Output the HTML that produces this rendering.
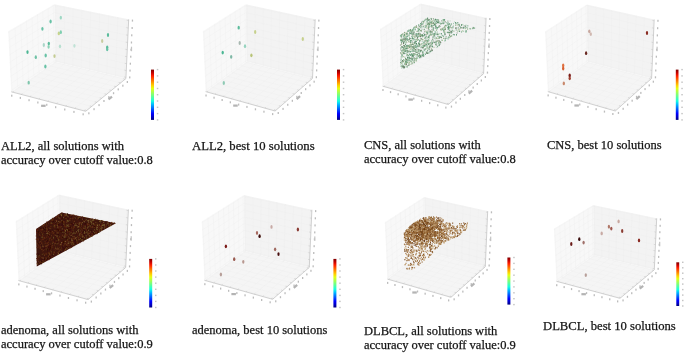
<!DOCTYPE html><html><head><meta charset="utf-8"><style>
html,body{margin:0;padding:0;background:#fff;width:685px;height:353px;overflow:hidden}
svg{position:absolute;left:0;top:0}
.c{position:absolute;will-change:transform;font-family:"Liberation Serif",serif;font-size:12.5px;line-height:14.4px;color:#151515;white-space:pre;-webkit-text-stroke:0.25px #151515}
</style></head><body>
<svg width="685" height="353" viewBox="0 0 685 353">
<defs><linearGradient id="jet" x1="0" y1="1" x2="0" y2="0"><stop offset="0.0000" stop-color="#00007f"/><stop offset="0.0625" stop-color="#0000c8"/><stop offset="0.1250" stop-color="#0000ff"/><stop offset="0.1875" stop-color="#0040ff"/><stop offset="0.2500" stop-color="#0080ff"/><stop offset="0.3125" stop-color="#00c0ff"/><stop offset="0.3750" stop-color="#15ffe1"/><stop offset="0.4375" stop-color="#49ffad"/><stop offset="0.5000" stop-color="#7cff79"/><stop offset="0.5625" stop-color="#b0ff46"/><stop offset="0.6250" stop-color="#e4ff12"/><stop offset="0.6875" stop-color="#ffcf00"/><stop offset="0.7500" stop-color="#ff9400"/><stop offset="0.8125" stop-color="#ff5900"/><stop offset="0.8750" stop-color="#ff1d00"/><stop offset="0.9375" stop-color="#c30000"/><stop offset="1.0000" stop-color="#7f0000"/></linearGradient><filter id="bl" x="-5%" y="-5%" width="110%" height="110%"><feGaussianBlur stdDeviation="0.35"/></filter></defs>
<polygon points="11.2,91.8 54.9,61.7 54.2,4.2 8.1,31.3" fill="#f8f8f8"/>
<polygon points="54.9,61.7 125.9,78.6 128.7,19.3 54.2,4.2" fill="#f3f3f3"/>
<polygon points="11.2,91.8 85.7,111.3 125.9,78.6 54.9,61.7" fill="#f5f5f5"/>
<g stroke="#ececec" stroke-width="0.25"><line x1="12.1" y1="91.1" x2="9.1" y2="30.7" /><line x1="11.1" y1="90.6" x2="54.9" y2="60.6" /><line x1="56.3" y1="62.1" x2="55.7" y2="4.5" /><line x1="54.9" y1="60.6" x2="125.9" y2="77.4" /><line x1="12.6" y1="92.2" x2="56.3" y2="62.1" /><line x1="12.1" y1="91.1" x2="86.6" y2="110.5" /><line x1="17.7" y1="87.3" x2="15" y2="27.2" /><line x1="10.7" y1="83.7" x2="54.8" y2="54" /><line x1="64.5" y1="64" x2="64.3" y2="6.2" /><line x1="54.8" y1="54" x2="126.3" y2="70.6" /><line x1="21.2" y1="94.4" x2="64.5" y2="64" /><line x1="17.7" y1="87.3" x2="91.7" y2="106.4" /><line x1="23.2" y1="83.5" x2="20.8" y2="23.8" /><line x1="10.4" y1="76.6" x2="54.7" y2="47.3" /><line x1="72.8" y1="66" x2="73" y2="8" /><line x1="54.7" y1="47.3" x2="126.6" y2="63.7" /><line x1="29.9" y1="96.7" x2="72.8" y2="66" /><line x1="23.2" y1="83.5" x2="96.8" y2="102.3" /><line x1="28.5" y1="79.9" x2="26.5" y2="20.5" /><line x1="10" y1="69.5" x2="54.6" y2="40.5" /><line x1="81.2" y1="68" x2="81.8" y2="9.8" /><line x1="54.6" y1="40.5" x2="126.9" y2="56.7" /><line x1="38.7" y1="99" x2="81.2" y2="68" /><line x1="28.5" y1="79.9" x2="101.7" y2="98.3" /><line x1="33.8" y1="76.2" x2="32" y2="17.2" /><line x1="9.7" y1="62.3" x2="54.5" y2="33.6" /><line x1="89.6" y1="70" x2="90.6" y2="11.6" /><line x1="54.5" y1="33.6" x2="127.3" y2="49.7" /><line x1="47.6" y1="101.3" x2="89.6" y2="70" /><line x1="33.8" y1="76.2" x2="106.5" y2="94.3" /><line x1="39" y1="72.7" x2="37.5" y2="14" /><line x1="9.3" y1="55" x2="54.4" y2="26.7" /><line x1="98.2" y1="72" x2="99.6" y2="13.4" /><line x1="54.4" y1="26.7" x2="127.6" y2="42.5" /><line x1="56.6" y1="103.7" x2="98.2" y2="72" /><line x1="39" y1="72.7" x2="111.3" y2="90.4" /><line x1="44.1" y1="69.2" x2="42.8" y2="10.9" /><line x1="8.9" y1="47.7" x2="54.4" y2="19.7" /><line x1="106.8" y1="74" x2="108.7" y2="15.3" /><line x1="54.4" y1="19.7" x2="128" y2="35.3" /><line x1="65.7" y1="106" x2="106.8" y2="74" /><line x1="44.1" y1="69.2" x2="116" y2="86.6" /><line x1="49.1" y1="65.7" x2="48.1" y2="7.8" /><line x1="8.6" y1="40.2" x2="54.3" y2="12.6" /><line x1="115.5" y1="76.1" x2="117.8" y2="17.1" /><line x1="54.3" y1="12.6" x2="128.3" y2="28" /><line x1="74.8" y1="108.4" x2="115.5" y2="76.1" /><line x1="49.1" y1="65.7" x2="120.6" y2="82.9" /><line x1="54" y1="62.3" x2="53.3" y2="4.7" /><line x1="8.2" y1="32.6" x2="54.2" y2="5.4" /><line x1="124.3" y1="78.2" x2="127.1" y2="19" /><line x1="54.2" y1="5.4" x2="128.7" y2="20.6" /><line x1="84.1" y1="110.9" x2="124.3" y2="78.2" /><line x1="54" y1="62.3" x2="125.1" y2="79.2" /></g>
<g stroke="#b4b4b4" stroke-width="0.6"><line x1="11.2" y1="91.8" x2="85.7" y2="111.3" /><line x1="85.7" y1="111.3" x2="125.9" y2="78.6" /><line x1="125.9" y1="78.6" x2="128.7" y2="19.3" /></g>
<g stroke="#c4c4c4" stroke-width="0.5"><line x1="12.6" y1="92.2" x2="13.8" y2="91.4" /><line x1="86.6" y1="110.5" x2="84.7" y2="110" /><line x1="125.9" y1="77.4" x2="124.1" y2="76.9" /><line x1="21.2" y1="94.4" x2="22.4" y2="93.6" /><line x1="91.7" y1="106.4" x2="89.8" y2="105.9" /><line x1="126.3" y1="70.6" x2="124.4" y2="70.1" /><line x1="29.9" y1="96.7" x2="31.1" y2="95.9" /><line x1="96.8" y1="102.3" x2="94.8" y2="101.8" /><line x1="126.6" y1="63.7" x2="124.7" y2="63.3" /><line x1="38.7" y1="99" x2="39.9" y2="98.2" /><line x1="101.7" y1="98.3" x2="99.8" y2="97.8" /><line x1="126.9" y1="56.7" x2="125" y2="56.3" /><line x1="47.6" y1="101.3" x2="48.7" y2="100.5" /><line x1="106.5" y1="94.3" x2="104.6" y2="93.8" /><line x1="127.3" y1="49.7" x2="125.4" y2="49.3" /><line x1="56.6" y1="103.7" x2="57.7" y2="102.8" /><line x1="111.3" y1="90.4" x2="109.4" y2="90" /><line x1="127.6" y1="42.5" x2="125.7" y2="42.1" /><line x1="65.7" y1="106" x2="66.8" y2="105.2" /><line x1="116" y1="86.6" x2="114.1" y2="86.2" /><line x1="128" y1="35.3" x2="126" y2="34.9" /><line x1="74.8" y1="108.4" x2="75.9" y2="107.6" /><line x1="120.6" y1="82.9" x2="118.7" y2="82.4" /><line x1="128.3" y1="28" x2="126.4" y2="27.6" /><line x1="84.1" y1="110.9" x2="85.2" y2="110" /><line x1="125.1" y1="79.2" x2="123.2" y2="78.8" /><line x1="128.7" y1="20.6" x2="126.7" y2="20.2" /></g>
<g fill="#bcbcbc"><rect x="11.1" y="94.7" width="1.3" height="2"/><rect x="88.2" y="112.3" width="1.3" height="2"/><rect x="129.1" y="76.4" width="1.3" height="2"/><rect x="19.7" y="96.9" width="1.3" height="2"/><rect x="93.4" y="108.2" width="1.3" height="2"/><rect x="129.4" y="69.6" width="1.3" height="2"/><rect x="28.4" y="99.2" width="1.3" height="2"/><rect x="98.4" y="104.1" width="1.3" height="2"/><rect x="129.7" y="62.7" width="1.3" height="2"/><rect x="37.2" y="101.5" width="1.3" height="2"/><rect x="103.3" y="100" width="1.3" height="2"/><rect x="130.1" y="55.7" width="1.3" height="2"/><rect x="46.1" y="103.8" width="1.3" height="2"/><rect x="108.2" y="96.1" width="1.3" height="2"/><rect x="130.4" y="48.7" width="1.3" height="2"/><rect x="55" y="106.2" width="1.3" height="2"/><rect x="112.9" y="92.2" width="1.3" height="2"/><rect x="130.8" y="41.5" width="1.3" height="2"/><rect x="64.1" y="108.5" width="1.3" height="2"/><rect x="117.6" y="88.4" width="1.3" height="2"/><rect x="131.1" y="34.3" width="1.3" height="2"/><rect x="73.3" y="110.9" width="1.3" height="2"/><rect x="122.2" y="84.7" width="1.3" height="2"/><rect x="131.5" y="27" width="1.3" height="2"/><rect x="82.5" y="113.3" width="1.3" height="2"/><rect x="126.7" y="81" width="1.3" height="2"/><rect x="131.8" y="19.6" width="1.3" height="2"/></g>
<rect x="41.1" y="104.7" width="4.5" height="2.2" fill="#b4b4b4"/>
<rect x="108" y="96.9" width="4.5" height="2.2" fill="#b4b4b4" transform="rotate(-39.2 110.3 98)"/>
<rect x="130.9" y="46.7" width="1.2" height="4.5" fill="#c4c4c4"/>
<polygon points="205.6,91.6 246.4,61.6 245.7,4.2 202.8,31.3" fill="#f8f8f8"/>
<polygon points="246.4,61.6 312.5,78.4 315.2,19.3 245.7,4.2" fill="#f3f3f3"/>
<polygon points="205.6,91.6 275.1,111 312.5,78.4 246.4,61.6" fill="#f5f5f5"/>
<g stroke="#ececec" stroke-width="0.25"><line x1="206.6" y1="90.9" x2="203.8" y2="30.7" /><line x1="205.6" y1="90.4" x2="246.4" y2="60.5" /><line x1="247.7" y1="62" x2="247.1" y2="4.5" /><line x1="246.4" y1="60.5" x2="312.6" y2="77.2" /><line x1="207" y1="92" x2="247.7" y2="62" /><line x1="206.6" y1="90.9" x2="275.9" y2="110.3" /><line x1="211.7" y1="87.1" x2="209.3" y2="27.2" /><line x1="205.3" y1="83.5" x2="246.3" y2="53.9" /><line x1="255.3" y1="63.9" x2="255.1" y2="6.3" /><line x1="246.3" y1="53.9" x2="312.9" y2="70.4" /><line x1="215" y1="94.2" x2="255.3" y2="63.9" /><line x1="211.7" y1="87.1" x2="280.7" y2="106.2" /><line x1="216.8" y1="83.4" x2="214.6" y2="23.8" /><line x1="204.9" y1="76.5" x2="246.2" y2="47.2" /><line x1="263.1" y1="65.9" x2="263.2" y2="8" /><line x1="246.2" y1="47.2" x2="313.2" y2="63.6" /><line x1="223.1" y1="96.5" x2="263.1" y2="65.9" /><line x1="216.8" y1="83.4" x2="285.4" y2="102.1" /><line x1="221.8" y1="79.7" x2="219.9" y2="20.5" /><line x1="204.6" y1="69.4" x2="246.1" y2="40.4" /><line x1="270.9" y1="67.8" x2="271.4" y2="9.8" /><line x1="246.1" y1="40.4" x2="313.5" y2="56.6" /><line x1="231.3" y1="98.8" x2="270.9" y2="67.8" /><line x1="221.8" y1="79.7" x2="290" y2="98.1" /><line x1="226.7" y1="76.1" x2="225.1" y2="17.2" /><line x1="204.3" y1="62.2" x2="246" y2="33.6" /><line x1="278.8" y1="69.8" x2="279.7" y2="11.6" /><line x1="246" y1="33.6" x2="313.8" y2="49.6" /><line x1="239.6" y1="101.1" x2="278.8" y2="69.8" /><line x1="226.7" y1="76.1" x2="294.5" y2="94.1" /><line x1="231.6" y1="72.5" x2="230.2" y2="14" /><line x1="203.9" y1="54.9" x2="246" y2="26.7" /><line x1="286.7" y1="71.9" x2="288.1" y2="13.4" /><line x1="246" y1="26.7" x2="314.1" y2="42.5" /><line x1="248" y1="103.5" x2="286.7" y2="71.9" /><line x1="231.6" y1="72.5" x2="298.9" y2="90.2" /><line x1="236.3" y1="69" x2="235.2" y2="10.9" /><line x1="203.6" y1="47.6" x2="245.9" y2="19.7" /><line x1="294.8" y1="73.9" x2="296.5" y2="15.3" /><line x1="245.9" y1="19.7" x2="314.4" y2="35.3" /><line x1="256.4" y1="105.8" x2="294.8" y2="73.9" /><line x1="236.3" y1="69" x2="303.3" y2="86.4" /><line x1="241" y1="65.6" x2="240.1" y2="7.8" /><line x1="203.2" y1="40.1" x2="245.8" y2="12.6" /><line x1="302.9" y1="76" x2="305" y2="17.1" /><line x1="245.8" y1="12.6" x2="314.8" y2="28" /><line x1="264.9" y1="108.2" x2="302.9" y2="76" /><line x1="241" y1="65.6" x2="307.6" y2="82.7" /><line x1="245.6" y1="62.2" x2="244.9" y2="4.7" /><line x1="202.9" y1="32.6" x2="245.7" y2="5.5" /><line x1="311.1" y1="78" x2="313.6" y2="19" /><line x1="245.7" y1="5.5" x2="315.1" y2="20.6" /><line x1="273.6" y1="110.6" x2="311.1" y2="78" /><line x1="245.6" y1="62.2" x2="311.8" y2="79" /></g>
<g stroke="#b4b4b4" stroke-width="0.6"><line x1="205.6" y1="91.6" x2="275.1" y2="111" /><line x1="275.1" y1="111" x2="312.5" y2="78.4" /><line x1="312.5" y1="78.4" x2="315.2" y2="19.3" /></g>
<g stroke="#c4c4c4" stroke-width="0.5"><line x1="207" y1="92" x2="208.1" y2="91.2" /><line x1="275.9" y1="110.3" x2="274.1" y2="109.8" /><line x1="312.6" y1="77.2" x2="310.8" y2="76.8" /><line x1="215" y1="94.2" x2="216.1" y2="93.4" /><line x1="280.7" y1="106.2" x2="278.9" y2="105.7" /><line x1="312.9" y1="70.4" x2="311.1" y2="70" /><line x1="223.1" y1="96.5" x2="224.2" y2="95.7" /><line x1="285.4" y1="102.1" x2="283.6" y2="101.6" /><line x1="313.2" y1="63.6" x2="311.4" y2="63.1" /><line x1="231.3" y1="98.8" x2="232.4" y2="98" /><line x1="290" y1="98.1" x2="288.2" y2="97.6" /><line x1="313.5" y1="56.6" x2="311.7" y2="56.2" /><line x1="239.6" y1="101.1" x2="240.7" y2="100.3" /><line x1="294.5" y1="94.1" x2="292.7" y2="93.6" /><line x1="313.8" y1="49.6" x2="312" y2="49.2" /><line x1="248" y1="103.5" x2="249" y2="102.6" /><line x1="298.9" y1="90.2" x2="297.2" y2="89.8" /><line x1="314.1" y1="42.5" x2="312.3" y2="42.1" /><line x1="256.4" y1="105.8" x2="257.4" y2="105" /><line x1="303.3" y1="86.4" x2="301.5" y2="86" /><line x1="314.4" y1="35.3" x2="312.7" y2="34.9" /><line x1="264.9" y1="108.2" x2="266" y2="107.3" /><line x1="307.6" y1="82.7" x2="305.8" y2="82.3" /><line x1="314.8" y1="28" x2="313" y2="27.6" /><line x1="273.6" y1="110.6" x2="274.6" y2="109.7" /><line x1="311.8" y1="79" x2="310.1" y2="78.6" /><line x1="315.1" y1="20.6" x2="313.3" y2="20.2" /></g>
<g fill="#bcbcbc"><rect x="205.4" y="94.5" width="1.3" height="2"/><rect x="277.6" y="112" width="1.3" height="2"/><rect x="315.7" y="76.2" width="1.3" height="2"/><rect x="213.4" y="96.7" width="1.3" height="2"/><rect x="282.4" y="107.9" width="1.3" height="2"/><rect x="316" y="69.4" width="1.3" height="2"/><rect x="221.5" y="99" width="1.3" height="2"/><rect x="287.1" y="103.8" width="1.3" height="2"/><rect x="316.3" y="62.6" width="1.3" height="2"/><rect x="229.7" y="101.3" width="1.3" height="2"/><rect x="291.7" y="99.8" width="1.3" height="2"/><rect x="316.6" y="55.6" width="1.3" height="2"/><rect x="238" y="103.6" width="1.3" height="2"/><rect x="296.2" y="95.8" width="1.3" height="2"/><rect x="316.9" y="48.6" width="1.3" height="2"/><rect x="246.3" y="105.9" width="1.3" height="2"/><rect x="300.6" y="92" width="1.3" height="2"/><rect x="317.3" y="41.5" width="1.3" height="2"/><rect x="254.8" y="108.3" width="1.3" height="2"/><rect x="305" y="88.2" width="1.3" height="2"/><rect x="317.6" y="34.3" width="1.3" height="2"/><rect x="263.3" y="110.7" width="1.3" height="2"/><rect x="309.3" y="84.4" width="1.3" height="2"/><rect x="317.9" y="27" width="1.3" height="2"/><rect x="272" y="113.1" width="1.3" height="2"/><rect x="313.5" y="80.7" width="1.3" height="2"/><rect x="318.2" y="19.6" width="1.3" height="2"/></g>
<rect x="233.2" y="104.5" width="4.5" height="2.2" fill="#b4b4b4"/>
<rect x="296.1" y="96.6" width="4.5" height="2.2" fill="#b4b4b4" transform="rotate(-41.1 298.3 97.7)"/>
<rect x="317.4" y="46.6" width="1.2" height="4.5" fill="#c4c4c4"/>
<polygon points="382.6,86.2 421.1,57.8 420.5,3.5 379.9,29.1" fill="#f8f8f8"/>
<polygon points="421.1,57.8 483.6,73.7 486.1,17.8 420.5,3.5" fill="#f3f3f3"/>
<polygon points="382.6,86.2 448.3,104.5 483.6,73.7 421.1,57.8" fill="#f5f5f5"/>
<g stroke="#ececec" stroke-width="0.25"><line x1="383.5" y1="85.5" x2="380.8" y2="28.5" /><line x1="382.6" y1="85" x2="421.1" y2="56.7" /><line x1="422.4" y1="58.1" x2="421.8" y2="3.8" /><line x1="421.1" y1="56.7" x2="483.7" y2="72.6" /><line x1="383.9" y1="86.5" x2="422.4" y2="58.1" /><line x1="383.5" y1="85.5" x2="449.1" y2="103.8" /><line x1="388.4" y1="81.9" x2="386" y2="25.3" /><line x1="382.3" y1="78.5" x2="421" y2="50.5" /><line x1="429.6" y1="60" x2="429.4" y2="5.5" /><line x1="421" y1="50.5" x2="484" y2="66.1" /><line x1="391.5" y1="88.6" x2="429.6" y2="60" /><line x1="388.4" y1="81.9" x2="453.6" y2="99.9" /><line x1="393.2" y1="78.4" x2="391.1" y2="22.1" /><line x1="381.9" y1="71.9" x2="421" y2="44.1" /><line x1="436.9" y1="61.8" x2="437" y2="7.1" /><line x1="421" y1="44.1" x2="484.3" y2="59.7" /><line x1="399.2" y1="90.8" x2="436.9" y2="61.8" /><line x1="393.2" y1="78.4" x2="458" y2="96" /><line x1="397.9" y1="74.9" x2="396.1" y2="18.9" /><line x1="381.6" y1="65.1" x2="420.9" y2="37.8" /><line x1="444.3" y1="63.7" x2="444.8" y2="8.8" /><line x1="420.9" y1="37.8" x2="484.6" y2="53.1" /><line x1="406.9" y1="93" x2="444.3" y2="63.7" /><line x1="397.9" y1="74.9" x2="462.3" y2="92.3" /><line x1="402.5" y1="71.5" x2="401" y2="15.8" /><line x1="381.3" y1="58.4" x2="420.8" y2="31.3" /><line x1="451.7" y1="65.6" x2="452.6" y2="10.5" /><line x1="420.8" y1="31.3" x2="484.9" y2="46.4" /><line x1="414.7" y1="95.1" x2="451.7" y2="65.6" /><line x1="402.5" y1="71.5" x2="466.6" y2="88.5" /><line x1="407.1" y1="68.1" x2="405.8" y2="12.8" /><line x1="381" y1="51.5" x2="420.7" y2="24.8" /><line x1="459.3" y1="67.5" x2="460.5" y2="12.2" /><line x1="420.7" y1="24.8" x2="485.2" y2="39.7" /><line x1="422.6" y1="97.4" x2="459.3" y2="67.5" /><line x1="407.1" y1="68.1" x2="470.8" y2="84.9" /><line x1="411.6" y1="64.8" x2="410.5" y2="9.8" /><line x1="380.7" y1="44.5" x2="420.7" y2="18.1" /><line x1="466.9" y1="69.4" x2="468.5" y2="14" /><line x1="420.7" y1="18.1" x2="485.5" y2="32.9" /><line x1="430.6" y1="99.6" x2="466.9" y2="69.4" /><line x1="411.6" y1="64.8" x2="474.9" y2="81.3" /><line x1="416" y1="61.5" x2="415.1" y2="6.9" /><line x1="380.3" y1="37.5" x2="420.6" y2="11.5" /><line x1="474.5" y1="71.4" x2="476.6" y2="15.7" /><line x1="420.6" y1="11.5" x2="485.8" y2="26" /><line x1="438.7" y1="101.9" x2="474.5" y2="71.4" /><line x1="416" y1="61.5" x2="479" y2="77.7" /><line x1="420.4" y1="58.3" x2="419.7" y2="4" /><line x1="380" y1="30.4" x2="420.5" y2="4.7" /><line x1="482.3" y1="73.3" x2="484.7" y2="17.5" /><line x1="420.5" y1="4.7" x2="486.1" y2="19" /><line x1="446.8" y1="104.1" x2="482.3" y2="73.3" /><line x1="420.4" y1="58.3" x2="482.9" y2="74.3" /></g>
<g stroke="#b4b4b4" stroke-width="0.6"><line x1="382.6" y1="86.2" x2="448.3" y2="104.5" /><line x1="448.3" y1="104.5" x2="483.6" y2="73.7" /><line x1="483.6" y1="73.7" x2="486.1" y2="17.8" /></g>
<g stroke="#c4c4c4" stroke-width="0.5"><line x1="383.9" y1="86.5" x2="385" y2="85.8" /><line x1="449.1" y1="103.8" x2="447.3" y2="103.4" /><line x1="483.7" y1="72.6" x2="482" y2="72.2" /><line x1="391.5" y1="88.6" x2="392.5" y2="87.9" /><line x1="453.6" y1="99.9" x2="451.9" y2="99.4" /><line x1="484" y1="66.1" x2="482.3" y2="65.7" /><line x1="399.2" y1="90.8" x2="400.2" y2="90" /><line x1="458" y1="96" x2="456.3" y2="95.6" /><line x1="484.3" y1="59.7" x2="482.6" y2="59.2" /><line x1="406.9" y1="93" x2="407.9" y2="92.2" /><line x1="462.3" y1="92.3" x2="460.7" y2="91.8" /><line x1="484.6" y1="53.1" x2="482.9" y2="52.7" /><line x1="414.7" y1="95.1" x2="415.7" y2="94.4" /><line x1="466.6" y1="88.5" x2="464.9" y2="88.1" /><line x1="484.9" y1="46.4" x2="483.2" y2="46" /><line x1="422.6" y1="97.4" x2="423.6" y2="96.6" /><line x1="470.8" y1="84.9" x2="469.1" y2="84.4" /><line x1="485.2" y1="39.7" x2="483.5" y2="39.3" /><line x1="430.6" y1="99.6" x2="431.6" y2="98.8" /><line x1="474.9" y1="81.3" x2="473.3" y2="80.8" /><line x1="485.5" y1="32.9" x2="483.8" y2="32.5" /><line x1="438.7" y1="101.9" x2="439.6" y2="101" /><line x1="479" y1="77.7" x2="477.3" y2="77.3" /><line x1="485.8" y1="26" x2="484.1" y2="25.6" /><line x1="446.8" y1="104.1" x2="447.8" y2="103.3" /><line x1="482.9" y1="74.3" x2="481.3" y2="73.9" /><line x1="486.1" y1="19" x2="484.4" y2="18.7" /></g>
<g fill="#bcbcbc"><rect x="382.3" y="89" width="1.3" height="2"/><rect x="450.8" y="105.6" width="1.3" height="2"/><rect x="486.8" y="71.6" width="1.3" height="2"/><rect x="389.9" y="91.1" width="1.3" height="2"/><rect x="455.3" y="101.6" width="1.3" height="2"/><rect x="487.1" y="65.1" width="1.3" height="2"/><rect x="397.5" y="93.3" width="1.3" height="2"/><rect x="459.7" y="97.8" width="1.3" height="2"/><rect x="487.4" y="58.7" width="1.3" height="2"/><rect x="405.3" y="95.4" width="1.3" height="2"/><rect x="464.1" y="94" width="1.3" height="2"/><rect x="487.7" y="52.1" width="1.3" height="2"/><rect x="413.1" y="97.6" width="1.3" height="2"/><rect x="468.3" y="90.2" width="1.3" height="2"/><rect x="488" y="45.4" width="1.3" height="2"/><rect x="421" y="99.8" width="1.3" height="2"/><rect x="472.5" y="86.6" width="1.3" height="2"/><rect x="488.3" y="38.7" width="1.3" height="2"/><rect x="429" y="102.1" width="1.3" height="2"/><rect x="476.6" y="83" width="1.3" height="2"/><rect x="488.6" y="31.9" width="1.3" height="2"/><rect x="437.1" y="104.3" width="1.3" height="2"/><rect x="480.7" y="79.5" width="1.3" height="2"/><rect x="488.9" y="25" width="1.3" height="2"/><rect x="445.2" y="106.6" width="1.3" height="2"/><rect x="484.7" y="76" width="1.3" height="2"/><rect x="489.2" y="18" width="1.3" height="2"/></g>
<rect x="408.4" y="98.5" width="4.5" height="2.2" fill="#b4b4b4"/>
<rect x="468.2" y="91" width="4.5" height="2.2" fill="#b4b4b4" transform="rotate(-41.1 470.4 92.1)"/>
<rect x="488.5" y="43.5" width="1.2" height="4.5" fill="#c4c4c4"/>
<polygon points="547.8,91.6 587.3,61.7 586.7,4.5 545,31.4" fill="#f8f8f8"/>
<polygon points="587.3,61.7 651.6,78.4 654.2,19.5 586.7,4.5" fill="#f3f3f3"/>
<polygon points="547.8,91.6 615.3,111 651.6,78.4 587.3,61.7" fill="#f5f5f5"/>
<g stroke="#ececec" stroke-width="0.25"><line x1="548.7" y1="90.9" x2="546" y2="30.8" /><line x1="547.7" y1="90.4" x2="587.3" y2="60.6" /><line x1="588.6" y1="62" x2="588.1" y2="4.8" /><line x1="587.3" y1="60.6" x2="651.7" y2="77.3" /><line x1="549.1" y1="92" x2="588.6" y2="62" /><line x1="548.7" y1="90.9" x2="616.1" y2="110.2" /><line x1="553.7" y1="87.1" x2="551.3" y2="27.4" /><line x1="547.4" y1="83.5" x2="587.3" y2="54" /><line x1="596.1" y1="64" x2="595.9" y2="6.5" /><line x1="587.3" y1="54" x2="652" y2="70.5" /><line x1="556.9" y1="94.2" x2="596.1" y2="64" /><line x1="553.7" y1="87.1" x2="620.7" y2="106.1" /><line x1="558.6" y1="83.4" x2="556.5" y2="24" /><line x1="547.1" y1="76.5" x2="587.2" y2="47.3" /><line x1="603.6" y1="65.9" x2="603.7" y2="8.3" /><line x1="587.2" y1="47.3" x2="652.3" y2="63.6" /><line x1="564.8" y1="96.5" x2="603.6" y2="65.9" /><line x1="558.6" y1="83.4" x2="625.3" y2="102" /><line x1="563.5" y1="79.7" x2="561.6" y2="20.7" /><line x1="546.8" y1="69.4" x2="587.1" y2="40.6" /><line x1="611.2" y1="67.9" x2="611.7" y2="10.1" /><line x1="587.1" y1="40.6" x2="652.6" y2="56.7" /><line x1="572.7" y1="98.8" x2="611.2" y2="67.9" /><line x1="563.5" y1="79.7" x2="629.7" y2="98" /><line x1="568.3" y1="76.1" x2="566.7" y2="17.5" /><line x1="546.4" y1="62.3" x2="587" y2="33.8" /><line x1="618.8" y1="69.9" x2="619.7" y2="11.8" /><line x1="587" y1="33.8" x2="652.9" y2="49.7" /><line x1="580.8" y1="101.1" x2="618.8" y2="69.9" /><line x1="568.3" y1="76.1" x2="634.1" y2="94.1" /><line x1="573" y1="72.6" x2="571.6" y2="14.3" /><line x1="546.1" y1="55" x2="587" y2="26.9" /><line x1="626.6" y1="71.9" x2="627.9" y2="13.7" /><line x1="587" y1="26.9" x2="653.2" y2="42.6" /><line x1="588.9" y1="103.4" x2="626.6" y2="71.9" /><line x1="573" y1="72.6" x2="638.4" y2="90.2" /><line x1="577.6" y1="69.1" x2="576.4" y2="11.1" /><line x1="545.8" y1="47.7" x2="586.9" y2="19.9" /><line x1="634.4" y1="73.9" x2="636.1" y2="15.5" /><line x1="586.9" y1="19.9" x2="653.5" y2="35.4" /><line x1="597.1" y1="105.8" x2="634.4" y2="73.9" /><line x1="577.6" y1="69.1" x2="642.7" y2="86.4" /><line x1="582.1" y1="65.6" x2="581.2" y2="8" /><line x1="545.4" y1="40.3" x2="586.8" y2="12.8" /><line x1="642.3" y1="76" x2="644.4" y2="17.3" /><line x1="586.8" y1="12.8" x2="653.8" y2="28.2" /><line x1="605.4" y1="108.1" x2="642.3" y2="76" /><line x1="582.1" y1="65.6" x2="646.8" y2="82.7" /><line x1="586.6" y1="62.3" x2="585.9" y2="5" /><line x1="545.1" y1="32.8" x2="586.7" y2="5.7" /><line x1="650.2" y1="78.1" x2="652.7" y2="19.2" /><line x1="586.7" y1="5.7" x2="654.1" y2="20.8" /><line x1="613.8" y1="110.5" x2="650.2" y2="78.1" /><line x1="586.6" y1="62.3" x2="650.9" y2="79.1" /></g>
<g stroke="#b4b4b4" stroke-width="0.6"><line x1="547.8" y1="91.6" x2="615.3" y2="111" /><line x1="615.3" y1="111" x2="651.6" y2="78.4" /><line x1="651.6" y1="78.4" x2="654.2" y2="19.5" /></g>
<g stroke="#c4c4c4" stroke-width="0.5"><line x1="549.1" y1="92" x2="550.2" y2="91.2" /><line x1="616.1" y1="110.2" x2="614.3" y2="109.7" /><line x1="651.7" y1="77.3" x2="650" y2="76.8" /><line x1="556.9" y1="94.2" x2="558" y2="93.4" /><line x1="620.7" y1="106.1" x2="619" y2="105.6" /><line x1="652" y1="70.5" x2="650.3" y2="70.1" /><line x1="564.8" y1="96.5" x2="565.8" y2="95.7" /><line x1="625.3" y1="102" x2="623.5" y2="101.5" /><line x1="652.3" y1="63.6" x2="650.6" y2="63.2" /><line x1="572.7" y1="98.8" x2="573.8" y2="97.9" /><line x1="629.7" y1="98" x2="628" y2="97.5" /><line x1="652.6" y1="56.7" x2="650.9" y2="56.3" /><line x1="580.8" y1="101.1" x2="581.8" y2="100.2" /><line x1="634.1" y1="94.1" x2="632.4" y2="93.6" /><line x1="652.9" y1="49.7" x2="651.2" y2="49.3" /><line x1="588.9" y1="103.4" x2="589.9" y2="102.6" /><line x1="638.4" y1="90.2" x2="636.7" y2="89.8" /><line x1="653.2" y1="42.6" x2="651.5" y2="42.2" /><line x1="597.1" y1="105.8" x2="598.1" y2="104.9" /><line x1="642.7" y1="86.4" x2="641" y2="86" /><line x1="653.5" y1="35.4" x2="651.8" y2="35" /><line x1="605.4" y1="108.1" x2="606.4" y2="107.3" /><line x1="646.8" y1="82.7" x2="645.1" y2="82.3" /><line x1="653.8" y1="28.2" x2="652.1" y2="27.8" /><line x1="613.8" y1="110.5" x2="614.8" y2="109.7" /><line x1="650.9" y1="79.1" x2="649.2" y2="78.6" /><line x1="654.1" y1="20.8" x2="652.4" y2="20.4" /></g>
<g fill="#bcbcbc"><rect x="547.5" y="94.4" width="1.3" height="2"/><rect x="617.8" y="111.9" width="1.3" height="2"/><rect x="654.8" y="76.3" width="1.3" height="2"/><rect x="555.3" y="96.7" width="1.3" height="2"/><rect x="622.5" y="107.8" width="1.3" height="2"/><rect x="655.1" y="69.5" width="1.3" height="2"/><rect x="563.1" y="98.9" width="1.3" height="2"/><rect x="627" y="103.7" width="1.3" height="2"/><rect x="655.4" y="62.6" width="1.3" height="2"/><rect x="571.1" y="101.2" width="1.3" height="2"/><rect x="631.5" y="99.7" width="1.3" height="2"/><rect x="655.7" y="55.7" width="1.3" height="2"/><rect x="579.1" y="103.5" width="1.3" height="2"/><rect x="635.9" y="95.8" width="1.3" height="2"/><rect x="656" y="48.7" width="1.3" height="2"/><rect x="587.3" y="105.9" width="1.3" height="2"/><rect x="640.2" y="91.9" width="1.3" height="2"/><rect x="656.3" y="41.6" width="1.3" height="2"/><rect x="595.5" y="108.2" width="1.3" height="2"/><rect x="644.4" y="88.1" width="1.3" height="2"/><rect x="656.7" y="34.4" width="1.3" height="2"/><rect x="603.8" y="110.6" width="1.3" height="2"/><rect x="648.6" y="84.4" width="1.3" height="2"/><rect x="657" y="27.2" width="1.3" height="2"/><rect x="612.2" y="113" width="1.3" height="2"/><rect x="652.7" y="80.7" width="1.3" height="2"/><rect x="657.3" y="19.8" width="1.3" height="2"/></g>
<rect x="574.4" y="104.4" width="4.5" height="2.2" fill="#b4b4b4"/>
<rect x="635.8" y="96.5" width="4.5" height="2.2" fill="#b4b4b4" transform="rotate(-41.8 638 97.6)"/>
<rect x="656.5" y="46.7" width="1.2" height="4.5" fill="#c4c4c4"/>
<polygon points="18.4,280.5 59.3,251 58.7,194.6 15.6,221.2" fill="#f8f8f8"/>
<polygon points="59.3,251 125.7,267.5 128.4,209.4 58.7,194.6" fill="#f3f3f3"/>
<polygon points="18.4,280.5 88.1,299.6 125.7,267.5 59.3,251" fill="#f5f5f5"/>
<g stroke="#ececec" stroke-width="0.25"><line x1="19.4" y1="279.8" x2="16.6" y2="220.6" /><line x1="18.4" y1="279.3" x2="59.3" y2="249.9" /><line x1="60.6" y1="251.3" x2="60.1" y2="194.9" /><line x1="59.3" y1="249.9" x2="125.8" y2="266.4" /><line x1="19.8" y1="280.9" x2="60.6" y2="251.3" /><line x1="19.4" y1="279.8" x2="89" y2="298.9" /><line x1="24.6" y1="276.1" x2="22.1" y2="217.2" /><line x1="18.1" y1="272.5" x2="59.2" y2="243.4" /><line x1="68.3" y1="253.3" x2="68.1" y2="196.6" /><line x1="59.2" y1="243.4" x2="126.1" y2="259.7" /><line x1="27.9" y1="283.1" x2="68.3" y2="253.3" /><line x1="24.6" y1="276.1" x2="93.8" y2="294.8" /><line x1="29.7" y1="272.4" x2="27.5" y2="213.9" /><line x1="17.7" y1="265.6" x2="59.2" y2="236.8" /><line x1="76.1" y1="255.2" x2="76.2" y2="198.3" /><line x1="59.2" y1="236.8" x2="126.4" y2="252.9" /><line x1="36" y1="285.3" x2="76.1" y2="255.2" /><line x1="29.7" y1="272.4" x2="98.5" y2="290.8" /><line x1="34.7" y1="268.8" x2="32.7" y2="210.6" /><line x1="17.4" y1="258.7" x2="59.1" y2="230.2" /><line x1="83.9" y1="257.1" x2="84.5" y2="200.1" /><line x1="59.1" y1="230.2" x2="126.7" y2="246.1" /><line x1="44.2" y1="287.6" x2="83.9" y2="257.1" /><line x1="34.7" y1="268.8" x2="103.1" y2="286.8" /><line x1="39.6" y1="265.2" x2="37.9" y2="207.4" /><line x1="17.1" y1="251.6" x2="59" y2="223.5" /><line x1="91.8" y1="259.1" x2="92.8" y2="201.8" /><line x1="59" y1="223.5" x2="127" y2="239.2" /><line x1="52.5" y1="289.9" x2="91.8" y2="259.1" /><line x1="39.6" y1="265.2" x2="107.6" y2="283" /><line x1="44.5" y1="261.7" x2="43" y2="204.2" /><line x1="16.7" y1="244.5" x2="58.9" y2="216.7" /><line x1="99.8" y1="261.1" x2="101.2" y2="203.6" /><line x1="58.9" y1="216.7" x2="127.3" y2="232.2" /><line x1="60.9" y1="292.2" x2="99.8" y2="261.1" /><line x1="44.5" y1="261.7" x2="112.1" y2="279.2" /><line x1="49.2" y1="258.3" x2="48.1" y2="201.1" /><line x1="16.4" y1="237.2" x2="58.8" y2="209.8" /><line x1="107.9" y1="263.1" x2="109.6" y2="205.4" /><line x1="58.8" y1="209.8" x2="127.6" y2="225.1" /><line x1="69.4" y1="294.5" x2="107.9" y2="263.1" /><line x1="49.2" y1="258.3" x2="116.5" y2="275.4" /><line x1="53.9" y1="254.9" x2="53" y2="198.1" /><line x1="16" y1="229.9" x2="58.8" y2="202.8" /><line x1="116" y1="265.1" x2="118.2" y2="207.3" /><line x1="58.8" y1="202.8" x2="128" y2="218" /><line x1="78" y1="296.8" x2="116" y2="265.1" /><line x1="53.9" y1="254.9" x2="120.7" y2="271.8" /><line x1="58.5" y1="251.6" x2="57.8" y2="195.1" /><line x1="15.7" y1="222.5" x2="58.7" y2="195.8" /><line x1="124.3" y1="267.2" x2="126.8" y2="209.1" /><line x1="58.7" y1="195.8" x2="128.3" y2="210.7" /><line x1="86.6" y1="299.2" x2="124.3" y2="267.2" /><line x1="58.5" y1="251.6" x2="125" y2="268.1" /></g>
<g stroke="#b4b4b4" stroke-width="0.6"><line x1="18.4" y1="280.5" x2="88.1" y2="299.6" /><line x1="88.1" y1="299.6" x2="125.7" y2="267.5" /><line x1="125.7" y1="267.5" x2="128.4" y2="209.4" /></g>
<g stroke="#c4c4c4" stroke-width="0.5"><line x1="19.8" y1="280.9" x2="20.9" y2="280.1" /><line x1="89" y1="298.9" x2="87.2" y2="298.4" /><line x1="125.8" y1="266.4" x2="124" y2="265.9" /><line x1="27.9" y1="283.1" x2="29" y2="282.3" /><line x1="93.8" y1="294.8" x2="92" y2="294.3" /><line x1="126.1" y1="259.7" x2="124.3" y2="259.3" /><line x1="36" y1="285.3" x2="37.1" y2="284.5" /><line x1="98.5" y1="290.8" x2="96.7" y2="290.3" /><line x1="126.4" y1="252.9" x2="124.6" y2="252.5" /><line x1="44.2" y1="287.6" x2="45.3" y2="286.8" /><line x1="103.1" y1="286.8" x2="101.3" y2="286.4" /><line x1="126.7" y1="246.1" x2="124.9" y2="245.7" /><line x1="52.5" y1="289.9" x2="53.6" y2="289" /><line x1="107.6" y1="283" x2="105.9" y2="282.5" /><line x1="127" y1="239.2" x2="125.2" y2="238.8" /><line x1="60.9" y1="292.2" x2="62" y2="291.3" /><line x1="112.1" y1="279.2" x2="110.3" y2="278.7" /><line x1="127.3" y1="232.2" x2="125.5" y2="231.8" /><line x1="69.4" y1="294.5" x2="70.4" y2="293.6" /><line x1="116.5" y1="275.4" x2="114.7" y2="275" /><line x1="127.6" y1="225.1" x2="125.9" y2="224.7" /><line x1="78" y1="296.8" x2="79" y2="296" /><line x1="120.7" y1="271.8" x2="119" y2="271.3" /><line x1="128" y1="218" x2="126.2" y2="217.6" /><line x1="86.6" y1="299.2" x2="87.6" y2="298.3" /><line x1="125" y1="268.1" x2="123.2" y2="267.7" /><line x1="128.3" y1="210.7" x2="126.5" y2="210.3" /></g>
<g fill="#bcbcbc"><rect x="18.2" y="283.4" width="1.3" height="2"/><rect x="90.7" y="300.6" width="1.3" height="2"/><rect x="128.9" y="265.4" width="1.3" height="2"/><rect x="26.3" y="285.6" width="1.3" height="2"/><rect x="95.5" y="296.5" width="1.3" height="2"/><rect x="129.2" y="258.7" width="1.3" height="2"/><rect x="34.4" y="287.8" width="1.3" height="2"/><rect x="100.2" y="292.5" width="1.3" height="2"/><rect x="129.5" y="251.9" width="1.3" height="2"/><rect x="42.6" y="290.1" width="1.3" height="2"/><rect x="104.8" y="288.6" width="1.3" height="2"/><rect x="129.8" y="245.1" width="1.3" height="2"/><rect x="50.9" y="292.3" width="1.3" height="2"/><rect x="109.3" y="284.7" width="1.3" height="2"/><rect x="130.1" y="238.2" width="1.3" height="2"/><rect x="59.3" y="294.6" width="1.3" height="2"/><rect x="113.8" y="280.9" width="1.3" height="2"/><rect x="130.5" y="231.2" width="1.3" height="2"/><rect x="67.8" y="297" width="1.3" height="2"/><rect x="118.1" y="277.2" width="1.3" height="2"/><rect x="130.8" y="224.1" width="1.3" height="2"/><rect x="76.4" y="299.3" width="1.3" height="2"/><rect x="122.4" y="273.5" width="1.3" height="2"/><rect x="131.1" y="217" width="1.3" height="2"/><rect x="85" y="301.7" width="1.3" height="2"/><rect x="126.7" y="269.9" width="1.3" height="2"/><rect x="131.5" y="209.7" width="1.3" height="2"/></g>
<rect x="46.1" y="293.2" width="4.5" height="2.2" fill="#b4b4b4"/>
<rect x="109.2" y="285.5" width="4.5" height="2.2" fill="#b4b4b4" transform="rotate(-40.5 111.4 286.6)"/>
<rect x="130.6" y="236.2" width="1.2" height="4.5" fill="#c4c4c4"/>
<polygon points="204.4,280.3 244.4,251.1 243.8,195.1 201.7,221.5" fill="#f8f8f8"/>
<polygon points="244.4,251.1 309.3,267.4 311.9,209.8 243.8,195.1" fill="#f3f3f3"/>
<polygon points="204.4,280.3 272.6,299.3 309.3,267.4 244.4,251.1" fill="#f5f5f5"/>
<g stroke="#ececec" stroke-width="0.25"><line x1="205.3" y1="279.7" x2="202.6" y2="220.9" /><line x1="204.4" y1="279.2" x2="244.4" y2="250" /><line x1="245.7" y1="251.4" x2="245.1" y2="195.4" /><line x1="244.4" y1="250" x2="309.4" y2="266.3" /><line x1="205.8" y1="280.7" x2="245.7" y2="251.4" /><line x1="205.3" y1="279.7" x2="273.4" y2="298.6" /><line x1="210.4" y1="275.9" x2="208" y2="217.5" /><line x1="204.1" y1="272.4" x2="244.3" y2="243.5" /><line x1="253.2" y1="253.3" x2="253" y2="197.1" /><line x1="244.3" y1="243.5" x2="309.7" y2="259.7" /><line x1="213.7" y1="282.9" x2="253.2" y2="253.3" /><line x1="210.4" y1="275.9" x2="278.1" y2="294.5" /><line x1="215.4" y1="272.3" x2="213.2" y2="214.2" /><line x1="203.7" y1="265.6" x2="244.3" y2="237" /><line x1="260.8" y1="255.2" x2="261" y2="198.8" /><line x1="244.3" y1="237" x2="310" y2="253" /><line x1="221.6" y1="285.1" x2="260.8" y2="255.2" /><line x1="215.4" y1="272.3" x2="282.7" y2="290.5" /><line x1="220.3" y1="268.7" x2="218.4" y2="211" /><line x1="203.4" y1="258.6" x2="244.2" y2="230.4" /><line x1="268.5" y1="257.1" x2="269" y2="200.5" /><line x1="244.2" y1="230.4" x2="310.3" y2="246.2" /><line x1="229.7" y1="287.3" x2="268.5" y2="257.1" /><line x1="220.3" y1="268.7" x2="287.2" y2="286.6" /><line x1="225.1" y1="265.2" x2="223.5" y2="207.8" /><line x1="203.1" y1="251.6" x2="244.1" y2="223.7" /><line x1="276.2" y1="259.1" x2="277.1" y2="202.3" /><line x1="244.1" y1="223.7" x2="310.6" y2="239.3" /><line x1="237.8" y1="289.6" x2="276.2" y2="259.1" /><line x1="225.1" y1="265.2" x2="291.7" y2="282.8" /><line x1="229.9" y1="261.7" x2="228.5" y2="204.7" /><line x1="202.7" y1="244.6" x2="244" y2="217" /><line x1="284" y1="261.1" x2="285.3" y2="204.1" /><line x1="244" y1="217" x2="310.9" y2="232.4" /><line x1="246" y1="291.9" x2="284" y2="261.1" /><line x1="229.9" y1="261.7" x2="296" y2="279" /><line x1="234.5" y1="258.3" x2="233.4" y2="201.6" /><line x1="202.4" y1="237.4" x2="243.9" y2="210.2" /><line x1="291.9" y1="263.1" x2="293.6" y2="205.9" /><line x1="243.9" y1="210.2" x2="311.2" y2="225.4" /><line x1="254.3" y1="294.2" x2="291.9" y2="263.1" /><line x1="234.5" y1="258.3" x2="300.3" y2="275.3" /><line x1="239.1" y1="254.9" x2="238.2" y2="198.6" /><line x1="202.1" y1="230.1" x2="243.9" y2="203.3" /><line x1="299.9" y1="265.1" x2="302" y2="207.7" /><line x1="243.9" y1="203.3" x2="311.6" y2="218.3" /><line x1="262.7" y1="296.5" x2="299.9" y2="265.1" /><line x1="239.1" y1="254.9" x2="304.5" y2="271.6" /><line x1="243.6" y1="251.6" x2="243" y2="195.6" /><line x1="201.7" y1="222.8" x2="243.8" y2="196.3" /><line x1="307.9" y1="267.1" x2="310.5" y2="209.5" /><line x1="243.8" y1="196.3" x2="311.9" y2="211.1" /><line x1="271.1" y1="298.9" x2="307.9" y2="267.1" /><line x1="243.6" y1="251.6" x2="308.6" y2="268.1" /></g>
<g stroke="#b4b4b4" stroke-width="0.6"><line x1="204.4" y1="280.3" x2="272.6" y2="299.3" /><line x1="272.6" y1="299.3" x2="309.3" y2="267.4" /><line x1="309.3" y1="267.4" x2="311.9" y2="209.8" /></g>
<g stroke="#c4c4c4" stroke-width="0.5"><line x1="205.8" y1="280.7" x2="206.9" y2="279.9" /><line x1="273.4" y1="298.6" x2="271.7" y2="298.1" /><line x1="309.4" y1="266.3" x2="307.7" y2="265.9" /><line x1="213.7" y1="282.9" x2="214.7" y2="282.1" /><line x1="278.1" y1="294.5" x2="276.4" y2="294" /><line x1="309.7" y1="259.7" x2="308" y2="259.3" /><line x1="221.6" y1="285.1" x2="222.7" y2="284.3" /><line x1="282.7" y1="290.5" x2="281" y2="290" /><line x1="310" y1="253" x2="308.3" y2="252.6" /><line x1="229.7" y1="287.3" x2="230.7" y2="286.5" /><line x1="287.2" y1="286.6" x2="285.5" y2="286.1" /><line x1="310.3" y1="246.2" x2="308.6" y2="245.8" /><line x1="237.8" y1="289.6" x2="238.8" y2="288.8" /><line x1="291.7" y1="282.8" x2="289.9" y2="282.3" /><line x1="310.6" y1="239.3" x2="308.9" y2="238.9" /><line x1="246" y1="291.9" x2="247" y2="291" /><line x1="296" y1="279" x2="294.3" y2="278.5" /><line x1="310.9" y1="232.4" x2="309.2" y2="232" /><line x1="254.3" y1="294.2" x2="255.3" y2="293.3" /><line x1="300.3" y1="275.3" x2="298.6" y2="274.8" /><line x1="311.2" y1="225.4" x2="309.5" y2="225" /><line x1="262.7" y1="296.5" x2="263.7" y2="295.7" /><line x1="304.5" y1="271.6" x2="302.8" y2="271.2" /><line x1="311.6" y1="218.3" x2="309.8" y2="217.9" /><line x1="271.1" y1="298.9" x2="272.1" y2="298" /><line x1="308.6" y1="268.1" x2="306.9" y2="267.6" /><line x1="311.9" y1="211.1" x2="310.1" y2="210.7" /></g>
<g fill="#bcbcbc"><rect x="204.2" y="283.2" width="1.3" height="2"/><rect x="275.1" y="300.3" width="1.3" height="2"/><rect x="312.5" y="265.3" width="1.3" height="2"/><rect x="212.1" y="285.4" width="1.3" height="2"/><rect x="279.8" y="296.2" width="1.3" height="2"/><rect x="312.8" y="258.7" width="1.3" height="2"/><rect x="220" y="287.6" width="1.3" height="2"/><rect x="284.4" y="292.2" width="1.3" height="2"/><rect x="313.1" y="252" width="1.3" height="2"/><rect x="228" y="289.8" width="1.3" height="2"/><rect x="288.9" y="288.3" width="1.3" height="2"/><rect x="313.5" y="245.2" width="1.3" height="2"/><rect x="236.2" y="292.1" width="1.3" height="2"/><rect x="293.4" y="284.5" width="1.3" height="2"/><rect x="313.8" y="238.3" width="1.3" height="2"/><rect x="244.4" y="294.3" width="1.3" height="2"/><rect x="297.7" y="280.7" width="1.3" height="2"/><rect x="314.1" y="231.4" width="1.3" height="2"/><rect x="252.7" y="296.6" width="1.3" height="2"/><rect x="302" y="277" width="1.3" height="2"/><rect x="314.4" y="224.4" width="1.3" height="2"/><rect x="261" y="299" width="1.3" height="2"/><rect x="306.2" y="273.4" width="1.3" height="2"/><rect x="314.7" y="217.3" width="1.3" height="2"/><rect x="269.5" y="301.3" width="1.3" height="2"/><rect x="310.3" y="269.8" width="1.3" height="2"/><rect x="315" y="210.1" width="1.3" height="2"/></g>
<rect x="231.4" y="293" width="4.5" height="2.2" fill="#b4b4b4"/>
<rect x="293.2" y="285.2" width="4.5" height="2.2" fill="#b4b4b4" transform="rotate(-40.9 295.5 286.3)"/>
<rect x="314.2" y="236.4" width="1.2" height="4.5" fill="#c4c4c4"/>
<polygon points="387.4,279.1 424.7,250.9 424.1,196.9 384.8,222.3" fill="#f8f8f8"/>
<polygon points="424.7,250.9 485.3,266.7 487.7,211.1 424.1,196.9" fill="#f3f3f3"/>
<polygon points="387.4,279.1 451,297.3 485.3,266.7 424.7,250.9" fill="#f5f5f5"/>
<g stroke="#ececec" stroke-width="0.25"><line x1="388.2" y1="278.4" x2="385.7" y2="221.8" /><line x1="387.3" y1="277.9" x2="424.7" y2="249.8" /><line x1="425.9" y1="251.2" x2="425.4" y2="197.2" /><line x1="424.7" y1="249.8" x2="485.4" y2="265.5" /><line x1="388.6" y1="279.4" x2="425.9" y2="251.2" /><line x1="388.2" y1="278.4" x2="451.8" y2="296.7" /><line x1="393" y1="274.8" x2="390.7" y2="218.5" /><line x1="387" y1="271.4" x2="424.6" y2="243.6" /><line x1="432.9" y1="253" x2="432.7" y2="198.8" /><line x1="424.6" y1="243.6" x2="485.6" y2="259.2" /><line x1="396" y1="281.5" x2="432.9" y2="253" /><line x1="393" y1="274.8" x2="456.2" y2="292.7" /><line x1="397.6" y1="271.3" x2="395.6" y2="215.3" /><line x1="386.7" y1="264.8" x2="424.5" y2="237.3" /><line x1="440" y1="254.9" x2="440.2" y2="200.5" /><line x1="424.5" y1="237.3" x2="485.9" y2="252.7" /><line x1="403.4" y1="283.7" x2="440" y2="254.9" /><line x1="397.6" y1="271.3" x2="460.5" y2="288.9" /><line x1="402.2" y1="267.9" x2="400.4" y2="212.2" /><line x1="386.4" y1="258.2" x2="424.5" y2="230.9" /><line x1="447.2" y1="256.7" x2="447.7" y2="202.2" /><line x1="424.5" y1="230.9" x2="486.2" y2="246.2" /><line x1="410.9" y1="285.8" x2="447.2" y2="256.7" /><line x1="402.2" y1="267.9" x2="464.7" y2="285.1" /><line x1="406.7" y1="264.5" x2="405.2" y2="209.1" /><line x1="386.1" y1="251.4" x2="424.4" y2="224.5" /><line x1="454.4" y1="258.6" x2="455.2" y2="203.9" /><line x1="424.4" y1="224.5" x2="486.5" y2="239.6" /><line x1="418.5" y1="288" x2="454.4" y2="258.6" /><line x1="406.7" y1="264.5" x2="468.8" y2="281.4" /><line x1="411.1" y1="261.1" x2="409.8" y2="206.1" /><line x1="385.8" y1="244.6" x2="424.3" y2="218" /><line x1="461.7" y1="260.5" x2="462.9" y2="205.6" /><line x1="424.3" y1="218" x2="486.8" y2="232.9" /><line x1="426.2" y1="290.2" x2="461.7" y2="260.5" /><line x1="411.1" y1="261.1" x2="472.9" y2="277.8" /><line x1="415.5" y1="257.8" x2="414.4" y2="203.2" /><line x1="385.5" y1="237.7" x2="424.3" y2="211.4" /><line x1="469" y1="262.4" x2="470.6" y2="207.3" /><line x1="424.3" y1="211.4" x2="487.1" y2="226.1" /><line x1="433.9" y1="292.4" x2="469" y2="262.4" /><line x1="415.5" y1="257.8" x2="476.9" y2="274.2" /><line x1="419.8" y1="254.6" x2="418.9" y2="200.2" /><line x1="385.2" y1="230.7" x2="424.2" y2="204.8" /><line x1="476.5" y1="264.4" x2="478.5" y2="209" /><line x1="424.2" y1="204.8" x2="487.4" y2="219.3" /><line x1="441.7" y1="294.7" x2="476.5" y2="264.4" /><line x1="419.8" y1="254.6" x2="480.8" y2="270.7" /><line x1="424" y1="251.4" x2="423.3" y2="197.4" /><line x1="384.8" y1="223.6" x2="424.1" y2="198.1" /><line x1="484" y1="266.3" x2="486.4" y2="210.8" /><line x1="424.1" y1="198.1" x2="487.7" y2="212.3" /><line x1="449.6" y1="296.9" x2="484" y2="266.3" /><line x1="424" y1="251.4" x2="484.6" y2="267.2" /></g>
<g stroke="#b4b4b4" stroke-width="0.6"><line x1="387.4" y1="279.1" x2="451" y2="297.3" /><line x1="451" y1="297.3" x2="485.3" y2="266.7" /><line x1="485.3" y1="266.7" x2="487.7" y2="211.1" /></g>
<g stroke="#c4c4c4" stroke-width="0.5"><line x1="388.6" y1="279.4" x2="389.6" y2="278.7" /><line x1="451.8" y1="296.7" x2="450.1" y2="296.2" /><line x1="485.4" y1="265.5" x2="483.8" y2="265.1" /><line x1="396" y1="281.5" x2="397" y2="280.8" /><line x1="456.2" y1="292.7" x2="454.5" y2="292.3" /><line x1="485.6" y1="259.2" x2="484.1" y2="258.8" /><line x1="403.4" y1="283.7" x2="404.4" y2="282.9" /><line x1="460.5" y1="288.9" x2="458.8" y2="288.4" /><line x1="485.9" y1="252.7" x2="484.3" y2="252.3" /><line x1="410.9" y1="285.8" x2="411.9" y2="285" /><line x1="464.7" y1="285.1" x2="463" y2="284.7" /><line x1="486.2" y1="246.2" x2="484.6" y2="245.8" /><line x1="418.5" y1="288" x2="419.5" y2="287.2" /><line x1="468.8" y1="281.4" x2="467.2" y2="281" /><line x1="486.5" y1="239.6" x2="484.9" y2="239.2" /><line x1="426.2" y1="290.2" x2="427.1" y2="289.4" /><line x1="472.9" y1="277.8" x2="471.3" y2="277.3" /><line x1="486.8" y1="232.9" x2="485.2" y2="232.5" /><line x1="433.9" y1="292.4" x2="434.8" y2="291.6" /><line x1="476.9" y1="274.2" x2="475.3" y2="273.8" /><line x1="487.1" y1="226.1" x2="485.5" y2="225.7" /><line x1="441.7" y1="294.7" x2="442.7" y2="293.9" /><line x1="480.8" y1="270.7" x2="479.2" y2="270.3" /><line x1="487.4" y1="219.3" x2="485.7" y2="218.9" /><line x1="449.6" y1="296.9" x2="450.6" y2="296.1" /><line x1="484.6" y1="267.2" x2="483.1" y2="266.8" /><line x1="487.7" y1="212.3" x2="486" y2="212" /></g>
<g fill="#bcbcbc"><rect x="387" y="281.9" width="1.3" height="2"/><rect x="453.5" y="298.3" width="1.3" height="2"/><rect x="488.5" y="264.5" width="1.3" height="2"/><rect x="394.3" y="284" width="1.3" height="2"/><rect x="457.9" y="294.4" width="1.3" height="2"/><rect x="488.8" y="258.2" width="1.3" height="2"/><rect x="401.8" y="286.1" width="1.3" height="2"/><rect x="462.2" y="290.6" width="1.3" height="2"/><rect x="489.1" y="251.7" width="1.3" height="2"/><rect x="409.3" y="288.3" width="1.3" height="2"/><rect x="466.4" y="286.8" width="1.3" height="2"/><rect x="489.4" y="245.2" width="1.3" height="2"/><rect x="416.9" y="290.5" width="1.3" height="2"/><rect x="470.6" y="283.1" width="1.3" height="2"/><rect x="489.6" y="238.6" width="1.3" height="2"/><rect x="424.5" y="292.7" width="1.3" height="2"/><rect x="474.6" y="279.5" width="1.3" height="2"/><rect x="489.9" y="231.9" width="1.3" height="2"/><rect x="432.3" y="294.9" width="1.3" height="2"/><rect x="478.6" y="275.9" width="1.3" height="2"/><rect x="490.2" y="225.1" width="1.3" height="2"/><rect x="440.1" y="297.1" width="1.3" height="2"/><rect x="482.5" y="272.4" width="1.3" height="2"/><rect x="490.5" y="218.3" width="1.3" height="2"/><rect x="448" y="299.4" width="1.3" height="2"/><rect x="486.4" y="268.9" width="1.3" height="2"/><rect x="490.8" y="211.3" width="1.3" height="2"/></g>
<rect x="412.3" y="291.4" width="4.5" height="2.2" fill="#b4b4b4"/>
<rect x="470.4" y="283.8" width="4.5" height="2.2" fill="#b4b4b4" transform="rotate(-41.8 472.7 284.9)"/>
<rect x="490.1" y="236.6" width="1.2" height="4.5" fill="#c4c4c4"/>
<polygon points="556.4,281.3 593.7,255.2 593.1,205.1 553.8,228.7" fill="#f8f8f8"/>
<polygon points="593.7,255.2 654.3,269.8 656.7,218.3 593.1,205.1" fill="#f3f3f3"/>
<polygon points="556.4,281.3 620,298.3 654.3,269.8 593.7,255.2" fill="#f5f5f5"/>
<g stroke="#ececec" stroke-width="0.25"><line x1="557.3" y1="280.8" x2="554.7" y2="228.2" /><line x1="556.4" y1="280.3" x2="593.7" y2="254.2" /><line x1="594.9" y1="255.5" x2="594.4" y2="205.3" /><line x1="593.7" y1="254.2" x2="654.3" y2="268.8" /><line x1="557.7" y1="281.7" x2="594.9" y2="255.5" /><line x1="557.3" y1="280.8" x2="620.8" y2="297.7" /><line x1="562" y1="277.4" x2="559.7" y2="225.2" /><line x1="556.1" y1="274.3" x2="593.6" y2="248.4" /><line x1="601.9" y1="257.2" x2="601.7" y2="206.9" /><line x1="593.6" y1="248.4" x2="654.6" y2="262.9" /><line x1="565" y1="283.6" x2="601.9" y2="257.2" /><line x1="562" y1="277.4" x2="625.1" y2="294" /><line x1="566.7" y1="274.2" x2="564.6" y2="222.2" /><line x1="555.8" y1="268.1" x2="593.6" y2="242.6" /><line x1="609" y1="258.9" x2="609.2" y2="208.4" /><line x1="593.6" y1="242.6" x2="654.9" y2="256.9" /><line x1="572.5" y1="285.6" x2="609" y2="258.9" /><line x1="566.7" y1="274.2" x2="629.4" y2="290.5" /><line x1="571.2" y1="271" x2="569.5" y2="219.3" /><line x1="555.5" y1="262" x2="593.5" y2="236.7" /><line x1="616.2" y1="260.6" x2="616.6" y2="210" /><line x1="593.5" y1="236.7" x2="655.2" y2="250.8" /><line x1="579.9" y1="287.6" x2="616.2" y2="260.6" /><line x1="571.2" y1="271" x2="633.6" y2="287" /><line x1="575.7" y1="267.8" x2="574.2" y2="216.4" /><line x1="555.2" y1="255.7" x2="593.4" y2="230.7" /><line x1="623.4" y1="262.4" x2="624.2" y2="211.5" /><line x1="593.4" y1="230.7" x2="655.4" y2="244.7" /><line x1="587.5" y1="289.6" x2="623.4" y2="262.4" /><line x1="575.7" y1="267.8" x2="637.8" y2="283.5" /><line x1="580.2" y1="264.7" x2="578.9" y2="213.6" /><line x1="554.9" y1="249.3" x2="593.3" y2="224.7" /><line x1="630.7" y1="264.1" x2="631.9" y2="213.1" /><line x1="593.3" y1="224.7" x2="655.7" y2="238.5" /><line x1="595.2" y1="291.7" x2="630.7" y2="264.1" /><line x1="580.2" y1="264.7" x2="641.8" y2="280.2" /><line x1="584.5" y1="261.6" x2="583.4" y2="210.9" /><line x1="554.5" y1="242.9" x2="593.3" y2="218.6" /><line x1="638" y1="265.9" x2="639.6" y2="214.7" /><line x1="593.3" y1="218.6" x2="656" y2="232.2" /><line x1="602.9" y1="293.7" x2="638" y2="265.9" /><line x1="584.5" y1="261.6" x2="645.8" y2="276.8" /><line x1="588.8" y1="258.6" x2="587.9" y2="208.2" /><line x1="554.2" y1="236.4" x2="593.2" y2="212.4" /><line x1="645.4" y1="267.7" x2="647.4" y2="216.3" /><line x1="593.2" y1="212.4" x2="656.3" y2="225.8" /><line x1="610.7" y1="295.8" x2="645.4" y2="267.7" /><line x1="588.8" y1="258.6" x2="649.7" y2="273.6" /><line x1="593" y1="255.7" x2="592.4" y2="205.5" /><line x1="553.9" y1="229.8" x2="593.1" y2="206.2" /><line x1="652.9" y1="269.5" x2="655.3" y2="218" /><line x1="593.1" y1="206.2" x2="656.6" y2="219.4" /><line x1="618.6" y1="297.9" x2="652.9" y2="269.5" /><line x1="593" y1="255.7" x2="653.6" y2="270.4" /></g>
<g stroke="#b4b4b4" stroke-width="0.6"><line x1="556.4" y1="281.3" x2="620" y2="298.3" /><line x1="620" y1="298.3" x2="654.3" y2="269.8" /><line x1="654.3" y1="269.8" x2="656.7" y2="218.3" /></g>
<g stroke="#c4c4c4" stroke-width="0.5"><line x1="557.7" y1="281.7" x2="558.7" y2="281" /><line x1="620.8" y1="297.7" x2="619.1" y2="297.2" /><line x1="654.3" y1="268.8" x2="652.7" y2="268.4" /><line x1="565" y1="283.6" x2="566" y2="282.9" /><line x1="625.1" y1="294" x2="623.5" y2="293.6" /><line x1="654.6" y1="262.9" x2="653" y2="262.5" /><line x1="572.5" y1="285.6" x2="573.4" y2="284.9" /><line x1="629.4" y1="290.5" x2="627.8" y2="290" /><line x1="654.9" y1="256.9" x2="653.3" y2="256.5" /><line x1="579.9" y1="287.6" x2="580.9" y2="286.9" /><line x1="633.6" y1="287" x2="632" y2="286.6" /><line x1="655.2" y1="250.8" x2="653.5" y2="250.5" /><line x1="587.5" y1="289.6" x2="588.5" y2="288.9" /><line x1="637.8" y1="283.5" x2="636.2" y2="283.1" /><line x1="655.4" y1="244.7" x2="653.8" y2="244.3" /><line x1="595.2" y1="291.7" x2="596.1" y2="290.9" /><line x1="641.8" y1="280.2" x2="640.2" y2="279.8" /><line x1="655.7" y1="238.5" x2="654.1" y2="238.1" /><line x1="602.9" y1="293.7" x2="603.8" y2="293" /><line x1="645.8" y1="276.8" x2="644.2" y2="276.4" /><line x1="656" y1="232.2" x2="654.4" y2="231.8" /><line x1="610.7" y1="295.8" x2="611.7" y2="295.1" /><line x1="649.7" y1="273.6" x2="648.2" y2="273.2" /><line x1="656.3" y1="225.8" x2="654.7" y2="225.5" /><line x1="618.6" y1="297.9" x2="619.5" y2="297.2" /><line x1="653.6" y1="270.4" x2="652" y2="270" /><line x1="656.6" y1="219.4" x2="655" y2="219.1" /></g>
<g fill="#bcbcbc"><rect x="556.1" y="284.2" width="1.3" height="2"/><rect x="622.4" y="299.4" width="1.3" height="2"/><rect x="657.5" y="267.8" width="1.3" height="2"/><rect x="563.5" y="286.1" width="1.3" height="2"/><rect x="626.8" y="295.8" width="1.3" height="2"/><rect x="657.7" y="261.9" width="1.3" height="2"/><rect x="570.9" y="288.1" width="1.3" height="2"/><rect x="631.1" y="292.2" width="1.3" height="2"/><rect x="658" y="255.9" width="1.3" height="2"/><rect x="578.4" y="290.1" width="1.3" height="2"/><rect x="635.3" y="288.7" width="1.3" height="2"/><rect x="658.3" y="249.8" width="1.3" height="2"/><rect x="585.9" y="292.1" width="1.3" height="2"/><rect x="639.4" y="285.3" width="1.3" height="2"/><rect x="658.6" y="243.7" width="1.3" height="2"/><rect x="593.6" y="294.2" width="1.3" height="2"/><rect x="643.5" y="281.9" width="1.3" height="2"/><rect x="658.9" y="237.5" width="1.3" height="2"/><rect x="601.3" y="296.2" width="1.3" height="2"/><rect x="647.5" y="278.6" width="1.3" height="2"/><rect x="659.2" y="231.2" width="1.3" height="2"/><rect x="609.1" y="298.3" width="1.3" height="2"/><rect x="651.4" y="275.3" width="1.3" height="2"/><rect x="659.5" y="224.8" width="1.3" height="2"/><rect x="617" y="300.4" width="1.3" height="2"/><rect x="655.2" y="272.1" width="1.3" height="2"/><rect x="659.8" y="218.4" width="1.3" height="2"/></g>
<rect x="581.4" y="293.1" width="4.5" height="2.2" fill="#b4b4b4"/>
<rect x="639.2" y="286.1" width="4.5" height="2.2" fill="#b4b4b4" transform="rotate(-39.7 641.5 287.2)"/>
<rect x="659.1" y="241.8" width="1.2" height="4.5" fill="#c4c4c4"/>
<rect x="151" y="69.6" width="3" height="50.3" fill="url(#jet)"/>
<g fill="#c4c4c4"><rect x="156.8" y="68.9" width="1.5" height="1.4"/><rect x="156.8" y="75.2" width="1.5" height="1.4"/><rect x="156.8" y="81.5" width="1.5" height="1.4"/><rect x="156.8" y="87.8" width="1.5" height="1.4"/><rect x="156.8" y="94" width="1.5" height="1.4"/><rect x="156.8" y="100.3" width="1.5" height="1.4"/><rect x="156.8" y="106.6" width="1.5" height="1.4"/><rect x="156.8" y="112.9" width="1.5" height="1.4"/><rect x="156.8" y="119.2" width="1.5" height="1.4"/></g>
<rect x="337" y="69.6" width="3" height="50.3" fill="url(#jet)"/>
<g fill="#c4c4c4"><rect x="342.8" y="68.9" width="1.5" height="1.4"/><rect x="342.8" y="75.2" width="1.5" height="1.4"/><rect x="342.8" y="81.5" width="1.5" height="1.4"/><rect x="342.8" y="87.8" width="1.5" height="1.4"/><rect x="342.8" y="94" width="1.5" height="1.4"/><rect x="342.8" y="100.3" width="1.5" height="1.4"/><rect x="342.8" y="106.6" width="1.5" height="1.4"/><rect x="342.8" y="112.9" width="1.5" height="1.4"/><rect x="342.8" y="119.2" width="1.5" height="1.4"/></g>
<rect x="675.8" y="69.6" width="2.7" height="50.3" fill="url(#jet)"/>
<g fill="#c4c4c4"><rect x="681.3" y="68.9" width="1.5" height="1.4"/><rect x="681.3" y="75.2" width="1.5" height="1.4"/><rect x="681.3" y="81.5" width="1.5" height="1.4"/><rect x="681.3" y="87.8" width="1.5" height="1.4"/><rect x="681.3" y="94" width="1.5" height="1.4"/><rect x="681.3" y="100.3" width="1.5" height="1.4"/><rect x="681.3" y="106.6" width="1.5" height="1.4"/><rect x="681.3" y="112.9" width="1.5" height="1.4"/><rect x="681.3" y="119.2" width="1.5" height="1.4"/></g>
<rect x="149.2" y="258.9" width="3" height="48.6" fill="url(#jet)"/>
<g fill="#c4c4c4"><rect x="155" y="258.2" width="1.5" height="1.4"/><rect x="155" y="264.3" width="1.5" height="1.4"/><rect x="155" y="270.3" width="1.5" height="1.4"/><rect x="155" y="276.4" width="1.5" height="1.4"/><rect x="155" y="282.5" width="1.5" height="1.4"/><rect x="155" y="288.6" width="1.5" height="1.4"/><rect x="155" y="294.7" width="1.5" height="1.4"/><rect x="155" y="300.7" width="1.5" height="1.4"/><rect x="155" y="306.8" width="1.5" height="1.4"/></g>
<rect x="333.4" y="258.9" width="3" height="48.6" fill="url(#jet)"/>
<g fill="#c4c4c4"><rect x="339.2" y="258.2" width="1.5" height="1.4"/><rect x="339.2" y="264.3" width="1.5" height="1.4"/><rect x="339.2" y="270.3" width="1.5" height="1.4"/><rect x="339.2" y="276.4" width="1.5" height="1.4"/><rect x="339.2" y="282.5" width="1.5" height="1.4"/><rect x="339.2" y="288.6" width="1.5" height="1.4"/><rect x="339.2" y="294.7" width="1.5" height="1.4"/><rect x="339.2" y="300.7" width="1.5" height="1.4"/><rect x="339.2" y="306.8" width="1.5" height="1.4"/></g>
<rect x="507.4" y="257.5" width="3" height="47.1" fill="url(#jet)"/>
<g fill="#c4c4c4"><rect x="513.2" y="256.8" width="1.5" height="1.4"/><rect x="513.2" y="262.7" width="1.5" height="1.4"/><rect x="513.2" y="268.6" width="1.5" height="1.4"/><rect x="513.2" y="274.5" width="1.5" height="1.4"/><rect x="513.2" y="280.4" width="1.5" height="1.4"/><rect x="513.2" y="286.2" width="1.5" height="1.4"/><rect x="513.2" y="292.1" width="1.5" height="1.4"/><rect x="513.2" y="298" width="1.5" height="1.4"/><rect x="513.2" y="303.9" width="1.5" height="1.4"/></g>
<rect x="676.3" y="262.3" width="2.9" height="43.7" fill="url(#jet)"/>
<g fill="#c4c4c4"><rect x="682" y="261.6" width="1.5" height="1.4"/><rect x="682" y="267.1" width="1.5" height="1.4"/><rect x="682" y="272.5" width="1.5" height="1.4"/><rect x="682" y="278" width="1.5" height="1.4"/><rect x="682" y="283.4" width="1.5" height="1.4"/><rect x="682" y="288.9" width="1.5" height="1.4"/><rect x="682" y="294.4" width="1.5" height="1.4"/><rect x="682" y="299.8" width="1.5" height="1.4"/><rect x="682" y="305.3" width="1.5" height="1.4"/></g>
<g filter="url(#bl)"><ellipse cx="60.8" cy="17.7" rx="1.15" ry="1.9" fill="#9fd8c4"/><ellipse cx="50.6" cy="21.5" rx="1.15" ry="1.9" fill="#68c2a6"/><ellipse cx="42.4" cy="28.8" rx="1.15" ry="1.9" fill="#68c2a6"/><ellipse cx="58.8" cy="33.4" rx="1.15" ry="1.9" fill="#c6d48c"/><ellipse cx="60.8" cy="32.2" rx="1.15" ry="1.9" fill="#7fcfb0"/><ellipse cx="43.8" cy="45" rx="1.15" ry="1.9" fill="#a9d6c8"/><ellipse cx="48.8" cy="43.6" rx="1.15" ry="1.9" fill="#5cbc9c"/><ellipse cx="48.6" cy="46.8" rx="1.15" ry="1.9" fill="#8fd2b8"/><ellipse cx="60" cy="46.3" rx="1.15" ry="1.9" fill="#b8e0d0"/><ellipse cx="74.4" cy="45.8" rx="1.15" ry="1.9" fill="#c0e2d6"/><ellipse cx="27.5" cy="52.1" rx="1.15" ry="1.9" fill="#4cb694"/><ellipse cx="35.8" cy="57.2" rx="1.15" ry="1.9" fill="#6fc2a6"/><ellipse cx="45.7" cy="55.5" rx="1.15" ry="1.9" fill="#68c2a6"/><ellipse cx="54.5" cy="56.1" rx="1.15" ry="1.9" fill="#c4cc94"/><ellipse cx="45.4" cy="66.5" rx="1.15" ry="1.9" fill="#68c2a6"/><ellipse cx="28.7" cy="82.7" rx="1.15" ry="1.9" fill="#7fc6ac"/><ellipse cx="108" cy="35" rx="1.15" ry="1.9" fill="#5cbc9c"/><ellipse cx="102.2" cy="41" rx="1.15" ry="1.9" fill="#c8cca0"/><ellipse cx="107.2" cy="47.3" rx="1.15" ry="1.9" fill="#5cbc9c"/><ellipse cx="107.2" cy="49.3" rx="1.15" ry="1.9" fill="#68c2a6"/></g>
<g filter="url(#bl)"><ellipse cx="238.7" cy="27.7" rx="1.15" ry="1.9" fill="#5cbc9c"/><ellipse cx="255.2" cy="32" rx="1.15" ry="1.9" fill="#c6d08c"/><ellipse cx="302.8" cy="39" rx="1.15" ry="1.9" fill="#c6d08c"/><ellipse cx="239.7" cy="43" rx="1.15" ry="1.9" fill="#a8b8b0"/><ellipse cx="245" cy="46.2" rx="1.15" ry="1.9" fill="#98d4c0"/><ellipse cx="222.7" cy="52.6" rx="1.15" ry="1.9" fill="#4cb694"/><ellipse cx="231.2" cy="56.8" rx="1.15" ry="1.9" fill="#7fb8a6"/><ellipse cx="251.4" cy="55.3" rx="1.15" ry="1.9" fill="#b8c478"/><ellipse cx="223.8" cy="83" rx="1.15" ry="1.9" fill="#8fcab4"/></g>
<g filter="url(#bl)"><ellipse cx="589.3" cy="31.3" rx="1.15" ry="1.9" fill="#c8a8a0"/><ellipse cx="590.8" cy="34.1" rx="1.15" ry="1.9" fill="#d0b8b0"/><ellipse cx="647" cy="33" rx="1.15" ry="1.9" fill="#8a2a20"/><ellipse cx="586.1" cy="53.2" rx="1.15" ry="1.9" fill="#6a2a24"/><ellipse cx="563.2" cy="65.5" rx="1.15" ry="1.9" fill="#e07040"/><ellipse cx="563.2" cy="68.5" rx="1.15" ry="1.9" fill="#d86030"/><ellipse cx="569.7" cy="75.5" rx="1.15" ry="1.9" fill="#7a1a18"/><ellipse cx="569.7" cy="78.3" rx="1.15" ry="1.9" fill="#a04030"/><ellipse cx="563.8" cy="83.4" rx="1.15" ry="1.9" fill="#c8886c"/></g>
<g filter="url(#bl)"><ellipse cx="271.5" cy="226.9" rx="1.15" ry="1.9" fill="#c8aaa6"/><ellipse cx="297.9" cy="229.5" rx="1.15" ry="1.9" fill="#8a3a34"/><ellipse cx="257" cy="232.9" rx="1.15" ry="1.9" fill="#a86a60"/><ellipse cx="259.6" cy="236.2" rx="1.15" ry="1.9" fill="#3a0a08"/><ellipse cx="225.9" cy="246.3" rx="1.15" ry="1.9" fill="#7a1a18"/><ellipse cx="275.1" cy="249.3" rx="1.15" ry="1.9" fill="#a06a60"/><ellipse cx="278.5" cy="254.1" rx="1.15" ry="1.9" fill="#4a1010"/><ellipse cx="234.2" cy="259.2" rx="1.15" ry="1.9" fill="#9a5a50"/><ellipse cx="243.3" cy="261.8" rx="1.15" ry="1.9" fill="#b89890"/><ellipse cx="220.9" cy="274.5" rx="1.15" ry="1.9" fill="#b8a09a"/></g>
<g filter="url(#bl)"><ellipse cx="618.6" cy="221.4" rx="1.15" ry="1.9" fill="#c8a8a0"/><ellipse cx="608.9" cy="226.7" rx="1.15" ry="1.9" fill="#b07868"/><ellipse cx="611.3" cy="228.6" rx="1.15" ry="1.9" fill="#a05a50"/><ellipse cx="622.2" cy="231" rx="1.15" ry="1.9" fill="#8a3a30"/><ellipse cx="601.7" cy="233.4" rx="1.15" ry="1.9" fill="#c8aaa4"/><ellipse cx="639" cy="240.4" rx="1.15" ry="1.9" fill="#8a2a24"/><ellipse cx="579.3" cy="239.2" rx="1.15" ry="1.9" fill="#3a1010"/><ellipse cx="571.3" cy="244" rx="1.15" ry="1.9" fill="#6a1a18"/><ellipse cx="583.6" cy="242.6" rx="1.15" ry="1.9" fill="#a0706a"/><ellipse cx="585.8" cy="275.1" rx="1.15" ry="1.9" fill="#b8a09a"/></g>
<g filter="url(#bl)">
<polygon points="36,229 61.4,212.6 116,223.2 36.8,266.6" fill="#3e1209"/>
<rect x="79.5" y="235.5" width="0.9" height="1.2" fill="#5e2c14"/><rect x="61.2" y="220.3" width="0.9" height="1.2" fill="#5a3016"/><rect x="85.1" y="228.2" width="0.9" height="1.2" fill="#663418"/><rect x="56.2" y="241.5" width="0.9" height="1.2" fill="#2e0a06"/><rect x="76" y="215.5" width="0.9" height="1.2" fill="#5a3016"/><rect x="75.1" y="242.6" width="0.9" height="1.2" fill="#2e0a06"/><rect x="44.1" y="223.9" width="0.9" height="1.2" fill="#5e2c14"/><rect x="51.7" y="246.6" width="0.9" height="1.2" fill="#52240f"/><rect x="60.8" y="226" width="0.9" height="1.2" fill="#663418"/><rect x="79.1" y="216.4" width="0.9" height="1.2" fill="#52240f"/><rect x="53.2" y="252.3" width="0.9" height="1.2" fill="#52240f"/><rect x="49.1" y="227.8" width="0.9" height="1.2" fill="#5a3016"/><rect x="64.1" y="214.5" width="0.9" height="1.2" fill="#5e2c14"/><rect x="81.4" y="233.3" width="0.9" height="1.2" fill="#2e0a06"/><rect x="64" y="223.5" width="0.9" height="1.2" fill="#5e2c14"/><rect x="88.5" y="232.9" width="0.9" height="1.2" fill="#663418"/><rect x="68.7" y="230.9" width="0.9" height="1.2" fill="#663418"/><rect x="86" y="230.5" width="0.9" height="1.2" fill="#5e2c14"/><rect x="60.6" y="214.3" width="0.9" height="1.2" fill="#5a3016"/><rect x="88.2" y="223.6" width="0.9" height="1.2" fill="#5e2c14"/><rect x="81.5" y="237.7" width="0.9" height="1.2" fill="#2e0a06"/><rect x="79" y="223.9" width="0.9" height="1.2" fill="#52240f"/><rect x="61.3" y="233.5" width="0.9" height="1.2" fill="#2e0a06"/><rect x="55.2" y="222.1" width="0.9" height="1.2" fill="#5a3016"/><rect x="103.7" y="223.5" width="0.9" height="1.2" fill="#5a3016"/><rect x="105.1" y="226.9" width="0.9" height="1.2" fill="#52240f"/><rect x="76" y="230.1" width="0.9" height="1.2" fill="#2e0a06"/><rect x="48.5" y="259" width="0.9" height="1.2" fill="#52240f"/><rect x="39.7" y="245.7" width="0.9" height="1.2" fill="#663418"/><rect x="38" y="231.3" width="0.9" height="1.2" fill="#2e0a06"/><rect x="67.2" y="248.1" width="0.9" height="1.2" fill="#5a3016"/><rect x="35.8" y="235.4" width="0.9" height="1.2" fill="#5e2c14"/><rect x="71.4" y="223.2" width="0.9" height="1.2" fill="#2e0a06"/><rect x="76.2" y="240.4" width="0.9" height="1.2" fill="#5a3016"/><rect x="94.4" y="222" width="0.9" height="1.2" fill="#52240f"/><rect x="36.3" y="232.1" width="0.9" height="1.2" fill="#663418"/><rect x="62.1" y="238" width="0.9" height="1.2" fill="#52240f"/><rect x="48.7" y="256.7" width="0.9" height="1.2" fill="#663418"/><rect x="43.7" y="247.7" width="0.9" height="1.2" fill="#2e0a06"/><rect x="51.6" y="233" width="0.9" height="1.2" fill="#52240f"/><rect x="76" y="223.8" width="0.9" height="1.2" fill="#5a3016"/><rect x="69" y="242.4" width="0.9" height="1.2" fill="#52240f"/><rect x="46.1" y="230.7" width="0.9" height="1.2" fill="#5a3016"/><rect x="43.4" y="224.2" width="0.9" height="1.2" fill="#5a3016"/><rect x="63.5" y="242.7" width="0.9" height="1.2" fill="#663418"/><rect x="41.5" y="229.6" width="0.9" height="1.2" fill="#663418"/><rect x="70.4" y="223.9" width="0.9" height="1.2" fill="#663418"/><rect x="111.3" y="221.9" width="0.9" height="1.2" fill="#663418"/><rect x="97.1" y="229.9" width="0.9" height="1.2" fill="#52240f"/><rect x="47.6" y="221.4" width="0.9" height="1.2" fill="#5a3016"/><rect x="66" y="221.6" width="0.9" height="1.2" fill="#5a3016"/><rect x="73.3" y="226" width="0.9" height="1.2" fill="#5e2c14"/><rect x="53.4" y="252.5" width="0.9" height="1.2" fill="#663418"/><rect x="45.2" y="257.3" width="0.9" height="1.2" fill="#5e2c14"/><rect x="93.6" y="233.1" width="0.9" height="1.2" fill="#52240f"/><rect x="59.3" y="221.5" width="0.9" height="1.2" fill="#5e2c14"/><rect x="54.9" y="223.2" width="0.9" height="1.2" fill="#663418"/><rect x="63.6" y="231.6" width="0.9" height="1.2" fill="#5e2c14"/><rect x="73.8" y="216.7" width="0.9" height="1.2" fill="#5e2c14"/><rect x="93.8" y="223.8" width="0.9" height="1.2" fill="#2e0a06"/><rect x="41.4" y="245.7" width="0.9" height="1.2" fill="#5a3016"/><rect x="39.8" y="235.3" width="0.9" height="1.2" fill="#5e2c14"/><rect x="72.6" y="238.4" width="0.9" height="1.2" fill="#52240f"/><rect x="55.5" y="219.7" width="0.9" height="1.2" fill="#5e2c14"/><rect x="65.4" y="217.2" width="0.9" height="1.2" fill="#52240f"/><rect x="45.6" y="225.6" width="0.9" height="1.2" fill="#663418"/><rect x="75.8" y="232.4" width="0.9" height="1.2" fill="#5e2c14"/><rect x="80.1" y="231.3" width="0.9" height="1.2" fill="#5a3016"/><rect x="95.2" y="231.7" width="0.9" height="1.2" fill="#663418"/><rect x="49.2" y="230.6" width="0.9" height="1.2" fill="#52240f"/><rect x="49.7" y="244.6" width="0.9" height="1.2" fill="#2e0a06"/><rect x="72.7" y="234.4" width="0.9" height="1.2" fill="#5e2c14"/><rect x="87.5" y="222.9" width="0.9" height="1.2" fill="#52240f"/><rect x="61" y="247.2" width="0.9" height="1.2" fill="#5e2c14"/><rect x="46.3" y="225.2" width="0.9" height="1.2" fill="#52240f"/><rect x="74" y="220.7" width="0.9" height="1.2" fill="#5a3016"/><rect x="38.2" y="254.4" width="0.9" height="1.2" fill="#2e0a06"/><rect x="43.4" y="260.8" width="0.9" height="1.2" fill="#52240f"/><rect x="55.1" y="246.6" width="0.9" height="1.2" fill="#5e2c14"/><rect x="40.6" y="228.7" width="0.9" height="1.2" fill="#2e0a06"/><rect x="100.6" y="229.6" width="0.9" height="1.2" fill="#52240f"/><rect x="42.1" y="238.4" width="0.9" height="1.2" fill="#52240f"/><rect x="91.1" y="219.5" width="0.9" height="1.2" fill="#5a3016"/><rect x="46" y="223.6" width="0.9" height="1.2" fill="#5a3016"/><rect x="62.8" y="223.9" width="0.9" height="1.2" fill="#2e0a06"/><rect x="57.2" y="236.7" width="0.9" height="1.2" fill="#52240f"/><rect x="59.6" y="239.6" width="0.9" height="1.2" fill="#2e0a06"/><rect x="52.1" y="219.3" width="0.9" height="1.2" fill="#663418"/><rect x="47.9" y="252.4" width="0.9" height="1.2" fill="#663418"/><rect x="81.3" y="232.1" width="0.9" height="1.2" fill="#663418"/><rect x="65" y="248.7" width="0.9" height="1.2" fill="#5e2c14"/><rect x="52.2" y="241.5" width="0.9" height="1.2" fill="#5a3016"/><rect x="63.9" y="222.4" width="0.9" height="1.2" fill="#52240f"/><rect x="55" y="240.3" width="0.9" height="1.2" fill="#5a3016"/><rect x="99.7" y="220.5" width="0.9" height="1.2" fill="#5a3016"/><rect x="40.8" y="229.1" width="0.9" height="1.2" fill="#5e2c14"/><rect x="43.6" y="228.5" width="0.9" height="1.2" fill="#52240f"/><rect x="50.4" y="243.3" width="0.9" height="1.2" fill="#5e2c14"/><rect x="37.8" y="239.5" width="0.9" height="1.2" fill="#5e2c14"/><rect x="86" y="235.8" width="0.9" height="1.2" fill="#2e0a06"/><rect x="39.6" y="247.8" width="0.9" height="1.2" fill="#5a3016"/><rect x="46.7" y="230" width="0.9" height="1.2" fill="#2e0a06"/><rect x="51.9" y="228" width="0.9" height="1.2" fill="#52240f"/><rect x="49" y="252.2" width="0.9" height="1.2" fill="#52240f"/><rect x="57" y="235.3" width="0.9" height="1.2" fill="#5e2c14"/><rect x="66.7" y="241.4" width="0.9" height="1.2" fill="#2e0a06"/><rect x="46.8" y="228.5" width="0.9" height="1.2" fill="#663418"/><rect x="38.9" y="232.1" width="0.9" height="1.2" fill="#52240f"/><rect x="54.7" y="249.4" width="0.9" height="1.2" fill="#5a3016"/><rect x="82.8" y="220.5" width="0.9" height="1.2" fill="#663418"/><rect x="46.8" y="225" width="0.9" height="1.2" fill="#52240f"/><rect x="57.6" y="215.8" width="0.9" height="1.2" fill="#663418"/><rect x="43.8" y="237.6" width="0.9" height="1.2" fill="#5a3016"/><rect x="41.2" y="261" width="0.9" height="1.2" fill="#2e0a06"/><rect x="35.8" y="238.7" width="0.9" height="1.2" fill="#5a3016"/><rect x="46.5" y="229.2" width="0.9" height="1.2" fill="#5e2c14"/><rect x="46.5" y="235.1" width="0.9" height="1.2" fill="#52240f"/><rect x="42.5" y="257.2" width="0.9" height="1.2" fill="#663418"/><rect x="58" y="226.5" width="0.9" height="1.2" fill="#663418"/><rect x="59.8" y="227" width="0.9" height="1.2" fill="#5e2c14"/><rect x="48.3" y="258.7" width="0.9" height="1.2" fill="#5e2c14"/><rect x="64.3" y="230" width="0.9" height="1.2" fill="#5e2c14"/><rect x="105.3" y="225.9" width="0.9" height="1.2" fill="#5a3016"/><rect x="68.5" y="223.7" width="0.9" height="1.2" fill="#5a3016"/><rect x="54.6" y="253.2" width="0.9" height="1.2" fill="#52240f"/><rect x="46.6" y="228.4" width="0.9" height="1.2" fill="#5a3016"/><rect x="42.2" y="225.1" width="0.9" height="1.2" fill="#5e2c14"/><rect x="52.3" y="244.9" width="0.9" height="1.2" fill="#663418"/><rect x="82.2" y="236.6" width="0.9" height="1.2" fill="#663418"/><rect x="59.6" y="243.3" width="0.9" height="1.2" fill="#52240f"/><rect x="55.2" y="223" width="0.9" height="1.2" fill="#2e0a06"/><rect x="62.3" y="234.9" width="0.9" height="1.2" fill="#663418"/><rect x="60.7" y="237.8" width="0.9" height="1.2" fill="#52240f"/><rect x="93.7" y="229.5" width="0.9" height="1.2" fill="#5a3016"/><rect x="72.6" y="217.9" width="0.9" height="1.2" fill="#52240f"/><rect x="95.1" y="218.7" width="0.9" height="1.2" fill="#5a3016"/><rect x="52.9" y="241.6" width="0.9" height="1.2" fill="#52240f"/><rect x="75.9" y="239.1" width="0.9" height="1.2" fill="#5e2c14"/><rect x="51.4" y="245.5" width="0.9" height="1.2" fill="#663418"/><rect x="67.9" y="225.3" width="0.9" height="1.2" fill="#5a3016"/><rect x="73.1" y="218.1" width="0.9" height="1.2" fill="#52240f"/><rect x="70.9" y="227.9" width="0.9" height="1.2" fill="#52240f"/><rect x="99.4" y="230.5" width="0.9" height="1.2" fill="#52240f"/><rect x="92" y="226.1" width="0.9" height="1.2" fill="#5e2c14"/><rect x="93.9" y="224.3" width="0.9" height="1.2" fill="#5e2c14"/><rect x="37.6" y="253" width="0.9" height="1.2" fill="#2e0a06"/><rect x="79.6" y="222.5" width="0.9" height="1.2" fill="#5e2c14"/><rect x="69" y="246.8" width="0.9" height="1.2" fill="#52240f"/><rect x="57.1" y="237.9" width="0.9" height="1.2" fill="#5a3016"/><rect x="71.1" y="231.6" width="0.9" height="1.2" fill="#2e0a06"/><rect x="66.8" y="239.1" width="0.9" height="1.2" fill="#2e0a06"/><rect x="68" y="224.3" width="0.9" height="1.2" fill="#52240f"/><rect x="91.9" y="235.3" width="0.9" height="1.2" fill="#5a3016"/><rect x="88.4" y="220.1" width="0.9" height="1.2" fill="#5e2c14"/><rect x="49.8" y="251" width="0.9" height="1.2" fill="#52240f"/><rect x="52.6" y="231.9" width="0.9" height="1.2" fill="#5e2c14"/><rect x="73.9" y="220.8" width="0.9" height="1.2" fill="#663418"/><rect x="82.6" y="235.1" width="0.9" height="1.2" fill="#663418"/><rect x="53" y="251.9" width="0.9" height="1.2" fill="#52240f"/><rect x="43.4" y="225.1" width="0.9" height="1.2" fill="#663418"/><rect x="48.4" y="255.9" width="0.9" height="1.2" fill="#2e0a06"/><rect x="90.9" y="235.5" width="0.9" height="1.2" fill="#52240f"/><rect x="86.3" y="228.7" width="0.9" height="1.2" fill="#52240f"/><rect x="90.7" y="223.5" width="0.9" height="1.2" fill="#5a3016"/><rect x="61.6" y="234.3" width="0.9" height="1.2" fill="#5e2c14"/><rect x="93.2" y="222.6" width="0.9" height="1.2" fill="#5e2c14"/><rect x="71.5" y="237.4" width="0.9" height="1.2" fill="#52240f"/><rect x="77.5" y="218" width="0.9" height="1.2" fill="#52240f"/><rect x="36.9" y="263.2" width="0.9" height="1.2" fill="#52240f"/><rect x="52.6" y="246.7" width="0.9" height="1.2" fill="#52240f"/><rect x="72.3" y="231.9" width="0.9" height="1.2" fill="#663418"/><rect x="95.5" y="224.3" width="0.9" height="1.2" fill="#5e2c14"/><rect x="54.5" y="232.5" width="0.9" height="1.2" fill="#2e0a06"/><rect x="66" y="244.4" width="0.9" height="1.2" fill="#5a3016"/><rect x="56.2" y="236.1" width="0.9" height="1.2" fill="#663418"/><rect x="50.8" y="243.8" width="0.9" height="1.2" fill="#2e0a06"/><rect x="53.9" y="227" width="0.9" height="1.2" fill="#5e2c14"/><rect x="49.5" y="237.6" width="0.9" height="1.2" fill="#663418"/><rect x="87.1" y="225.4" width="0.9" height="1.2" fill="#5a3016"/><rect x="78.5" y="234.7" width="0.9" height="1.2" fill="#5a3016"/><rect x="53.7" y="251" width="0.9" height="1.2" fill="#5e2c14"/><rect x="70.4" y="214.9" width="0.9" height="1.2" fill="#5a3016"/><rect x="67.4" y="219.6" width="0.9" height="1.2" fill="#5e2c14"/><rect x="67.1" y="228" width="0.9" height="1.2" fill="#2e0a06"/><rect x="101.2" y="223.6" width="0.9" height="1.2" fill="#52240f"/><rect x="60.5" y="245.6" width="0.9" height="1.2" fill="#52240f"/><rect x="97.6" y="225.8" width="0.9" height="1.2" fill="#5e2c14"/><rect x="82.4" y="230" width="0.9" height="1.2" fill="#5e2c14"/><rect x="79" y="217.9" width="0.9" height="1.2" fill="#2e0a06"/><rect x="87.1" y="229.4" width="0.9" height="1.2" fill="#2e0a06"/><rect x="51.3" y="239.1" width="0.9" height="1.2" fill="#663418"/><rect x="94" y="220.5" width="0.9" height="1.2" fill="#5e2c14"/><rect x="46.5" y="230.4" width="0.9" height="1.2" fill="#5a3016"/><rect x="96.2" y="228.8" width="0.9" height="1.2" fill="#52240f"/><rect x="73.4" y="226.6" width="0.9" height="1.2" fill="#5e2c14"/><rect x="59.6" y="251.5" width="0.9" height="1.2" fill="#2e0a06"/><rect x="71.7" y="231.7" width="0.9" height="1.2" fill="#2e0a06"/><rect x="65.3" y="240.7" width="0.9" height="1.2" fill="#663418"/><rect x="61.6" y="212.4" width="0.9" height="1.2" fill="#5a3016"/><rect x="48.2" y="246.5" width="0.9" height="1.2" fill="#2e0a06"/><rect x="93.5" y="219" width="0.9" height="1.2" fill="#5a3016"/><rect x="87.2" y="224" width="0.9" height="1.2" fill="#663418"/><rect x="59.8" y="216" width="0.9" height="1.2" fill="#2e0a06"/><rect x="65.7" y="243.9" width="0.9" height="1.2" fill="#2e0a06"/><rect x="49.3" y="237.9" width="0.9" height="1.2" fill="#5e2c14"/><rect x="56.8" y="224" width="0.9" height="1.2" fill="#5e2c14"/><rect x="77.6" y="226.8" width="0.9" height="1.2" fill="#52240f"/><rect x="78.7" y="230.3" width="0.9" height="1.2" fill="#2e0a06"/><rect x="72" y="244.7" width="0.9" height="1.2" fill="#52240f"/><rect x="42" y="242.7" width="0.9" height="1.2" fill="#5e2c14"/><rect x="42" y="235.5" width="0.9" height="1.2" fill="#663418"/><rect x="46" y="245.8" width="0.9" height="1.2" fill="#663418"/><rect x="50.4" y="221.7" width="0.9" height="1.2" fill="#52240f"/><rect x="59.5" y="226.3" width="0.9" height="1.2" fill="#5e2c14"/><rect x="90.7" y="226.7" width="0.9" height="1.2" fill="#663418"/><rect x="41.3" y="232" width="0.9" height="1.2" fill="#5a3016"/><rect x="77.5" y="242.7" width="0.9" height="1.2" fill="#52240f"/><rect x="76.8" y="230.2" width="0.9" height="1.2" fill="#663418"/><rect x="51.1" y="235.2" width="0.9" height="1.2" fill="#663418"/><rect x="101.1" y="225.2" width="0.9" height="1.2" fill="#5a3016"/><rect x="44.1" y="228.5" width="0.9" height="1.2" fill="#2e0a06"/><rect x="47.8" y="255.9" width="0.9" height="1.2" fill="#663418"/><rect x="77.3" y="222.8" width="0.9" height="1.2" fill="#663418"/><rect x="47.4" y="226.9" width="0.9" height="1.2" fill="#2e0a06"/><rect x="40.7" y="236.5" width="0.9" height="1.2" fill="#52240f"/><rect x="47.2" y="233.4" width="0.9" height="1.2" fill="#52240f"/><rect x="78.6" y="221.6" width="0.9" height="1.2" fill="#663418"/><rect x="80.9" y="223.8" width="0.9" height="1.2" fill="#5a3016"/><rect x="85.8" y="229.2" width="0.9" height="1.2" fill="#5a3016"/><rect x="81.3" y="230.7" width="0.9" height="1.2" fill="#52240f"/><rect x="68" y="215.5" width="0.9" height="1.2" fill="#2e0a06"/><rect x="50.5" y="254.5" width="0.9" height="1.2" fill="#663418"/><rect x="46" y="250.2" width="0.9" height="1.2" fill="#5a3016"/><rect x="50.8" y="248.2" width="0.9" height="1.2" fill="#52240f"/><rect x="83.1" y="240.2" width="0.9" height="1.2" fill="#52240f"/><rect x="71.7" y="235.2" width="0.9" height="1.2" fill="#663418"/><rect x="37" y="243.3" width="0.9" height="1.2" fill="#5e2c14"/><rect x="75.5" y="222.4" width="0.9" height="1.2" fill="#52240f"/><rect x="88.6" y="224.2" width="0.9" height="1.2" fill="#663418"/><rect x="72.4" y="242.7" width="0.9" height="1.2" fill="#5e2c14"/><rect x="49.5" y="230.5" width="0.9" height="1.2" fill="#2e0a06"/><rect x="79.1" y="226.2" width="0.9" height="1.2" fill="#5a3016"/><rect x="50.7" y="222.9" width="0.9" height="1.2" fill="#5a3016"/><rect x="64.5" y="235.1" width="0.9" height="1.2" fill="#663418"/><rect x="41" y="245.3" width="0.9" height="1.2" fill="#2e0a06"/><rect x="71.8" y="238.5" width="0.9" height="1.2" fill="#5e2c14"/><rect x="45" y="259.4" width="0.9" height="1.2" fill="#5e2c14"/><rect x="96.3" y="225.6" width="0.9" height="1.2" fill="#663418"/><rect x="70.7" y="230.5" width="0.9" height="1.2" fill="#5e2c14"/><rect x="85" y="219.7" width="0.9" height="1.2" fill="#663418"/><rect x="47.2" y="234.8" width="0.9" height="1.2" fill="#52240f"/><rect x="71.4" y="216.1" width="0.9" height="1.2" fill="#2e0a06"/><rect x="53.6" y="254.4" width="0.9" height="1.2" fill="#52240f"/><rect x="59.9" y="227" width="0.9" height="1.2" fill="#52240f"/><rect x="96.6" y="231.1" width="0.9" height="1.2" fill="#2e0a06"/><rect x="50.4" y="243.8" width="0.9" height="1.2" fill="#52240f"/><rect x="88" y="225.9" width="0.9" height="1.2" fill="#52240f"/><rect x="103.1" y="223.7" width="0.9" height="1.2" fill="#2e0a06"/><rect x="71.6" y="241" width="0.9" height="1.2" fill="#5e2c14"/><rect x="63.1" y="221.7" width="0.9" height="1.2" fill="#5e2c14"/><rect x="63.7" y="216" width="0.9" height="1.2" fill="#5a3016"/><rect x="50.9" y="231.6" width="0.9" height="1.2" fill="#52240f"/><rect x="60.9" y="248.1" width="0.9" height="1.2" fill="#52240f"/><rect x="63.2" y="220.9" width="0.9" height="1.2" fill="#663418"/><rect x="45.6" y="252.7" width="0.9" height="1.2" fill="#663418"/><rect x="68.2" y="215.1" width="0.9" height="1.2" fill="#2e0a06"/><rect x="38.3" y="244.6" width="0.9" height="1.2" fill="#52240f"/><rect x="52.9" y="220.4" width="0.9" height="1.2" fill="#2e0a06"/><rect x="41.9" y="259.6" width="0.9" height="1.2" fill="#2e0a06"/><rect x="68.6" y="244.6" width="0.9" height="1.2" fill="#663418"/><rect x="82.6" y="232.1" width="0.9" height="1.2" fill="#2e0a06"/><rect x="95.3" y="221.7" width="0.9" height="1.2" fill="#663418"/><rect x="46.2" y="257.4" width="0.9" height="1.2" fill="#5a3016"/><rect x="44.7" y="226.6" width="0.9" height="1.2" fill="#2e0a06"/><rect x="65.1" y="215.2" width="0.9" height="1.2" fill="#663418"/><rect x="49.5" y="243.5" width="0.9" height="1.2" fill="#52240f"/><rect x="71.8" y="234" width="0.9" height="1.2" fill="#5a3016"/><rect x="58.2" y="242.2" width="0.9" height="1.2" fill="#2e0a06"/><rect x="88.6" y="235.5" width="0.9" height="1.2" fill="#52240f"/><rect x="46" y="244.9" width="0.9" height="1.2" fill="#5a3016"/><rect x="40.9" y="262" width="0.9" height="1.2" fill="#52240f"/><rect x="90.3" y="226.1" width="0.9" height="1.2" fill="#5a3016"/><rect x="48.2" y="255.3" width="0.9" height="1.2" fill="#663418"/><rect x="46.3" y="221.5" width="0.9" height="1.2" fill="#5a3016"/><rect x="80.3" y="221.8" width="0.9" height="1.2" fill="#52240f"/><rect x="79.9" y="216.6" width="0.9" height="1.2" fill="#663418"/><rect x="42.3" y="239" width="0.9" height="1.2" fill="#5e2c14"/><rect x="43.9" y="231" width="0.9" height="1.2" fill="#5a3016"/><rect x="64.6" y="233.4" width="0.9" height="1.2" fill="#663418"/><rect x="106.2" y="225.9" width="0.9" height="1.2" fill="#52240f"/><rect x="57.7" y="231.9" width="0.9" height="1.2" fill="#52240f"/><rect x="43.9" y="227.3" width="0.9" height="1.2" fill="#5a3016"/><rect x="53.7" y="223.7" width="0.9" height="1.2" fill="#5e2c14"/><rect x="71.2" y="246.8" width="0.9" height="1.2" fill="#5e2c14"/><rect x="76.7" y="233.1" width="0.9" height="1.2" fill="#2e0a06"/><rect x="45.7" y="230.2" width="0.9" height="1.2" fill="#5e2c14"/><rect x="66.4" y="239.8" width="0.9" height="1.2" fill="#52240f"/><rect x="67.5" y="242.5" width="0.9" height="1.2" fill="#663418"/><rect x="64" y="249.8" width="0.9" height="1.2" fill="#5e2c14"/><rect x="89.2" y="232.8" width="0.9" height="1.2" fill="#663418"/><rect x="47.5" y="229" width="0.9" height="1.2" fill="#2e0a06"/><rect x="39.5" y="242.7" width="0.9" height="1.2" fill="#2e0a06"/><rect x="46.2" y="239.4" width="0.9" height="1.2" fill="#663418"/><rect x="58.3" y="222.5" width="0.9" height="1.2" fill="#2e0a06"/><rect x="45.7" y="253.7" width="0.9" height="1.2" fill="#663418"/><rect x="60.8" y="243.6" width="0.9" height="1.2" fill="#5a3016"/><rect x="38.5" y="246.5" width="0.9" height="1.2" fill="#663418"/><rect x="44.4" y="231.5" width="0.9" height="1.2" fill="#2e0a06"/><rect x="70.7" y="239.5" width="0.9" height="1.2" fill="#2e0a06"/><rect x="100.9" y="228.6" width="0.9" height="1.2" fill="#663418"/><rect x="45" y="245.8" width="0.9" height="1.2" fill="#663418"/><rect x="48" y="241.7" width="0.9" height="1.2" fill="#5e2c14"/><rect x="105.8" y="224.3" width="0.9" height="1.2" fill="#5e2c14"/><rect x="88.7" y="235" width="0.9" height="1.2" fill="#2e0a06"/><rect x="47.8" y="232.9" width="0.9" height="1.2" fill="#663418"/><rect x="45.4" y="229.5" width="0.9" height="1.2" fill="#2e0a06"/><rect x="60.9" y="242.8" width="0.9" height="1.2" fill="#663418"/><rect x="81.9" y="229.7" width="0.9" height="1.2" fill="#5e2c14"/><rect x="43.2" y="246.2" width="0.9" height="1.2" fill="#5a3016"/><rect x="78.6" y="216" width="0.9" height="1.2" fill="#5e2c14"/><rect x="69.7" y="226.7" width="0.9" height="1.2" fill="#2e0a06"/><rect x="52.2" y="222.7" width="0.9" height="1.2" fill="#5e2c14"/><rect x="64.9" y="214.5" width="0.9" height="1.2" fill="#663418"/><rect x="95.4" y="223.4" width="0.9" height="1.2" fill="#52240f"/><rect x="64.1" y="214.3" width="0.9" height="1.2" fill="#5a3016"/><rect x="58" y="214.8" width="0.9" height="1.2" fill="#52240f"/><rect x="51.1" y="252.5" width="0.9" height="1.2" fill="#5a3016"/><rect x="49.1" y="232.2" width="0.9" height="1.2" fill="#5a3016"/><rect x="36.2" y="258" width="0.9" height="1.2" fill="#52240f"/><rect x="52.1" y="219.4" width="0.9" height="1.2" fill="#5e2c14"/><rect x="56" y="248.1" width="0.9" height="1.2" fill="#5a3016"/><rect x="75.1" y="224.1" width="0.9" height="1.2" fill="#52240f"/><rect x="66.2" y="228.6" width="0.9" height="1.2" fill="#5a3016"/><rect x="56.9" y="246.7" width="0.9" height="1.2" fill="#5a3016"/><rect x="40.6" y="239.3" width="0.9" height="1.2" fill="#663418"/><rect x="57.7" y="233.8" width="0.9" height="1.2" fill="#2e0a06"/><rect x="48.4" y="235.2" width="0.9" height="1.2" fill="#2e0a06"/><rect x="95.4" y="224.8" width="0.9" height="1.2" fill="#2e0a06"/><rect x="84.6" y="227.4" width="0.9" height="1.2" fill="#5a3016"/><rect x="61.9" y="217" width="0.9" height="1.2" fill="#2e0a06"/><rect x="70.1" y="247.1" width="0.9" height="1.2" fill="#5a3016"/><rect x="43.7" y="253.7" width="0.9" height="1.2" fill="#5a3016"/><rect x="92.1" y="233.1" width="0.9" height="1.2" fill="#5e2c14"/><rect x="37.4" y="255.6" width="0.9" height="1.2" fill="#52240f"/><rect x="77" y="225.9" width="0.9" height="1.2" fill="#5e2c14"/><rect x="39.1" y="233.8" width="0.9" height="1.2" fill="#52240f"/><rect x="74.9" y="240" width="0.9" height="1.2" fill="#2e0a06"/><rect x="67.4" y="218.7" width="0.9" height="1.2" fill="#2e0a06"/><rect x="50" y="249.1" width="0.9" height="1.2" fill="#5e2c14"/><rect x="56.4" y="230.4" width="0.9" height="1.2" fill="#663418"/><rect x="81.1" y="234.2" width="0.9" height="1.2" fill="#5e2c14"/><rect x="67.2" y="230.6" width="0.9" height="1.2" fill="#52240f"/><rect x="71.7" y="217.7" width="0.9" height="1.2" fill="#663418"/><rect x="58.5" y="250.7" width="0.9" height="1.2" fill="#663418"/><rect x="65" y="234.2" width="0.9" height="1.2" fill="#5e2c14"/><rect x="68.4" y="243" width="0.9" height="1.2" fill="#5a3016"/><rect x="39.7" y="244" width="0.9" height="1.2" fill="#5a3016"/><rect x="50.4" y="222.6" width="0.9" height="1.2" fill="#663418"/><rect x="49" y="239.4" width="0.9" height="1.2" fill="#663418"/><rect x="67.9" y="219" width="0.9" height="1.2" fill="#2e0a06"/><rect x="40.4" y="229.6" width="0.9" height="1.2" fill="#52240f"/><rect x="40.6" y="228.9" width="0.9" height="1.2" fill="#5e2c14"/><rect x="81.6" y="233.6" width="0.9" height="1.2" fill="#5a3016"/><rect x="58.9" y="222.1" width="0.9" height="1.2" fill="#5a3016"/><rect x="88.4" y="221.1" width="0.9" height="1.2" fill="#52240f"/><rect x="42.9" y="232.5" width="0.9" height="1.2" fill="#52240f"/><rect x="54.1" y="229.9" width="0.9" height="1.2" fill="#5a3016"/><rect x="67.6" y="242.9" width="0.9" height="1.2" fill="#5a3016"/><rect x="37.7" y="259.1" width="0.9" height="1.2" fill="#5e2c14"/><rect x="43.5" y="260.4" width="0.9" height="1.2" fill="#5a3016"/><rect x="54.2" y="242.7" width="0.9" height="1.2" fill="#5e2c14"/><rect x="59.1" y="236.3" width="0.9" height="1.2" fill="#663418"/><rect x="65.3" y="226.2" width="0.9" height="1.2" fill="#663418"/><rect x="59.3" y="239.3" width="0.9" height="1.2" fill="#663418"/><rect x="95.9" y="223.2" width="0.9" height="1.2" fill="#2e0a06"/><rect x="71.3" y="239" width="0.9" height="1.2" fill="#52240f"/><rect x="63.5" y="244.3" width="0.9" height="1.2" fill="#5e2c14"/><rect x="82.7" y="227.2" width="0.9" height="1.2" fill="#663418"/><rect x="77.2" y="242.4" width="0.9" height="1.2" fill="#663418"/><rect x="46.4" y="250.4" width="0.9" height="1.2" fill="#2e0a06"/><rect x="98.5" y="226.6" width="0.9" height="1.2" fill="#5a3016"/><rect x="60.7" y="232.4" width="0.9" height="1.2" fill="#5a3016"/><rect x="49.7" y="248.8" width="0.9" height="1.2" fill="#2e0a06"/><rect x="57.7" y="228" width="0.9" height="1.2" fill="#52240f"/><rect x="87.6" y="237.4" width="0.9" height="1.2" fill="#663418"/><rect x="78.9" y="225.6" width="0.9" height="1.2" fill="#5e2c14"/><rect x="66" y="243.9" width="0.9" height="1.2" fill="#663418"/><rect x="86.4" y="237.7" width="0.9" height="1.2" fill="#5e2c14"/><rect x="36.3" y="253.5" width="0.9" height="1.2" fill="#5e2c14"/><rect x="36.2" y="229" width="0.9" height="1.2" fill="#663418"/><rect x="89.6" y="218" width="0.9" height="1.2" fill="#5e2c14"/><rect x="38.3" y="243.7" width="0.9" height="1.2" fill="#2e0a06"/><rect x="46.9" y="232" width="0.9" height="1.2" fill="#52240f"/><rect x="75.1" y="237.5" width="0.9" height="1.2" fill="#663418"/><rect x="66.2" y="244.8" width="0.9" height="1.2" fill="#52240f"/><rect x="38.6" y="243.3" width="0.9" height="1.2" fill="#2e0a06"/><rect x="99.6" y="220.9" width="0.9" height="1.2" fill="#663418"/><rect x="46.4" y="226.7" width="0.9" height="1.2" fill="#5e2c14"/><rect x="50.5" y="237.2" width="0.9" height="1.2" fill="#5a3016"/><rect x="96.9" y="232.4" width="0.9" height="1.2" fill="#2e0a06"/><rect x="55.8" y="216.1" width="0.9" height="1.2" fill="#5a3016"/><rect x="58.3" y="224.1" width="0.9" height="1.2" fill="#2e0a06"/><rect x="62.2" y="241.7" width="0.9" height="1.2" fill="#5e2c14"/><rect x="58" y="247.6" width="0.9" height="1.2" fill="#5a3016"/><rect x="55.9" y="234.9" width="0.9" height="1.2" fill="#5a3016"/><rect x="98.7" y="229.8" width="0.9" height="1.2" fill="#5a3016"/><rect x="61.1" y="246.8" width="0.9" height="1.2" fill="#52240f"/><rect x="52" y="231" width="0.9" height="1.2" fill="#663418"/><rect x="73.9" y="244.3" width="0.9" height="1.2" fill="#52240f"/><rect x="71.2" y="226.7" width="0.9" height="1.2" fill="#5a3016"/><rect x="46.4" y="222.6" width="0.9" height="1.2" fill="#5a3016"/><rect x="66.3" y="227" width="0.9" height="1.2" fill="#5e2c14"/><rect x="89.6" y="219" width="0.9" height="1.2" fill="#5a3016"/><rect x="47.8" y="236.2" width="0.9" height="1.2" fill="#5e2c14"/><rect x="67.2" y="244.2" width="0.9" height="1.2" fill="#5e2c14"/><rect x="101.8" y="223" width="0.9" height="1.2" fill="#5e2c14"/><rect x="58.7" y="244.3" width="0.9" height="1.2" fill="#5e2c14"/><rect x="77.2" y="235.9" width="0.9" height="1.2" fill="#5e2c14"/><rect x="103.1" y="227.2" width="0.9" height="1.2" fill="#2e0a06"/><rect x="58.8" y="228.3" width="0.9" height="1.2" fill="#52240f"/><rect x="42" y="250.4" width="0.9" height="1.2" fill="#52240f"/><rect x="99.8" y="227.4" width="0.9" height="1.2" fill="#5a3016"/><rect x="94.5" y="224.8" width="0.9" height="1.2" fill="#663418"/><rect x="53" y="218.3" width="0.9" height="1.2" fill="#663418"/><rect x="59.3" y="230" width="0.9" height="1.2" fill="#5e2c14"/><rect x="72.6" y="214.4" width="0.9" height="1.2" fill="#5e2c14"/><rect x="57.2" y="226.4" width="0.9" height="1.2" fill="#5e2c14"/><rect x="66.7" y="245.2" width="0.9" height="1.2" fill="#5e2c14"/><rect x="58.6" y="217.8" width="0.9" height="1.2" fill="#52240f"/><rect x="65.7" y="229.9" width="0.9" height="1.2" fill="#2e0a06"/><rect x="48.1" y="244.2" width="0.9" height="1.2" fill="#663418"/><rect x="46.9" y="233" width="0.9" height="1.2" fill="#5a3016"/><rect x="96.8" y="230.7" width="0.9" height="1.2" fill="#52240f"/><rect x="44.1" y="258.6" width="0.9" height="1.2" fill="#2e0a06"/><rect x="96.3" y="233.1" width="0.9" height="1.2" fill="#5a3016"/><rect x="66.5" y="226.3" width="0.9" height="1.2" fill="#52240f"/><rect x="68.9" y="228.2" width="0.9" height="1.2" fill="#52240f"/><rect x="108" y="223.1" width="0.9" height="1.2" fill="#5e2c14"/><rect x="63.6" y="236.5" width="0.9" height="1.2" fill="#5e2c14"/><rect x="46.6" y="229.2" width="0.9" height="1.2" fill="#663418"/><rect x="39.6" y="241.2" width="0.9" height="1.2" fill="#5e2c14"/><rect x="98.6" y="223.9" width="0.9" height="1.2" fill="#5a3016"/><rect x="70.1" y="220.1" width="0.9" height="1.2" fill="#52240f"/><rect x="87.7" y="232.2" width="0.9" height="1.2" fill="#5a3016"/><rect x="46.3" y="248.4" width="0.9" height="1.2" fill="#5a3016"/><rect x="46.5" y="230.8" width="0.9" height="1.2" fill="#5e2c14"/><rect x="38.1" y="238.5" width="0.9" height="1.2" fill="#5a3016"/><rect x="96.9" y="223.9" width="0.9" height="1.2" fill="#663418"/><rect x="70.7" y="242.9" width="0.9" height="1.2" fill="#5a3016"/><rect x="84.6" y="230.8" width="0.9" height="1.2" fill="#2e0a06"/><rect x="49.9" y="227.8" width="0.9" height="1.2" fill="#663418"/><rect x="106.6" y="221.4" width="0.9" height="1.2" fill="#5e2c14"/><rect x="91" y="233.2" width="0.9" height="1.2" fill="#52240f"/><rect x="43.4" y="243" width="0.9" height="1.2" fill="#5a3016"/><rect x="65" y="229.7" width="0.9" height="1.2" fill="#663418"/><rect x="74.6" y="224.3" width="0.9" height="1.2" fill="#663418"/><rect x="64.2" y="240.8" width="0.9" height="1.2" fill="#5a3016"/><rect x="105.7" y="221.1" width="0.9" height="1.2" fill="#2e0a06"/><rect x="37.8" y="245.3" width="0.9" height="1.2" fill="#5e2c14"/><rect x="71" y="237.4" width="0.9" height="1.2" fill="#663418"/><rect x="60.6" y="236.5" width="0.9" height="1.2" fill="#5e2c14"/><rect x="40.4" y="241" width="0.9" height="1.2" fill="#663418"/><rect x="40.5" y="230.8" width="0.9" height="1.2" fill="#52240f"/><rect x="58.8" y="247.8" width="0.9" height="1.2" fill="#2e0a06"/><rect x="59" y="250.6" width="0.9" height="1.2" fill="#663418"/><rect x="53.6" y="232.2" width="0.9" height="1.2" fill="#5e2c14"/><rect x="76.5" y="219.1" width="0.9" height="1.2" fill="#52240f"/><rect x="56.8" y="252.1" width="0.9" height="1.2" fill="#663418"/><rect x="49.1" y="234" width="0.9" height="1.2" fill="#663418"/><rect x="44.2" y="249.1" width="0.9" height="1.2" fill="#52240f"/><rect x="58.3" y="251" width="0.9" height="1.2" fill="#5a3016"/><rect x="77.7" y="219" width="0.9" height="1.2" fill="#5a3016"/><rect x="51.9" y="256.2" width="0.9" height="1.2" fill="#5e2c14"/><rect x="41.5" y="248.9" width="0.9" height="1.2" fill="#5a3016"/><rect x="63.1" y="229.6" width="0.9" height="1.2" fill="#52240f"/><rect x="50.6" y="239.9" width="0.9" height="1.2" fill="#52240f"/><rect x="61.7" y="224.4" width="0.9" height="1.2" fill="#2e0a06"/><rect x="64.5" y="244.1" width="0.9" height="1.2" fill="#5a3016"/><rect x="86.9" y="223.4" width="0.9" height="1.2" fill="#663418"/><rect x="43" y="227.9" width="0.9" height="1.2" fill="#2e0a06"/><rect x="38.9" y="262.4" width="0.9" height="1.2" fill="#5e2c14"/><rect x="77.8" y="237.1" width="0.9" height="1.2" fill="#5e2c14"/><rect x="41" y="242.5" width="0.9" height="1.2" fill="#663418"/><rect x="37.2" y="238.3" width="0.9" height="1.2" fill="#5e2c14"/><rect x="78.3" y="218.7" width="0.9" height="1.2" fill="#2e0a06"/><rect x="70.8" y="236.6" width="0.9" height="1.2" fill="#2e0a06"/><rect x="80.4" y="236.3" width="0.9" height="1.2" fill="#52240f"/><rect x="42.9" y="249.9" width="0.9" height="1.2" fill="#5a3016"/><rect x="62" y="221.5" width="0.9" height="1.2" fill="#2e0a06"/><rect x="105.2" y="226.1" width="0.9" height="1.2" fill="#5e2c14"/><rect x="73.5" y="214.5" width="0.9" height="1.2" fill="#663418"/><rect x="67.8" y="216.4" width="0.9" height="1.2" fill="#5e2c14"/><rect x="45.9" y="238.4" width="0.9" height="1.2" fill="#2e0a06"/><rect x="70.8" y="215" width="0.9" height="1.2" fill="#5e2c14"/><rect x="46.7" y="246.4" width="0.9" height="1.2" fill="#5e2c14"/><rect x="82.7" y="218.7" width="0.9" height="1.2" fill="#2e0a06"/><rect x="52.6" y="237.9" width="0.9" height="1.2" fill="#2e0a06"/><rect x="77.6" y="223.4" width="0.9" height="1.2" fill="#2e0a06"/><rect x="69.5" y="229.4" width="0.9" height="1.2" fill="#2e0a06"/><rect x="40.1" y="247.2" width="0.9" height="1.2" fill="#663418"/><rect x="100.3" y="225.7" width="0.9" height="1.2" fill="#663418"/><rect x="46.8" y="240.3" width="0.9" height="1.2" fill="#2e0a06"/><rect x="89.4" y="234.9" width="0.9" height="1.2" fill="#2e0a06"/><rect x="42.6" y="246.3" width="0.9" height="1.2" fill="#5a3016"/><rect x="91.8" y="234.5" width="0.9" height="1.2" fill="#5e2c14"/><rect x="85.7" y="219.1" width="0.9" height="1.2" fill="#52240f"/><rect x="52.9" y="241.6" width="0.9" height="1.2" fill="#663418"/><rect x="94.6" y="229.7" width="0.9" height="1.2" fill="#5a3016"/><rect x="75.5" y="223.3" width="0.9" height="1.2" fill="#2e0a06"/><rect x="45.4" y="237.6" width="0.9" height="1.2" fill="#5a3016"/><rect x="90.1" y="236" width="0.9" height="1.2" fill="#663418"/><rect x="62" y="235.1" width="0.9" height="1.2" fill="#5a3016"/><rect x="95.8" y="232.1" width="0.9" height="1.2" fill="#5a3016"/><rect x="67.3" y="219.2" width="0.9" height="1.2" fill="#52240f"/><rect x="61.8" y="217.2" width="0.9" height="1.2" fill="#2e0a06"/><rect x="43.9" y="236.9" width="0.9" height="1.2" fill="#5e2c14"/><rect x="69.2" y="225.8" width="0.9" height="1.2" fill="#5e2c14"/><rect x="73.6" y="224.1" width="0.9" height="1.2" fill="#2e0a06"/><rect x="43.9" y="237.6" width="0.9" height="1.2" fill="#5e2c14"/><rect x="97.4" y="226.2" width="0.9" height="1.2" fill="#52240f"/><rect x="74.3" y="238.5" width="0.9" height="1.2" fill="#5a3016"/><rect x="111.6" y="223.2" width="0.9" height="1.2" fill="#5e2c14"/><rect x="47.3" y="232.4" width="0.9" height="1.2" fill="#5a3016"/><rect x="77" y="233.1" width="0.9" height="1.2" fill="#52240f"/><rect x="47.3" y="242.7" width="0.9" height="1.2" fill="#663418"/><rect x="65.2" y="217.7" width="0.9" height="1.2" fill="#5e2c14"/><rect x="74" y="244.9" width="0.9" height="1.2" fill="#5a3016"/><rect x="69.5" y="240.8" width="0.9" height="1.2" fill="#5a3016"/><rect x="78.3" y="226.7" width="0.9" height="1.2" fill="#5a3016"/><rect x="65.3" y="216.7" width="0.9" height="1.2" fill="#2e0a06"/><rect x="63.9" y="226.1" width="0.9" height="1.2" fill="#5e2c14"/><rect x="80.2" y="227" width="0.9" height="1.2" fill="#52240f"/><rect x="80" y="238.1" width="0.9" height="1.2" fill="#5a3016"/><rect x="63.2" y="241.8" width="0.9" height="1.2" fill="#2e0a06"/><rect x="72.7" y="227.8" width="0.9" height="1.2" fill="#663418"/><rect x="54.6" y="230.1" width="0.9" height="1.2" fill="#5e2c14"/><rect x="60.8" y="231.3" width="0.9" height="1.2" fill="#2e0a06"/><rect x="65.8" y="249.2" width="0.9" height="1.2" fill="#2e0a06"/><rect x="82.5" y="229.6" width="0.9" height="1.2" fill="#2e0a06"/><rect x="107.9" y="222.1" width="0.9" height="1.2" fill="#5e2c14"/><rect x="46.1" y="257.9" width="0.9" height="1.2" fill="#5a3016"/><rect x="39.5" y="239.8" width="0.9" height="1.2" fill="#2e0a06"/><rect x="56.4" y="238.5" width="0.9" height="1.2" fill="#2e0a06"/><rect x="66.5" y="215" width="0.9" height="1.2" fill="#5a3016"/><rect x="54.2" y="226.7" width="0.9" height="1.2" fill="#52240f"/><rect x="59.7" y="226.1" width="0.9" height="1.2" fill="#52240f"/><rect x="55.9" y="219.9" width="0.9" height="1.2" fill="#663418"/><rect x="64.7" y="248.5" width="0.9" height="1.2" fill="#663418"/><rect x="92.3" y="221.2" width="0.9" height="1.2" fill="#663418"/><rect x="53.1" y="232.7" width="0.9" height="1.2" fill="#5e2c14"/><rect x="63.8" y="248.1" width="0.9" height="1.2" fill="#2e0a06"/><rect x="60.6" y="216.5" width="0.9" height="1.2" fill="#5e2c14"/><rect x="55.4" y="230.2" width="0.9" height="1.2" fill="#5a3016"/><rect x="54.1" y="244.4" width="0.9" height="1.2" fill="#5a3016"/><rect x="46.6" y="229.2" width="0.9" height="1.2" fill="#5a3016"/><rect x="56.9" y="222.6" width="0.9" height="1.2" fill="#5a3016"/><rect x="49.2" y="255.9" width="0.9" height="1.2" fill="#2e0a06"/><rect x="95.3" y="221.9" width="0.9" height="1.2" fill="#5a3016"/><rect x="54.1" y="225.2" width="0.9" height="1.2" fill="#663418"/><rect x="72.9" y="237.7" width="0.9" height="1.2" fill="#5e2c14"/><rect x="95.2" y="231.3" width="0.9" height="1.2" fill="#52240f"/><rect x="71" y="231.9" width="0.9" height="1.2" fill="#5e2c14"/><rect x="57.7" y="222.8" width="0.9" height="1.2" fill="#5a3016"/><rect x="108.6" y="223.8" width="0.9" height="1.2" fill="#5e2c14"/><rect x="67.2" y="240.1" width="0.9" height="1.2" fill="#5e2c14"/><rect x="94.4" y="224.1" width="0.9" height="1.2" fill="#5a3016"/><rect x="58.3" y="240.3" width="0.9" height="1.2" fill="#5a3016"/><rect x="50.4" y="219.5" width="0.9" height="1.2" fill="#52240f"/><rect x="99.6" y="225.5" width="0.9" height="1.2" fill="#52240f"/><rect x="87.3" y="236.2" width="0.9" height="1.2" fill="#2e0a06"/><rect x="40.9" y="263.1" width="0.9" height="1.2" fill="#2e0a06"/><rect x="93" y="232.5" width="0.9" height="1.2" fill="#2e0a06"/><rect x="80.1" y="233.1" width="0.9" height="1.2" fill="#663418"/><rect x="63.1" y="245.5" width="0.9" height="1.2" fill="#5a3016"/><rect x="107.1" y="221.5" width="0.9" height="1.2" fill="#5a3016"/><rect x="80.5" y="222.1" width="0.9" height="1.2" fill="#663418"/><rect x="83.6" y="232.5" width="0.9" height="1.2" fill="#5a3016"/><rect x="39.7" y="261.2" width="0.9" height="1.2" fill="#663418"/><rect x="45.3" y="242.6" width="0.9" height="1.2" fill="#663418"/><rect x="91.6" y="233.1" width="0.9" height="1.2" fill="#52240f"/><rect x="77.6" y="231.7" width="0.9" height="1.2" fill="#5a3016"/><rect x="42.6" y="235.1" width="0.9" height="1.2" fill="#5e2c14"/><rect x="69.6" y="235.1" width="0.9" height="1.2" fill="#52240f"/><rect x="51.3" y="256.2" width="0.9" height="1.2" fill="#5a3016"/><rect x="47.2" y="258.2" width="0.9" height="1.2" fill="#2e0a06"/><rect x="36.7" y="246.9" width="0.9" height="1.2" fill="#5e2c14"/><rect x="40.1" y="261.5" width="0.9" height="1.2" fill="#663418"/><rect x="38.5" y="257.2" width="0.9" height="1.2" fill="#5e2c14"/><rect x="96.4" y="224.1" width="0.9" height="1.2" fill="#5a3016"/><rect x="84.8" y="223.1" width="0.9" height="1.2" fill="#2e0a06"/><rect x="65.8" y="246.1" width="0.9" height="1.2" fill="#2e0a06"/><rect x="46.9" y="242.5" width="0.9" height="1.2" fill="#5e2c14"/><rect x="98.1" y="231.8" width="0.9" height="1.2" fill="#2e0a06"/><rect x="36.8" y="262.9" width="0.9" height="1.2" fill="#5a3016"/><rect x="47.1" y="249.2" width="0.9" height="1.2" fill="#2e0a06"/><rect x="39.5" y="236.3" width="0.9" height="1.2" fill="#2e0a06"/><rect x="66.7" y="224.4" width="0.9" height="1.2" fill="#2e0a06"/><rect x="83.3" y="225.4" width="0.9" height="1.2" fill="#5e2c14"/><rect x="42.9" y="238.6" width="0.9" height="1.2" fill="#5e2c14"/><rect x="50.5" y="225.9" width="0.9" height="1.2" fill="#663418"/><rect x="67.7" y="240.6" width="0.9" height="1.2" fill="#5e2c14"/><rect x="89.5" y="224.1" width="0.9" height="1.2" fill="#52240f"/><rect x="81.1" y="225.4" width="0.9" height="1.2" fill="#663418"/><rect x="58" y="242.2" width="0.9" height="1.2" fill="#2e0a06"/><rect x="66.4" y="224" width="0.9" height="1.2" fill="#5a3016"/><rect x="80.7" y="227.8" width="0.9" height="1.2" fill="#5a3016"/><rect x="86" y="225.9" width="0.9" height="1.2" fill="#2e0a06"/><rect x="55.7" y="234.2" width="0.9" height="1.2" fill="#2e0a06"/><rect x="66.5" y="222" width="0.9" height="1.2" fill="#5e2c14"/><rect x="63.1" y="216.8" width="0.9" height="1.2" fill="#52240f"/><rect x="72.4" y="235.3" width="0.9" height="1.2" fill="#5a3016"/><rect x="81.8" y="223.4" width="0.9" height="1.2" fill="#2e0a06"/><rect x="37.6" y="257.4" width="0.9" height="1.2" fill="#52240f"/><rect x="77.5" y="216.2" width="0.9" height="1.2" fill="#52240f"/><rect x="78" y="217" width="0.9" height="1.2" fill="#5e2c14"/><rect x="77.6" y="217.1" width="0.9" height="1.2" fill="#5a3016"/><rect x="99.5" y="227.3" width="0.9" height="1.2" fill="#5a3016"/><rect x="51.7" y="255.1" width="0.9" height="1.2" fill="#2e0a06"/><rect x="37.1" y="229.6" width="0.9" height="1.2" fill="#5e2c14"/><rect x="47.5" y="222.7" width="0.9" height="1.2" fill="#2e0a06"/><rect x="94.1" y="225.8" width="0.9" height="1.2" fill="#2e0a06"/><rect x="92" y="218.6" width="0.9" height="1.2" fill="#5e2c14"/><rect x="39.5" y="255.8" width="0.9" height="1.2" fill="#5e2c14"/><rect x="83.8" y="217" width="0.9" height="1.2" fill="#52240f"/><rect x="67.3" y="231.4" width="0.9" height="1.2" fill="#5e2c14"/><rect x="58" y="217" width="0.9" height="1.2" fill="#5a3016"/><rect x="101.2" y="225.8" width="0.9" height="1.2" fill="#663418"/><rect x="66.2" y="234.4" width="0.9" height="1.2" fill="#5a3016"/><rect x="55.6" y="224.7" width="0.9" height="1.2" fill="#5a3016"/><rect x="76.6" y="242" width="0.9" height="1.2" fill="#5e2c14"/><rect x="68.1" y="236" width="0.9" height="1.2" fill="#5a3016"/><rect x="38.1" y="244.2" width="0.9" height="1.2" fill="#52240f"/><rect x="79" y="224.3" width="0.9" height="1.2" fill="#5e2c14"/><rect x="100.8" y="220" width="0.9" height="1.2" fill="#2e0a06"/><rect x="81.7" y="235.8" width="0.9" height="1.2" fill="#5e2c14"/><rect x="113.8" y="222.5" width="0.9" height="1.2" fill="#5a3016"/><rect x="73.8" y="235.8" width="0.9" height="1.2" fill="#663418"/><rect x="55.8" y="216.6" width="0.9" height="1.2" fill="#663418"/><rect x="57.2" y="225.7" width="0.9" height="1.2" fill="#663418"/><rect x="46.2" y="236.6" width="0.9" height="1.2" fill="#5e2c14"/><rect x="61" y="244.1" width="0.9" height="1.2" fill="#5e2c14"/><rect x="55.6" y="241.1" width="0.9" height="1.2" fill="#52240f"/><rect x="76.7" y="231" width="0.9" height="1.2" fill="#2e0a06"/><rect x="74.1" y="236.5" width="0.9" height="1.2" fill="#5e2c14"/><rect x="38" y="260.8" width="0.9" height="1.2" fill="#5a3016"/><rect x="48.7" y="252.8" width="0.9" height="1.2" fill="#663418"/><rect x="72.9" y="230.5" width="0.9" height="1.2" fill="#52240f"/><rect x="70" y="241.8" width="0.9" height="1.2" fill="#663418"/><rect x="81.1" y="233.6" width="0.9" height="1.2" fill="#52240f"/><rect x="58" y="229.5" width="0.9" height="1.2" fill="#2e0a06"/><rect x="46.1" y="228" width="0.9" height="1.2" fill="#5a3016"/><rect x="72.7" y="241.8" width="0.9" height="1.2" fill="#663418"/><rect x="98.2" y="228" width="0.9" height="1.2" fill="#52240f"/><rect x="50.6" y="221.3" width="0.9" height="1.2" fill="#52240f"/><rect x="79.4" y="237.1" width="0.9" height="1.2" fill="#2e0a06"/><rect x="114.2" y="222.7" width="0.9" height="1.2" fill="#5e2c14"/><rect x="73.8" y="238.2" width="0.9" height="1.2" fill="#663418"/><rect x="50" y="246.9" width="0.9" height="1.2" fill="#2e0a06"/><rect x="51.9" y="237.6" width="0.9" height="1.2" fill="#2e0a06"/><rect x="89.8" y="231.3" width="0.9" height="1.2" fill="#5a3016"/><rect x="87.4" y="230.4" width="0.9" height="1.2" fill="#5a3016"/><rect x="57.9" y="247.2" width="0.9" height="1.2" fill="#2e0a06"/><rect x="56.4" y="240.1" width="0.9" height="1.2" fill="#5a3016"/><rect x="37.9" y="228.2" width="0.9" height="1.2" fill="#52240f"/><rect x="57.9" y="238.3" width="0.9" height="1.2" fill="#663418"/><rect x="38" y="256.3" width="0.9" height="1.2" fill="#5a3016"/><rect x="69.7" y="218" width="0.9" height="1.2" fill="#5a3016"/><rect x="64.3" y="221.4" width="0.9" height="1.2" fill="#663418"/><rect x="56.6" y="229.2" width="0.9" height="1.2" fill="#2e0a06"/><rect x="54" y="251.8" width="0.9" height="1.2" fill="#5e2c14"/><rect x="81.5" y="228.9" width="0.9" height="1.2" fill="#5a3016"/><rect x="57.7" y="214.5" width="0.9" height="1.2" fill="#5e2c14"/><rect x="83.3" y="231.2" width="0.9" height="1.2" fill="#2e0a06"/><rect x="51.4" y="221.7" width="0.9" height="1.2" fill="#2e0a06"/><rect x="72.6" y="216.4" width="0.9" height="1.2" fill="#5a3016"/><rect x="65.7" y="243.5" width="0.9" height="1.2" fill="#5e2c14"/><rect x="42.3" y="244" width="0.9" height="1.2" fill="#5a3016"/><rect x="57.2" y="248" width="0.9" height="1.2" fill="#5e2c14"/><rect x="50.6" y="228.1" width="0.9" height="1.2" fill="#5a3016"/><rect x="45.1" y="245" width="0.9" height="1.2" fill="#52240f"/><rect x="50.4" y="249.5" width="0.9" height="1.2" fill="#663418"/><rect x="39" y="242.3" width="0.9" height="1.2" fill="#5e2c14"/><rect x="66.6" y="234.4" width="0.9" height="1.2" fill="#663418"/><rect x="73" y="222.7" width="0.9" height="1.2" fill="#663418"/><rect x="104.3" y="226.2" width="0.9" height="1.2" fill="#2e0a06"/><rect x="59.8" y="221.4" width="0.9" height="1.2" fill="#663418"/><rect x="100" y="223.5" width="0.9" height="1.2" fill="#2e0a06"/><rect x="73.9" y="226.5" width="0.9" height="1.2" fill="#663418"/><rect x="48.4" y="227.3" width="0.9" height="1.2" fill="#5a3016"/><rect x="44" y="254.7" width="0.9" height="1.2" fill="#663418"/><rect x="81.8" y="229.7" width="0.9" height="1.2" fill="#52240f"/><rect x="51.5" y="246.9" width="0.9" height="1.2" fill="#5e2c14"/><rect x="90.1" y="224" width="0.9" height="1.2" fill="#2e0a06"/><rect x="66.5" y="221.1" width="0.9" height="1.2" fill="#5a3016"/><rect x="48.2" y="223" width="0.9" height="1.2" fill="#5e2c14"/><rect x="101.8" y="227.3" width="0.9" height="1.2" fill="#5a3016"/><rect x="42" y="261.8" width="0.9" height="1.2" fill="#5e2c14"/><rect x="61.2" y="249.5" width="0.9" height="1.2" fill="#5a3016"/><rect x="54.6" y="240.3" width="0.9" height="1.2" fill="#2e0a06"/><rect x="92.1" y="226.5" width="0.9" height="1.2" fill="#663418"/><rect x="65.2" y="233.5" width="0.9" height="1.2" fill="#5e2c14"/><rect x="59.7" y="218.3" width="0.9" height="1.2" fill="#5e2c14"/><rect x="76.5" y="224.6" width="0.9" height="1.2" fill="#2e0a06"/><rect x="56.5" y="248.8" width="0.9" height="1.2" fill="#663418"/><rect x="90.8" y="230.1" width="0.9" height="1.2" fill="#2e0a06"/><rect x="86.8" y="227.8" width="0.9" height="1.2" fill="#5a3016"/><rect x="80.5" y="233.7" width="0.9" height="1.2" fill="#663418"/><rect x="42.3" y="259.9" width="0.9" height="1.2" fill="#663418"/><rect x="72.7" y="220.8" width="0.9" height="1.2" fill="#52240f"/><rect x="40.7" y="261.9" width="0.9" height="1.2" fill="#52240f"/><rect x="66.4" y="241.3" width="0.9" height="1.2" fill="#5e2c14"/><rect x="41.4" y="248.9" width="0.9" height="1.2" fill="#663418"/><rect x="64.6" y="241.3" width="0.9" height="1.2" fill="#52240f"/><rect x="86.6" y="226.5" width="0.9" height="1.2" fill="#5a3016"/><rect x="70.6" y="217.9" width="0.9" height="1.2" fill="#52240f"/><rect x="62.5" y="246.4" width="0.9" height="1.2" fill="#2e0a06"/><rect x="44.6" y="240.8" width="0.9" height="1.2" fill="#5e2c14"/><rect x="51.9" y="217.8" width="0.9" height="1.2" fill="#52240f"/><rect x="50.6" y="251.3" width="0.9" height="1.2" fill="#2e0a06"/><rect x="65.7" y="237.6" width="0.9" height="1.2" fill="#2e0a06"/><rect x="83.2" y="235.9" width="0.9" height="1.2" fill="#663418"/><rect x="57.8" y="237.4" width="0.9" height="1.2" fill="#52240f"/><rect x="49" y="254.5" width="0.9" height="1.2" fill="#5a3016"/><rect x="66.3" y="220.1" width="0.9" height="1.2" fill="#5e2c14"/><rect x="93.7" y="226.8" width="0.9" height="1.2" fill="#663418"/><rect x="81.8" y="216.1" width="0.9" height="1.2" fill="#663418"/><rect x="65.9" y="218.2" width="0.9" height="1.2" fill="#5a3016"/><rect x="84.7" y="225" width="0.9" height="1.2" fill="#5e2c14"/><rect x="78.6" y="237" width="0.9" height="1.2" fill="#5e2c14"/><rect x="93.9" y="221.3" width="0.9" height="1.2" fill="#2e0a06"/><rect x="47.1" y="244.7" width="0.9" height="1.2" fill="#663418"/><rect x="68.3" y="229.8" width="0.9" height="1.2" fill="#2e0a06"/><rect x="36" y="239" width="0.9" height="1.2" fill="#663418"/><rect x="53.7" y="248.5" width="0.9" height="1.2" fill="#5e2c14"/><rect x="96.3" y="231.4" width="0.9" height="1.2" fill="#663418"/><rect x="55" y="226.4" width="0.9" height="1.2" fill="#52240f"/><rect x="83.5" y="234.1" width="0.9" height="1.2" fill="#2e0a06"/><rect x="52.5" y="238.5" width="0.9" height="1.2" fill="#5e2c14"/><rect x="69.8" y="218.2" width="0.9" height="1.2" fill="#663418"/><rect x="77.9" y="231.3" width="0.9" height="1.2" fill="#5a3016"/><rect x="77.9" y="238.4" width="0.9" height="1.2" fill="#5e2c14"/><rect x="97.1" y="225.3" width="0.9" height="1.2" fill="#52240f"/><rect x="51.8" y="243.4" width="0.9" height="1.2" fill="#52240f"/><rect x="66.7" y="248" width="0.9" height="1.2" fill="#5e2c14"/><rect x="63.9" y="221.8" width="0.9" height="1.2" fill="#52240f"/><rect x="42" y="228.7" width="0.9" height="1.2" fill="#663418"/><rect x="59.6" y="240.4" width="0.9" height="1.2" fill="#5e2c14"/><rect x="85" y="232.2" width="0.9" height="1.2" fill="#5e2c14"/><rect x="64.8" y="242.7" width="0.9" height="1.2" fill="#5a3016"/><rect x="42.7" y="252.7" width="0.9" height="1.2" fill="#5a3016"/><rect x="57.8" y="232.4" width="0.9" height="1.2" fill="#663418"/><rect x="51.7" y="228.3" width="0.9" height="1.2" fill="#2e0a06"/><rect x="41.4" y="257" width="0.9" height="1.2" fill="#663418"/><rect x="104.5" y="221.3" width="0.9" height="1.2" fill="#2e0a06"/><rect x="68.2" y="237.4" width="0.9" height="1.2" fill="#5a3016"/><rect x="58.7" y="247.2" width="0.9" height="1.2" fill="#663418"/><rect x="42.6" y="243.1" width="0.9" height="1.2" fill="#2e0a06"/><rect x="72.1" y="241.7" width="0.9" height="1.2" fill="#663418"/><rect x="64.3" y="224.8" width="0.9" height="1.2" fill="#5a3016"/><rect x="72.7" y="234.7" width="0.9" height="1.2" fill="#2e0a06"/><rect x="65.2" y="232.6" width="0.9" height="1.2" fill="#2e0a06"/><rect x="64.6" y="243.1" width="0.9" height="1.2" fill="#663418"/><rect x="39.3" y="234.4" width="0.9" height="1.2" fill="#5a3016"/><rect x="42.5" y="236.7" width="0.9" height="1.2" fill="#663418"/><rect x="75.7" y="224.8" width="0.9" height="1.2" fill="#5e2c14"/><rect x="62" y="237" width="0.9" height="1.2" fill="#2e0a06"/><rect x="49.6" y="248.9" width="0.9" height="1.2" fill="#2e0a06"/><rect x="87.8" y="233.6" width="0.9" height="1.2" fill="#663418"/><rect x="64.8" y="248.6" width="0.9" height="1.2" fill="#5a3016"/><rect x="37" y="258.3" width="0.9" height="1.2" fill="#52240f"/><rect x="72.1" y="219.4" width="0.9" height="1.2" fill="#52240f"/><rect x="62.9" y="243.3" width="0.9" height="1.2" fill="#2e0a06"/><rect x="84.3" y="238" width="0.9" height="1.2" fill="#2e0a06"/><rect x="91.5" y="221.4" width="0.9" height="1.2" fill="#2e0a06"/><rect x="57.9" y="242.8" width="0.9" height="1.2" fill="#5a3016"/><rect x="58.4" y="242.1" width="0.9" height="1.2" fill="#5a3016"/><rect x="88.7" y="235.1" width="0.9" height="1.2" fill="#663418"/><rect x="67.1" y="213.3" width="0.9" height="1.2" fill="#2e0a06"/><rect x="78.4" y="230.8" width="0.9" height="1.2" fill="#5a3016"/><rect x="101.1" y="225.3" width="0.9" height="1.2" fill="#663418"/><rect x="55" y="242.8" width="0.9" height="1.2" fill="#5a3016"/><rect x="73.9" y="224.3" width="0.9" height="1.2" fill="#5a3016"/><rect x="52.4" y="219.7" width="0.9" height="1.2" fill="#5e2c14"/><rect x="62.8" y="229.8" width="0.9" height="1.2" fill="#2e0a06"/><rect x="58.5" y="248.3" width="0.9" height="1.2" fill="#52240f"/><rect x="111" y="222.4" width="0.9" height="1.2" fill="#5e2c14"/><rect x="64" y="228.8" width="0.9" height="1.2" fill="#5e2c14"/><rect x="58.4" y="251.4" width="0.9" height="1.2" fill="#52240f"/><rect x="81.7" y="217.8" width="0.9" height="1.2" fill="#5e2c14"/><rect x="102.2" y="223.8" width="0.9" height="1.2" fill="#52240f"/><rect x="79.5" y="242" width="0.9" height="1.2" fill="#5a3016"/><rect x="46.3" y="243.1" width="0.9" height="1.2" fill="#52240f"/><rect x="105.8" y="224.6" width="0.9" height="1.2" fill="#5a3016"/><rect x="36.7" y="259.8" width="0.9" height="1.2" fill="#52240f"/><rect x="68.2" y="246.8" width="0.9" height="1.2" fill="#5a3016"/><rect x="53.7" y="234.4" width="0.9" height="1.2" fill="#5e2c14"/><rect x="42.7" y="225.4" width="0.9" height="1.2" fill="#663418"/><rect x="76.1" y="239" width="0.9" height="1.2" fill="#5e2c14"/><rect x="54.7" y="242.8" width="0.9" height="1.2" fill="#663418"/><rect x="104.1" y="226.5" width="0.9" height="1.2" fill="#663418"/>
<rect x="78.7" y="239.1" width="0.8" height="1.1" fill="#84683a"/><rect x="103.7" y="221.4" width="0.8" height="1.1" fill="#84683a"/><rect x="97.1" y="229" width="0.8" height="1.1" fill="#6a5428"/><rect x="99.1" y="230.6" width="0.8" height="1.1" fill="#5e4a22"/><rect x="60.3" y="244.1" width="0.8" height="1.1" fill="#84683a"/><rect x="66.5" y="224.6" width="0.8" height="1.1" fill="#6a5428"/><rect x="93" y="220" width="0.8" height="1.1" fill="#6a5428"/><rect x="75.3" y="237.6" width="0.8" height="1.1" fill="#84683a"/><rect x="108.3" y="222.7" width="0.8" height="1.1" fill="#5e4a22"/><rect x="77" y="229.7" width="0.8" height="1.1" fill="#5e4a22"/><rect x="57.3" y="227" width="0.8" height="1.1" fill="#5e4a22"/><rect x="91.1" y="223.6" width="0.8" height="1.1" fill="#5e4a22"/><rect x="64.5" y="234.6" width="0.8" height="1.1" fill="#6a5428"/><rect x="76.5" y="225.1" width="0.8" height="1.1" fill="#84683a"/><rect x="72.6" y="236.1" width="0.8" height="1.1" fill="#6a5428"/><rect x="65.5" y="248.8" width="0.8" height="1.1" fill="#7a6430"/><rect x="94.2" y="232.1" width="0.8" height="1.1" fill="#6a5428"/><rect x="90.9" y="235.4" width="0.8" height="1.1" fill="#5e4a22"/><rect x="68" y="220.7" width="0.8" height="1.1" fill="#6a5428"/><rect x="108.3" y="224.8" width="0.8" height="1.1" fill="#5e4a22"/><rect x="102.2" y="224.9" width="0.8" height="1.1" fill="#6a5428"/><rect x="90.3" y="218.2" width="0.8" height="1.1" fill="#84683a"/><rect x="38.7" y="254.9" width="0.8" height="1.1" fill="#5e4a22"/><rect x="71.5" y="242.2" width="0.8" height="1.1" fill="#7a6430"/><rect x="102.2" y="224.9" width="0.8" height="1.1" fill="#7a6430"/><rect x="71.4" y="238.7" width="0.8" height="1.1" fill="#7a6430"/><rect x="64.1" y="236.9" width="0.8" height="1.1" fill="#5e4a22"/><rect x="42.2" y="233.6" width="0.8" height="1.1" fill="#6a5428"/><rect x="87.2" y="227.2" width="0.8" height="1.1" fill="#6a5428"/><rect x="42.5" y="245.6" width="0.8" height="1.1" fill="#84683a"/><rect x="104.2" y="224.2" width="0.8" height="1.1" fill="#7a6430"/><rect x="110.1" y="224.2" width="0.8" height="1.1" fill="#84683a"/><rect x="84" y="231.1" width="0.8" height="1.1" fill="#7a6430"/><rect x="97.4" y="224.7" width="0.8" height="1.1" fill="#7a6430"/><rect x="66.5" y="225.6" width="0.8" height="1.1" fill="#7a6430"/><rect x="67" y="220.1" width="0.8" height="1.1" fill="#5e4a22"/><rect x="107.1" y="223.1" width="0.8" height="1.1" fill="#5e4a22"/><rect x="99.3" y="220.8" width="0.8" height="1.1" fill="#7a6430"/><rect x="73" y="243.5" width="0.8" height="1.1" fill="#7a6430"/><rect x="88.4" y="221.7" width="0.8" height="1.1" fill="#84683a"/><rect x="75.4" y="223.3" width="0.8" height="1.1" fill="#7a6430"/><rect x="41.3" y="236.6" width="0.8" height="1.1" fill="#5e4a22"/><rect x="71.6" y="240.1" width="0.8" height="1.1" fill="#7a6430"/><rect x="56.7" y="243.3" width="0.8" height="1.1" fill="#7a6430"/><rect x="76.1" y="231.2" width="0.8" height="1.1" fill="#84683a"/><rect x="96.7" y="219.1" width="0.8" height="1.1" fill="#6a5428"/><rect x="68.7" y="219.7" width="0.8" height="1.1" fill="#7a6430"/><rect x="52.9" y="237.4" width="0.8" height="1.1" fill="#84683a"/><rect x="85.1" y="226.4" width="0.8" height="1.1" fill="#5e4a22"/><rect x="48.2" y="231" width="0.8" height="1.1" fill="#5e4a22"/><rect x="91.4" y="220.8" width="0.8" height="1.1" fill="#5e4a22"/><rect x="85.9" y="219" width="0.8" height="1.1" fill="#5e4a22"/><rect x="96.1" y="228.5" width="0.8" height="1.1" fill="#7a6430"/><rect x="61.5" y="219.8" width="0.8" height="1.1" fill="#6a5428"/><rect x="47" y="232.7" width="0.8" height="1.1" fill="#6a5428"/><rect x="65.4" y="236.4" width="0.8" height="1.1" fill="#7a6430"/><rect x="110.6" y="225" width="0.8" height="1.1" fill="#7a6430"/><rect x="67.4" y="239" width="0.8" height="1.1" fill="#6a5428"/><rect x="99.3" y="231.5" width="0.8" height="1.1" fill="#5e4a22"/><rect x="68.2" y="226.1" width="0.8" height="1.1" fill="#5e4a22"/><rect x="91.6" y="222.7" width="0.8" height="1.1" fill="#6a5428"/><rect x="85.8" y="238.3" width="0.8" height="1.1" fill="#6a5428"/><rect x="65.2" y="230.7" width="0.8" height="1.1" fill="#6a5428"/><rect x="102.8" y="224" width="0.8" height="1.1" fill="#84683a"/><rect x="83.6" y="227.9" width="0.8" height="1.1" fill="#7a6430"/><rect x="73.4" y="232.6" width="0.8" height="1.1" fill="#7a6430"/><rect x="78.4" y="229" width="0.8" height="1.1" fill="#6a5428"/><rect x="92.9" y="231" width="0.8" height="1.1" fill="#6a5428"/><rect x="92.8" y="223.6" width="0.8" height="1.1" fill="#7a6430"/><rect x="96.9" y="225" width="0.8" height="1.1" fill="#84683a"/><rect x="109.2" y="225.8" width="0.8" height="1.1" fill="#7a6430"/><rect x="79.9" y="237.9" width="0.8" height="1.1" fill="#6a5428"/><rect x="88.4" y="219.7" width="0.8" height="1.1" fill="#84683a"/><rect x="57.7" y="253.8" width="0.8" height="1.1" fill="#7a6430"/><rect x="93.4" y="223.1" width="0.8" height="1.1" fill="#7a6430"/><rect x="107.6" y="222.7" width="0.8" height="1.1" fill="#5e4a22"/><rect x="96.5" y="227.3" width="0.8" height="1.1" fill="#5e4a22"/><rect x="61" y="215.1" width="0.8" height="1.1" fill="#84683a"/><rect x="101.1" y="227.4" width="0.8" height="1.1" fill="#84683a"/><rect x="53.2" y="253.9" width="0.8" height="1.1" fill="#6a5428"/><rect x="49.4" y="253.6" width="0.8" height="1.1" fill="#7a6430"/><rect x="90.2" y="225.3" width="0.8" height="1.1" fill="#5e4a22"/><rect x="79.3" y="222.5" width="0.8" height="1.1" fill="#84683a"/><rect x="77.8" y="217.6" width="0.8" height="1.1" fill="#6a5428"/><rect x="86.2" y="232.1" width="0.8" height="1.1" fill="#5e4a22"/><rect x="65.9" y="214.1" width="0.8" height="1.1" fill="#6a5428"/><rect x="98.7" y="231.5" width="0.8" height="1.1" fill="#84683a"/><rect x="78.5" y="223.5" width="0.8" height="1.1" fill="#84683a"/><rect x="55.5" y="234.7" width="0.8" height="1.1" fill="#84683a"/><rect x="101.1" y="229.6" width="0.8" height="1.1" fill="#84683a"/><rect x="88" y="226.4" width="0.8" height="1.1" fill="#6a5428"/><rect x="69.7" y="232.4" width="0.8" height="1.1" fill="#6a5428"/><rect x="99.5" y="229.1" width="0.8" height="1.1" fill="#6a5428"/><rect x="71.5" y="243.8" width="0.8" height="1.1" fill="#6a5428"/><rect x="84.2" y="232.2" width="0.8" height="1.1" fill="#6a5428"/><rect x="63.2" y="223.6" width="0.8" height="1.1" fill="#6a5428"/><rect x="37.3" y="263.7" width="0.8" height="1.1" fill="#6a5428"/><rect x="75" y="225" width="0.8" height="1.1" fill="#6a5428"/><rect x="84.2" y="221.2" width="0.8" height="1.1" fill="#84683a"/><rect x="104.2" y="226.4" width="0.8" height="1.1" fill="#6a5428"/><rect x="57.7" y="248.4" width="0.8" height="1.1" fill="#84683a"/><rect x="42.1" y="236.8" width="0.8" height="1.1" fill="#5e4a22"/><rect x="67" y="229.5" width="0.8" height="1.1" fill="#84683a"/><rect x="66" y="247.3" width="0.8" height="1.1" fill="#6a5428"/><rect x="43.1" y="261.9" width="0.8" height="1.1" fill="#5e4a22"/><rect x="91" y="221.7" width="0.8" height="1.1" fill="#84683a"/><rect x="65.3" y="232.9" width="0.8" height="1.1" fill="#6a5428"/><rect x="62.9" y="217.2" width="0.8" height="1.1" fill="#7a6430"/><rect x="84.1" y="237.5" width="0.8" height="1.1" fill="#5e4a22"/><rect x="78.8" y="216.5" width="0.8" height="1.1" fill="#7a6430"/><rect x="51.9" y="242.8" width="0.8" height="1.1" fill="#5e4a22"/><rect x="76.3" y="237.1" width="0.8" height="1.1" fill="#6a5428"/><rect x="86.8" y="220.1" width="0.8" height="1.1" fill="#6a5428"/><rect x="63.6" y="231.9" width="0.8" height="1.1" fill="#5e4a22"/><rect x="103.8" y="224.6" width="0.8" height="1.1" fill="#7a6430"/><rect x="77.2" y="226.7" width="0.8" height="1.1" fill="#5e4a22"/><rect x="102.5" y="227.3" width="0.8" height="1.1" fill="#84683a"/><rect x="73.6" y="232.2" width="0.8" height="1.1" fill="#5e4a22"/><rect x="56.7" y="232.4" width="0.8" height="1.1" fill="#7a6430"/><rect x="60.6" y="213.8" width="0.8" height="1.1" fill="#7a6430"/><rect x="53.6" y="225.5" width="0.8" height="1.1" fill="#6a5428"/><rect x="102.8" y="224.1" width="0.8" height="1.1" fill="#5e4a22"/><rect x="82" y="218.7" width="0.8" height="1.1" fill="#6a5428"/><rect x="81.9" y="222.1" width="0.8" height="1.1" fill="#84683a"/><rect x="51.1" y="219.3" width="0.8" height="1.1" fill="#5e4a22"/><rect x="89.8" y="231.3" width="0.8" height="1.1" fill="#6a5428"/><rect x="76.1" y="239.5" width="0.8" height="1.1" fill="#5e4a22"/><rect x="85.5" y="235.3" width="0.8" height="1.1" fill="#6a5428"/><rect x="85.2" y="217" width="0.8" height="1.1" fill="#6a5428"/><rect x="99.9" y="222.4" width="0.8" height="1.1" fill="#5e4a22"/><rect x="93" y="219.1" width="0.8" height="1.1" fill="#7a6430"/><rect x="79.4" y="235" width="0.8" height="1.1" fill="#5e4a22"/><rect x="67.4" y="225" width="0.8" height="1.1" fill="#84683a"/><rect x="101.1" y="227.3" width="0.8" height="1.1" fill="#5e4a22"/><rect x="96.5" y="222.5" width="0.8" height="1.1" fill="#5e4a22"/><rect x="106.6" y="223.5" width="0.8" height="1.1" fill="#5e4a22"/><rect x="66.5" y="229.1" width="0.8" height="1.1" fill="#7a6430"/><rect x="87.5" y="233.4" width="0.8" height="1.1" fill="#7a6430"/><rect x="72.4" y="233.1" width="0.8" height="1.1" fill="#6a5428"/><rect x="90.1" y="220.5" width="0.8" height="1.1" fill="#6a5428"/><rect x="70.7" y="234.8" width="0.8" height="1.1" fill="#84683a"/><rect x="74.5" y="224.9" width="0.8" height="1.1" fill="#5e4a22"/><rect x="67.6" y="215.7" width="0.8" height="1.1" fill="#5e4a22"/><rect x="50.8" y="251.3" width="0.8" height="1.1" fill="#7a6430"/><rect x="81.9" y="234.5" width="0.8" height="1.1" fill="#6a5428"/><rect x="58.4" y="221" width="0.8" height="1.1" fill="#84683a"/><rect x="58.1" y="252.7" width="0.8" height="1.1" fill="#84683a"/><rect x="55.1" y="247.8" width="0.8" height="1.1" fill="#6a5428"/><rect x="99.8" y="220.4" width="0.8" height="1.1" fill="#7a6430"/><rect x="102.9" y="222.1" width="0.8" height="1.1" fill="#84683a"/><rect x="84.6" y="226.2" width="0.8" height="1.1" fill="#6a5428"/><rect x="78.2" y="230.5" width="0.8" height="1.1" fill="#7a6430"/><rect x="80.7" y="239.1" width="0.8" height="1.1" fill="#5e4a22"/><rect x="62.2" y="231.7" width="0.8" height="1.1" fill="#5e4a22"/><rect x="63.7" y="236.1" width="0.8" height="1.1" fill="#7a6430"/><rect x="103.5" y="225" width="0.8" height="1.1" fill="#84683a"/><rect x="46.5" y="232.9" width="0.8" height="1.1" fill="#84683a"/><rect x="86.4" y="235.4" width="0.8" height="1.1" fill="#84683a"/><rect x="51.2" y="222.4" width="0.8" height="1.1" fill="#6a5428"/><rect x="72.6" y="229.5" width="0.8" height="1.1" fill="#6a5428"/><rect x="83.8" y="237.1" width="0.8" height="1.1" fill="#6a5428"/><rect x="83.7" y="220.7" width="0.8" height="1.1" fill="#6a5428"/><rect x="100.5" y="227.9" width="0.8" height="1.1" fill="#6a5428"/><rect x="68.4" y="241.6" width="0.8" height="1.1" fill="#6a5428"/><rect x="82.3" y="239.3" width="0.8" height="1.1" fill="#7a6430"/><rect x="59.7" y="249.2" width="0.8" height="1.1" fill="#6a5428"/><rect x="58.1" y="239.4" width="0.8" height="1.1" fill="#7a6430"/><rect x="96.7" y="226.9" width="0.8" height="1.1" fill="#84683a"/><rect x="60.9" y="214.4" width="0.8" height="1.1" fill="#7a6430"/><rect x="53.1" y="236.7" width="0.8" height="1.1" fill="#6a5428"/><rect x="77.5" y="240.4" width="0.8" height="1.1" fill="#5e4a22"/><rect x="61" y="241.9" width="0.8" height="1.1" fill="#84683a"/><rect x="87.6" y="220.3" width="0.8" height="1.1" fill="#84683a"/><rect x="96.6" y="227.3" width="0.8" height="1.1" fill="#84683a"/><rect x="57" y="235.7" width="0.8" height="1.1" fill="#5e4a22"/><rect x="94" y="228.9" width="0.8" height="1.1" fill="#5e4a22"/><rect x="88.2" y="220.3" width="0.8" height="1.1" fill="#7a6430"/><rect x="58.8" y="217.4" width="0.8" height="1.1" fill="#6a5428"/><rect x="83.9" y="232.6" width="0.8" height="1.1" fill="#7a6430"/><rect x="88.8" y="235.4" width="0.8" height="1.1" fill="#84683a"/><rect x="61.8" y="228.4" width="0.8" height="1.1" fill="#84683a"/><rect x="56.9" y="225" width="0.8" height="1.1" fill="#6a5428"/><rect x="45.6" y="248.5" width="0.8" height="1.1" fill="#5e4a22"/><rect x="65.8" y="214.4" width="0.8" height="1.1" fill="#84683a"/><rect x="101.9" y="220" width="0.8" height="1.1" fill="#7a6430"/><rect x="74.4" y="225.2" width="0.8" height="1.1" fill="#5e4a22"/><rect x="68.8" y="233.6" width="0.8" height="1.1" fill="#5e4a22"/><rect x="79.8" y="229.7" width="0.8" height="1.1" fill="#5e4a22"/><rect x="41.8" y="254" width="0.8" height="1.1" fill="#5e4a22"/><rect x="71.6" y="239.9" width="0.8" height="1.1" fill="#84683a"/><rect x="69.4" y="237.5" width="0.8" height="1.1" fill="#7a6430"/><rect x="54.3" y="225.3" width="0.8" height="1.1" fill="#6a5428"/><rect x="75.1" y="217.5" width="0.8" height="1.1" fill="#6a5428"/><rect x="82.3" y="236.2" width="0.8" height="1.1" fill="#7a6430"/><rect x="103.9" y="227.7" width="0.8" height="1.1" fill="#5e4a22"/><rect x="58" y="253.6" width="0.8" height="1.1" fill="#84683a"/><rect x="78.1" y="229.5" width="0.8" height="1.1" fill="#6a5428"/><rect x="67.7" y="224.1" width="0.8" height="1.1" fill="#5e4a22"/><rect x="65.1" y="230.1" width="0.8" height="1.1" fill="#7a6430"/><rect x="81.4" y="239.6" width="0.8" height="1.1" fill="#6a5428"/><rect x="56.3" y="220.7" width="0.8" height="1.1" fill="#84683a"/><rect x="65" y="240.9" width="0.8" height="1.1" fill="#7a6430"/><rect x="91.9" y="219.8" width="0.8" height="1.1" fill="#84683a"/><rect x="79.2" y="233.5" width="0.8" height="1.1" fill="#84683a"/><rect x="89.2" y="225.5" width="0.8" height="1.1" fill="#5e4a22"/><rect x="81.3" y="223.5" width="0.8" height="1.1" fill="#84683a"/><rect x="78.2" y="226" width="0.8" height="1.1" fill="#7a6430"/><rect x="86.8" y="231.5" width="0.8" height="1.1" fill="#6a5428"/><rect x="86.4" y="236.8" width="0.8" height="1.1" fill="#5e4a22"/><rect x="88.2" y="229.7" width="0.8" height="1.1" fill="#7a6430"/><rect x="64.9" y="231.1" width="0.8" height="1.1" fill="#5e4a22"/><rect x="90.4" y="221.3" width="0.8" height="1.1" fill="#7a6430"/><rect x="100" y="220.1" width="0.8" height="1.1" fill="#84683a"/><rect x="67.5" y="215.6" width="0.8" height="1.1" fill="#5e4a22"/><rect x="42.7" y="257.6" width="0.8" height="1.1" fill="#84683a"/><rect x="67.2" y="220.4" width="0.8" height="1.1" fill="#7a6430"/><rect x="74.7" y="232.7" width="0.8" height="1.1" fill="#7a6430"/><rect x="100.8" y="220.7" width="0.8" height="1.1" fill="#5e4a22"/><rect x="99.3" y="224.5" width="0.8" height="1.1" fill="#84683a"/><rect x="67.8" y="242.8" width="0.8" height="1.1" fill="#84683a"/>
<rect x="406.3" y="239.9" width="1" height="1.3" fill="#7a4a1c"/><rect x="416.9" y="235.1" width="1" height="1.3" fill="#5e3410"/><rect x="435.4" y="225.2" width="1" height="1.3" fill="#6a3e16"/><rect x="419.6" y="230.9" width="1" height="1.3" fill="#5e3410"/><rect x="431.1" y="219.7" width="1" height="1.3" fill="#8a5624"/><rect x="429.5" y="223.4" width="1" height="1.3" fill="#5e3410"/><rect x="407.8" y="242" width="1" height="1.3" fill="#6a3e16"/><rect x="416.7" y="238.8" width="1" height="1.3" fill="#6a3e16"/><rect x="441.2" y="222.6" width="1" height="1.3" fill="#7a4a1c"/><rect x="420.8" y="223.8" width="1" height="1.3" fill="#6a3e16"/><rect x="439.5" y="217.3" width="1" height="1.3" fill="#7a4a1c"/><rect x="408.8" y="239.4" width="1" height="1.3" fill="#6a3e16"/><rect x="425.2" y="237.4" width="1" height="1.3" fill="#946432"/><rect x="434.6" y="231.5" width="1" height="1.3" fill="#8a5624"/><rect x="408.3" y="231.7" width="1" height="1.3" fill="#946432"/><rect x="423.3" y="233.6" width="1" height="1.3" fill="#946432"/><rect x="426.2" y="223.7" width="1" height="1.3" fill="#5e3410"/><rect x="413.6" y="232" width="1" height="1.3" fill="#8a5624"/><rect x="422.1" y="234.5" width="1" height="1.3" fill="#7a4a1c"/><rect x="428.6" y="233.5" width="1" height="1.3" fill="#8a5624"/><rect x="414.3" y="229.2" width="1" height="1.3" fill="#8a5624"/><rect x="413.1" y="231.2" width="1" height="1.3" fill="#6a3e16"/><rect x="433.5" y="232" width="1" height="1.3" fill="#5e3410"/><rect x="428.9" y="223.2" width="1" height="1.3" fill="#6a3e16"/><rect x="431.7" y="243.3" width="1" height="1.3" fill="#946432"/><rect x="418.3" y="230.4" width="1" height="1.3" fill="#6a3e16"/><rect x="435.8" y="223.7" width="1" height="1.3" fill="#5e3410"/><rect x="418.4" y="221.3" width="1" height="1.3" fill="#6a3e16"/><rect x="408.4" y="238.9" width="1" height="1.3" fill="#6a3e16"/><rect x="440.2" y="223.9" width="1" height="1.3" fill="#7a4a1c"/><rect x="435.5" y="234.3" width="1" height="1.3" fill="#6a3e16"/><rect x="426.8" y="232" width="1" height="1.3" fill="#8a5624"/><rect x="429.4" y="232.5" width="1" height="1.3" fill="#7a4a1c"/><rect x="432.9" y="239.9" width="1" height="1.3" fill="#8a5624"/><rect x="421.5" y="233.1" width="1" height="1.3" fill="#7a4a1c"/><rect x="431.2" y="238.8" width="1" height="1.3" fill="#6a3e16"/><rect x="437.4" y="225.4" width="1" height="1.3" fill="#7a4a1c"/><rect x="420.3" y="223.4" width="1" height="1.3" fill="#7a4a1c"/><rect x="418.4" y="222.5" width="1" height="1.3" fill="#946432"/><rect x="425.3" y="222.4" width="1" height="1.3" fill="#7a4a1c"/><rect x="412.6" y="231.6" width="1" height="1.3" fill="#5e3410"/><rect x="411" y="226.9" width="1" height="1.3" fill="#5e3410"/><rect x="419.1" y="220.9" width="1" height="1.3" fill="#7a4a1c"/><rect x="412.2" y="232.3" width="1" height="1.3" fill="#946432"/><rect x="419.9" y="228.1" width="1" height="1.3" fill="#8a5624"/><rect x="444.4" y="229.2" width="1" height="1.3" fill="#8a5624"/><rect x="415.7" y="237.4" width="1" height="1.3" fill="#946432"/><rect x="418.1" y="236.3" width="1" height="1.3" fill="#7a4a1c"/><rect x="431.4" y="239.7" width="1" height="1.3" fill="#7a4a1c"/><rect x="440.6" y="231.2" width="1" height="1.3" fill="#8a5624"/><rect x="417" y="225.5" width="1" height="1.3" fill="#6a3e16"/><rect x="429.3" y="230.8" width="1" height="1.3" fill="#8a5624"/><rect x="427.2" y="222.9" width="1" height="1.3" fill="#8a5624"/><rect x="427" y="226.3" width="1" height="1.3" fill="#6a3e16"/><rect x="430.4" y="232.1" width="1" height="1.3" fill="#6a3e16"/><rect x="427.9" y="238.8" width="1" height="1.3" fill="#6a3e16"/><rect x="417.1" y="228.8" width="1" height="1.3" fill="#5e3410"/><rect x="421.2" y="242.7" width="1" height="1.3" fill="#7a4a1c"/><rect x="439.7" y="241.4" width="1" height="1.3" fill="#946432"/><rect x="421.7" y="232.8" width="1" height="1.3" fill="#6a3e16"/><rect x="416.4" y="231.2" width="1" height="1.3" fill="#6a3e16"/><rect x="425.1" y="242.9" width="1" height="1.3" fill="#5e3410"/><rect x="430" y="217" width="1" height="1.3" fill="#5e3410"/><rect x="421.6" y="230.7" width="1" height="1.3" fill="#946432"/><rect x="441.4" y="233.1" width="1" height="1.3" fill="#6a3e16"/><rect x="430" y="230.4" width="1" height="1.3" fill="#8a5624"/><rect x="414.1" y="222.8" width="1" height="1.3" fill="#6a3e16"/><rect x="415.5" y="225" width="1" height="1.3" fill="#8a5624"/><rect x="425.9" y="226.9" width="1" height="1.3" fill="#8a5624"/><rect x="423.3" y="230.4" width="1" height="1.3" fill="#6a3e16"/><rect x="419.6" y="239.9" width="1" height="1.3" fill="#5e3410"/><rect x="426.4" y="243.3" width="1" height="1.3" fill="#5e3410"/><rect x="415.5" y="236.9" width="1" height="1.3" fill="#7a4a1c"/><rect x="425.9" y="230.6" width="1" height="1.3" fill="#7a4a1c"/><rect x="432.1" y="229.6" width="1" height="1.3" fill="#6a3e16"/><rect x="413.9" y="235.2" width="1" height="1.3" fill="#8a5624"/><rect x="436.6" y="222.4" width="1" height="1.3" fill="#8a5624"/><rect x="422.1" y="232.3" width="1" height="1.3" fill="#8a5624"/><rect x="426.5" y="230.2" width="1" height="1.3" fill="#8a5624"/><rect x="432.5" y="230.8" width="1" height="1.3" fill="#946432"/><rect x="412" y="242.2" width="1" height="1.3" fill="#6a3e16"/><rect x="428.6" y="238.5" width="1" height="1.3" fill="#5e3410"/><rect x="425.8" y="226.7" width="1" height="1.3" fill="#7a4a1c"/><rect x="425.4" y="237.4" width="1" height="1.3" fill="#946432"/><rect x="441.3" y="228.9" width="1" height="1.3" fill="#7a4a1c"/><rect x="421.7" y="229.2" width="1" height="1.3" fill="#8a5624"/><rect x="432" y="228.8" width="1" height="1.3" fill="#7a4a1c"/><rect x="423" y="218.4" width="1" height="1.3" fill="#5e3410"/><rect x="436.4" y="231.4" width="1" height="1.3" fill="#6a3e16"/><rect x="424.7" y="230.1" width="1" height="1.3" fill="#946432"/><rect x="429.9" y="229.4" width="1" height="1.3" fill="#946432"/><rect x="425" y="225" width="1" height="1.3" fill="#5e3410"/><rect x="418.4" y="232.2" width="1" height="1.3" fill="#7a4a1c"/><rect x="427.7" y="222.4" width="1" height="1.3" fill="#8a5624"/><rect x="417.7" y="238.2" width="1" height="1.3" fill="#5e3410"/><rect x="432.4" y="237.9" width="1" height="1.3" fill="#946432"/><rect x="407.6" y="228.8" width="1" height="1.3" fill="#5e3410"/><rect x="425.9" y="241.1" width="1" height="1.3" fill="#8a5624"/><rect x="411.3" y="231.4" width="1" height="1.3" fill="#946432"/><rect x="438.6" y="227.8" width="1" height="1.3" fill="#8a5624"/><rect x="430.4" y="237" width="1" height="1.3" fill="#946432"/><rect x="423.2" y="224.6" width="1" height="1.3" fill="#946432"/><rect x="407.1" y="231.9" width="1" height="1.3" fill="#7a4a1c"/><rect x="424.2" y="230.1" width="1" height="1.3" fill="#8a5624"/><rect x="432.4" y="227.3" width="1" height="1.3" fill="#946432"/><rect x="417.3" y="224.2" width="1" height="1.3" fill="#946432"/><rect x="425.6" y="221.3" width="1" height="1.3" fill="#5e3410"/><rect x="418" y="233.7" width="1" height="1.3" fill="#6a3e16"/><rect x="444.1" y="230.7" width="1" height="1.3" fill="#7a4a1c"/><rect x="414.2" y="233.2" width="1" height="1.3" fill="#946432"/><rect x="421.4" y="220.1" width="1" height="1.3" fill="#946432"/><rect x="431.5" y="230.6" width="1" height="1.3" fill="#946432"/><rect x="415.8" y="224.7" width="1" height="1.3" fill="#7a4a1c"/><rect x="411.9" y="234.4" width="1" height="1.3" fill="#6a3e16"/><rect x="429.8" y="246.4" width="1" height="1.3" fill="#7a4a1c"/><rect x="436.3" y="225.3" width="1" height="1.3" fill="#7a4a1c"/><rect x="419" y="219.7" width="1" height="1.3" fill="#8a5624"/><rect x="440.2" y="229.1" width="1" height="1.3" fill="#5e3410"/><rect x="409.4" y="227.8" width="1" height="1.3" fill="#7a4a1c"/><rect x="416.9" y="223" width="1" height="1.3" fill="#5e3410"/><rect x="435" y="223.8" width="1" height="1.3" fill="#6a3e16"/><rect x="436.2" y="222.5" width="1" height="1.3" fill="#5e3410"/><rect x="413.3" y="225.9" width="1" height="1.3" fill="#946432"/><rect x="420" y="238.6" width="1" height="1.3" fill="#6a3e16"/><rect x="432.7" y="223.4" width="1" height="1.3" fill="#8a5624"/><rect x="432.5" y="228" width="1" height="1.3" fill="#5e3410"/><rect x="417.5" y="232.5" width="1" height="1.3" fill="#7a4a1c"/><rect x="422.9" y="231.8" width="1" height="1.3" fill="#5e3410"/><rect x="417.7" y="238.2" width="1" height="1.3" fill="#946432"/><rect x="424.8" y="248.2" width="1" height="1.3" fill="#946432"/><rect x="414.2" y="228.3" width="1" height="1.3" fill="#8a5624"/><rect x="435.8" y="223.9" width="1" height="1.3" fill="#5e3410"/><rect x="420.7" y="234.6" width="1" height="1.3" fill="#5e3410"/><rect x="421" y="225.1" width="1" height="1.3" fill="#5e3410"/><rect x="416.8" y="225.3" width="1" height="1.3" fill="#8a5624"/><rect x="428.9" y="233.8" width="1" height="1.3" fill="#8a5624"/><rect x="427.3" y="231.4" width="1" height="1.3" fill="#946432"/><rect x="443.6" y="231" width="1" height="1.3" fill="#8a5624"/><rect x="419.7" y="232.9" width="1" height="1.3" fill="#5e3410"/><rect x="437.8" y="228.1" width="1" height="1.3" fill="#946432"/><rect x="428.1" y="230.7" width="1" height="1.3" fill="#7a4a1c"/><rect x="419.6" y="224.1" width="1" height="1.3" fill="#5e3410"/><rect x="411.6" y="232.9" width="1" height="1.3" fill="#5e3410"/><rect x="425" y="230.1" width="1" height="1.3" fill="#5e3410"/><rect x="418.7" y="234.9" width="1" height="1.3" fill="#5e3410"/><rect x="437.7" y="227.5" width="1" height="1.3" fill="#946432"/><rect x="430.1" y="225.1" width="1" height="1.3" fill="#8a5624"/><rect x="413.8" y="230.8" width="1" height="1.3" fill="#7a4a1c"/><rect x="420.9" y="237.9" width="1" height="1.3" fill="#5e3410"/><rect x="431" y="227.3" width="1" height="1.3" fill="#5e3410"/><rect x="419.3" y="237.5" width="1" height="1.3" fill="#946432"/><rect x="420.7" y="235.8" width="1" height="1.3" fill="#7a4a1c"/><rect x="424.4" y="219.6" width="1" height="1.3" fill="#7a4a1c"/><rect x="423.3" y="230.5" width="1" height="1.3" fill="#8a5624"/><rect x="416.9" y="232" width="1" height="1.3" fill="#8a5624"/><rect x="436.7" y="233.4" width="1" height="1.3" fill="#5e3410"/><rect x="426.7" y="233.9" width="1" height="1.3" fill="#7a4a1c"/><rect x="422.3" y="231.7" width="1" height="1.3" fill="#5e3410"/><rect x="426.1" y="231.1" width="1" height="1.3" fill="#7a4a1c"/><rect x="425.6" y="228.5" width="1" height="1.3" fill="#6a3e16"/><rect x="418.6" y="229.8" width="1" height="1.3" fill="#8a5624"/><rect x="425.7" y="226.4" width="1" height="1.3" fill="#7a4a1c"/><rect x="418.7" y="231.2" width="1" height="1.3" fill="#7a4a1c"/><rect x="420.5" y="246.8" width="1" height="1.3" fill="#946432"/><rect x="421.4" y="220.5" width="1" height="1.3" fill="#6a3e16"/><rect x="428.1" y="234.2" width="1" height="1.3" fill="#7a4a1c"/><rect x="424.8" y="225.5" width="1" height="1.3" fill="#6a3e16"/><rect x="421.4" y="231.2" width="1" height="1.3" fill="#5e3410"/><rect x="441.3" y="232.6" width="1" height="1.3" fill="#5e3410"/><rect x="416.5" y="230.8" width="1" height="1.3" fill="#946432"/><rect x="418.3" y="225.3" width="1" height="1.3" fill="#5e3410"/><rect x="431.7" y="233.6" width="1" height="1.3" fill="#8a5624"/><rect x="421.9" y="227.7" width="1" height="1.3" fill="#946432"/><rect x="423" y="229.4" width="1" height="1.3" fill="#8a5624"/><rect x="438.7" y="234.7" width="1" height="1.3" fill="#7a4a1c"/><rect x="420.3" y="229.5" width="1" height="1.3" fill="#946432"/><rect x="425.7" y="231.7" width="1" height="1.3" fill="#5e3410"/><rect x="422.9" y="231.2" width="1" height="1.3" fill="#946432"/><rect x="427.4" y="241.4" width="1" height="1.3" fill="#8a5624"/><rect x="410.9" y="233.5" width="1" height="1.3" fill="#5e3410"/><rect x="426.7" y="224.6" width="1" height="1.3" fill="#6a3e16"/><rect x="425.6" y="235.4" width="1" height="1.3" fill="#7a4a1c"/><rect x="424.1" y="224.1" width="1" height="1.3" fill="#946432"/><rect x="420.5" y="231.4" width="1" height="1.3" fill="#6a3e16"/><rect x="417.3" y="229.3" width="1" height="1.3" fill="#5e3410"/><rect x="426.9" y="244.7" width="1" height="1.3" fill="#8a5624"/><rect x="434.5" y="223.8" width="1" height="1.3" fill="#7a4a1c"/><rect x="417.4" y="231.4" width="1" height="1.3" fill="#6a3e16"/><rect x="417.3" y="226.6" width="1" height="1.3" fill="#8a5624"/><rect x="430.8" y="222.3" width="1" height="1.3" fill="#7a4a1c"/><rect x="423.8" y="231" width="1" height="1.3" fill="#8a5624"/><rect x="416.6" y="234.7" width="1" height="1.3" fill="#8a5624"/><rect x="417.4" y="228.9" width="1" height="1.3" fill="#6a3e16"/><rect x="413.5" y="236.9" width="1" height="1.3" fill="#7a4a1c"/><rect x="430.2" y="217.2" width="1" height="1.3" fill="#6a3e16"/><rect x="425.2" y="235.5" width="1" height="1.3" fill="#946432"/><rect x="415.4" y="230.2" width="1" height="1.3" fill="#946432"/><rect x="430.8" y="237.5" width="1" height="1.3" fill="#5e3410"/><rect x="415" y="223.4" width="1" height="1.3" fill="#7a4a1c"/><rect x="422" y="242.1" width="1" height="1.3" fill="#7a4a1c"/><rect x="406.5" y="230.9" width="1" height="1.3" fill="#8a5624"/><rect x="419.5" y="238.4" width="1" height="1.3" fill="#8a5624"/><rect x="413.6" y="236" width="1" height="1.3" fill="#946432"/><rect x="416.6" y="231.1" width="1" height="1.3" fill="#5e3410"/><rect x="430.5" y="229.8" width="1" height="1.3" fill="#8a5624"/><rect x="437.8" y="245.5" width="1" height="1.3" fill="#946432"/><rect x="425.9" y="230.3" width="1" height="1.3" fill="#6a3e16"/><rect x="423.2" y="236.1" width="1" height="1.3" fill="#6a3e16"/><rect x="422.7" y="225.1" width="1" height="1.3" fill="#8a5624"/><rect x="420.9" y="238" width="1" height="1.3" fill="#946432"/><rect x="425" y="220.3" width="1" height="1.3" fill="#8a5624"/><rect x="435.9" y="221.6" width="1" height="1.3" fill="#946432"/><rect x="422.3" y="223.8" width="1" height="1.3" fill="#5e3410"/><rect x="434.9" y="224.3" width="1" height="1.3" fill="#8a5624"/><rect x="437.3" y="230.9" width="1" height="1.3" fill="#946432"/><rect x="439.2" y="226.2" width="1" height="1.3" fill="#6a3e16"/><rect x="413.5" y="228.7" width="1" height="1.3" fill="#946432"/><rect x="416.4" y="235.6" width="1" height="1.3" fill="#5e3410"/><rect x="419.4" y="240.4" width="1" height="1.3" fill="#946432"/><rect x="418.4" y="230.5" width="1" height="1.3" fill="#946432"/><rect x="419.8" y="242.9" width="1" height="1.3" fill="#5e3410"/><rect x="426.6" y="238.4" width="1" height="1.3" fill="#8a5624"/><rect x="432.3" y="226.7" width="1" height="1.3" fill="#5e3410"/><rect x="414.8" y="232.4" width="1" height="1.3" fill="#5e3410"/><rect x="413.5" y="226.7" width="1" height="1.3" fill="#946432"/><rect x="421.5" y="236.1" width="1" height="1.3" fill="#5e3410"/><rect x="432.1" y="217.9" width="1" height="1.3" fill="#7a4a1c"/><rect x="431" y="237" width="1" height="1.3" fill="#946432"/><rect x="413.1" y="233.3" width="1" height="1.3" fill="#946432"/><rect x="406.9" y="232.7" width="1" height="1.3" fill="#8a5624"/><rect x="426" y="231.5" width="1" height="1.3" fill="#946432"/><rect x="412.5" y="228.8" width="1" height="1.3" fill="#7a4a1c"/><rect x="436.5" y="233.1" width="1" height="1.3" fill="#5e3410"/><rect x="419.3" y="230.7" width="1" height="1.3" fill="#6a3e16"/><rect x="427.8" y="233.7" width="1" height="1.3" fill="#6a3e16"/><rect x="444.2" y="234.2" width="1" height="1.3" fill="#6a3e16"/><rect x="419.4" y="228.2" width="1" height="1.3" fill="#946432"/><rect x="414.5" y="223.7" width="1" height="1.3" fill="#6a3e16"/><rect x="424.3" y="222.6" width="1" height="1.3" fill="#946432"/><rect x="445.2" y="240.2" width="1" height="1.3" fill="#8a5624"/><rect x="427.9" y="228.3" width="1" height="1.3" fill="#8a5624"/><rect x="432" y="232.1" width="1" height="1.3" fill="#7a4a1c"/><rect x="434.8" y="238.2" width="1" height="1.3" fill="#946432"/><rect x="430.6" y="222.3" width="1" height="1.3" fill="#7a4a1c"/><rect x="412.6" y="225.6" width="1" height="1.3" fill="#946432"/><rect x="426.8" y="236.2" width="1" height="1.3" fill="#7a4a1c"/><rect x="426.7" y="221.8" width="1" height="1.3" fill="#946432"/><rect x="421" y="221.7" width="1" height="1.3" fill="#7a4a1c"/><rect x="426.8" y="238" width="1" height="1.3" fill="#5e3410"/><rect x="419.7" y="229.1" width="1" height="1.3" fill="#6a3e16"/><rect x="423.3" y="217.4" width="1" height="1.3" fill="#946432"/><rect x="429.5" y="228.6" width="1" height="1.3" fill="#5e3410"/><rect x="415.8" y="232.1" width="1" height="1.3" fill="#6a3e16"/><rect x="414" y="233.8" width="1" height="1.3" fill="#946432"/><rect x="420.8" y="221.9" width="1" height="1.3" fill="#7a4a1c"/><rect x="419.8" y="226.5" width="1" height="1.3" fill="#946432"/><rect x="412.4" y="234.1" width="1" height="1.3" fill="#7a4a1c"/><rect x="430.2" y="228.5" width="1" height="1.3" fill="#7a4a1c"/><rect x="407.2" y="235.3" width="1" height="1.3" fill="#6a3e16"/><rect x="414.1" y="232.1" width="1" height="1.3" fill="#8a5624"/><rect x="414" y="240.4" width="1" height="1.3" fill="#7a4a1c"/><rect x="422.6" y="228.4" width="1" height="1.3" fill="#946432"/><rect x="419" y="231.3" width="1" height="1.3" fill="#8a5624"/><rect x="440.4" y="224.1" width="1" height="1.3" fill="#5e3410"/><rect x="417.8" y="237.4" width="1" height="1.3" fill="#7a4a1c"/><rect x="428.1" y="226.6" width="1" height="1.3" fill="#6a3e16"/><rect x="435.1" y="235.6" width="1" height="1.3" fill="#946432"/><rect x="432.4" y="229.6" width="1" height="1.3" fill="#7a4a1c"/><rect x="420.9" y="229.5" width="1" height="1.3" fill="#5e3410"/><rect x="418.7" y="227.7" width="1" height="1.3" fill="#5e3410"/><rect x="406" y="233.8" width="1" height="1.3" fill="#8a5624"/><rect x="416.3" y="230.3" width="1" height="1.3" fill="#6a3e16"/><rect x="431.8" y="230.9" width="1" height="1.3" fill="#7a4a1c"/><rect x="420.3" y="239.1" width="1" height="1.3" fill="#5e3410"/><rect x="413.8" y="236.8" width="1" height="1.3" fill="#8a5624"/><rect x="409.5" y="229.3" width="1" height="1.3" fill="#5e3410"/><rect x="424.1" y="240.2" width="1" height="1.3" fill="#6a3e16"/><rect x="418" y="236.4" width="1" height="1.3" fill="#6a3e16"/><rect x="416.7" y="223.3" width="1" height="1.3" fill="#6a3e16"/><rect x="422.9" y="236.3" width="1" height="1.3" fill="#6a3e16"/><rect x="433.2" y="234.4" width="1" height="1.3" fill="#7a4a1c"/><rect x="429.2" y="243.7" width="1" height="1.3" fill="#6a3e16"/><rect x="424" y="227.8" width="1" height="1.3" fill="#8a5624"/><rect x="421.3" y="238.5" width="1" height="1.3" fill="#946432"/><rect x="435.1" y="247.1" width="1" height="1.3" fill="#5e3410"/><rect x="434.1" y="232" width="1" height="1.3" fill="#5e3410"/><rect x="434.6" y="228.4" width="1" height="1.3" fill="#8a5624"/><rect x="411" y="230.6" width="1" height="1.3" fill="#7a4a1c"/><rect x="419.5" y="219.6" width="1" height="1.3" fill="#6a3e16"/><rect x="415.1" y="225.8" width="1" height="1.3" fill="#8a5624"/><rect x="431.1" y="233.1" width="1" height="1.3" fill="#5e3410"/><rect x="425.2" y="220.9" width="1" height="1.3" fill="#6a3e16"/><rect x="418.7" y="223.6" width="1" height="1.3" fill="#6a3e16"/><rect x="415.2" y="234.7" width="1" height="1.3" fill="#6a3e16"/><rect x="410.6" y="231.6" width="1" height="1.3" fill="#946432"/><rect x="411.8" y="246.4" width="1" height="1.3" fill="#5e3410"/><rect x="416.1" y="227.7" width="1" height="1.3" fill="#946432"/><rect x="407.4" y="230.3" width="1" height="1.3" fill="#8a5624"/><rect x="414.8" y="221.8" width="1" height="1.3" fill="#8a5624"/><rect x="422.1" y="221.8" width="1" height="1.3" fill="#8a5624"/><rect x="424.6" y="228.7" width="1" height="1.3" fill="#946432"/><rect x="410.4" y="226.5" width="1" height="1.3" fill="#6a3e16"/><rect x="416.7" y="231.2" width="1" height="1.3" fill="#8a5624"/><rect x="430.2" y="224.4" width="1" height="1.3" fill="#7a4a1c"/><rect x="405.2" y="236.3" width="1" height="1.3" fill="#7a4a1c"/><rect x="424.7" y="236.6" width="1" height="1.3" fill="#6a3e16"/><rect x="418.5" y="230.3" width="1" height="1.3" fill="#8a5624"/><rect x="426.7" y="222.8" width="1" height="1.3" fill="#7a4a1c"/><rect x="438.6" y="235.4" width="1" height="1.3" fill="#8a5624"/><rect x="414.9" y="230.1" width="1" height="1.3" fill="#946432"/><rect x="444.4" y="234.7" width="1" height="1.3" fill="#7a4a1c"/><rect x="407" y="229.5" width="1" height="1.3" fill="#8a5624"/><rect x="416.7" y="239.4" width="1" height="1.3" fill="#946432"/><rect x="427.9" y="234.2" width="1" height="1.3" fill="#946432"/><rect x="433.4" y="223.7" width="1" height="1.3" fill="#8a5624"/><rect x="422.4" y="230.7" width="1" height="1.3" fill="#7a4a1c"/><rect x="426.5" y="242.9" width="1" height="1.3" fill="#7a4a1c"/><rect x="432.1" y="227.4" width="1" height="1.3" fill="#7a4a1c"/><rect x="419.3" y="227.5" width="1" height="1.3" fill="#6a3e16"/><rect x="445" y="237.8" width="1" height="1.3" fill="#946432"/><rect x="410.5" y="242.7" width="1" height="1.3" fill="#5e3410"/><rect x="424.3" y="219.6" width="1" height="1.3" fill="#6a3e16"/><rect x="457.2" y="231.5" width="1" height="1.3" fill="#7a4a1c"/><rect x="416.1" y="234.9" width="1" height="1.3" fill="#946432"/><rect x="421.5" y="231.6" width="1" height="1.3" fill="#6a3e16"/><rect x="416.7" y="228.5" width="1" height="1.3" fill="#946432"/><rect x="424.4" y="230.1" width="1" height="1.3" fill="#946432"/><rect x="429.5" y="234" width="1" height="1.3" fill="#6a3e16"/><rect x="412.8" y="232.1" width="1" height="1.3" fill="#946432"/><rect x="431" y="227.7" width="1" height="1.3" fill="#7a4a1c"/><rect x="432.7" y="220.2" width="1" height="1.3" fill="#6a3e16"/><rect x="418.3" y="223.2" width="1" height="1.3" fill="#6a3e16"/><rect x="430.5" y="236.1" width="1" height="1.3" fill="#6a3e16"/><rect x="440.5" y="231.8" width="1" height="1.3" fill="#7a4a1c"/><rect x="411.3" y="238.4" width="1" height="1.3" fill="#8a5624"/><rect x="429.5" y="234.1" width="1" height="1.3" fill="#8a5624"/><rect x="436.5" y="242.1" width="1" height="1.3" fill="#8a5624"/><rect x="424.8" y="227.3" width="1" height="1.3" fill="#946432"/><rect x="429.1" y="230.3" width="1" height="1.3" fill="#8a5624"/><rect x="438.6" y="228.3" width="1" height="1.3" fill="#946432"/><rect x="414" y="236.8" width="1" height="1.3" fill="#8a5624"/><rect x="434.7" y="223.5" width="1" height="1.3" fill="#7a4a1c"/><rect x="437" y="227.1" width="1" height="1.3" fill="#946432"/><rect x="420.7" y="234.4" width="1" height="1.3" fill="#946432"/><rect x="412.1" y="231.8" width="1" height="1.3" fill="#946432"/><rect x="412.9" y="237.1" width="1" height="1.3" fill="#5e3410"/><rect x="430.7" y="216.7" width="1" height="1.3" fill="#7a4a1c"/><rect x="421" y="220.2" width="1" height="1.3" fill="#8a5624"/><rect x="429.7" y="228.9" width="1" height="1.3" fill="#8a5624"/><rect x="436.3" y="240.2" width="1" height="1.3" fill="#6a3e16"/><rect x="426.7" y="219.2" width="1" height="1.3" fill="#7a4a1c"/><rect x="423.2" y="217.4" width="1" height="1.3" fill="#5e3410"/><rect x="416" y="237.7" width="1" height="1.3" fill="#946432"/><rect x="423.3" y="227.6" width="1" height="1.3" fill="#6a3e16"/><rect x="419.1" y="225.1" width="1" height="1.3" fill="#6a3e16"/><rect x="435.8" y="221.4" width="1" height="1.3" fill="#946432"/><rect x="442.8" y="236.7" width="1" height="1.3" fill="#7a4a1c"/><rect x="424.7" y="245.3" width="1" height="1.3" fill="#946432"/><rect x="435.2" y="235.2" width="1" height="1.3" fill="#6a3e16"/><rect x="417.1" y="243.3" width="1" height="1.3" fill="#6a3e16"/><rect x="409.5" y="225.8" width="1" height="1.3" fill="#7a4a1c"/><rect x="421.4" y="233.3" width="1" height="1.3" fill="#5e3410"/><rect x="421.6" y="221.3" width="1" height="1.3" fill="#7a4a1c"/><rect x="420.9" y="231.4" width="1" height="1.3" fill="#8a5624"/><rect x="425.7" y="231.2" width="1" height="1.3" fill="#7a4a1c"/><rect x="416.8" y="242" width="1" height="1.3" fill="#946432"/><rect x="420.4" y="231.6" width="1" height="1.3" fill="#946432"/><rect x="405.5" y="230.1" width="1" height="1.3" fill="#8a5624"/><rect x="413" y="228.5" width="1" height="1.3" fill="#8a5624"/><rect x="425.8" y="223.5" width="1" height="1.3" fill="#6a3e16"/><rect x="432.1" y="229.9" width="1" height="1.3" fill="#7a4a1c"/><rect x="423.3" y="231.8" width="1" height="1.3" fill="#5e3410"/><rect x="428.5" y="236.7" width="1" height="1.3" fill="#946432"/><rect x="433.6" y="225" width="1" height="1.3" fill="#946432"/><rect x="425.6" y="231.1" width="1" height="1.3" fill="#8a5624"/><rect x="430.3" y="234" width="1" height="1.3" fill="#8a5624"/><rect x="419.1" y="234.9" width="1" height="1.3" fill="#6a3e16"/><rect x="437.2" y="236.5" width="1" height="1.3" fill="#946432"/><rect x="417.1" y="222.3" width="1" height="1.3" fill="#8a5624"/><rect x="429.5" y="222.3" width="1" height="1.3" fill="#7a4a1c"/><rect x="426" y="222.3" width="1" height="1.3" fill="#946432"/><rect x="431.4" y="235" width="1" height="1.3" fill="#7a4a1c"/><rect x="416.4" y="237.2" width="1" height="1.3" fill="#6a3e16"/><rect x="432.3" y="229.6" width="1" height="1.3" fill="#7a4a1c"/><rect x="409.1" y="233.5" width="1" height="1.3" fill="#7a4a1c"/><rect x="411.6" y="224.1" width="1" height="1.3" fill="#6a3e16"/><rect x="441.1" y="235.1" width="1" height="1.3" fill="#7a4a1c"/><rect x="432.1" y="245.4" width="1" height="1.3" fill="#946432"/><rect x="424.2" y="238.2" width="1" height="1.3" fill="#5e3410"/><rect x="418.7" y="228.2" width="1" height="1.3" fill="#946432"/><rect x="421.9" y="231.1" width="1" height="1.3" fill="#8a5624"/><rect x="418" y="230.9" width="1" height="1.3" fill="#8a5624"/><rect x="428.5" y="228.4" width="1" height="1.3" fill="#5e3410"/><rect x="435.9" y="239.3" width="1" height="1.3" fill="#6a3e16"/><rect x="436.1" y="234.7" width="1" height="1.3" fill="#7a4a1c"/><rect x="422.2" y="221.5" width="1" height="1.3" fill="#7a4a1c"/><rect x="438" y="217.4" width="1" height="1.3" fill="#5e3410"/><rect x="423.8" y="245.6" width="1" height="1.3" fill="#8a5624"/><rect x="422.6" y="240" width="1" height="1.3" fill="#7a4a1c"/><rect x="419.2" y="235" width="1" height="1.3" fill="#8a5624"/><rect x="437.1" y="222.1" width="1" height="1.3" fill="#8a5624"/><rect x="431.6" y="235.4" width="1" height="1.3" fill="#5e3410"/><rect x="439.5" y="224.2" width="1" height="1.3" fill="#8a5624"/><rect x="430.8" y="227.6" width="1" height="1.3" fill="#5e3410"/><rect x="418.1" y="227.9" width="1" height="1.3" fill="#8a5624"/><rect x="416.5" y="235.1" width="1" height="1.3" fill="#8a5624"/><rect x="428.7" y="219.6" width="1" height="1.3" fill="#5e3410"/><rect x="419.8" y="228.9" width="1" height="1.3" fill="#7a4a1c"/><rect x="438.2" y="228.2" width="1" height="1.3" fill="#6a3e16"/><rect x="420.8" y="222.5" width="1" height="1.3" fill="#8a5624"/><rect x="406.3" y="243.4" width="1" height="1.3" fill="#6a3e16"/><rect x="435" y="225.8" width="1" height="1.3" fill="#946432"/><rect x="416.3" y="239.4" width="1" height="1.3" fill="#8a5624"/><rect x="422.8" y="233.4" width="1" height="1.3" fill="#6a3e16"/><rect x="441.4" y="222.2" width="1" height="1.3" fill="#8a5624"/><rect x="419.2" y="234" width="1" height="1.3" fill="#5e3410"/><rect x="416.7" y="225.4" width="1" height="1.3" fill="#7a4a1c"/><rect x="417.6" y="221.7" width="1" height="1.3" fill="#946432"/><rect x="419.1" y="227.1" width="1" height="1.3" fill="#5e3410"/><rect x="421" y="224.9" width="1" height="1.3" fill="#5e3410"/><rect x="414.1" y="231.8" width="1" height="1.3" fill="#6a3e16"/><rect x="423.4" y="225.5" width="1" height="1.3" fill="#6a3e16"/><rect x="417.5" y="222" width="1" height="1.3" fill="#5e3410"/><rect x="421.5" y="231.1" width="1" height="1.3" fill="#5e3410"/><rect x="424.7" y="219.2" width="1" height="1.3" fill="#7a4a1c"/><rect x="430.9" y="230.4" width="1" height="1.3" fill="#946432"/><rect x="425.9" y="231.1" width="1" height="1.3" fill="#946432"/><rect x="430.3" y="219.1" width="1" height="1.3" fill="#5e3410"/><rect x="437.1" y="232" width="1" height="1.3" fill="#5e3410"/><rect x="422.3" y="241.3" width="1" height="1.3" fill="#946432"/><rect x="428" y="229.5" width="1" height="1.3" fill="#946432"/><rect x="417.9" y="233.8" width="1" height="1.3" fill="#5e3410"/><rect x="446.5" y="233.9" width="1" height="1.3" fill="#5e3410"/><rect x="419.4" y="230.5" width="1" height="1.3" fill="#7a4a1c"/><rect x="434.6" y="226.8" width="1" height="1.3" fill="#5e3410"/><rect x="408.5" y="244.3" width="1" height="1.3" fill="#8a5624"/><rect x="436" y="239.9" width="1" height="1.3" fill="#5e3410"/><rect x="411.1" y="233.6" width="1" height="1.3" fill="#5e3410"/><rect x="417.6" y="225.9" width="1" height="1.3" fill="#8a5624"/><rect x="411.1" y="230.2" width="1" height="1.3" fill="#5e3410"/><rect x="435.9" y="227.3" width="1" height="1.3" fill="#946432"/><rect x="429.1" y="235.5" width="1" height="1.3" fill="#7a4a1c"/><rect x="437.3" y="236.4" width="1" height="1.3" fill="#8a5624"/><rect x="422.7" y="231.4" width="1" height="1.3" fill="#946432"/><rect x="415.1" y="225.3" width="1" height="1.3" fill="#5e3410"/><rect x="436.4" y="240.9" width="1" height="1.3" fill="#6a3e16"/><rect x="441.4" y="241.1" width="1" height="1.3" fill="#6a3e16"/><rect x="423.3" y="228.5" width="1" height="1.3" fill="#7a4a1c"/><rect x="416.9" y="243.1" width="1" height="1.3" fill="#5e3410"/><rect x="425.5" y="222.7" width="1" height="1.3" fill="#7a4a1c"/><rect x="437.6" y="237.4" width="1" height="1.3" fill="#6a3e16"/><rect x="432.7" y="233.5" width="1" height="1.3" fill="#5e3410"/><rect x="435.1" y="232.6" width="1" height="1.3" fill="#8a5624"/><rect x="418.8" y="222.4" width="1" height="1.3" fill="#946432"/><rect x="418" y="227.8" width="1" height="1.3" fill="#8a5624"/><rect x="433.7" y="220.7" width="1" height="1.3" fill="#7a4a1c"/><rect x="440.3" y="243.4" width="1" height="1.3" fill="#8a5624"/><rect x="434.8" y="233.8" width="1" height="1.3" fill="#7a4a1c"/><rect x="417" y="235.3" width="1" height="1.3" fill="#7a4a1c"/><rect x="416.9" y="240" width="1" height="1.3" fill="#946432"/><rect x="437" y="231.8" width="1" height="1.3" fill="#8a5624"/><rect x="417.9" y="238.9" width="1" height="1.3" fill="#946432"/><rect x="432.6" y="219.7" width="1" height="1.3" fill="#6a3e16"/><rect x="436" y="223.5" width="1" height="1.3" fill="#946432"/><rect x="418.2" y="222.2" width="1" height="1.3" fill="#946432"/><rect x="428.3" y="222.2" width="1" height="1.3" fill="#8a5624"/><rect x="427.1" y="230" width="1" height="1.3" fill="#7a4a1c"/><rect x="429.6" y="228" width="1" height="1.3" fill="#6a3e16"/><rect x="425.3" y="217" width="1" height="1.3" fill="#946432"/><rect x="418.8" y="225.7" width="1" height="1.3" fill="#6a3e16"/><rect x="439.5" y="220" width="1" height="1.3" fill="#946432"/><rect x="426.2" y="227.9" width="1" height="1.3" fill="#7a4a1c"/><rect x="420.3" y="230.9" width="1" height="1.3" fill="#7a4a1c"/><rect x="418.1" y="228.7" width="1" height="1.3" fill="#7a4a1c"/><rect x="427.5" y="231.7" width="1" height="1.3" fill="#7a4a1c"/><rect x="415" y="244.3" width="1" height="1.3" fill="#5e3410"/><rect x="434" y="229.2" width="1" height="1.3" fill="#7a4a1c"/><rect x="427.1" y="230.1" width="1" height="1.3" fill="#7a4a1c"/><rect x="434.2" y="223.2" width="1" height="1.3" fill="#7a4a1c"/><rect x="417.3" y="223.3" width="1" height="1.3" fill="#6a3e16"/><rect x="440.1" y="225.7" width="1" height="1.3" fill="#8a5624"/><rect x="416.4" y="238.3" width="1" height="1.3" fill="#7a4a1c"/><rect x="427.4" y="227.2" width="1" height="1.3" fill="#6a3e16"/><rect x="428.5" y="229.7" width="1" height="1.3" fill="#7a4a1c"/><rect x="415.7" y="230.7" width="1" height="1.3" fill="#7a4a1c"/><rect x="420.7" y="220.7" width="1" height="1.3" fill="#6a3e16"/><rect x="433.2" y="226.6" width="1" height="1.3" fill="#7a4a1c"/><rect x="425.4" y="230.3" width="1" height="1.3" fill="#8a5624"/><rect x="407.4" y="229.5" width="1" height="1.3" fill="#7a4a1c"/><rect x="422.2" y="237.2" width="1" height="1.3" fill="#946432"/><rect x="424.1" y="234" width="1" height="1.3" fill="#5e3410"/><rect x="412.9" y="230" width="1" height="1.3" fill="#6a3e16"/><rect x="419.3" y="234.2" width="1" height="1.3" fill="#7a4a1c"/><rect x="425.5" y="235.2" width="1" height="1.3" fill="#6a3e16"/><rect x="430.1" y="223" width="1" height="1.3" fill="#5e3410"/><rect x="423.5" y="232.9" width="1" height="1.3" fill="#6a3e16"/><rect x="425.2" y="235.3" width="1" height="1.3" fill="#6a3e16"/><rect x="423" y="235.2" width="1" height="1.3" fill="#7a4a1c"/><rect x="424.3" y="229.3" width="1" height="1.3" fill="#6a3e16"/><rect x="414.4" y="225.1" width="1" height="1.3" fill="#8a5624"/><rect x="423.7" y="239.9" width="1" height="1.3" fill="#8a5624"/><rect x="425.8" y="237.7" width="1" height="1.3" fill="#7a4a1c"/><rect x="419.5" y="233.3" width="1" height="1.3" fill="#946432"/><rect x="436" y="219.3" width="1" height="1.3" fill="#946432"/><rect x="430.3" y="237.3" width="1" height="1.3" fill="#946432"/><rect x="444.1" y="226" width="1" height="1.3" fill="#946432"/><rect x="423.8" y="240.8" width="1" height="1.3" fill="#6a3e16"/><rect x="409.3" y="229" width="1" height="1.3" fill="#8a5624"/><rect x="453.1" y="228" width="1" height="1.3" fill="#8a5624"/><rect x="429.8" y="229.7" width="1" height="1.3" fill="#7a4a1c"/><rect x="407.9" y="232.9" width="1" height="1.3" fill="#6a3e16"/><rect x="436.1" y="227" width="1" height="1.3" fill="#7a4a1c"/><rect x="439.8" y="237.1" width="1" height="1.3" fill="#8a5624"/><rect x="428.2" y="217.2" width="1" height="1.3" fill="#5e3410"/><rect x="417" y="222.8" width="1" height="1.3" fill="#946432"/><rect x="426.4" y="222.1" width="1" height="1.3" fill="#946432"/><rect x="421" y="222.1" width="1" height="1.3" fill="#946432"/><rect x="424.1" y="223.8" width="1" height="1.3" fill="#5e3410"/><rect x="429.1" y="233.8" width="1" height="1.3" fill="#6a3e16"/><rect x="438.5" y="220.9" width="1" height="1.3" fill="#5e3410"/><rect x="419.3" y="232.1" width="1" height="1.3" fill="#946432"/><rect x="409" y="228.5" width="1" height="1.3" fill="#6a3e16"/><rect x="406.1" y="229.4" width="1" height="1.3" fill="#946432"/><rect x="420.8" y="226.6" width="1" height="1.3" fill="#8a5624"/><rect x="419.3" y="225.1" width="1" height="1.3" fill="#6a3e16"/><rect x="415.3" y="226.1" width="1" height="1.3" fill="#946432"/><rect x="437.9" y="239.5" width="1" height="1.3" fill="#7a4a1c"/><rect x="444.9" y="226.2" width="1" height="1.3" fill="#7a4a1c"/><rect x="414.7" y="231.8" width="1" height="1.3" fill="#946432"/><rect x="425.9" y="239.1" width="1" height="1.3" fill="#7a4a1c"/><rect x="438.5" y="233.5" width="1" height="1.3" fill="#8a5624"/><rect x="425.1" y="227.4" width="1" height="1.3" fill="#7a4a1c"/><rect x="427.8" y="231.1" width="1" height="1.3" fill="#7a4a1c"/><rect x="416" y="223.8" width="1" height="1.3" fill="#946432"/><rect x="439" y="229.8" width="1" height="1.3" fill="#5e3410"/><rect x="419.4" y="236.6" width="1" height="1.3" fill="#8a5624"/><rect x="424.1" y="226.5" width="1" height="1.3" fill="#8a5624"/><rect x="424.8" y="219.9" width="1" height="1.3" fill="#8a5624"/><rect x="422" y="235.3" width="1" height="1.3" fill="#7a4a1c"/><rect x="422.3" y="234.1" width="1" height="1.3" fill="#8a5624"/><rect x="424.2" y="220.9" width="1" height="1.3" fill="#8a5624"/><rect x="434.2" y="237.3" width="1" height="1.3" fill="#6a3e16"/><rect x="411.7" y="229.7" width="1" height="1.3" fill="#6a3e16"/><rect x="432" y="226.5" width="1" height="1.3" fill="#946432"/><rect x="420.2" y="226.9" width="1" height="1.3" fill="#6a3e16"/><rect x="416.1" y="235.9" width="1" height="1.3" fill="#7a4a1c"/><rect x="421.2" y="235.6" width="1" height="1.3" fill="#8a5624"/><rect x="411.5" y="243.2" width="1" height="1.3" fill="#8a5624"/><rect x="421.8" y="230.1" width="1" height="1.3" fill="#946432"/><rect x="421.4" y="226" width="1" height="1.3" fill="#7a4a1c"/><rect x="421.9" y="236" width="1" height="1.3" fill="#6a3e16"/><rect x="421.6" y="226.3" width="1" height="1.3" fill="#8a5624"/><rect x="410.2" y="237.5" width="1" height="1.3" fill="#6a3e16"/><rect x="413.8" y="231.3" width="1" height="1.3" fill="#946432"/><rect x="420.8" y="228.4" width="1" height="1.3" fill="#8a5624"/><rect x="419" y="224.9" width="1" height="1.3" fill="#7a4a1c"/><rect x="419.4" y="240.2" width="1" height="1.3" fill="#7a4a1c"/><rect x="427.9" y="239.6" width="1" height="1.3" fill="#8a5624"/><rect x="423" y="228.6" width="1" height="1.3" fill="#6a3e16"/><rect x="423.2" y="222.9" width="1" height="1.3" fill="#7a4a1c"/><rect x="422.2" y="220.4" width="1" height="1.3" fill="#5e3410"/><rect x="425.4" y="223.3" width="1" height="1.3" fill="#7a4a1c"/><rect x="426.1" y="237.3" width="1" height="1.3" fill="#7a4a1c"/><rect x="418.1" y="230.6" width="1" height="1.3" fill="#8a5624"/><rect x="438.7" y="228.2" width="1" height="1.3" fill="#8a5624"/><rect x="436.9" y="227.2" width="1" height="1.3" fill="#6a3e16"/><rect x="427" y="231.5" width="1" height="1.3" fill="#8a5624"/><rect x="414.7" y="239.4" width="1" height="1.3" fill="#5e3410"/><rect x="420.6" y="231.3" width="1" height="1.3" fill="#5e3410"/><rect x="425.3" y="244" width="1" height="1.3" fill="#6a3e16"/><rect x="408.7" y="227" width="1" height="1.3" fill="#6a3e16"/><rect x="426.3" y="244" width="1" height="1.3" fill="#7a4a1c"/><rect x="404.8" y="240" width="1" height="1.3" fill="#8a5624"/><rect x="433.5" y="227" width="1" height="1.3" fill="#946432"/><rect x="439" y="230.5" width="1" height="1.3" fill="#8a5624"/><rect x="419.2" y="229.4" width="1" height="1.3" fill="#5e3410"/><rect x="416.1" y="236.6" width="1" height="1.3" fill="#5e3410"/><rect x="430.4" y="235.8" width="1" height="1.3" fill="#6a3e16"/><rect x="430.5" y="229.3" width="1" height="1.3" fill="#946432"/><rect x="430.2" y="239.4" width="1" height="1.3" fill="#946432"/><rect x="423.8" y="246.1" width="1" height="1.3" fill="#7a4a1c"/><rect x="414.7" y="228.4" width="1" height="1.3" fill="#6a3e16"/><rect x="427.9" y="227.9" width="1" height="1.3" fill="#5e3410"/><rect x="407.8" y="235.4" width="1" height="1.3" fill="#5e3410"/><rect x="425.8" y="222.2" width="1" height="1.3" fill="#946432"/><rect x="411.3" y="235.7" width="1" height="1.3" fill="#5e3410"/><rect x="417.4" y="237.8" width="1" height="1.3" fill="#5e3410"/><rect x="428.4" y="228.1" width="1" height="1.3" fill="#6a3e16"/><rect x="436.1" y="227.3" width="1" height="1.3" fill="#7a4a1c"/><rect x="426.9" y="232.9" width="1" height="1.3" fill="#5e3410"/><rect x="426.7" y="235.9" width="1" height="1.3" fill="#6a3e16"/><rect x="436.9" y="224.1" width="1" height="1.3" fill="#7a4a1c"/><rect x="441.1" y="235.9" width="1" height="1.3" fill="#5e3410"/><rect x="412.9" y="233.8" width="1" height="1.3" fill="#6a3e16"/><rect x="424.7" y="227.9" width="1" height="1.3" fill="#7a4a1c"/><rect x="426.4" y="233.4" width="1" height="1.3" fill="#5e3410"/><rect x="414" y="224.1" width="1" height="1.3" fill="#946432"/><rect x="427.4" y="235.3" width="1" height="1.3" fill="#8a5624"/><rect x="440.9" y="231.8" width="1" height="1.3" fill="#8a5624"/><rect x="409.5" y="241.1" width="1" height="1.3" fill="#8a5624"/><rect x="413.4" y="230.8" width="1" height="1.3" fill="#7a4a1c"/><rect x="419.4" y="244.1" width="1" height="1.3" fill="#5e3410"/><rect x="424.9" y="228.3" width="1" height="1.3" fill="#8a5624"/><rect x="441.7" y="237.2" width="1" height="1.3" fill="#946432"/><rect x="440.2" y="231.9" width="1" height="1.3" fill="#8a5624"/><rect x="425.1" y="232.5" width="1" height="1.3" fill="#7a4a1c"/><rect x="409.6" y="228.1" width="1" height="1.3" fill="#5e3410"/><rect x="422.8" y="235.5" width="1" height="1.3" fill="#7a4a1c"/><rect x="421.5" y="231" width="1" height="1.3" fill="#946432"/><rect x="427.8" y="232" width="1" height="1.3" fill="#946432"/><rect x="415" y="227.8" width="1" height="1.3" fill="#5e3410"/><rect x="418.4" y="228" width="1" height="1.3" fill="#946432"/><rect x="430.9" y="236" width="1" height="1.3" fill="#6a3e16"/><rect x="425.5" y="237.5" width="1" height="1.3" fill="#6a3e16"/><rect x="434.4" y="231.1" width="1" height="1.3" fill="#7a4a1c"/><rect x="417.9" y="227.9" width="1" height="1.3" fill="#946432"/><rect x="434.6" y="226.6" width="1" height="1.3" fill="#7a4a1c"/><rect x="419.9" y="233.1" width="1" height="1.3" fill="#7a4a1c"/><rect x="430" y="231.7" width="1" height="1.3" fill="#8a5624"/><rect x="422.5" y="233.7" width="1" height="1.3" fill="#7a4a1c"/><rect x="426.9" y="237.1" width="1" height="1.3" fill="#946432"/><rect x="408.1" y="240.6" width="1" height="1.3" fill="#7a4a1c"/><rect x="405.4" y="238" width="1" height="1.3" fill="#8a5624"/><rect x="425.1" y="222.3" width="1" height="1.3" fill="#8a5624"/><rect x="423.5" y="224.8" width="1" height="1.3" fill="#8a5624"/><rect x="432.7" y="232.1" width="1" height="1.3" fill="#7a4a1c"/><rect x="438" y="225" width="1" height="1.3" fill="#946432"/><rect x="419.1" y="224.3" width="1" height="1.3" fill="#6a3e16"/><rect x="424.8" y="233.6" width="1" height="1.3" fill="#946432"/><rect x="426.8" y="221" width="1" height="1.3" fill="#6a3e16"/><rect x="425.4" y="246.2" width="1" height="1.3" fill="#8a5624"/><rect x="417.4" y="229.7" width="1" height="1.3" fill="#946432"/><rect x="421.9" y="229.4" width="1" height="1.3" fill="#946432"/><rect x="433.5" y="234.5" width="1" height="1.3" fill="#8a5624"/><rect x="422" y="237.8" width="1" height="1.3" fill="#7a4a1c"/><rect x="411" y="226.9" width="1" height="1.3" fill="#946432"/><rect x="423.9" y="232.6" width="1" height="1.3" fill="#946432"/><rect x="411.1" y="234.8" width="1" height="1.3" fill="#7a4a1c"/><rect x="435" y="231.3" width="1" height="1.3" fill="#5e3410"/><rect x="429.9" y="243.5" width="1" height="1.3" fill="#6a3e16"/><rect x="419.5" y="233.1" width="1" height="1.3" fill="#946432"/><rect x="415.4" y="233.1" width="1" height="1.3" fill="#7a4a1c"/><rect x="427.5" y="239" width="1" height="1.3" fill="#8a5624"/><rect x="413.9" y="225.2" width="1" height="1.3" fill="#8a5624"/><rect x="405.6" y="233.7" width="1" height="1.3" fill="#5e3410"/><rect x="413.7" y="236.5" width="1" height="1.3" fill="#5e3410"/><rect x="427.3" y="227" width="1" height="1.3" fill="#8a5624"/><rect x="427.8" y="237.5" width="1" height="1.3" fill="#946432"/><rect x="406.8" y="231.2" width="1" height="1.3" fill="#946432"/><rect x="421.2" y="229.7" width="1" height="1.3" fill="#8a5624"/><rect x="407.3" y="238.8" width="1" height="1.3" fill="#5e3410"/><rect x="411.3" y="237.8" width="1" height="1.3" fill="#5e3410"/><rect x="432.1" y="227.1" width="1" height="1.3" fill="#6a3e16"/><rect x="418.4" y="229.2" width="1" height="1.3" fill="#5e3410"/><rect x="434.2" y="220.8" width="1" height="1.3" fill="#5e3410"/><rect x="442.8" y="223.4" width="1" height="1.3" fill="#7a4a1c"/><rect x="423.3" y="218.6" width="1" height="1.3" fill="#8a5624"/><rect x="415.2" y="230.8" width="1" height="1.3" fill="#946432"/><rect x="439.9" y="223.2" width="1" height="1.3" fill="#8a5624"/><rect x="434.1" y="235.7" width="1" height="1.3" fill="#946432"/><rect x="420.8" y="222.7" width="1" height="1.3" fill="#8a5624"/><rect x="412.5" y="239.4" width="1" height="1.3" fill="#8a5624"/><rect x="426.5" y="224.3" width="1" height="1.3" fill="#6a3e16"/><rect x="431" y="245" width="1" height="1.3" fill="#5e3410"/><rect x="425.5" y="235.1" width="1" height="1.3" fill="#5e3410"/><rect x="434.5" y="234.1" width="1" height="1.3" fill="#7a4a1c"/><rect x="433.3" y="221.3" width="1" height="1.3" fill="#7a4a1c"/><rect x="431.7" y="233.5" width="1" height="1.3" fill="#7a4a1c"/><rect x="432" y="225.5" width="1" height="1.3" fill="#6a3e16"/><rect x="427.7" y="219.1" width="1" height="1.3" fill="#8a5624"/><rect x="424" y="237.4" width="1" height="1.3" fill="#7a4a1c"/><rect x="409" y="227.2" width="1" height="1.3" fill="#6a3e16"/><rect x="414.1" y="235.8" width="1" height="1.3" fill="#946432"/><rect x="418.9" y="220" width="1" height="1.3" fill="#7a4a1c"/><rect x="432.8" y="223.9" width="1" height="1.3" fill="#6a3e16"/><rect x="424.1" y="239.9" width="1" height="1.3" fill="#6a3e16"/><rect x="430.2" y="227.3" width="1" height="1.3" fill="#946432"/><rect x="425.6" y="228.1" width="1" height="1.3" fill="#6a3e16"/><rect x="428.7" y="237.7" width="1" height="1.3" fill="#6a3e16"/><rect x="423" y="230" width="1" height="1.3" fill="#6a3e16"/><rect x="415.7" y="236.1" width="1" height="1.3" fill="#7a4a1c"/><rect x="422.5" y="233.8" width="1" height="1.3" fill="#8a5624"/><rect x="403.9" y="233.8" width="1" height="1.3" fill="#6a3e16"/><rect x="421.4" y="228.6" width="1" height="1.3" fill="#6a3e16"/><rect x="410" y="226.9" width="1" height="1.3" fill="#6a3e16"/><rect x="423.1" y="229.5" width="1" height="1.3" fill="#6a3e16"/><rect x="415.8" y="233.4" width="1" height="1.3" fill="#8a5624"/><rect x="421.9" y="236.5" width="1" height="1.3" fill="#6a3e16"/><rect x="416.1" y="226.7" width="1" height="1.3" fill="#8a5624"/><rect x="422.4" y="228.4" width="1" height="1.3" fill="#8a5624"/><rect x="425.5" y="238.7" width="1" height="1.3" fill="#5e3410"/><rect x="421.6" y="236.6" width="1" height="1.3" fill="#946432"/><rect x="423.1" y="223.5" width="1" height="1.3" fill="#5e3410"/><rect x="422.4" y="243" width="1" height="1.3" fill="#7a4a1c"/><rect x="413.1" y="237" width="1" height="1.3" fill="#8a5624"/><rect x="413.8" y="233.7" width="1" height="1.3" fill="#946432"/><rect x="430.4" y="236.9" width="1" height="1.3" fill="#7a4a1c"/><rect x="424.6" y="221" width="1" height="1.3" fill="#5e3410"/><rect x="432.5" y="224.6" width="1" height="1.3" fill="#7a4a1c"/><rect x="430.5" y="231.4" width="1" height="1.3" fill="#6a3e16"/><rect x="428.6" y="216.1" width="1" height="1.3" fill="#946432"/><rect x="431.4" y="232.2" width="1" height="1.3" fill="#946432"/><rect x="425.7" y="231.3" width="1" height="1.3" fill="#5e3410"/><rect x="431.7" y="228.7" width="1" height="1.3" fill="#6a3e16"/><rect x="416" y="228.8" width="1" height="1.3" fill="#7a4a1c"/><rect x="417.5" y="227.3" width="1" height="1.3" fill="#8a5624"/><rect x="423.2" y="222" width="1" height="1.3" fill="#7a4a1c"/><rect x="425.6" y="228.2" width="1" height="1.3" fill="#5e3410"/><rect x="431.2" y="228.7" width="1" height="1.3" fill="#8a5624"/><rect x="426.7" y="220" width="1" height="1.3" fill="#8a5624"/><rect x="424" y="234.1" width="1" height="1.3" fill="#7a4a1c"/><rect x="410.7" y="226.1" width="1" height="1.3" fill="#6a3e16"/><rect x="426.8" y="234.7" width="1" height="1.3" fill="#8a5624"/><rect x="408" y="231.2" width="1" height="1.3" fill="#7a4a1c"/><rect x="413.2" y="229.8" width="1" height="1.3" fill="#6a3e16"/><rect x="421.7" y="227.2" width="1" height="1.3" fill="#5e3410"/><rect x="414.7" y="235.3" width="1" height="1.3" fill="#5e3410"/><rect x="431.4" y="234.8" width="1" height="1.3" fill="#7a4a1c"/><rect x="406.9" y="229.3" width="1" height="1.3" fill="#8a5624"/><rect x="420.6" y="231.1" width="1" height="1.3" fill="#6a3e16"/><rect x="415.1" y="240.2" width="1" height="1.3" fill="#8a5624"/><rect x="432.7" y="229.7" width="1" height="1.3" fill="#8a5624"/><rect x="433.5" y="226.4" width="1" height="1.3" fill="#7a4a1c"/><rect x="440.4" y="229" width="1" height="1.3" fill="#8a5624"/><rect x="409.1" y="231.7" width="1" height="1.3" fill="#5e3410"/><rect x="434.7" y="233.9" width="1" height="1.3" fill="#7a4a1c"/><rect x="430" y="224.1" width="1" height="1.3" fill="#8a5624"/><rect x="425.5" y="229.2" width="1" height="1.3" fill="#7a4a1c"/><rect x="426.6" y="234.1" width="1" height="1.3" fill="#6a3e16"/><rect x="422.7" y="236.9" width="1" height="1.3" fill="#6a3e16"/><rect x="420.9" y="219.8" width="1" height="1.3" fill="#8a5624"/><rect x="437.3" y="225.8" width="1" height="1.3" fill="#5e3410"/><rect x="422.7" y="222.7" width="1" height="1.3" fill="#5e3410"/><rect x="428.4" y="240.5" width="1" height="1.3" fill="#8a5624"/><rect x="424.3" y="219.6" width="1" height="1.3" fill="#946432"/><rect x="426.3" y="229" width="1" height="1.3" fill="#7a4a1c"/><rect x="409.5" y="230.4" width="1" height="1.3" fill="#946432"/><rect x="416" y="222.1" width="1" height="1.3" fill="#7a4a1c"/><rect x="417.4" y="221.4" width="1" height="1.3" fill="#946432"/><rect x="429.7" y="233" width="1" height="1.3" fill="#946432"/><rect x="430.2" y="235.3" width="1" height="1.3" fill="#8a5624"/><rect x="418.1" y="231.2" width="1" height="1.3" fill="#8a5624"/><rect x="431.4" y="231" width="1" height="1.3" fill="#7a4a1c"/><rect x="417.5" y="224.9" width="1" height="1.3" fill="#6a3e16"/><rect x="417.1" y="225.7" width="1" height="1.3" fill="#6a3e16"/><rect x="411.2" y="246.5" width="1" height="1.3" fill="#5e3410"/><rect x="411.2" y="228" width="1" height="1.3" fill="#7a4a1c"/><rect x="412.4" y="237.3" width="1" height="1.3" fill="#6a3e16"/><rect x="429.4" y="226" width="1" height="1.3" fill="#7a4a1c"/><rect x="418" y="236.3" width="1" height="1.3" fill="#946432"/><rect x="431.4" y="219" width="1" height="1.3" fill="#7a4a1c"/><rect x="427.5" y="240.8" width="1" height="1.3" fill="#6a3e16"/><rect x="435.6" y="231.6" width="1" height="1.3" fill="#946432"/><rect x="432.9" y="232.4" width="1" height="1.3" fill="#6a3e16"/><rect x="413.5" y="243" width="1" height="1.3" fill="#6a3e16"/><rect x="430.7" y="238.1" width="1" height="1.3" fill="#7a4a1c"/><rect x="427.5" y="222" width="1" height="1.3" fill="#5e3410"/><rect x="415.6" y="239.1" width="1" height="1.3" fill="#946432"/><rect x="422.1" y="230.7" width="1" height="1.3" fill="#7a4a1c"/><rect x="429.5" y="235.6" width="1" height="1.3" fill="#8a5624"/><rect x="435.2" y="225.6" width="1" height="1.3" fill="#6a3e16"/><rect x="424.7" y="233.3" width="1" height="1.3" fill="#5e3410"/><rect x="420.7" y="233.6" width="1" height="1.3" fill="#5e3410"/><rect x="431.6" y="228.3" width="1" height="1.3" fill="#946432"/><rect x="435.6" y="221.4" width="1" height="1.3" fill="#5e3410"/><rect x="432.8" y="227.4" width="1" height="1.3" fill="#7a4a1c"/><rect x="438.5" y="227.2" width="1" height="1.3" fill="#8a5624"/><rect x="415.7" y="245.7" width="1" height="1.3" fill="#6a3e16"/><rect x="439.8" y="221.4" width="1" height="1.3" fill="#7a4a1c"/><rect x="424.4" y="235.3" width="1" height="1.3" fill="#946432"/><rect x="410.6" y="225.1" width="1" height="1.3" fill="#7a4a1c"/><rect x="438.9" y="237.6" width="1" height="1.3" fill="#7a4a1c"/><rect x="416.2" y="232.3" width="1" height="1.3" fill="#5e3410"/><rect x="425.1" y="227.6" width="1" height="1.3" fill="#8a5624"/><rect x="412.8" y="229.8" width="1" height="1.3" fill="#8a5624"/><rect x="441.7" y="229.9" width="1" height="1.3" fill="#7a4a1c"/><rect x="423.4" y="232.1" width="1" height="1.3" fill="#946432"/><rect x="413" y="235.5" width="1" height="1.3" fill="#8a5624"/><rect x="445.4" y="224.7" width="1" height="1.3" fill="#5e3410"/><rect x="427.6" y="237.2" width="1" height="1.3" fill="#946432"/><rect x="424.4" y="231.7" width="1" height="1.3" fill="#946432"/><rect x="420.4" y="232.6" width="1" height="1.3" fill="#7a4a1c"/><rect x="415.8" y="237.6" width="1" height="1.3" fill="#7a4a1c"/><rect x="429.3" y="231.5" width="1" height="1.3" fill="#6a3e16"/><rect x="434" y="228" width="1" height="1.3" fill="#5e3410"/><rect x="409" y="235.7" width="1" height="1.3" fill="#7a4a1c"/><rect x="419" y="234.5" width="1" height="1.3" fill="#946432"/><rect x="434.4" y="232.6" width="1" height="1.3" fill="#946432"/><rect x="415.3" y="227" width="1" height="1.3" fill="#946432"/><rect x="424.2" y="227.8" width="1" height="1.3" fill="#6a3e16"/><rect x="420.7" y="238" width="1" height="1.3" fill="#6a3e16"/><rect x="435.2" y="231.4" width="1" height="1.3" fill="#946432"/><rect x="415.9" y="230.6" width="1" height="1.3" fill="#8a5624"/><rect x="435.7" y="223.5" width="1" height="1.3" fill="#6a3e16"/><rect x="424.9" y="235.2" width="1" height="1.3" fill="#5e3410"/><rect x="424.2" y="228.9" width="1" height="1.3" fill="#5e3410"/><rect x="433.9" y="228.3" width="1" height="1.3" fill="#946432"/><rect x="413.8" y="228.6" width="1" height="1.3" fill="#7a4a1c"/><rect x="434" y="233.3" width="1" height="1.3" fill="#6a3e16"/><rect x="421.1" y="225.3" width="1" height="1.3" fill="#946432"/>
<rect x="417.3" y="263.3" width="1" height="1.3" fill="#8a5a2a"/><rect x="428.6" y="235.2" width="1" height="1.3" fill="#7a4a20"/><rect x="413.2" y="263.8" width="1" height="1.3" fill="#a67a48"/><rect x="410.7" y="263.7" width="1" height="1.3" fill="#9a6a38"/><rect x="441.7" y="230.3" width="1" height="1.3" fill="#a67a48"/><rect x="439.2" y="220.8" width="1" height="1.3" fill="#c4a478"/><rect x="404.5" y="247.3" width="1" height="1.3" fill="#c4a478"/><rect x="446" y="226.7" width="1" height="1.3" fill="#d0b890"/><rect x="434.3" y="217.4" width="1" height="1.3" fill="#7a4a20"/><rect x="433.6" y="219.2" width="1" height="1.3" fill="#d0b890"/><rect x="409.1" y="235.5" width="1" height="1.3" fill="#a67a48"/><rect x="416.9" y="224.4" width="1" height="1.3" fill="#c4a478"/><rect x="426.6" y="229.2" width="1" height="1.3" fill="#b08858"/><rect x="425.8" y="242.2" width="1" height="1.3" fill="#b08858"/><rect x="410.2" y="241.9" width="1" height="1.3" fill="#8a5a2a"/><rect x="435.9" y="242.3" width="1" height="1.3" fill="#7a4a20"/><rect x="424.4" y="235.5" width="1" height="1.3" fill="#9a6a38"/><rect x="424.3" y="220.4" width="1" height="1.3" fill="#9a6a38"/><rect x="449.2" y="222.8" width="1" height="1.3" fill="#9a6a38"/><rect x="419.8" y="248.4" width="1" height="1.3" fill="#d0b890"/><rect x="408.4" y="228.9" width="1" height="1.3" fill="#b08858"/><rect x="443.5" y="226.8" width="1" height="1.3" fill="#c4a478"/><rect x="455.4" y="230.3" width="1" height="1.3" fill="#a67a48"/><rect x="409.6" y="234.6" width="1" height="1.3" fill="#9a6a38"/><rect x="440.5" y="241.6" width="1" height="1.3" fill="#b08858"/><rect x="450.5" y="236.8" width="1" height="1.3" fill="#a67a48"/><rect x="430" y="250.3" width="1" height="1.3" fill="#a67a48"/><rect x="413.7" y="244.6" width="1" height="1.3" fill="#8a5a2a"/><rect x="417.1" y="239" width="1" height="1.3" fill="#9a6a38"/><rect x="409.4" y="231" width="1" height="1.3" fill="#9a6a38"/><rect x="423.5" y="252.9" width="1" height="1.3" fill="#d0b890"/><rect x="444.8" y="236.9" width="1" height="1.3" fill="#a67a48"/><rect x="442" y="232.7" width="1" height="1.3" fill="#a67a48"/><rect x="422.3" y="250.4" width="1" height="1.3" fill="#b08858"/><rect x="443.3" y="224.6" width="1" height="1.3" fill="#7a4a20"/><rect x="454.6" y="235.6" width="1" height="1.3" fill="#8a5a2a"/><rect x="414.7" y="222.4" width="1" height="1.3" fill="#b08858"/><rect x="445.2" y="227.9" width="1" height="1.3" fill="#b08858"/><rect x="413.4" y="256.1" width="1" height="1.3" fill="#9a6a38"/><rect x="421.9" y="258.3" width="1" height="1.3" fill="#a67a48"/><rect x="413.1" y="240.9" width="1" height="1.3" fill="#8a5a2a"/><rect x="419.7" y="231.8" width="1" height="1.3" fill="#9a6a38"/><rect x="432.3" y="235.7" width="1" height="1.3" fill="#c4a478"/><rect x="411.9" y="227.5" width="1" height="1.3" fill="#a67a48"/><rect x="413.1" y="234.7" width="1" height="1.3" fill="#a67a48"/><rect x="431.8" y="240.2" width="1" height="1.3" fill="#9a6a38"/><rect x="422.9" y="254.4" width="1" height="1.3" fill="#d0b890"/><rect x="411.6" y="235.8" width="1" height="1.3" fill="#7a4a20"/><rect x="407.6" y="230.6" width="1" height="1.3" fill="#c4a478"/><rect x="430.9" y="247.6" width="1" height="1.3" fill="#d0b890"/><rect x="409.3" y="244.5" width="1" height="1.3" fill="#a67a48"/><rect x="405.5" y="262.7" width="1" height="1.3" fill="#b08858"/><rect x="437.1" y="234.8" width="1" height="1.3" fill="#a67a48"/><rect x="436.2" y="220.3" width="1" height="1.3" fill="#b08858"/><rect x="411.8" y="264.3" width="1" height="1.3" fill="#d0b890"/><rect x="437" y="232.1" width="1" height="1.3" fill="#9a6a38"/><rect x="434.3" y="221.2" width="1" height="1.3" fill="#c4a478"/><rect x="407.6" y="234.6" width="1" height="1.3" fill="#7a4a20"/><rect x="427.5" y="228" width="1" height="1.3" fill="#8a5a2a"/><rect x="419.6" y="262.6" width="1" height="1.3" fill="#8a5a2a"/><rect x="430.9" y="225.1" width="1" height="1.3" fill="#7a4a20"/><rect x="425" y="231.9" width="1" height="1.3" fill="#c4a478"/><rect x="411" y="257.1" width="1" height="1.3" fill="#a67a48"/><rect x="412.8" y="239.9" width="1" height="1.3" fill="#b08858"/><rect x="425.2" y="236.6" width="1" height="1.3" fill="#a67a48"/><rect x="422" y="225.5" width="1" height="1.3" fill="#b08858"/><rect x="452.2" y="226.2" width="1" height="1.3" fill="#b08858"/><rect x="455.7" y="228.2" width="1" height="1.3" fill="#7a4a20"/><rect x="414.7" y="227" width="1" height="1.3" fill="#b08858"/><rect x="459.2" y="224.9" width="1" height="1.3" fill="#d0b890"/><rect x="420.1" y="233" width="1" height="1.3" fill="#b08858"/><rect x="450" y="230.4" width="1" height="1.3" fill="#c4a478"/><rect x="414.5" y="223.1" width="1" height="1.3" fill="#9a6a38"/><rect x="429.2" y="217.8" width="1" height="1.3" fill="#8a5a2a"/><rect x="411.8" y="238.9" width="1" height="1.3" fill="#8a5a2a"/><rect x="408.9" y="235.4" width="1" height="1.3" fill="#b08858"/><rect x="422.8" y="236.1" width="1" height="1.3" fill="#8a5a2a"/><rect x="464.2" y="229.7" width="1" height="1.3" fill="#a67a48"/><rect x="446.9" y="229.6" width="1" height="1.3" fill="#7a4a20"/><rect x="437.1" y="221" width="1" height="1.3" fill="#8a5a2a"/><rect x="424.5" y="233.2" width="1" height="1.3" fill="#d0b890"/><rect x="416.4" y="261" width="1" height="1.3" fill="#b08858"/><rect x="408.4" y="227" width="1" height="1.3" fill="#c4a478"/><rect x="426.7" y="224.4" width="1" height="1.3" fill="#d0b890"/><rect x="419.7" y="221.4" width="1" height="1.3" fill="#c4a478"/><rect x="417.4" y="256.6" width="1" height="1.3" fill="#7a4a20"/><rect x="432.8" y="221.8" width="1" height="1.3" fill="#8a5a2a"/><rect x="411.8" y="233.8" width="1" height="1.3" fill="#8a5a2a"/><rect x="423.5" y="235.8" width="1" height="1.3" fill="#b08858"/><rect x="413.4" y="251.3" width="1" height="1.3" fill="#b08858"/><rect x="405.2" y="257" width="1" height="1.3" fill="#a67a48"/><rect x="411.7" y="228.5" width="1" height="1.3" fill="#a67a48"/><rect x="430.8" y="217.3" width="1" height="1.3" fill="#9a6a38"/><rect x="425" y="242.5" width="1" height="1.3" fill="#b08858"/><rect x="422.2" y="245.3" width="1" height="1.3" fill="#9a6a38"/><rect x="457.2" y="234.5" width="1" height="1.3" fill="#c4a478"/><rect x="443.4" y="240.7" width="1" height="1.3" fill="#a67a48"/><rect x="428" y="216.6" width="1" height="1.3" fill="#d0b890"/><rect x="407.4" y="235.7" width="1" height="1.3" fill="#a67a48"/><rect x="433.6" y="227.3" width="1" height="1.3" fill="#d0b890"/><rect x="416" y="252.7" width="1" height="1.3" fill="#d0b890"/><rect x="420.4" y="242.9" width="1" height="1.3" fill="#7a4a20"/><rect x="445.1" y="224.7" width="1" height="1.3" fill="#8a5a2a"/><rect x="437.1" y="234.7" width="1" height="1.3" fill="#a67a48"/><rect x="422.5" y="217.8" width="1" height="1.3" fill="#7a4a20"/><rect x="414.7" y="224.4" width="1" height="1.3" fill="#b08858"/><rect x="424.1" y="236" width="1" height="1.3" fill="#c4a478"/><rect x="408.6" y="236.8" width="1" height="1.3" fill="#d0b890"/><rect x="428.1" y="256.5" width="1" height="1.3" fill="#9a6a38"/><rect x="410.5" y="257.6" width="1" height="1.3" fill="#b08858"/><rect x="417.3" y="245.7" width="1" height="1.3" fill="#d0b890"/><rect x="420.5" y="240.8" width="1" height="1.3" fill="#9a6a38"/><rect x="407.7" y="240.7" width="1" height="1.3" fill="#a67a48"/><rect x="435.3" y="225.7" width="1" height="1.3" fill="#b08858"/><rect x="446.3" y="232.1" width="1" height="1.3" fill="#9a6a38"/><rect x="421.8" y="258.6" width="1" height="1.3" fill="#8a5a2a"/><rect x="433.3" y="239.1" width="1" height="1.3" fill="#d0b890"/><rect x="446.7" y="239.2" width="1" height="1.3" fill="#9a6a38"/><rect x="423" y="253.8" width="1" height="1.3" fill="#8a5a2a"/><rect x="420.5" y="245.6" width="1" height="1.3" fill="#b08858"/><rect x="431.5" y="236.6" width="1" height="1.3" fill="#d0b890"/><rect x="406.3" y="231.3" width="1" height="1.3" fill="#d0b890"/><rect x="432.4" y="225.9" width="1" height="1.3" fill="#7a4a20"/><rect x="417.8" y="249.4" width="1" height="1.3" fill="#7a4a20"/><rect x="451.5" y="229.7" width="1" height="1.3" fill="#a67a48"/><rect x="420.5" y="221" width="1" height="1.3" fill="#d0b890"/><rect x="412.4" y="254.2" width="1" height="1.3" fill="#9a6a38"/><rect x="442.5" y="237.9" width="1" height="1.3" fill="#a67a48"/><rect x="417" y="223.3" width="1" height="1.3" fill="#b08858"/><rect x="448.5" y="227.7" width="1" height="1.3" fill="#b08858"/><rect x="430.5" y="220.2" width="1" height="1.3" fill="#9a6a38"/><rect x="409" y="230.4" width="1" height="1.3" fill="#8a5a2a"/><rect x="409.3" y="243.2" width="1" height="1.3" fill="#9a6a38"/><rect x="418.7" y="252.1" width="1" height="1.3" fill="#7a4a20"/><rect x="460.6" y="224.8" width="1" height="1.3" fill="#7a4a20"/><rect x="452.3" y="225.3" width="1" height="1.3" fill="#9a6a38"/><rect x="443" y="238.6" width="1" height="1.3" fill="#c4a478"/><rect x="450.9" y="230.1" width="1" height="1.3" fill="#b08858"/><rect x="416" y="230.9" width="1" height="1.3" fill="#c4a478"/><rect x="452.2" y="222.5" width="1" height="1.3" fill="#7a4a20"/><rect x="448.1" y="239.2" width="1" height="1.3" fill="#9a6a38"/><rect x="447.8" y="238.2" width="1" height="1.3" fill="#b08858"/><rect x="408" y="239.8" width="1" height="1.3" fill="#9a6a38"/><rect x="440.8" y="243" width="1" height="1.3" fill="#d0b890"/><rect x="407.8" y="264.6" width="1" height="1.3" fill="#b08858"/><rect x="430.1" y="228.4" width="1" height="1.3" fill="#7a4a20"/><rect x="441.1" y="234.6" width="1" height="1.3" fill="#7a4a20"/><rect x="418.5" y="229.6" width="1" height="1.3" fill="#d0b890"/><rect x="408.3" y="243.1" width="1" height="1.3" fill="#9a6a38"/><rect x="432.3" y="246" width="1" height="1.3" fill="#d0b890"/><rect x="407.4" y="251.1" width="1" height="1.3" fill="#a67a48"/><rect x="429.3" y="231.6" width="1" height="1.3" fill="#7a4a20"/><rect x="441.9" y="236.5" width="1" height="1.3" fill="#8a5a2a"/><rect x="406.8" y="251.7" width="1" height="1.3" fill="#9a6a38"/><rect x="438.7" y="243.3" width="1" height="1.3" fill="#a67a48"/><rect x="444.4" y="224.7" width="1" height="1.3" fill="#8a5a2a"/><rect x="431.2" y="218.4" width="1" height="1.3" fill="#d0b890"/><rect x="403.9" y="243.6" width="1" height="1.3" fill="#9a6a38"/><rect x="430.2" y="238.9" width="1" height="1.3" fill="#8a5a2a"/><rect x="429.8" y="240.5" width="1" height="1.3" fill="#c4a478"/><rect x="437.7" y="236.8" width="1" height="1.3" fill="#9a6a38"/><rect x="459.2" y="227" width="1" height="1.3" fill="#9a6a38"/><rect x="449.3" y="223.6" width="1" height="1.3" fill="#8a5a2a"/><rect x="447.6" y="235" width="1" height="1.3" fill="#8a5a2a"/><rect x="422.5" y="229.9" width="1" height="1.3" fill="#9a6a38"/><rect x="407.3" y="250.2" width="1" height="1.3" fill="#a67a48"/><rect x="410.1" y="241.3" width="1" height="1.3" fill="#c4a478"/><rect x="411.2" y="225.1" width="1" height="1.3" fill="#a67a48"/><rect x="430.5" y="253.9" width="1" height="1.3" fill="#a67a48"/><rect x="409.9" y="238.4" width="1" height="1.3" fill="#8a5a2a"/><rect x="443.4" y="228.6" width="1" height="1.3" fill="#7a4a20"/><rect x="456.9" y="225.3" width="1" height="1.3" fill="#a67a48"/><rect x="433.9" y="248.3" width="1" height="1.3" fill="#d0b890"/><rect x="442.8" y="219.4" width="1" height="1.3" fill="#b08858"/><rect x="412.6" y="225.2" width="1" height="1.3" fill="#7a4a20"/><rect x="427.8" y="243.9" width="1" height="1.3" fill="#d0b890"/><rect x="440.9" y="221" width="1" height="1.3" fill="#7a4a20"/><rect x="434.9" y="238.8" width="1" height="1.3" fill="#7a4a20"/><rect x="414.5" y="250.1" width="1" height="1.3" fill="#c4a478"/><rect x="461.3" y="230.5" width="1" height="1.3" fill="#d0b890"/><rect x="426.1" y="219.5" width="1" height="1.3" fill="#a67a48"/><rect x="430.3" y="231.2" width="1" height="1.3" fill="#7a4a20"/><rect x="407.1" y="233.8" width="1" height="1.3" fill="#7a4a20"/><rect x="415.4" y="253.6" width="1" height="1.3" fill="#8a5a2a"/><rect x="427.5" y="241.4" width="1" height="1.3" fill="#b08858"/><rect x="430.2" y="221.9" width="1" height="1.3" fill="#8a5a2a"/><rect x="422.3" y="242.5" width="1" height="1.3" fill="#c4a478"/><rect x="433" y="227.6" width="1" height="1.3" fill="#c4a478"/><rect x="407.4" y="230.1" width="1" height="1.3" fill="#d0b890"/><rect x="435.2" y="221.6" width="1" height="1.3" fill="#d0b890"/><rect x="421.6" y="241.9" width="1" height="1.3" fill="#9a6a38"/><rect x="423.2" y="255.5" width="1" height="1.3" fill="#c4a478"/><rect x="440.8" y="238.2" width="1" height="1.3" fill="#7a4a20"/><rect x="452.3" y="231.6" width="1" height="1.3" fill="#9a6a38"/><rect x="418.2" y="240.9" width="1" height="1.3" fill="#a67a48"/><rect x="461.2" y="226.6" width="1" height="1.3" fill="#c4a478"/><rect x="422.4" y="227.3" width="1" height="1.3" fill="#c4a478"/><rect x="419.9" y="243.2" width="1" height="1.3" fill="#c4a478"/><rect x="409.9" y="241.1" width="1" height="1.3" fill="#7a4a20"/><rect x="410.2" y="249.8" width="1" height="1.3" fill="#7a4a20"/><rect x="422" y="238.9" width="1" height="1.3" fill="#7a4a20"/><rect x="406.7" y="235.3" width="1" height="1.3" fill="#a67a48"/><rect x="411.9" y="229.4" width="1" height="1.3" fill="#a67a48"/><rect x="407.3" y="243.6" width="1" height="1.3" fill="#d0b890"/><rect x="412.1" y="237.9" width="1" height="1.3" fill="#c4a478"/><rect x="417.5" y="221" width="1" height="1.3" fill="#c4a478"/><rect x="431.4" y="230.1" width="1" height="1.3" fill="#d0b890"/><rect x="438.4" y="232.3" width="1" height="1.3" fill="#d0b890"/><rect x="430.8" y="235.6" width="1" height="1.3" fill="#a67a48"/><rect x="435.5" y="222" width="1" height="1.3" fill="#8a5a2a"/><rect x="439.1" y="231.6" width="1" height="1.3" fill="#8a5a2a"/><rect x="460.2" y="230.3" width="1" height="1.3" fill="#a67a48"/><rect x="424" y="254.5" width="1" height="1.3" fill="#b08858"/><rect x="424.3" y="220.5" width="1" height="1.3" fill="#7a4a20"/><rect x="417.9" y="246.1" width="1" height="1.3" fill="#a67a48"/><rect x="403.8" y="233.7" width="1" height="1.3" fill="#b08858"/><rect x="420.1" y="218.5" width="1" height="1.3" fill="#c4a478"/><rect x="432" y="238.9" width="1" height="1.3" fill="#b08858"/><rect x="436.5" y="225.5" width="1" height="1.3" fill="#8a5a2a"/><rect x="433.9" y="238.6" width="1" height="1.3" fill="#c4a478"/><rect x="407.4" y="259.3" width="1" height="1.3" fill="#8a5a2a"/><rect x="430.7" y="232.1" width="1" height="1.3" fill="#d0b890"/><rect x="433.2" y="223.7" width="1" height="1.3" fill="#c4a478"/><rect x="459.2" y="233.2" width="1" height="1.3" fill="#8a5a2a"/><rect x="414.4" y="230.3" width="1" height="1.3" fill="#c4a478"/><rect x="416.5" y="228.6" width="1" height="1.3" fill="#c4a478"/><rect x="429.4" y="221.1" width="1" height="1.3" fill="#d0b890"/><rect x="419.7" y="220.4" width="1" height="1.3" fill="#8a5a2a"/><rect x="408.5" y="234.9" width="1" height="1.3" fill="#a67a48"/><rect x="449.7" y="232.9" width="1" height="1.3" fill="#b08858"/><rect x="413.3" y="250.3" width="1" height="1.3" fill="#b08858"/><rect x="404.5" y="244" width="1" height="1.3" fill="#a67a48"/><rect x="430.6" y="238.9" width="1" height="1.3" fill="#c4a478"/><rect x="416.5" y="232.4" width="1" height="1.3" fill="#8a5a2a"/><rect x="456.2" y="230.5" width="1" height="1.3" fill="#b08858"/><rect x="425.1" y="222.6" width="1" height="1.3" fill="#8a5a2a"/><rect x="438.1" y="236.1" width="1" height="1.3" fill="#c4a478"/><rect x="443.5" y="242" width="1" height="1.3" fill="#a67a48"/><rect x="436.1" y="227.7" width="1" height="1.3" fill="#7a4a20"/><rect x="461.1" y="231.9" width="1" height="1.3" fill="#c4a478"/><rect x="412.2" y="225.8" width="1" height="1.3" fill="#9a6a38"/><rect x="416.1" y="239.6" width="1" height="1.3" fill="#b08858"/><rect x="434.9" y="228.7" width="1" height="1.3" fill="#c4a478"/><rect x="437.8" y="237.3" width="1" height="1.3" fill="#9a6a38"/><rect x="459.2" y="223.1" width="1" height="1.3" fill="#8a5a2a"/><rect x="408.1" y="253.4" width="1" height="1.3" fill="#b08858"/><rect x="411.8" y="228.7" width="1" height="1.3" fill="#9a6a38"/><rect x="418" y="225.9" width="1" height="1.3" fill="#9a6a38"/><rect x="462.1" y="225" width="1" height="1.3" fill="#8a5a2a"/><rect x="453.6" y="235.8" width="1" height="1.3" fill="#c4a478"/><rect x="432.8" y="218.8" width="1" height="1.3" fill="#8a5a2a"/><rect x="454.8" y="228.3" width="1" height="1.3" fill="#7a4a20"/><rect x="412.6" y="226.3" width="1" height="1.3" fill="#a67a48"/><rect x="441.7" y="232.3" width="1" height="1.3" fill="#c4a478"/><rect x="439.4" y="236.5" width="1" height="1.3" fill="#8a5a2a"/><rect x="445.6" y="230.3" width="1" height="1.3" fill="#9a6a38"/><rect x="443.6" y="223.9" width="1" height="1.3" fill="#a67a48"/><rect x="427.1" y="220.6" width="1" height="1.3" fill="#c4a478"/><rect x="424.9" y="256.6" width="1" height="1.3" fill="#a67a48"/><rect x="407.8" y="231.6" width="1" height="1.3" fill="#b08858"/><rect x="419.9" y="255" width="1" height="1.3" fill="#9a6a38"/><rect x="411.5" y="251.8" width="1" height="1.3" fill="#b08858"/><rect x="447.3" y="237.5" width="1" height="1.3" fill="#8a5a2a"/><rect x="405.7" y="235.1" width="1" height="1.3" fill="#a67a48"/><rect x="436.8" y="234" width="1" height="1.3" fill="#b08858"/><rect x="423.1" y="256.8" width="1" height="1.3" fill="#8a5a2a"/><rect x="411.2" y="236.1" width="1" height="1.3" fill="#a67a48"/><rect x="410.9" y="264" width="1" height="1.3" fill="#a67a48"/><rect x="454.3" y="229.4" width="1" height="1.3" fill="#8a5a2a"/><rect x="415.3" y="224" width="1" height="1.3" fill="#7a4a20"/><rect x="438.7" y="242.9" width="1" height="1.3" fill="#b08858"/><rect x="421.8" y="238" width="1" height="1.3" fill="#8a5a2a"/><rect x="458.3" y="234.8" width="1" height="1.3" fill="#a67a48"/><rect x="444.7" y="233.2" width="1" height="1.3" fill="#8a5a2a"/><rect x="411.4" y="255.3" width="1" height="1.3" fill="#7a4a20"/><rect x="421.6" y="248.8" width="1" height="1.3" fill="#7a4a20"/><rect x="435.8" y="223.7" width="1" height="1.3" fill="#c4a478"/><rect x="418.6" y="247.2" width="1" height="1.3" fill="#9a6a38"/><rect x="408.3" y="264" width="1" height="1.3" fill="#d0b890"/><rect x="430.7" y="231.5" width="1" height="1.3" fill="#d0b890"/><rect x="452.5" y="227.9" width="1" height="1.3" fill="#7a4a20"/><rect x="408.1" y="255.3" width="1" height="1.3" fill="#7a4a20"/><rect x="457.4" y="229.3" width="1" height="1.3" fill="#b08858"/><rect x="428.2" y="224" width="1" height="1.3" fill="#b08858"/><rect x="416.4" y="242.3" width="1" height="1.3" fill="#b08858"/><rect x="404.8" y="232.2" width="1" height="1.3" fill="#9a6a38"/><rect x="438.2" y="220.1" width="1" height="1.3" fill="#d0b890"/><rect x="432.2" y="235" width="1" height="1.3" fill="#c4a478"/><rect x="426.9" y="231.6" width="1" height="1.3" fill="#8a5a2a"/><rect x="465.9" y="225.9" width="1" height="1.3" fill="#d0b890"/><rect x="423.5" y="258.1" width="1" height="1.3" fill="#c4a478"/><rect x="407.6" y="241.6" width="1" height="1.3" fill="#c4a478"/><rect x="423.3" y="246.8" width="1" height="1.3" fill="#c4a478"/><rect x="430" y="241.8" width="1" height="1.3" fill="#7a4a20"/><rect x="434.2" y="234.9" width="1" height="1.3" fill="#7a4a20"/><rect x="424.7" y="222.1" width="1" height="1.3" fill="#d0b890"/><rect x="418.3" y="257.6" width="1" height="1.3" fill="#9a6a38"/><rect x="449.5" y="229.4" width="1" height="1.3" fill="#a67a48"/><rect x="421" y="241.6" width="1" height="1.3" fill="#7a4a20"/><rect x="425.5" y="233.4" width="1" height="1.3" fill="#b08858"/><rect x="428.6" y="256.2" width="1" height="1.3" fill="#d0b890"/><rect x="417.6" y="239.9" width="1" height="1.3" fill="#b08858"/><rect x="442.6" y="234" width="1" height="1.3" fill="#9a6a38"/><rect x="447.2" y="222.4" width="1" height="1.3" fill="#d0b890"/><rect x="434.3" y="236.7" width="1" height="1.3" fill="#d0b890"/><rect x="453.6" y="227.8" width="1" height="1.3" fill="#7a4a20"/><rect x="407.5" y="242.2" width="1" height="1.3" fill="#b08858"/><rect x="412.9" y="253.9" width="1" height="1.3" fill="#a67a48"/><rect x="412.2" y="228.5" width="1" height="1.3" fill="#b08858"/><rect x="409.8" y="231.8" width="1" height="1.3" fill="#9a6a38"/><rect x="410.6" y="226.9" width="1" height="1.3" fill="#b08858"/><rect x="431.2" y="222.2" width="1" height="1.3" fill="#9a6a38"/><rect x="426.3" y="231.3" width="1" height="1.3" fill="#9a6a38"/><rect x="431.7" y="251" width="1" height="1.3" fill="#7a4a20"/><rect x="439.5" y="219.1" width="1" height="1.3" fill="#9a6a38"/><rect x="430" y="239.8" width="1" height="1.3" fill="#a67a48"/><rect x="445.8" y="222.3" width="1" height="1.3" fill="#8a5a2a"/><rect x="439.1" y="238.9" width="1" height="1.3" fill="#7a4a20"/><rect x="453" y="236.4" width="1" height="1.3" fill="#c4a478"/><rect x="416.3" y="227.7" width="1" height="1.3" fill="#b08858"/><rect x="430.7" y="221.9" width="1" height="1.3" fill="#c4a478"/><rect x="419" y="260.4" width="1" height="1.3" fill="#8a5a2a"/><rect x="411.1" y="231.4" width="1" height="1.3" fill="#a67a48"/><rect x="410.1" y="233.6" width="1" height="1.3" fill="#7a4a20"/><rect x="430.1" y="226.2" width="1" height="1.3" fill="#9a6a38"/><rect x="407.2" y="243.6" width="1" height="1.3" fill="#a67a48"/><rect x="451.8" y="230.3" width="1" height="1.3" fill="#d0b890"/><rect x="429.5" y="247.8" width="1" height="1.3" fill="#7a4a20"/><rect x="457" y="229.7" width="1" height="1.3" fill="#c4a478"/><rect x="435.2" y="222.5" width="1" height="1.3" fill="#8a5a2a"/><rect x="417.2" y="243.4" width="1" height="1.3" fill="#d0b890"/><rect x="425.5" y="227.4" width="1" height="1.3" fill="#a67a48"/><rect x="431.3" y="234.9" width="1" height="1.3" fill="#d0b890"/><rect x="436.9" y="237.8" width="1" height="1.3" fill="#8a5a2a"/><rect x="435.2" y="238.5" width="1" height="1.3" fill="#b08858"/><rect x="408.7" y="268.2" width="1" height="1.3" fill="#8a5a2a"/><rect x="466.3" y="224.3" width="1" height="1.3" fill="#8a5a2a"/><rect x="413.2" y="229" width="1" height="1.3" fill="#9a6a38"/><rect x="408.5" y="259.8" width="1" height="1.3" fill="#9a6a38"/><rect x="448.5" y="227.9" width="1" height="1.3" fill="#8a5a2a"/><rect x="414.5" y="227.3" width="1" height="1.3" fill="#a67a48"/><rect x="429.4" y="249.7" width="1" height="1.3" fill="#d0b890"/><rect x="425.9" y="243.7" width="1" height="1.3" fill="#9a6a38"/><rect x="453.6" y="232" width="1" height="1.3" fill="#7a4a20"/><rect x="427.3" y="235.1" width="1" height="1.3" fill="#b08858"/><rect x="438.6" y="219.5" width="1" height="1.3" fill="#a67a48"/><rect x="413.5" y="240.3" width="1" height="1.3" fill="#a67a48"/><rect x="425.6" y="232.9" width="1" height="1.3" fill="#9a6a38"/><rect x="464" y="226.9" width="1" height="1.3" fill="#c4a478"/><rect x="416.1" y="221.6" width="1" height="1.3" fill="#a67a48"/><rect x="430.4" y="248.8" width="1" height="1.3" fill="#7a4a20"/><rect x="408.9" y="228.9" width="1" height="1.3" fill="#b08858"/><rect x="446.4" y="229.3" width="1" height="1.3" fill="#c4a478"/><rect x="421.4" y="248.3" width="1" height="1.3" fill="#d0b890"/><rect x="460.9" y="223.1" width="1" height="1.3" fill="#a67a48"/><rect x="454.6" y="235.2" width="1" height="1.3" fill="#a67a48"/><rect x="418" y="241" width="1" height="1.3" fill="#c4a478"/><rect x="425.3" y="221.6" width="1" height="1.3" fill="#8a5a2a"/><rect x="403.8" y="237.7" width="1" height="1.3" fill="#d0b890"/><rect x="436.2" y="242.4" width="1" height="1.3" fill="#c4a478"/><rect x="421.2" y="222.6" width="1" height="1.3" fill="#d0b890"/><rect x="420.2" y="237.3" width="1" height="1.3" fill="#7a4a20"/><rect x="422.7" y="225.1" width="1" height="1.3" fill="#c4a478"/><rect x="412.7" y="251.7" width="1" height="1.3" fill="#c4a478"/><rect x="415.2" y="230" width="1" height="1.3" fill="#c4a478"/><rect x="430.6" y="218.5" width="1" height="1.3" fill="#9a6a38"/><rect x="444.8" y="224.7" width="1" height="1.3" fill="#d0b890"/><rect x="405.1" y="231.5" width="1" height="1.3" fill="#9a6a38"/><rect x="442.3" y="220.6" width="1" height="1.3" fill="#8a5a2a"/><rect x="433.6" y="232.4" width="1" height="1.3" fill="#b08858"/><rect x="405.3" y="245.7" width="1" height="1.3" fill="#b08858"/><rect x="405.2" y="257" width="1" height="1.3" fill="#c4a478"/><rect x="423.4" y="259.2" width="1" height="1.3" fill="#b08858"/><rect x="419.7" y="258.1" width="1" height="1.3" fill="#b08858"/><rect x="428.3" y="230" width="1" height="1.3" fill="#7a4a20"/><rect x="435.3" y="246.7" width="1" height="1.3" fill="#9a6a38"/><rect x="419.6" y="253.1" width="1" height="1.3" fill="#7a4a20"/><rect x="424.6" y="235.1" width="1" height="1.3" fill="#7a4a20"/><rect x="455.6" y="235.9" width="1" height="1.3" fill="#8a5a2a"/><rect x="408.5" y="254.1" width="1" height="1.3" fill="#9a6a38"/><rect x="436.2" y="239.2" width="1" height="1.3" fill="#c4a478"/><rect x="417.7" y="231.1" width="1" height="1.3" fill="#b08858"/><rect x="425.8" y="229.7" width="1" height="1.3" fill="#d0b890"/><rect x="432.1" y="225.1" width="1" height="1.3" fill="#c4a478"/><rect x="424.8" y="230.1" width="1" height="1.3" fill="#a67a48"/><rect x="422.4" y="238.4" width="1" height="1.3" fill="#9a6a38"/><rect x="430.7" y="246" width="1" height="1.3" fill="#d0b890"/><rect x="452.2" y="237.4" width="1" height="1.3" fill="#b08858"/><rect x="448.8" y="226.7" width="1" height="1.3" fill="#8a5a2a"/><rect x="411" y="242.2" width="1" height="1.3" fill="#a67a48"/><rect x="410.5" y="253.1" width="1" height="1.3" fill="#b08858"/><rect x="415.9" y="250.1" width="1" height="1.3" fill="#7a4a20"/><rect x="413.1" y="235.4" width="1" height="1.3" fill="#a67a48"/><rect x="443.6" y="242.2" width="1" height="1.3" fill="#d0b890"/><rect x="422.4" y="243.6" width="1" height="1.3" fill="#c4a478"/><rect x="434.9" y="223.4" width="1" height="1.3" fill="#a67a48"/><rect x="405.6" y="235.3" width="1" height="1.3" fill="#7a4a20"/><rect x="406.3" y="253.9" width="1" height="1.3" fill="#a67a48"/><rect x="422.2" y="234.2" width="1" height="1.3" fill="#8a5a2a"/><rect x="410.8" y="249.2" width="1" height="1.3" fill="#7a4a20"/><rect x="427.8" y="240.8" width="1" height="1.3" fill="#b08858"/><rect x="430.7" y="226.8" width="1" height="1.3" fill="#b08858"/><rect x="412.1" y="251.4" width="1" height="1.3" fill="#b08858"/><rect x="410.1" y="229.6" width="1" height="1.3" fill="#d0b890"/><rect x="440.6" y="228.2" width="1" height="1.3" fill="#8a5a2a"/><rect x="411.5" y="254.3" width="1" height="1.3" fill="#d0b890"/><rect x="424.4" y="248.6" width="1" height="1.3" fill="#d0b890"/><rect x="437.1" y="223.6" width="1" height="1.3" fill="#a67a48"/><rect x="422.3" y="231.5" width="1" height="1.3" fill="#7a4a20"/><rect x="441.2" y="217.8" width="1" height="1.3" fill="#c4a478"/><rect x="408.5" y="258.9" width="1" height="1.3" fill="#9a6a38"/><rect x="453.7" y="231.9" width="1" height="1.3" fill="#7a4a20"/><rect x="456.9" y="235.6" width="1" height="1.3" fill="#b08858"/><rect x="428.2" y="220.4" width="1" height="1.3" fill="#b08858"/><rect x="415.6" y="249.2" width="1" height="1.3" fill="#c4a478"/><rect x="406.6" y="257.6" width="1" height="1.3" fill="#8a5a2a"/><rect x="406.5" y="267.8" width="1" height="1.3" fill="#8a5a2a"/><rect x="434.4" y="220.2" width="1" height="1.3" fill="#a67a48"/><rect x="446.5" y="227.8" width="1" height="1.3" fill="#9a6a38"/><rect x="416.1" y="252.7" width="1" height="1.3" fill="#c4a478"/><rect x="434.3" y="242.8" width="1" height="1.3" fill="#b08858"/><rect x="406.9" y="233.3" width="1" height="1.3" fill="#9a6a38"/><rect x="449.6" y="225.1" width="1" height="1.3" fill="#9a6a38"/><rect x="413.1" y="261.2" width="1" height="1.3" fill="#7a4a20"/><rect x="439.5" y="243.4" width="1" height="1.3" fill="#a67a48"/><rect x="405" y="263.5" width="1" height="1.3" fill="#d0b890"/><rect x="447.4" y="228.6" width="1" height="1.3" fill="#7a4a20"/><rect x="428.5" y="227.6" width="1" height="1.3" fill="#a67a48"/><rect x="411.4" y="246" width="1" height="1.3" fill="#b08858"/><rect x="455.3" y="232.9" width="1" height="1.3" fill="#d0b890"/><rect x="411.3" y="268.4" width="1" height="1.3" fill="#b08858"/><rect x="432.7" y="224.5" width="1" height="1.3" fill="#c4a478"/><rect x="418.5" y="238.5" width="1" height="1.3" fill="#b08858"/><rect x="464.8" y="229.2" width="1" height="1.3" fill="#7a4a20"/><rect x="409.5" y="228.5" width="1" height="1.3" fill="#d0b890"/><rect x="446.8" y="229.2" width="1" height="1.3" fill="#c4a478"/><rect x="428.9" y="223.6" width="1" height="1.3" fill="#a67a48"/><rect x="408.3" y="243.8" width="1" height="1.3" fill="#c4a478"/><rect x="405.6" y="249.6" width="1" height="1.3" fill="#a67a48"/><rect x="448.6" y="222.8" width="1" height="1.3" fill="#8a5a2a"/><rect x="449.3" y="224.6" width="1" height="1.3" fill="#7a4a20"/><rect x="415.7" y="244" width="1" height="1.3" fill="#9a6a38"/><rect x="418.6" y="243.1" width="1" height="1.3" fill="#8a5a2a"/><rect x="422.3" y="235.7" width="1" height="1.3" fill="#9a6a38"/><rect x="433.6" y="235.4" width="1" height="1.3" fill="#9a6a38"/><rect x="405.2" y="234.8" width="1" height="1.3" fill="#a67a48"/><rect x="427.4" y="241.5" width="1" height="1.3" fill="#a67a48"/><rect x="418" y="238.5" width="1" height="1.3" fill="#7a4a20"/><rect x="404.7" y="235.2" width="1" height="1.3" fill="#c4a478"/><rect x="406.4" y="233.1" width="1" height="1.3" fill="#d0b890"/><rect x="429.1" y="233.6" width="1" height="1.3" fill="#7a4a20"/><rect x="409.6" y="226.1" width="1" height="1.3" fill="#9a6a38"/><rect x="429.5" y="245.3" width="1" height="1.3" fill="#9a6a38"/><rect x="426.8" y="250.1" width="1" height="1.3" fill="#b08858"/><rect x="419" y="231.3" width="1" height="1.3" fill="#8a5a2a"/><rect x="430.7" y="227.7" width="1" height="1.3" fill="#7a4a20"/><rect x="413.6" y="259.2" width="1" height="1.3" fill="#b08858"/><rect x="411.8" y="252.2" width="1" height="1.3" fill="#a67a48"/><rect x="415.8" y="231.5" width="1" height="1.3" fill="#8a5a2a"/><rect x="420.8" y="259.4" width="1" height="1.3" fill="#b08858"/><rect x="415.9" y="228.2" width="1" height="1.3" fill="#b08858"/><rect x="410.6" y="228.5" width="1" height="1.3" fill="#b08858"/><rect x="436.2" y="234.5" width="1" height="1.3" fill="#a67a48"/><rect x="440.6" y="230.5" width="1" height="1.3" fill="#9a6a38"/><rect x="420.5" y="224.6" width="1" height="1.3" fill="#b08858"/><rect x="453.9" y="236.8" width="1" height="1.3" fill="#a67a48"/><rect x="409.4" y="251.6" width="1" height="1.3" fill="#9a6a38"/><rect x="424.2" y="238.6" width="1" height="1.3" fill="#b08858"/><rect x="410.7" y="257.7" width="1" height="1.3" fill="#7a4a20"/><rect x="404.5" y="264.1" width="1" height="1.3" fill="#b08858"/><rect x="430.6" y="248" width="1" height="1.3" fill="#a67a48"/><rect x="423.7" y="233.7" width="1" height="1.3" fill="#9a6a38"/><rect x="463.9" y="224.2" width="1" height="1.3" fill="#9a6a38"/><rect x="413.4" y="264.5" width="1" height="1.3" fill="#d0b890"/><rect x="442.1" y="240.7" width="1" height="1.3" fill="#d0b890"/><rect x="440.7" y="229.9" width="1" height="1.3" fill="#c4a478"/><rect x="436.9" y="217.5" width="1" height="1.3" fill="#7a4a20"/><rect x="454.8" y="230.4" width="1" height="1.3" fill="#d0b890"/><rect x="459.6" y="230" width="1" height="1.3" fill="#a67a48"/><rect x="438.1" y="232.2" width="1" height="1.3" fill="#a67a48"/><rect x="426.4" y="244.3" width="1" height="1.3" fill="#c4a478"/><rect x="411.9" y="237.6" width="1" height="1.3" fill="#d0b890"/><rect x="437.9" y="222.6" width="1" height="1.3" fill="#b08858"/><rect x="456" y="231.2" width="1" height="1.3" fill="#c4a478"/><rect x="412.1" y="234.8" width="1" height="1.3" fill="#c4a478"/><rect x="407.5" y="230.9" width="1" height="1.3" fill="#9a6a38"/><rect x="434.7" y="248.1" width="1" height="1.3" fill="#8a5a2a"/><rect x="428" y="234.1" width="1" height="1.3" fill="#9a6a38"/><rect x="420.7" y="229.9" width="1" height="1.3" fill="#a67a48"/><rect x="426.7" y="245.6" width="1" height="1.3" fill="#7a4a20"/><rect x="408.1" y="236.7" width="1" height="1.3" fill="#d0b890"/><rect x="436.5" y="222.3" width="1" height="1.3" fill="#d0b890"/><rect x="443.7" y="233.5" width="1" height="1.3" fill="#9a6a38"/><rect x="432.6" y="238" width="1" height="1.3" fill="#c4a478"/><rect x="447.4" y="236.6" width="1" height="1.3" fill="#b08858"/><rect x="410.9" y="230.9" width="1" height="1.3" fill="#a67a48"/><rect x="404" y="236.7" width="1" height="1.3" fill="#8a5a2a"/><rect x="405.4" y="241.8" width="1" height="1.3" fill="#7a4a20"/><rect x="427.1" y="224.2" width="1" height="1.3" fill="#8a5a2a"/><rect x="420.5" y="241.1" width="1" height="1.3" fill="#d0b890"/><rect x="415.3" y="254.3" width="1" height="1.3" fill="#c4a478"/><rect x="408.1" y="243.3" width="1" height="1.3" fill="#b08858"/><rect x="412.2" y="247.4" width="1" height="1.3" fill="#9a6a38"/><rect x="453.6" y="226.1" width="1" height="1.3" fill="#c4a478"/><rect x="404.1" y="250.4" width="1" height="1.3" fill="#7a4a20"/><rect x="440.7" y="229.9" width="1" height="1.3" fill="#7a4a20"/><rect x="414" y="236.4" width="1" height="1.3" fill="#9a6a38"/><rect x="424.6" y="248.8" width="1" height="1.3" fill="#d0b890"/><rect x="410.2" y="262.9" width="1" height="1.3" fill="#7a4a20"/><rect x="445.8" y="235.6" width="1" height="1.3" fill="#c4a478"/><rect x="431.8" y="222.5" width="1" height="1.3" fill="#a67a48"/><rect x="444" y="235.4" width="1" height="1.3" fill="#b08858"/><rect x="440.9" y="233.4" width="1" height="1.3" fill="#8a5a2a"/><rect x="460.2" y="226.6" width="1" height="1.3" fill="#9a6a38"/><rect x="448.7" y="235.9" width="1" height="1.3" fill="#a67a48"/><rect x="428.9" y="233.5" width="1" height="1.3" fill="#c4a478"/><rect x="431.6" y="235.4" width="1" height="1.3" fill="#7a4a20"/><rect x="420.5" y="245.1" width="1" height="1.3" fill="#b08858"/><rect x="428.6" y="217.6" width="1" height="1.3" fill="#b08858"/><rect x="405.6" y="247.6" width="1" height="1.3" fill="#d0b890"/><rect x="423.1" y="218.9" width="1" height="1.3" fill="#a67a48"/><rect x="443.1" y="236.7" width="1" height="1.3" fill="#a67a48"/><rect x="460" y="229.5" width="1" height="1.3" fill="#a67a48"/><rect x="416.3" y="242.7" width="1" height="1.3" fill="#c4a478"/><rect x="440.3" y="227.4" width="1" height="1.3" fill="#7a4a20"/><rect x="441.4" y="233.8" width="1" height="1.3" fill="#c4a478"/><rect x="430.1" y="237.3" width="1" height="1.3" fill="#d0b890"/><rect x="433.5" y="233.7" width="1" height="1.3" fill="#a67a48"/><rect x="436.3" y="240.8" width="1" height="1.3" fill="#c4a478"/><rect x="409.9" y="241.1" width="1" height="1.3" fill="#a67a48"/><rect x="404.3" y="234.7" width="1" height="1.3" fill="#9a6a38"/><rect x="421.6" y="261.4" width="1" height="1.3" fill="#9a6a38"/><rect x="415.5" y="257.8" width="1" height="1.3" fill="#8a5a2a"/><rect x="414.3" y="241.2" width="1" height="1.3" fill="#7a4a20"/><rect x="429" y="254.4" width="1" height="1.3" fill="#7a4a20"/><rect x="434.5" y="235.7" width="1" height="1.3" fill="#8a5a2a"/><rect x="406.6" y="237.9" width="1" height="1.3" fill="#b08858"/><rect x="406.3" y="230.7" width="1" height="1.3" fill="#9a6a38"/><rect x="438.9" y="229.8" width="1" height="1.3" fill="#8a5a2a"/><rect x="406.6" y="268.2" width="1" height="1.3" fill="#9a6a38"/><rect x="424.5" y="238.4" width="1" height="1.3" fill="#d0b890"/><rect x="442" y="232.8" width="1" height="1.3" fill="#9a6a38"/><rect x="431.3" y="223.8" width="1" height="1.3" fill="#7a4a20"/><rect x="448.9" y="223.4" width="1" height="1.3" fill="#b08858"/><rect x="452.9" y="236.4" width="1" height="1.3" fill="#b08858"/><rect x="423.4" y="225.9" width="1" height="1.3" fill="#8a5a2a"/><rect x="432.2" y="230.9" width="1" height="1.3" fill="#7a4a20"/><rect x="426.1" y="237.3" width="1" height="1.3" fill="#b08858"/><rect x="418" y="224.6" width="1" height="1.3" fill="#c4a478"/><rect x="434.7" y="234" width="1" height="1.3" fill="#8a5a2a"/><rect x="431.2" y="232.9" width="1" height="1.3" fill="#7a4a20"/><rect x="430.2" y="221.2" width="1" height="1.3" fill="#9a6a38"/><rect x="464.3" y="227.2" width="1" height="1.3" fill="#c4a478"/><rect x="418.8" y="255.4" width="1" height="1.3" fill="#b08858"/><rect x="408.6" y="234.8" width="1" height="1.3" fill="#c4a478"/><rect x="421.7" y="237.9" width="1" height="1.3" fill="#c4a478"/><rect x="438.7" y="243.9" width="1" height="1.3" fill="#c4a478"/><rect x="412.2" y="259.2" width="1" height="1.3" fill="#d0b890"/><rect x="425.1" y="218.2" width="1" height="1.3" fill="#a67a48"/><rect x="431.7" y="225.6" width="1" height="1.3" fill="#b08858"/><rect x="437.1" y="233.9" width="1" height="1.3" fill="#d0b890"/><rect x="404.4" y="259" width="1" height="1.3" fill="#7a4a20"/><rect x="431.2" y="221.4" width="1" height="1.3" fill="#9a6a38"/><rect x="437.9" y="244.4" width="1" height="1.3" fill="#d0b890"/><rect x="430.4" y="231" width="1" height="1.3" fill="#9a6a38"/><rect x="439" y="223.7" width="1" height="1.3" fill="#8a5a2a"/><rect x="404.3" y="233.5" width="1" height="1.3" fill="#7a4a20"/><rect x="423.7" y="218.7" width="1" height="1.3" fill="#9a6a38"/><rect x="450.1" y="227.6" width="1" height="1.3" fill="#c4a478"/><rect x="425.5" y="217.4" width="1" height="1.3" fill="#b08858"/><rect x="445.6" y="237.5" width="1" height="1.3" fill="#8a5a2a"/><rect x="411" y="239.2" width="1" height="1.3" fill="#8a5a2a"/><rect x="434.8" y="241.7" width="1" height="1.3" fill="#d0b890"/><rect x="403.8" y="239.4" width="1" height="1.3" fill="#c4a478"/><rect x="425.5" y="237.5" width="1" height="1.3" fill="#a67a48"/><rect x="419.5" y="237.2" width="1" height="1.3" fill="#9a6a38"/><rect x="450.3" y="235.9" width="1" height="1.3" fill="#d0b890"/><rect x="439.9" y="227.1" width="1" height="1.3" fill="#a67a48"/><rect x="431.4" y="231.1" width="1" height="1.3" fill="#b08858"/><rect x="444.5" y="240.3" width="1" height="1.3" fill="#7a4a20"/><rect x="453.8" y="232.5" width="1" height="1.3" fill="#7a4a20"/><rect x="424" y="234.1" width="1" height="1.3" fill="#c4a478"/><rect x="414" y="257.3" width="1" height="1.3" fill="#d0b890"/><rect x="421.7" y="249" width="1" height="1.3" fill="#c4a478"/><rect x="449.6" y="238.5" width="1" height="1.3" fill="#d0b890"/><rect x="429.2" y="246.7" width="1" height="1.3" fill="#7a4a20"/><rect x="443.6" y="236.4" width="1" height="1.3" fill="#a67a48"/><rect x="434.6" y="233.1" width="1" height="1.3" fill="#8a5a2a"/><rect x="434.8" y="224.5" width="1" height="1.3" fill="#c4a478"/><rect x="439.4" y="231.3" width="1" height="1.3" fill="#7a4a20"/><rect x="431.9" y="219.8" width="1" height="1.3" fill="#8a5a2a"/><rect x="429.7" y="216.8" width="1" height="1.3" fill="#b08858"/><rect x="425.3" y="227.2" width="1" height="1.3" fill="#9a6a38"/><rect x="413.1" y="222.9" width="1" height="1.3" fill="#9a6a38"/><rect x="430" y="234.1" width="1" height="1.3" fill="#7a4a20"/><rect x="406.9" y="235.3" width="1" height="1.3" fill="#c4a478"/><rect x="428.2" y="233.8" width="1" height="1.3" fill="#a67a48"/><rect x="442.2" y="228.8" width="1" height="1.3" fill="#c4a478"/><rect x="417.7" y="231" width="1" height="1.3" fill="#9a6a38"/><rect x="421.3" y="226.7" width="1" height="1.3" fill="#c4a478"/><rect x="427.4" y="235.7" width="1" height="1.3" fill="#b08858"/><rect x="413.9" y="249.4" width="1" height="1.3" fill="#c4a478"/><rect x="431.7" y="223.7" width="1" height="1.3" fill="#7a4a20"/><rect x="438.1" y="230.9" width="1" height="1.3" fill="#d0b890"/><rect x="417.7" y="264" width="1" height="1.3" fill="#a67a48"/><rect x="413" y="225.8" width="1" height="1.3" fill="#d0b890"/><rect x="407" y="232.1" width="1" height="1.3" fill="#b08858"/><rect x="423.1" y="219.1" width="1" height="1.3" fill="#a67a48"/><rect x="420.1" y="225.2" width="1" height="1.3" fill="#9a6a38"/><rect x="465.9" y="226.1" width="1" height="1.3" fill="#a67a48"/><rect x="418.9" y="255.2" width="1" height="1.3" fill="#8a5a2a"/><rect x="408.2" y="264.6" width="1" height="1.3" fill="#c4a478"/><rect x="442.9" y="229.4" width="1" height="1.3" fill="#7a4a20"/><rect x="409.4" y="230.2" width="1" height="1.3" fill="#d0b890"/><rect x="405.5" y="235.1" width="1" height="1.3" fill="#c4a478"/><rect x="410" y="251.9" width="1" height="1.3" fill="#b08858"/><rect x="439" y="230.6" width="1" height="1.3" fill="#b08858"/><rect x="412.5" y="223.4" width="1" height="1.3" fill="#9a6a38"/><rect x="448.8" y="233.8" width="1" height="1.3" fill="#c4a478"/><rect x="409.4" y="240.7" width="1" height="1.3" fill="#9a6a38"/><rect x="447.7" y="231.2" width="1" height="1.3" fill="#d0b890"/><rect x="423" y="250.6" width="1" height="1.3" fill="#a67a48"/><rect x="422.1" y="242.8" width="1" height="1.3" fill="#9a6a38"/><rect x="432.9" y="226.9" width="1" height="1.3" fill="#9a6a38"/><rect x="439.5" y="227.7" width="1" height="1.3" fill="#a67a48"/><rect x="434.3" y="240.6" width="1" height="1.3" fill="#7a4a20"/><rect x="439.7" y="239.7" width="1" height="1.3" fill="#7a4a20"/><rect x="440.1" y="242.4" width="1" height="1.3" fill="#c4a478"/><rect x="406.8" y="238.2" width="1" height="1.3" fill="#7a4a20"/><rect x="428.7" y="254.2" width="1" height="1.3" fill="#9a6a38"/><rect x="408.1" y="249.2" width="1" height="1.3" fill="#7a4a20"/><rect x="434.1" y="225.8" width="1" height="1.3" fill="#9a6a38"/><rect x="406.4" y="249.2" width="1" height="1.3" fill="#7a4a20"/><rect x="451" y="227" width="1" height="1.3" fill="#7a4a20"/><rect x="439" y="237.9" width="1" height="1.3" fill="#d0b890"/><rect x="412.4" y="224" width="1" height="1.3" fill="#7a4a20"/><rect x="435.1" y="238.1" width="1" height="1.3" fill="#b08858"/><rect x="413.6" y="262.1" width="1" height="1.3" fill="#8a5a2a"/><rect x="427.5" y="235.8" width="1" height="1.3" fill="#a67a48"/><rect x="439" y="233.3" width="1" height="1.3" fill="#8a5a2a"/><rect x="409.7" y="264.7" width="1" height="1.3" fill="#8a5a2a"/><rect x="440.4" y="219.5" width="1" height="1.3" fill="#7a4a20"/><rect x="419.3" y="248" width="1" height="1.3" fill="#c4a478"/><rect x="418.4" y="230.5" width="1" height="1.3" fill="#b08858"/><rect x="409.6" y="248.1" width="1" height="1.3" fill="#d0b890"/><rect x="412.2" y="267" width="1" height="1.3" fill="#7a4a20"/><rect x="454.7" y="233.4" width="1" height="1.3" fill="#9a6a38"/><rect x="418" y="255" width="1" height="1.3" fill="#d0b890"/><rect x="413.6" y="233.9" width="1" height="1.3" fill="#d0b890"/><rect x="414.6" y="222.9" width="1" height="1.3" fill="#9a6a38"/><rect x="404.9" y="236.2" width="1" height="1.3" fill="#c4a478"/><rect x="440.5" y="234.9" width="1" height="1.3" fill="#b08858"/><rect x="406.4" y="260" width="1" height="1.3" fill="#8a5a2a"/><rect x="419.6" y="254.4" width="1" height="1.3" fill="#7a4a20"/><rect x="441" y="241.5" width="1" height="1.3" fill="#8a5a2a"/><rect x="434.5" y="232.7" width="1" height="1.3" fill="#8a5a2a"/><rect x="444.3" y="236.2" width="1" height="1.3" fill="#b08858"/><rect x="420.9" y="244.2" width="1" height="1.3" fill="#8a5a2a"/><rect x="443.5" y="233.2" width="1" height="1.3" fill="#9a6a38"/><rect x="422.4" y="229.3" width="1" height="1.3" fill="#8a5a2a"/><rect x="431.9" y="240.2" width="1" height="1.3" fill="#8a5a2a"/><rect x="420.8" y="256.8" width="1" height="1.3" fill="#b08858"/><rect x="405.3" y="252.8" width="1" height="1.3" fill="#a67a48"/><rect x="432.1" y="235.2" width="1" height="1.3" fill="#9a6a38"/><rect x="446" y="236.4" width="1" height="1.3" fill="#a67a48"/><rect x="433.6" y="231.2" width="1" height="1.3" fill="#7a4a20"/><rect x="416.4" y="241.7" width="1" height="1.3" fill="#d0b890"/><rect x="405.2" y="238.3" width="1" height="1.3" fill="#7a4a20"/><rect x="465.1" y="223" width="1" height="1.3" fill="#8a5a2a"/><rect x="450.4" y="237.1" width="1" height="1.3" fill="#b08858"/><rect x="448" y="238.5" width="1" height="1.3" fill="#8a5a2a"/><rect x="449.8" y="224.5" width="1" height="1.3" fill="#7a4a20"/><rect x="413.4" y="239" width="1" height="1.3" fill="#c4a478"/><rect x="416.1" y="239" width="1" height="1.3" fill="#9a6a38"/><rect x="406.4" y="249" width="1" height="1.3" fill="#9a6a38"/><rect x="423.4" y="230.3" width="1" height="1.3" fill="#d0b890"/><rect x="425" y="233" width="1" height="1.3" fill="#c4a478"/><rect x="414.3" y="232.5" width="1" height="1.3" fill="#9a6a38"/><rect x="413.9" y="224.3" width="1" height="1.3" fill="#8a5a2a"/><rect x="410.8" y="227" width="1" height="1.3" fill="#7a4a20"/><rect x="444.3" y="236.6" width="1" height="1.3" fill="#a67a48"/><rect x="452" y="232.2" width="1" height="1.3" fill="#7a4a20"/><rect x="425.5" y="229.3" width="1" height="1.3" fill="#8a5a2a"/><rect x="459.1" y="226.8" width="1" height="1.3" fill="#c4a478"/><rect x="410.1" y="246.3" width="1" height="1.3" fill="#c4a478"/><rect x="416.4" y="250.7" width="1" height="1.3" fill="#7a4a20"/><rect x="432.1" y="248" width="1" height="1.3" fill="#d0b890"/><rect x="412.6" y="234.1" width="1" height="1.3" fill="#c4a478"/><rect x="408.9" y="267.5" width="1" height="1.3" fill="#a67a48"/><rect x="437.3" y="232.6" width="1" height="1.3" fill="#8a5a2a"/><rect x="425" y="230.8" width="1" height="1.3" fill="#a67a48"/><rect x="432.7" y="222.7" width="1" height="1.3" fill="#c4a478"/><rect x="433.2" y="219.6" width="1" height="1.3" fill="#d0b890"/><rect x="442.1" y="240.1" width="1" height="1.3" fill="#7a4a20"/><rect x="427" y="237.2" width="1" height="1.3" fill="#a67a48"/><rect x="449.7" y="230.5" width="1" height="1.3" fill="#9a6a38"/><rect x="423.2" y="224.4" width="1" height="1.3" fill="#8a5a2a"/><rect x="413.2" y="222.9" width="1" height="1.3" fill="#8a5a2a"/><rect x="442.1" y="235.8" width="1" height="1.3" fill="#a67a48"/><rect x="407.6" y="255.4" width="1" height="1.3" fill="#7a4a20"/><rect x="433.5" y="217.9" width="1" height="1.3" fill="#7a4a20"/><rect x="403.9" y="236.7" width="1" height="1.3" fill="#8a5a2a"/><rect x="425" y="247.6" width="1" height="1.3" fill="#c4a478"/><rect x="432.8" y="232" width="1" height="1.3" fill="#b08858"/><rect x="421.8" y="242.9" width="1" height="1.3" fill="#7a4a20"/><rect x="462.3" y="227.4" width="1" height="1.3" fill="#8a5a2a"/><rect x="442.4" y="225.5" width="1" height="1.3" fill="#9a6a38"/><rect x="440.6" y="222" width="1" height="1.3" fill="#c4a478"/><rect x="412.5" y="249.2" width="1" height="1.3" fill="#b08858"/><rect x="428.1" y="237.1" width="1" height="1.3" fill="#b08858"/><rect x="418.5" y="239.9" width="1" height="1.3" fill="#d0b890"/><rect x="423.1" y="231.9" width="1" height="1.3" fill="#b08858"/><rect x="420.9" y="229.4" width="1" height="1.3" fill="#d0b890"/><rect x="405.5" y="250.7" width="1" height="1.3" fill="#7a4a20"/><rect x="433.6" y="217.4" width="1" height="1.3" fill="#b08858"/><rect x="423.7" y="259.5" width="1" height="1.3" fill="#d0b890"/><rect x="421.3" y="238.4" width="1" height="1.3" fill="#9a6a38"/><rect x="430.2" y="238" width="1" height="1.3" fill="#9a6a38"/><rect x="436" y="216.5" width="1" height="1.3" fill="#a67a48"/><rect x="433.2" y="219.2" width="1" height="1.3" fill="#9a6a38"/><rect x="466.9" y="222.5" width="1" height="1.3" fill="#a67a48"/><rect x="421.1" y="247.7" width="1" height="1.3" fill="#a67a48"/><rect x="432.5" y="222.8" width="1" height="1.3" fill="#7a4a20"/><rect x="404.2" y="248.9" width="1" height="1.3" fill="#8a5a2a"/><rect x="457" y="235.3" width="1" height="1.3" fill="#7a4a20"/><rect x="455" y="235.3" width="1" height="1.3" fill="#c4a478"/><rect x="441" y="240.2" width="1" height="1.3" fill="#b08858"/><rect x="455.7" y="230.2" width="1" height="1.3" fill="#c4a478"/><rect x="406.8" y="237.6" width="1" height="1.3" fill="#c4a478"/><rect x="450.5" y="225.1" width="1" height="1.3" fill="#c4a478"/><rect x="427.1" y="253.2" width="1" height="1.3" fill="#a67a48"/><rect x="434.7" y="231.7" width="1" height="1.3" fill="#8a5a2a"/><rect x="410.3" y="235.3" width="1" height="1.3" fill="#b08858"/><rect x="438.1" y="219.4" width="1" height="1.3" fill="#7a4a20"/><rect x="424.1" y="246.2" width="1" height="1.3" fill="#c4a478"/><rect x="443.3" y="233.7" width="1" height="1.3" fill="#c4a478"/><rect x="416.9" y="241.6" width="1" height="1.3" fill="#a67a48"/><rect x="412.1" y="229.8" width="1" height="1.3" fill="#8a5a2a"/><rect x="410.6" y="227.2" width="1" height="1.3" fill="#7a4a20"/><rect x="460.2" y="231.9" width="1" height="1.3" fill="#a67a48"/><rect x="435.7" y="233.6" width="1" height="1.3" fill="#b08858"/><rect x="423.8" y="226.6" width="1" height="1.3" fill="#b08858"/><rect x="446" y="233" width="1" height="1.3" fill="#7a4a20"/><rect x="427.7" y="238.6" width="1" height="1.3" fill="#c4a478"/><rect x="438.6" y="240" width="1" height="1.3" fill="#a67a48"/><rect x="447.2" y="223.6" width="1" height="1.3" fill="#d0b890"/><rect x="405.3" y="241.5" width="1" height="1.3" fill="#b08858"/><rect x="448.3" y="239.3" width="1" height="1.3" fill="#b08858"/><rect x="411.2" y="250.7" width="1" height="1.3" fill="#9a6a38"/><rect x="442.4" y="223.1" width="1" height="1.3" fill="#b08858"/><rect x="427.3" y="220.6" width="1" height="1.3" fill="#b08858"/><rect x="432.5" y="228.2" width="1" height="1.3" fill="#7a4a20"/><rect x="429.7" y="254.6" width="1" height="1.3" fill="#9a6a38"/><rect x="416.3" y="230.1" width="1" height="1.3" fill="#a67a48"/><rect x="416.7" y="236.9" width="1" height="1.3" fill="#c4a478"/><rect x="459.5" y="229" width="1" height="1.3" fill="#b08858"/><rect x="433.2" y="241.6" width="1" height="1.3" fill="#8a5a2a"/><rect x="439.5" y="242.8" width="1" height="1.3" fill="#b08858"/><rect x="418.5" y="262.6" width="1" height="1.3" fill="#c4a478"/><rect x="412.1" y="226.9" width="1" height="1.3" fill="#8a5a2a"/><rect x="464" y="223.5" width="1" height="1.3" fill="#8a5a2a"/><rect x="432.5" y="246" width="1" height="1.3" fill="#c4a478"/><rect x="416.9" y="222" width="1" height="1.3" fill="#7a4a20"/><rect x="437.8" y="239.9" width="1" height="1.3" fill="#8a5a2a"/><rect x="420.5" y="246.8" width="1" height="1.3" fill="#d0b890"/><rect x="418.7" y="234.3" width="1" height="1.3" fill="#8a5a2a"/><rect x="445.8" y="238.1" width="1" height="1.3" fill="#9a6a38"/><rect x="442.4" y="234.6" width="1" height="1.3" fill="#8a5a2a"/><rect x="407.2" y="235.6" width="1" height="1.3" fill="#8a5a2a"/><rect x="444.1" y="237.5" width="1" height="1.3" fill="#8a5a2a"/><rect x="407.2" y="249.5" width="1" height="1.3" fill="#c4a478"/><rect x="444.9" y="223.2" width="1" height="1.3" fill="#c4a478"/><rect x="435.7" y="227.1" width="1" height="1.3" fill="#9a6a38"/><rect x="459.5" y="233.5" width="1" height="1.3" fill="#8a5a2a"/><rect x="432.2" y="238.4" width="1" height="1.3" fill="#8a5a2a"/><rect x="462.3" y="226.1" width="1" height="1.3" fill="#8a5a2a"/><rect x="431.9" y="220.6" width="1" height="1.3" fill="#c4a478"/><rect x="462.9" y="229.5" width="1" height="1.3" fill="#8a5a2a"/><rect x="412.2" y="258.4" width="1" height="1.3" fill="#7a4a20"/><rect x="412.9" y="237.8" width="1" height="1.3" fill="#8a5a2a"/><rect x="428.4" y="250.6" width="1" height="1.3" fill="#d0b890"/><rect x="422.4" y="237.7" width="1" height="1.3" fill="#9a6a38"/><rect x="436.6" y="247.1" width="1" height="1.3" fill="#8a5a2a"/><rect x="433.2" y="241.1" width="1" height="1.3" fill="#d0b890"/><rect x="414.2" y="237.7" width="1" height="1.3" fill="#b08858"/><rect x="425.6" y="228.1" width="1" height="1.3" fill="#b08858"/><rect x="423.1" y="242.9" width="1" height="1.3" fill="#a67a48"/><rect x="445" y="230.6" width="1" height="1.3" fill="#c4a478"/><rect x="441.5" y="229.1" width="1" height="1.3" fill="#8a5a2a"/><rect x="410.3" y="236.7" width="1" height="1.3" fill="#7a4a20"/><rect x="412.8" y="237.6" width="1" height="1.3" fill="#c4a478"/><rect x="406.9" y="243.6" width="1" height="1.3" fill="#b08858"/><rect x="414.7" y="232.8" width="1" height="1.3" fill="#a67a48"/><rect x="411.6" y="237.8" width="1" height="1.3" fill="#c4a478"/><rect x="440.6" y="239.9" width="1" height="1.3" fill="#8a5a2a"/><rect x="404" y="234" width="1" height="1.3" fill="#9a6a38"/><rect x="413.2" y="236.9" width="1" height="1.3" fill="#7a4a20"/><rect x="433.6" y="223.6" width="1" height="1.3" fill="#9a6a38"/><rect x="429.6" y="236.7" width="1" height="1.3" fill="#8a5a2a"/><rect x="438.4" y="242.3" width="1" height="1.3" fill="#9a6a38"/><rect x="443.1" y="233.5" width="1" height="1.3" fill="#8a5a2a"/><rect x="448.3" y="225.1" width="1" height="1.3" fill="#b08858"/><rect x="457" y="226.7" width="1" height="1.3" fill="#a67a48"/><rect x="446.4" y="231" width="1" height="1.3" fill="#b08858"/><rect x="433.1" y="216.3" width="1" height="1.3" fill="#8a5a2a"/><rect x="417.1" y="226.2" width="1" height="1.3" fill="#c4a478"/><rect x="432.8" y="232.3" width="1" height="1.3" fill="#a67a48"/><rect x="464.5" y="228.9" width="1" height="1.3" fill="#a67a48"/><rect x="425.9" y="229.5" width="1" height="1.3" fill="#8a5a2a"/><rect x="438.6" y="219.4" width="1" height="1.3" fill="#b08858"/><rect x="416.1" y="259.1" width="1" height="1.3" fill="#d0b890"/><rect x="407.8" y="246.7" width="1" height="1.3" fill="#8a5a2a"/><rect x="421.8" y="247.5" width="1" height="1.3" fill="#a67a48"/><rect x="453.7" y="231.5" width="1" height="1.3" fill="#d0b890"/><rect x="409.2" y="241.7" width="1" height="1.3" fill="#7a4a20"/><rect x="426.1" y="251.6" width="1" height="1.3" fill="#b08858"/><rect x="451.3" y="228.1" width="1" height="1.3" fill="#9a6a38"/><rect x="463.3" y="222.4" width="1" height="1.3" fill="#7a4a20"/><rect x="427" y="241.9" width="1" height="1.3" fill="#d0b890"/><rect x="419.2" y="251.7" width="1" height="1.3" fill="#c4a478"/><rect x="420.3" y="241.2" width="1" height="1.3" fill="#d0b890"/><rect x="452.9" y="227.4" width="1" height="1.3" fill="#c4a478"/><rect x="418" y="261.9" width="1" height="1.3" fill="#9a6a38"/><rect x="417.7" y="258.7" width="1" height="1.3" fill="#d0b890"/><rect x="417" y="260.1" width="1" height="1.3" fill="#9a6a38"/><rect x="424.8" y="232.2" width="1" height="1.3" fill="#8a5a2a"/><rect x="425.8" y="238.2" width="1" height="1.3" fill="#7a4a20"/><rect x="416.5" y="243.6" width="1" height="1.3" fill="#7a4a20"/><rect x="449.2" y="226.6" width="1" height="1.3" fill="#d0b890"/><rect x="421" y="251.3" width="1" height="1.3" fill="#9a6a38"/><rect x="460.4" y="226.9" width="1" height="1.3" fill="#d0b890"/><rect x="413.1" y="229" width="1" height="1.3" fill="#b08858"/><rect x="406.8" y="235.4" width="1" height="1.3" fill="#a67a48"/><rect x="422" y="243.5" width="1" height="1.3" fill="#b08858"/><rect x="448.7" y="225.2" width="1" height="1.3" fill="#c4a478"/><rect x="442.5" y="229.3" width="1" height="1.3" fill="#b08858"/><rect x="409.1" y="229" width="1" height="1.3" fill="#c4a478"/><rect x="417.2" y="222.7" width="1" height="1.3" fill="#b08858"/><rect x="417.6" y="241" width="1" height="1.3" fill="#c4a478"/><rect x="427.1" y="218.9" width="1" height="1.3" fill="#8a5a2a"/><rect x="411.7" y="228" width="1" height="1.3" fill="#c4a478"/><rect x="445.5" y="228.6" width="1" height="1.3" fill="#9a6a38"/><rect x="421.7" y="239.2" width="1" height="1.3" fill="#8a5a2a"/><rect x="440.6" y="231.7" width="1" height="1.3" fill="#b08858"/><rect x="419.5" y="224" width="1" height="1.3" fill="#7a4a20"/><rect x="425.7" y="231.4" width="1" height="1.3" fill="#a67a48"/><rect x="430.4" y="249" width="1" height="1.3" fill="#7a4a20"/><rect x="431" y="216.7" width="1" height="1.3" fill="#8a5a2a"/><rect x="413.3" y="239.5" width="1" height="1.3" fill="#9a6a38"/><rect x="411.4" y="245.2" width="1" height="1.3" fill="#9a6a38"/><rect x="434.2" y="245.3" width="1" height="1.3" fill="#a67a48"/><rect x="442.9" y="224.3" width="1" height="1.3" fill="#a67a48"/><rect x="446.6" y="229.1" width="1" height="1.3" fill="#d0b890"/><rect x="408.5" y="234.9" width="1" height="1.3" fill="#c4a478"/><rect x="432.4" y="247.5" width="1" height="1.3" fill="#d0b890"/><rect x="443.9" y="240.5" width="1" height="1.3" fill="#d0b890"/><rect x="465.8" y="228" width="1" height="1.3" fill="#c4a478"/><rect x="456.3" y="226.2" width="1" height="1.3" fill="#8a5a2a"/><rect x="445.1" y="240.7" width="1" height="1.3" fill="#c4a478"/><rect x="408.8" y="233.9" width="1" height="1.3" fill="#8a5a2a"/><rect x="412.6" y="229.7" width="1" height="1.3" fill="#d0b890"/><rect x="433.7" y="218.2" width="1" height="1.3" fill="#7a4a20"/><rect x="445.3" y="225.8" width="1" height="1.3" fill="#a67a48"/><rect x="429.9" y="250.4" width="1" height="1.3" fill="#8a5a2a"/><rect x="437.8" y="227.3" width="1" height="1.3" fill="#9a6a38"/><rect x="430.8" y="245.4" width="1" height="1.3" fill="#a67a48"/><rect x="423.1" y="227.9" width="1" height="1.3" fill="#8a5a2a"/><rect x="411.4" y="266.8" width="1" height="1.3" fill="#9a6a38"/><rect x="423.8" y="232.5" width="1" height="1.3" fill="#8a5a2a"/><rect x="421.9" y="224.7" width="1" height="1.3" fill="#9a6a38"/><rect x="439.3" y="239.9" width="1" height="1.3" fill="#a67a48"/><rect x="441.9" y="223.3" width="1" height="1.3" fill="#d0b890"/><rect x="432.2" y="233" width="1" height="1.3" fill="#d0b890"/><rect x="457.1" y="232.8" width="1" height="1.3" fill="#b08858"/><rect x="425.7" y="234.2" width="1" height="1.3" fill="#a67a48"/><rect x="447.1" y="222.9" width="1" height="1.3" fill="#d0b890"/><rect x="411.9" y="255.3" width="1" height="1.3" fill="#d0b890"/><rect x="405.9" y="253.8" width="1" height="1.3" fill="#c4a478"/><rect x="407.1" y="268" width="1" height="1.3" fill="#c4a478"/><rect x="453.2" y="226.5" width="1" height="1.3" fill="#8a5a2a"/><rect x="416.6" y="225.8" width="1" height="1.3" fill="#c4a478"/><rect x="437.1" y="228.9" width="1" height="1.3" fill="#b08858"/><rect x="454.4" y="229.3" width="1" height="1.3" fill="#d0b890"/><rect x="417.9" y="236.4" width="1" height="1.3" fill="#8a5a2a"/><rect x="429.1" y="220.4" width="1" height="1.3" fill="#d0b890"/><rect x="435.2" y="224.4" width="1" height="1.3" fill="#b08858"/><rect x="442.9" y="232.1" width="1" height="1.3" fill="#c4a478"/><rect x="439.4" y="236.9" width="1" height="1.3" fill="#9a6a38"/><rect x="435.3" y="235.5" width="1" height="1.3" fill="#9a6a38"/><rect x="408.6" y="229.7" width="1" height="1.3" fill="#a67a48"/><rect x="425.3" y="226.7" width="1" height="1.3" fill="#7a4a20"/><rect x="438.6" y="220" width="1" height="1.3" fill="#7a4a20"/><rect x="444.6" y="228" width="1" height="1.3" fill="#d0b890"/><rect x="439.9" y="243.5" width="1" height="1.3" fill="#b08858"/><rect x="434.6" y="232.6" width="1" height="1.3" fill="#9a6a38"/><rect x="447.6" y="227.2" width="1" height="1.3" fill="#b08858"/><rect x="431.7" y="251.1" width="1" height="1.3" fill="#8a5a2a"/><rect x="433.6" y="221.5" width="1" height="1.3" fill="#d0b890"/><rect x="433.7" y="217.9" width="1" height="1.3" fill="#c4a478"/><rect x="437.7" y="240.6" width="1" height="1.3" fill="#9a6a38"/><rect x="422.6" y="255.1" width="1" height="1.3" fill="#a67a48"/><rect x="419" y="249.8" width="1" height="1.3" fill="#b08858"/><rect x="460" y="229.5" width="1" height="1.3" fill="#9a6a38"/><rect x="426.5" y="218.5" width="1" height="1.3" fill="#a67a48"/><rect x="451.7" y="233.1" width="1" height="1.3" fill="#a67a48"/><rect x="406.7" y="231" width="1" height="1.3" fill="#7a4a20"/><rect x="437.7" y="240.5" width="1" height="1.3" fill="#b08858"/><rect x="426.1" y="232.8" width="1" height="1.3" fill="#a67a48"/><rect x="432.8" y="228.9" width="1" height="1.3" fill="#d0b890"/><rect x="449.5" y="223.2" width="1" height="1.3" fill="#a67a48"/><rect x="450.2" y="230" width="1" height="1.3" fill="#a67a48"/><rect x="442.3" y="219.3" width="1" height="1.3" fill="#a67a48"/><rect x="406.9" y="258.1" width="1" height="1.3" fill="#d0b890"/><rect x="420.5" y="249.8" width="1" height="1.3" fill="#d0b890"/><rect x="438.7" y="228.9" width="1" height="1.3" fill="#7a4a20"/><rect x="427" y="219.5" width="1" height="1.3" fill="#b08858"/><rect x="439.1" y="237.7" width="1" height="1.3" fill="#8a5a2a"/><rect x="428.6" y="231.9" width="1" height="1.3" fill="#b08858"/><rect x="444.9" y="227.8" width="1" height="1.3" fill="#b08858"/><rect x="429.6" y="231.6" width="1" height="1.3" fill="#7a4a20"/><rect x="436.9" y="219.7" width="1" height="1.3" fill="#7a4a20"/><rect x="418.5" y="264.4" width="1" height="1.3" fill="#a67a48"/><rect x="446.1" y="228.5" width="1" height="1.3" fill="#a67a48"/><rect x="418.4" y="237.1" width="1" height="1.3" fill="#a67a48"/><rect x="439.9" y="234.2" width="1" height="1.3" fill="#b08858"/><rect x="429.5" y="226.7" width="1" height="1.3" fill="#a67a48"/><rect x="441.8" y="225.8" width="1" height="1.3" fill="#b08858"/><rect x="446" y="233.4" width="1" height="1.3" fill="#a67a48"/><rect x="434.3" y="224.1" width="1" height="1.3" fill="#c4a478"/><rect x="423.9" y="226.4" width="1" height="1.3" fill="#9a6a38"/><rect x="415" y="224.5" width="1" height="1.3" fill="#7a4a20"/><rect x="429.1" y="239.3" width="1" height="1.3" fill="#d0b890"/><rect x="421.9" y="254.8" width="1" height="1.3" fill="#a67a48"/><rect x="436.7" y="223.3" width="1" height="1.3" fill="#8a5a2a"/><rect x="462.8" y="225.1" width="1" height="1.3" fill="#c4a478"/><rect x="407" y="229.2" width="1" height="1.3" fill="#d0b890"/><rect x="415" y="260.4" width="1" height="1.3" fill="#8a5a2a"/><rect x="421.2" y="245.5" width="1" height="1.3" fill="#9a6a38"/><rect x="403.8" y="232.5" width="1" height="1.3" fill="#8a5a2a"/><rect x="416.8" y="230.6" width="1" height="1.3" fill="#d0b890"/><rect x="416.8" y="250.5" width="1" height="1.3" fill="#c4a478"/><rect x="439.6" y="226.2" width="1" height="1.3" fill="#7a4a20"/><rect x="414.1" y="267.1" width="1" height="1.3" fill="#b08858"/><rect x="407.5" y="237" width="1" height="1.3" fill="#8a5a2a"/><rect x="421" y="252.1" width="1" height="1.3" fill="#a67a48"/><rect x="455.3" y="230" width="1" height="1.3" fill="#9a6a38"/><rect x="449.5" y="231.8" width="1" height="1.3" fill="#9a6a38"/><rect x="419.2" y="237" width="1" height="1.3" fill="#9a6a38"/><rect x="414.9" y="257.1" width="1" height="1.3" fill="#8a5a2a"/><rect x="426.7" y="219.5" width="1" height="1.3" fill="#c4a478"/><rect x="432.2" y="240.9" width="1" height="1.3" fill="#7a4a20"/><rect x="424.6" y="250.9" width="1" height="1.3" fill="#b08858"/><rect x="466.4" y="226.4" width="1" height="1.3" fill="#d0b890"/><rect x="436.8" y="227.9" width="1" height="1.3" fill="#d0b890"/><rect x="408.3" y="240.5" width="1" height="1.3" fill="#7a4a20"/><rect x="411" y="232.8" width="1" height="1.3" fill="#b08858"/><rect x="429.6" y="230.5" width="1" height="1.3" fill="#a67a48"/><rect x="408.3" y="233.4" width="1" height="1.3" fill="#9a6a38"/><rect x="453.9" y="233" width="1" height="1.3" fill="#c4a478"/><rect x="430.5" y="217.5" width="1" height="1.3" fill="#b08858"/><rect x="424.7" y="257.1" width="1" height="1.3" fill="#b08858"/><rect x="422.7" y="220.8" width="1" height="1.3" fill="#b08858"/><rect x="430.1" y="227.7" width="1" height="1.3" fill="#a67a48"/><rect x="432.1" y="251.9" width="1" height="1.3" fill="#9a6a38"/><rect x="407.9" y="255.4" width="1" height="1.3" fill="#b08858"/><rect x="421" y="244.9" width="1" height="1.3" fill="#d0b890"/><rect x="451.6" y="236" width="1" height="1.3" fill="#c4a478"/><rect x="415.9" y="221.5" width="1" height="1.3" fill="#b08858"/><rect x="414.9" y="236.6" width="1" height="1.3" fill="#b08858"/><rect x="412.9" y="236.5" width="1" height="1.3" fill="#c4a478"/><rect x="451.9" y="233.3" width="1" height="1.3" fill="#a67a48"/><rect x="432.1" y="222.3" width="1" height="1.3" fill="#a67a48"/><rect x="438.5" y="226.8" width="1" height="1.3" fill="#c4a478"/><rect x="423.7" y="242.5" width="1" height="1.3" fill="#b08858"/><rect x="439.6" y="233.7" width="1" height="1.3" fill="#a67a48"/><rect x="409.8" y="255.3" width="1" height="1.3" fill="#a67a48"/><rect x="442.8" y="232.1" width="1" height="1.3" fill="#9a6a38"/><rect x="435.9" y="233.1" width="1" height="1.3" fill="#a67a48"/><rect x="462.9" y="225.9" width="1" height="1.3" fill="#b08858"/><rect x="408" y="237.8" width="1" height="1.3" fill="#7a4a20"/><rect x="433.6" y="222" width="1" height="1.3" fill="#b08858"/><rect x="443.3" y="223.7" width="1" height="1.3" fill="#c4a478"/><rect x="417.3" y="220.4" width="1" height="1.3" fill="#9a6a38"/><rect x="431.6" y="232.5" width="1" height="1.3" fill="#b08858"/><rect x="434.3" y="241.1" width="1" height="1.3" fill="#d0b890"/><rect x="425" y="234.1" width="1" height="1.3" fill="#d0b890"/><rect x="406.9" y="241.6" width="1" height="1.3" fill="#9a6a38"/><rect x="414.5" y="230.2" width="1" height="1.3" fill="#a67a48"/><rect x="466.2" y="224.1" width="1" height="1.3" fill="#d0b890"/><rect x="457.5" y="232.8" width="1" height="1.3" fill="#7a4a20"/><rect x="433.2" y="221.2" width="1" height="1.3" fill="#8a5a2a"/><rect x="414.8" y="242.2" width="1" height="1.3" fill="#9a6a38"/><rect x="444.2" y="227.8" width="1" height="1.3" fill="#d0b890"/><rect x="441.4" y="231.4" width="1" height="1.3" fill="#c4a478"/><rect x="417.4" y="225.2" width="1" height="1.3" fill="#7a4a20"/><rect x="427.7" y="231" width="1" height="1.3" fill="#a67a48"/><rect x="425.3" y="230.2" width="1" height="1.3" fill="#c4a478"/><rect x="429.9" y="222.7" width="1" height="1.3" fill="#a67a48"/><rect x="412.9" y="247.3" width="1" height="1.3" fill="#d0b890"/><rect x="442.8" y="236.5" width="1" height="1.3" fill="#c4a478"/>
<rect x="439.2" y="22.5" width="1" height="1.3" fill="#80b090"/><rect x="415.8" y="26.4" width="1" height="1.3" fill="#78a888"/><rect x="447.6" y="28.6" width="1" height="1.3" fill="#78a888"/><rect x="428.2" y="43.3" width="1" height="1.3" fill="#98a898"/><rect x="403.4" y="65.7" width="1" height="1.3" fill="#4e8a64"/><rect x="414.3" y="43" width="1" height="1.3" fill="#b4c4a0"/><rect x="430.4" y="34.3" width="1" height="1.3" fill="#94b088"/><rect x="406.2" y="48.3" width="1" height="1.3" fill="#c4dccb"/><rect x="416.2" y="59.3" width="1" height="1.3" fill="#c4dccb"/><rect x="450.2" y="24.7" width="1" height="1.3" fill="#80b090"/><rect x="427.9" y="24.1" width="1" height="1.3" fill="#94b088"/><rect x="434.8" y="24.5" width="1" height="1.3" fill="#80b090"/><rect x="414.6" y="46.4" width="1" height="1.3" fill="#94b088"/><rect x="407.3" y="50.1" width="1" height="1.3" fill="#6a8068"/><rect x="420.9" y="23.1" width="1" height="1.3" fill="#4e8a64"/><rect x="425.5" y="40.2" width="1" height="1.3" fill="#6a8068"/><rect x="450.3" y="30.8" width="1" height="1.3" fill="#6aa07e"/><rect x="406.7" y="46.2" width="1" height="1.3" fill="#4e8a64"/><rect x="406.9" y="30.8" width="1" height="1.3" fill="#98a898"/><rect x="464.9" y="25.5" width="1" height="1.3" fill="#6a8068"/><rect x="429.5" y="31.1" width="1" height="1.3" fill="#98a898"/><rect x="410.1" y="45.6" width="1" height="1.3" fill="#98a898"/><rect x="404.1" y="45.7" width="1" height="1.3" fill="#6a8068"/><rect x="413.4" y="50.5" width="1" height="1.3" fill="#6a8068"/><rect x="449.7" y="26.3" width="1" height="1.3" fill="#6a8068"/><rect x="443.4" y="31.5" width="1" height="1.3" fill="#94b088"/><rect x="434.1" y="35.2" width="1" height="1.3" fill="#4e8a64"/><rect x="426.4" y="25.5" width="1" height="1.3" fill="#b4c4a0"/><rect x="407.7" y="39.1" width="1" height="1.3" fill="#4e8a64"/><rect x="422.1" y="47" width="1" height="1.3" fill="#78a888"/><rect x="417.1" y="39.3" width="1" height="1.3" fill="#4e8a64"/><rect x="405" y="64.1" width="1" height="1.3" fill="#b4c4a0"/><rect x="451.7" y="29.7" width="1" height="1.3" fill="#6aa07e"/><rect x="418" y="42.7" width="1" height="1.3" fill="#78a888"/><rect x="418.1" y="50.7" width="1" height="1.3" fill="#80b090"/><rect x="440.6" y="35.7" width="1" height="1.3" fill="#c4dccb"/><rect x="401.8" y="46.5" width="1" height="1.3" fill="#98a898"/><rect x="436.4" y="37.8" width="1" height="1.3" fill="#94b088"/><rect x="431.2" y="31.9" width="1" height="1.3" fill="#6aa07e"/><rect x="441.8" y="34.8" width="1" height="1.3" fill="#80b090"/><rect x="448.9" y="36.6" width="1" height="1.3" fill="#a8ccb4"/><rect x="408.4" y="51" width="1" height="1.3" fill="#6aa07e"/><rect x="403.1" y="61.2" width="1" height="1.3" fill="#b4c4a0"/><rect x="429.1" y="47" width="1" height="1.3" fill="#98a898"/><rect x="431" y="31.2" width="1" height="1.3" fill="#b4c4a0"/><rect x="424.3" y="19.7" width="1" height="1.3" fill="#4e8a64"/><rect x="425.5" y="33.9" width="1" height="1.3" fill="#6a8068"/><rect x="425" y="53.7" width="1" height="1.3" fill="#78a888"/><rect x="420.3" y="50.4" width="1" height="1.3" fill="#c4dccb"/><rect x="416.3" y="26.6" width="1" height="1.3" fill="#98a898"/><rect x="456.3" y="22.6" width="1" height="1.3" fill="#80b090"/><rect x="417.1" y="57.4" width="1" height="1.3" fill="#80b090"/><rect x="428.6" y="29.6" width="1" height="1.3" fill="#c4dccb"/><rect x="429.1" y="42.9" width="1" height="1.3" fill="#94b088"/><rect x="443.5" y="28.8" width="1" height="1.3" fill="#4e8a64"/><rect x="435.5" y="19" width="1" height="1.3" fill="#6aa07e"/><rect x="444.1" y="19" width="1" height="1.3" fill="#6aa07e"/><rect x="428.3" y="23.2" width="1" height="1.3" fill="#78a888"/><rect x="420.7" y="38.5" width="1" height="1.3" fill="#98a898"/><rect x="405" y="60.8" width="1" height="1.3" fill="#6a8068"/><rect x="421.4" y="34.6" width="1" height="1.3" fill="#a8ccb4"/><rect x="409.5" y="49.2" width="1" height="1.3" fill="#c4dccb"/><rect x="409" y="37.3" width="1" height="1.3" fill="#94b088"/><rect x="430.5" y="33.9" width="1" height="1.3" fill="#98a898"/><rect x="403.5" y="47.2" width="1" height="1.3" fill="#94b088"/><rect x="413.4" y="35.7" width="1" height="1.3" fill="#c4dccb"/><rect x="400.9" y="36.2" width="1" height="1.3" fill="#a8ccb4"/><rect x="439.4" y="36.5" width="1" height="1.3" fill="#94b088"/><rect x="401.5" y="50.3" width="1" height="1.3" fill="#a8ccb4"/><rect x="409.8" y="51" width="1" height="1.3" fill="#c4dccb"/><rect x="404.5" y="45.6" width="1" height="1.3" fill="#4e8a64"/><rect x="409.7" y="58" width="1" height="1.3" fill="#6aa07e"/><rect x="401.1" y="34.4" width="1" height="1.3" fill="#94b088"/><rect x="412.5" y="31.3" width="1" height="1.3" fill="#98a898"/><rect x="403.5" y="49.1" width="1" height="1.3" fill="#b4c4a0"/><rect x="401.1" y="39.6" width="1" height="1.3" fill="#c4dccb"/><rect x="411.3" y="32.4" width="1" height="1.3" fill="#4e8a64"/><rect x="420.7" y="49.8" width="1" height="1.3" fill="#94b088"/><rect x="406.7" y="59.1" width="1" height="1.3" fill="#94b088"/><rect x="417.7" y="55.9" width="1" height="1.3" fill="#78a888"/><rect x="408.7" y="57.1" width="1" height="1.3" fill="#4e8a64"/><rect x="450" y="36" width="1" height="1.3" fill="#94b088"/><rect x="426.9" y="39.9" width="1" height="1.3" fill="#4e8a64"/><rect x="446.4" y="37.5" width="1" height="1.3" fill="#a8ccb4"/><rect x="413.6" y="61.3" width="1" height="1.3" fill="#80b090"/><rect x="409.4" y="59.6" width="1" height="1.3" fill="#98a898"/><rect x="445.4" y="37.7" width="1" height="1.3" fill="#78a888"/><rect x="417.5" y="47.6" width="1" height="1.3" fill="#c4dccb"/><rect x="412.9" y="43.8" width="1" height="1.3" fill="#94b088"/><rect x="444.6" y="32.7" width="1" height="1.3" fill="#6a8068"/><rect x="420" y="50.8" width="1" height="1.3" fill="#6a8068"/><rect x="412.3" y="46.8" width="1" height="1.3" fill="#78a888"/><rect x="408.7" y="38.3" width="1" height="1.3" fill="#c4dccb"/><rect x="404.6" y="66.3" width="1" height="1.3" fill="#a8ccb4"/><rect x="419.9" y="34.2" width="1" height="1.3" fill="#6a8068"/><rect x="411.9" y="33.5" width="1" height="1.3" fill="#a8ccb4"/><rect x="406.9" y="54.4" width="1" height="1.3" fill="#6a8068"/><rect x="436.3" y="44.6" width="1" height="1.3" fill="#78a888"/><rect x="415.8" y="57.4" width="1" height="1.3" fill="#80b090"/><rect x="420.2" y="23" width="1" height="1.3" fill="#4e8a64"/><rect x="438.7" y="44.1" width="1" height="1.3" fill="#98a898"/><rect x="431.4" y="49.2" width="1" height="1.3" fill="#98a898"/><rect x="407.3" y="32.9" width="1" height="1.3" fill="#c4dccb"/><rect x="448" y="26.4" width="1" height="1.3" fill="#94b088"/><rect x="411.7" y="46" width="1" height="1.3" fill="#4e8a64"/><rect x="411.6" y="37.9" width="1" height="1.3" fill="#6a8068"/><rect x="404.7" y="50.5" width="1" height="1.3" fill="#4e8a64"/><rect x="457.1" y="24.3" width="1" height="1.3" fill="#b4c4a0"/><rect x="404.7" y="37" width="1" height="1.3" fill="#94b088"/><rect x="416.1" y="38.9" width="1" height="1.3" fill="#80b090"/><rect x="402.3" y="38.5" width="1" height="1.3" fill="#80b090"/><rect x="425.2" y="23.3" width="1" height="1.3" fill="#c4dccb"/><rect x="400.4" y="61.9" width="1" height="1.3" fill="#6a8068"/><rect x="410.4" y="30.3" width="1" height="1.3" fill="#6aa07e"/><rect x="431.6" y="31.9" width="1" height="1.3" fill="#4e8a64"/><rect x="404.4" y="38.2" width="1" height="1.3" fill="#c4dccb"/><rect x="402.6" y="38.8" width="1" height="1.3" fill="#98a898"/><rect x="406.4" y="55" width="1" height="1.3" fill="#80b090"/><rect x="430.9" y="31.3" width="1" height="1.3" fill="#c4dccb"/><rect x="406.7" y="35.7" width="1" height="1.3" fill="#4e8a64"/><rect x="406.2" y="46.1" width="1" height="1.3" fill="#94b088"/><rect x="447.2" y="31.8" width="1" height="1.3" fill="#6a8068"/><rect x="441.2" y="20.2" width="1" height="1.3" fill="#98a898"/><rect x="416.2" y="47.2" width="1" height="1.3" fill="#6aa07e"/><rect x="401.6" y="55.1" width="1" height="1.3" fill="#4e8a64"/><rect x="449.6" y="20.3" width="1" height="1.3" fill="#c4dccb"/><rect x="422.2" y="26.4" width="1" height="1.3" fill="#c4dccb"/><rect x="402.8" y="48.6" width="1" height="1.3" fill="#6aa07e"/><rect x="413.9" y="47.9" width="1" height="1.3" fill="#6a8068"/><rect x="422.2" y="35.9" width="1" height="1.3" fill="#6a8068"/><rect x="435" y="43.7" width="1" height="1.3" fill="#94b088"/><rect x="404.3" y="56.5" width="1" height="1.3" fill="#b4c4a0"/><rect x="411.5" y="62" width="1" height="1.3" fill="#94b088"/><rect x="438.4" y="26.2" width="1" height="1.3" fill="#6a8068"/><rect x="407.3" y="44.6" width="1" height="1.3" fill="#a8ccb4"/><rect x="429.1" y="44.9" width="1" height="1.3" fill="#c4dccb"/><rect x="410" y="51.1" width="1" height="1.3" fill="#6aa07e"/><rect x="434.9" y="18.7" width="1" height="1.3" fill="#6aa07e"/><rect x="418.6" y="28.7" width="1" height="1.3" fill="#b4c4a0"/><rect x="402.8" y="48.6" width="1" height="1.3" fill="#98a898"/><rect x="431.7" y="20.4" width="1" height="1.3" fill="#b4c4a0"/><rect x="410.5" y="44.2" width="1" height="1.3" fill="#80b090"/><rect x="434.6" y="24.3" width="1" height="1.3" fill="#80b090"/><rect x="421.6" y="34.8" width="1" height="1.3" fill="#94b088"/><rect x="426.7" y="18.5" width="1" height="1.3" fill="#6a8068"/><rect x="411.1" y="61" width="1" height="1.3" fill="#94b088"/><rect x="441.7" y="22.6" width="1" height="1.3" fill="#c4dccb"/><rect x="417" y="38.3" width="1" height="1.3" fill="#98a898"/><rect x="456" y="34.2" width="1" height="1.3" fill="#4e8a64"/><rect x="429.1" y="24" width="1" height="1.3" fill="#4e8a64"/><rect x="416.6" y="34.5" width="1" height="1.3" fill="#6aa07e"/><rect x="403" y="52.3" width="1" height="1.3" fill="#4e8a64"/><rect x="422.3" y="45.2" width="1" height="1.3" fill="#94b088"/><rect x="415.7" y="57.8" width="1" height="1.3" fill="#94b088"/><rect x="447.5" y="22.3" width="1" height="1.3" fill="#4e8a64"/><rect x="424.1" y="31.1" width="1" height="1.3" fill="#98a898"/><rect x="418.1" y="32.8" width="1" height="1.3" fill="#6aa07e"/><rect x="433.8" y="19.5" width="1" height="1.3" fill="#94b088"/><rect x="415.8" y="39.6" width="1" height="1.3" fill="#c4dccb"/><rect x="401.2" y="67.3" width="1" height="1.3" fill="#a8ccb4"/><rect x="439.4" y="43.4" width="1" height="1.3" fill="#4e8a64"/><rect x="443.6" y="26.9" width="1" height="1.3" fill="#78a888"/><rect x="428.3" y="47.9" width="1" height="1.3" fill="#4e8a64"/><rect x="408.3" y="45.2" width="1" height="1.3" fill="#a8ccb4"/><rect x="416" y="51" width="1" height="1.3" fill="#a8ccb4"/><rect x="434.9" y="42.3" width="1" height="1.3" fill="#c4dccb"/><rect x="426.5" y="43.1" width="1" height="1.3" fill="#c4dccb"/><rect x="423.8" y="45.5" width="1" height="1.3" fill="#4e8a64"/><rect x="438.4" y="20.9" width="1" height="1.3" fill="#78a888"/><rect x="401.3" y="46.7" width="1" height="1.3" fill="#6aa07e"/><rect x="424.6" y="52.9" width="1" height="1.3" fill="#a8ccb4"/><rect x="427.1" y="40.6" width="1" height="1.3" fill="#6aa07e"/><rect x="430.5" y="34.1" width="1" height="1.3" fill="#b4c4a0"/><rect x="419.3" y="57" width="1" height="1.3" fill="#4e8a64"/><rect x="436" y="26.9" width="1" height="1.3" fill="#a8ccb4"/><rect x="404.8" y="50.6" width="1" height="1.3" fill="#94b088"/><rect x="405.6" y="61.3" width="1" height="1.3" fill="#4e8a64"/><rect x="431" y="42.5" width="1" height="1.3" fill="#b4c4a0"/><rect x="419.1" y="49.1" width="1" height="1.3" fill="#a8ccb4"/><rect x="403.8" y="40.8" width="1" height="1.3" fill="#6aa07e"/><rect x="418.6" y="50.3" width="1" height="1.3" fill="#6aa07e"/><rect x="459.9" y="27.4" width="1" height="1.3" fill="#98a898"/><rect x="414" y="41.3" width="1" height="1.3" fill="#98a898"/><rect x="427.8" y="52.5" width="1" height="1.3" fill="#a8ccb4"/><rect x="448.8" y="37" width="1" height="1.3" fill="#b4c4a0"/><rect x="412.6" y="50.4" width="1" height="1.3" fill="#98a898"/><rect x="408.8" y="34.4" width="1" height="1.3" fill="#78a888"/><rect x="422.3" y="50.4" width="1" height="1.3" fill="#c4dccb"/><rect x="425.5" y="40.1" width="1" height="1.3" fill="#4e8a64"/><rect x="404.5" y="47.2" width="1" height="1.3" fill="#80b090"/><rect x="404.2" y="31.9" width="1" height="1.3" fill="#6a8068"/><rect x="465.6" y="30.3" width="1" height="1.3" fill="#80b090"/><rect x="425.1" y="18.8" width="1" height="1.3" fill="#c4dccb"/><rect x="442.7" y="21.7" width="1" height="1.3" fill="#4e8a64"/><rect x="406.5" y="49.8" width="1" height="1.3" fill="#94b088"/><rect x="402.2" y="56.2" width="1" height="1.3" fill="#a8ccb4"/><rect x="418.1" y="42.8" width="1" height="1.3" fill="#94b088"/><rect x="420" y="25.2" width="1" height="1.3" fill="#6aa07e"/><rect x="434.7" y="31.1" width="1" height="1.3" fill="#a8ccb4"/><rect x="407.4" y="58.8" width="1" height="1.3" fill="#a8ccb4"/><rect x="404.9" y="49.4" width="1" height="1.3" fill="#98a898"/><rect x="444.4" y="34" width="1" height="1.3" fill="#4e8a64"/><rect x="414.5" y="29.7" width="1" height="1.3" fill="#c4dccb"/><rect x="408.5" y="29.5" width="1" height="1.3" fill="#6aa07e"/><rect x="461.8" y="30.2" width="1" height="1.3" fill="#b4c4a0"/><rect x="400.2" y="52" width="1" height="1.3" fill="#98a898"/><rect x="427.4" y="37.3" width="1" height="1.3" fill="#b4c4a0"/><rect x="411.2" y="63.2" width="1" height="1.3" fill="#94b088"/><rect x="466.5" y="27" width="1" height="1.3" fill="#80b090"/><rect x="429" y="37.3" width="1" height="1.3" fill="#a8ccb4"/><rect x="401" y="42.1" width="1" height="1.3" fill="#80b090"/><rect x="428.3" y="19.1" width="1" height="1.3" fill="#94b088"/><rect x="433.2" y="27.4" width="1" height="1.3" fill="#4e8a64"/><rect x="436.9" y="22.1" width="1" height="1.3" fill="#a8ccb4"/><rect x="405.9" y="40.1" width="1" height="1.3" fill="#98a898"/><rect x="438.1" y="42.5" width="1" height="1.3" fill="#a8ccb4"/><rect x="413.3" y="37.8" width="1" height="1.3" fill="#78a888"/><rect x="406.6" y="59.7" width="1" height="1.3" fill="#78a888"/><rect x="425.4" y="38.2" width="1" height="1.3" fill="#78a888"/><rect x="403.5" y="66.5" width="1" height="1.3" fill="#6a8068"/><rect x="412.4" y="54.6" width="1" height="1.3" fill="#4e8a64"/><rect x="414.8" y="46.4" width="1" height="1.3" fill="#4e8a64"/><rect x="420.3" y="56.3" width="1" height="1.3" fill="#4e8a64"/><rect x="431.2" y="40.4" width="1" height="1.3" fill="#b4c4a0"/><rect x="427.1" y="23.7" width="1" height="1.3" fill="#6aa07e"/><rect x="431.1" y="50.2" width="1" height="1.3" fill="#80b090"/><rect x="417.7" y="30.5" width="1" height="1.3" fill="#80b090"/><rect x="401.7" y="63.1" width="1" height="1.3" fill="#6aa07e"/><rect x="409" y="58.5" width="1" height="1.3" fill="#b4c4a0"/><rect x="423" y="53.8" width="1" height="1.3" fill="#6aa07e"/><rect x="414.6" y="36.3" width="1" height="1.3" fill="#80b090"/><rect x="436.6" y="28.7" width="1" height="1.3" fill="#c4dccb"/><rect x="450.1" y="31.6" width="1" height="1.3" fill="#98a898"/><rect x="419.9" y="54.7" width="1" height="1.3" fill="#94b088"/><rect x="435.8" y="43.5" width="1" height="1.3" fill="#4e8a64"/><rect x="420.3" y="50" width="1" height="1.3" fill="#4e8a64"/><rect x="420.1" y="50.8" width="1" height="1.3" fill="#6aa07e"/><rect x="426.5" y="20.7" width="1" height="1.3" fill="#6aa07e"/><rect x="428" y="39.6" width="1" height="1.3" fill="#4e8a64"/><rect x="449.2" y="29.4" width="1" height="1.3" fill="#b4c4a0"/><rect x="442.5" y="27.6" width="1" height="1.3" fill="#94b088"/><rect x="418.4" y="24.5" width="1" height="1.3" fill="#a8ccb4"/><rect x="428.8" y="35.4" width="1" height="1.3" fill="#78a888"/><rect x="405.8" y="32.6" width="1" height="1.3" fill="#94b088"/><rect x="409.8" y="41.7" width="1" height="1.3" fill="#6aa07e"/><rect x="433.3" y="41.8" width="1" height="1.3" fill="#98a898"/><rect x="426.9" y="32.9" width="1" height="1.3" fill="#94b088"/><rect x="463.7" y="25.3" width="1" height="1.3" fill="#98a898"/><rect x="430.9" y="48" width="1" height="1.3" fill="#b4c4a0"/><rect x="411.1" y="32.5" width="1" height="1.3" fill="#4e8a64"/><rect x="406.6" y="39.5" width="1" height="1.3" fill="#6a8068"/><rect x="404.8" y="35.4" width="1" height="1.3" fill="#b4c4a0"/><rect x="433.9" y="21" width="1" height="1.3" fill="#78a888"/><rect x="408.8" y="53.6" width="1" height="1.3" fill="#4e8a64"/><rect x="420.4" y="49.7" width="1" height="1.3" fill="#6a8068"/><rect x="449.2" y="27.2" width="1" height="1.3" fill="#78a888"/><rect x="400.4" y="35.1" width="1" height="1.3" fill="#80b090"/><rect x="431.4" y="26.3" width="1" height="1.3" fill="#6a8068"/><rect x="406.7" y="47.4" width="1" height="1.3" fill="#b4c4a0"/><rect x="408.7" y="59.3" width="1" height="1.3" fill="#4e8a64"/><rect x="472.7" y="26.9" width="1" height="1.3" fill="#6aa07e"/><rect x="414.7" y="44.7" width="1" height="1.3" fill="#4e8a64"/><rect x="451.3" y="35.2" width="1" height="1.3" fill="#a8ccb4"/><rect x="420.6" y="38" width="1" height="1.3" fill="#6a8068"/><rect x="413.9" y="61.9" width="1" height="1.3" fill="#6aa07e"/><rect x="416" y="43" width="1" height="1.3" fill="#4e8a64"/><rect x="440.6" y="29.6" width="1" height="1.3" fill="#b4c4a0"/><rect x="457.3" y="22" width="1" height="1.3" fill="#6aa07e"/><rect x="420.8" y="30.3" width="1" height="1.3" fill="#78a888"/><rect x="413.4" y="57.5" width="1" height="1.3" fill="#a8ccb4"/><rect x="405.7" y="53" width="1" height="1.3" fill="#a8ccb4"/><rect x="404.8" y="50.7" width="1" height="1.3" fill="#6aa07e"/><rect x="411.6" y="55.6" width="1" height="1.3" fill="#4e8a64"/><rect x="470.1" y="28.1" width="1" height="1.3" fill="#80b090"/><rect x="420.6" y="56" width="1" height="1.3" fill="#98a898"/><rect x="401.2" y="36.2" width="1" height="1.3" fill="#6a8068"/><rect x="403.5" y="40.1" width="1" height="1.3" fill="#94b088"/><rect x="430" y="43.3" width="1" height="1.3" fill="#98a898"/><rect x="401.1" y="46.3" width="1" height="1.3" fill="#94b088"/><rect x="421.4" y="54.5" width="1" height="1.3" fill="#78a888"/><rect x="410.1" y="29.4" width="1" height="1.3" fill="#6a8068"/><rect x="425" y="48.3" width="1" height="1.3" fill="#6a8068"/><rect x="409.6" y="57.6" width="1" height="1.3" fill="#6a8068"/><rect x="421.6" y="35.6" width="1" height="1.3" fill="#c4dccb"/><rect x="418.8" y="54.9" width="1" height="1.3" fill="#98a898"/><rect x="415.5" y="58.4" width="1" height="1.3" fill="#78a888"/><rect x="412.5" y="49.2" width="1" height="1.3" fill="#4e8a64"/><rect x="430.4" y="46.2" width="1" height="1.3" fill="#98a898"/><rect x="458.2" y="23.9" width="1" height="1.3" fill="#6a8068"/><rect x="409.5" y="44" width="1" height="1.3" fill="#94b088"/><rect x="438.1" y="37.7" width="1" height="1.3" fill="#c4dccb"/><rect x="416.7" y="51.9" width="1" height="1.3" fill="#78a888"/><rect x="435.6" y="22.7" width="1" height="1.3" fill="#6a8068"/><rect x="423.3" y="43.4" width="1" height="1.3" fill="#94b088"/><rect x="404.9" y="48.5" width="1" height="1.3" fill="#b4c4a0"/><rect x="408" y="55" width="1" height="1.3" fill="#6aa07e"/><rect x="408.5" y="46.2" width="1" height="1.3" fill="#b4c4a0"/><rect x="416.4" y="30.9" width="1" height="1.3" fill="#b4c4a0"/><rect x="402.4" y="64.7" width="1" height="1.3" fill="#6aa07e"/><rect x="406.1" y="49.9" width="1" height="1.3" fill="#78a888"/><rect x="422.8" y="46.1" width="1" height="1.3" fill="#a8ccb4"/><rect x="403.8" y="45.6" width="1" height="1.3" fill="#6aa07e"/><rect x="424.1" y="49.5" width="1" height="1.3" fill="#80b090"/><rect x="408.2" y="63.2" width="1" height="1.3" fill="#a8ccb4"/><rect x="424.7" y="45.2" width="1" height="1.3" fill="#78a888"/><rect x="402.6" y="33.4" width="1" height="1.3" fill="#94b088"/><rect x="415.1" y="41" width="1" height="1.3" fill="#6aa07e"/><rect x="418.1" y="36" width="1" height="1.3" fill="#80b090"/><rect x="400.3" y="49.2" width="1" height="1.3" fill="#98a898"/><rect x="445.6" y="24.9" width="1" height="1.3" fill="#94b088"/><rect x="428.4" y="36.6" width="1" height="1.3" fill="#94b088"/><rect x="401.9" y="61.7" width="1" height="1.3" fill="#a8ccb4"/><rect x="423" y="21.1" width="1" height="1.3" fill="#6a8068"/><rect x="448.6" y="31.8" width="1" height="1.3" fill="#6a8068"/><rect x="426.6" y="42.4" width="1" height="1.3" fill="#78a888"/><rect x="410.5" y="49.1" width="1" height="1.3" fill="#b4c4a0"/><rect x="455.4" y="23.6" width="1" height="1.3" fill="#a8ccb4"/><rect x="432.7" y="29" width="1" height="1.3" fill="#98a898"/><rect x="469.4" y="28" width="1" height="1.3" fill="#b4c4a0"/><rect x="411.5" y="30.3" width="1" height="1.3" fill="#94b088"/><rect x="427.6" y="30.4" width="1" height="1.3" fill="#98a898"/><rect x="448.3" y="24.8" width="1" height="1.3" fill="#a8ccb4"/><rect x="442" y="39.7" width="1" height="1.3" fill="#b4c4a0"/><rect x="437.1" y="46" width="1" height="1.3" fill="#78a888"/><rect x="423.8" y="28.8" width="1" height="1.3" fill="#6a8068"/><rect x="418.8" y="42.6" width="1" height="1.3" fill="#6a8068"/><rect x="405.2" y="58" width="1" height="1.3" fill="#4e8a64"/><rect x="422.6" y="55.6" width="1" height="1.3" fill="#6a8068"/><rect x="415.7" y="40.9" width="1" height="1.3" fill="#4e8a64"/><rect x="406.3" y="41.7" width="1" height="1.3" fill="#b4c4a0"/><rect x="428.3" y="39.5" width="1" height="1.3" fill="#78a888"/><rect x="403.2" y="35.1" width="1" height="1.3" fill="#c4dccb"/><rect x="418.2" y="45.4" width="1" height="1.3" fill="#b4c4a0"/><rect x="422" y="34.9" width="1" height="1.3" fill="#6a8068"/><rect x="401.5" y="65.4" width="1" height="1.3" fill="#b4c4a0"/><rect x="432.1" y="46.2" width="1" height="1.3" fill="#80b090"/><rect x="414.4" y="42.5" width="1" height="1.3" fill="#6a8068"/><rect x="429.1" y="48.5" width="1" height="1.3" fill="#a8ccb4"/><rect x="451.7" y="27.2" width="1" height="1.3" fill="#a8ccb4"/><rect x="455.7" y="29.3" width="1" height="1.3" fill="#78a888"/><rect x="400.1" y="38.8" width="1" height="1.3" fill="#c4dccb"/><rect x="410.7" y="47.8" width="1" height="1.3" fill="#b4c4a0"/><rect x="412" y="43.6" width="1" height="1.3" fill="#6a8068"/><rect x="413.7" y="38.6" width="1" height="1.3" fill="#c4dccb"/><rect x="461.1" y="31.3" width="1" height="1.3" fill="#80b090"/><rect x="418.7" y="25.9" width="1" height="1.3" fill="#6a8068"/><rect x="425.5" y="18.8" width="1" height="1.3" fill="#94b088"/><rect x="426.3" y="24.3" width="1" height="1.3" fill="#b4c4a0"/><rect x="420.2" y="34.1" width="1" height="1.3" fill="#78a888"/><rect x="418.5" y="34.4" width="1" height="1.3" fill="#6a8068"/><rect x="432.9" y="33.3" width="1" height="1.3" fill="#98a898"/><rect x="426.8" y="31.9" width="1" height="1.3" fill="#6a8068"/><rect x="416.1" y="46.2" width="1" height="1.3" fill="#6aa07e"/><rect x="407.4" y="56.8" width="1" height="1.3" fill="#6a8068"/><rect x="443.5" y="30.4" width="1" height="1.3" fill="#4e8a64"/><rect x="417.6" y="55.2" width="1" height="1.3" fill="#6a8068"/><rect x="413.2" y="55" width="1" height="1.3" fill="#80b090"/><rect x="428" y="43.5" width="1" height="1.3" fill="#6a8068"/><rect x="424.7" y="50.6" width="1" height="1.3" fill="#c4dccb"/><rect x="401.7" y="46.2" width="1" height="1.3" fill="#98a898"/><rect x="416.5" y="51.6" width="1" height="1.3" fill="#94b088"/><rect x="459.8" y="25.8" width="1" height="1.3" fill="#c4dccb"/><rect x="403.4" y="53" width="1" height="1.3" fill="#78a888"/><rect x="435.1" y="26.1" width="1" height="1.3" fill="#6a8068"/><rect x="409.2" y="46.8" width="1" height="1.3" fill="#6a8068"/><rect x="400.7" y="56.3" width="1" height="1.3" fill="#78a888"/><rect x="416" y="35.7" width="1" height="1.3" fill="#94b088"/><rect x="417.1" y="52.4" width="1" height="1.3" fill="#98a898"/><rect x="414.1" y="47.1" width="1" height="1.3" fill="#80b090"/><rect x="448.4" y="26" width="1" height="1.3" fill="#80b090"/><rect x="407" y="61.8" width="1" height="1.3" fill="#80b090"/><rect x="419.3" y="55.2" width="1" height="1.3" fill="#98a898"/><rect x="412.8" y="56.3" width="1" height="1.3" fill="#4e8a64"/><rect x="434.7" y="22.8" width="1" height="1.3" fill="#80b090"/><rect x="427" y="44.7" width="1" height="1.3" fill="#a8ccb4"/><rect x="427.8" y="22.7" width="1" height="1.3" fill="#6a8068"/><rect x="462.7" y="27.3" width="1" height="1.3" fill="#6a8068"/><rect x="433.1" y="24.9" width="1" height="1.3" fill="#80b090"/><rect x="440.6" y="23" width="1" height="1.3" fill="#78a888"/><rect x="427.1" y="33.1" width="1" height="1.3" fill="#78a888"/><rect x="412.7" y="52.9" width="1" height="1.3" fill="#6a8068"/><rect x="421.3" y="34.7" width="1" height="1.3" fill="#6aa07e"/><rect x="455.4" y="27.7" width="1" height="1.3" fill="#6a8068"/><rect x="430.6" y="21.2" width="1" height="1.3" fill="#80b090"/><rect x="401.9" y="33.5" width="1" height="1.3" fill="#98a898"/><rect x="401.6" y="46.5" width="1" height="1.3" fill="#4e8a64"/><rect x="412.7" y="60.1" width="1" height="1.3" fill="#6aa07e"/><rect x="411.4" y="55.5" width="1" height="1.3" fill="#a8ccb4"/><rect x="435.7" y="26.6" width="1" height="1.3" fill="#6aa07e"/><rect x="434.6" y="37.8" width="1" height="1.3" fill="#6a8068"/><rect x="434.1" y="30.4" width="1" height="1.3" fill="#c4dccb"/><rect x="403.3" y="36.4" width="1" height="1.3" fill="#a8ccb4"/><rect x="436.7" y="40.5" width="1" height="1.3" fill="#94b088"/><rect x="419.3" y="54.8" width="1" height="1.3" fill="#4e8a64"/><rect x="436.6" y="33.4" width="1" height="1.3" fill="#6a8068"/><rect x="416.2" y="47.7" width="1" height="1.3" fill="#c4dccb"/><rect x="438.8" y="25.2" width="1" height="1.3" fill="#6a8068"/><rect x="411.1" y="44.1" width="1" height="1.3" fill="#6aa07e"/><rect x="421.2" y="25.6" width="1" height="1.3" fill="#98a898"/><rect x="414.5" y="26.4" width="1" height="1.3" fill="#6aa07e"/><rect x="404.9" y="33.4" width="1" height="1.3" fill="#b4c4a0"/><rect x="402.9" y="39.4" width="1" height="1.3" fill="#c4dccb"/><rect x="413.2" y="48.3" width="1" height="1.3" fill="#6aa07e"/><rect x="473.1" y="27.6" width="1" height="1.3" fill="#b4c4a0"/><rect x="417.3" y="53.1" width="1" height="1.3" fill="#c4dccb"/><rect x="445.4" y="24.8" width="1" height="1.3" fill="#4e8a64"/><rect x="423.7" y="41.5" width="1" height="1.3" fill="#4e8a64"/><rect x="415.7" y="59.8" width="1" height="1.3" fill="#78a888"/><rect x="406.5" y="39.3" width="1" height="1.3" fill="#6aa07e"/><rect x="429" y="20.3" width="1" height="1.3" fill="#78a888"/><rect x="420.2" y="35.8" width="1" height="1.3" fill="#4e8a64"/><rect x="429.8" y="50.4" width="1" height="1.3" fill="#6a8068"/><rect x="403" y="47.5" width="1" height="1.3" fill="#b4c4a0"/><rect x="423.5" y="25.2" width="1" height="1.3" fill="#b4c4a0"/><rect x="424.1" y="20.4" width="1" height="1.3" fill="#a8ccb4"/><rect x="436.6" y="27.9" width="1" height="1.3" fill="#80b090"/><rect x="435.8" y="46.7" width="1" height="1.3" fill="#c4dccb"/><rect x="400" y="61.9" width="1" height="1.3" fill="#78a888"/><rect x="421.8" y="54.7" width="1" height="1.3" fill="#4e8a64"/><rect x="452.5" y="26.4" width="1" height="1.3" fill="#4e8a64"/><rect x="427.1" y="17.6" width="1" height="1.3" fill="#4e8a64"/><rect x="438.1" y="19.5" width="1" height="1.3" fill="#94b088"/><rect x="419.2" y="43.2" width="1" height="1.3" fill="#c4dccb"/><rect x="428.8" y="28.8" width="1" height="1.3" fill="#a8ccb4"/><rect x="428" y="26.8" width="1" height="1.3" fill="#6aa07e"/><rect x="440.8" y="33.1" width="1" height="1.3" fill="#c4dccb"/><rect x="400.6" y="58.5" width="1" height="1.3" fill="#6aa07e"/><rect x="426.6" y="22.4" width="1" height="1.3" fill="#94b088"/><rect x="430.6" y="24" width="1" height="1.3" fill="#b4c4a0"/><rect x="422.3" y="34.9" width="1" height="1.3" fill="#4e8a64"/><rect x="425.5" y="25.3" width="1" height="1.3" fill="#6aa07e"/><rect x="404.4" y="50.6" width="1" height="1.3" fill="#80b090"/><rect x="428.3" y="51.7" width="1" height="1.3" fill="#c4dccb"/><rect x="438.2" y="21.9" width="1" height="1.3" fill="#6aa07e"/><rect x="406.7" y="47.9" width="1" height="1.3" fill="#b4c4a0"/><rect x="419" y="35.7" width="1" height="1.3" fill="#b4c4a0"/><rect x="436.6" y="32.1" width="1" height="1.3" fill="#a8ccb4"/><rect x="431" y="18.4" width="1" height="1.3" fill="#6a8068"/><rect x="409.1" y="58.7" width="1" height="1.3" fill="#c4dccb"/><rect x="409.6" y="44.4" width="1" height="1.3" fill="#c4dccb"/><rect x="424.1" y="37.5" width="1" height="1.3" fill="#94b088"/><rect x="432.4" y="36.5" width="1" height="1.3" fill="#6aa07e"/><rect x="412.9" y="45.7" width="1" height="1.3" fill="#94b088"/><rect x="411.8" y="34.8" width="1" height="1.3" fill="#a8ccb4"/><rect x="419.2" y="40.7" width="1" height="1.3" fill="#78a888"/><rect x="435.1" y="38.2" width="1" height="1.3" fill="#c4dccb"/><rect x="429.8" y="33.2" width="1" height="1.3" fill="#94b088"/><rect x="420.8" y="43.2" width="1" height="1.3" fill="#94b088"/><rect x="411" y="45.3" width="1" height="1.3" fill="#b4c4a0"/><rect x="405.5" y="37.8" width="1" height="1.3" fill="#78a888"/><rect x="431.5" y="30.8" width="1" height="1.3" fill="#6a8068"/><rect x="403.6" y="60" width="1" height="1.3" fill="#94b088"/><rect x="431.1" y="21.6" width="1" height="1.3" fill="#94b088"/><rect x="412.6" y="39.3" width="1" height="1.3" fill="#94b088"/><rect x="411.5" y="35.9" width="1" height="1.3" fill="#4e8a64"/><rect x="443.2" y="37.7" width="1" height="1.3" fill="#94b088"/><rect x="420.7" y="22.9" width="1" height="1.3" fill="#80b090"/><rect x="429.1" y="19" width="1" height="1.3" fill="#80b090"/><rect x="431.5" y="20.6" width="1" height="1.3" fill="#94b088"/><rect x="410.3" y="32.7" width="1" height="1.3" fill="#6aa07e"/><rect x="420.1" y="23" width="1" height="1.3" fill="#4e8a64"/><rect x="448.2" y="26.2" width="1" height="1.3" fill="#4e8a64"/><rect x="403.5" y="42.1" width="1" height="1.3" fill="#6aa07e"/><rect x="408.4" y="64.8" width="1" height="1.3" fill="#6aa07e"/><rect x="437.7" y="21.9" width="1" height="1.3" fill="#6aa07e"/><rect x="414.4" y="42" width="1" height="1.3" fill="#98a898"/><rect x="462.9" y="25.6" width="1" height="1.3" fill="#c4dccb"/><rect x="410.9" y="45.9" width="1" height="1.3" fill="#b4c4a0"/><rect x="413.6" y="53.9" width="1" height="1.3" fill="#6a8068"/><rect x="447.6" y="38.2" width="1" height="1.3" fill="#80b090"/><rect x="459.1" y="30.6" width="1" height="1.3" fill="#4e8a64"/><rect x="457.8" y="29" width="1" height="1.3" fill="#b4c4a0"/><rect x="406.4" y="60.3" width="1" height="1.3" fill="#6aa07e"/><rect x="428.4" y="18.8" width="1" height="1.3" fill="#98a898"/><rect x="434.2" y="41.8" width="1" height="1.3" fill="#6a8068"/><rect x="437.5" y="37.9" width="1" height="1.3" fill="#b4c4a0"/><rect x="414.8" y="50.7" width="1" height="1.3" fill="#78a888"/><rect x="415.7" y="38.5" width="1" height="1.3" fill="#b4c4a0"/><rect x="415.9" y="44.2" width="1" height="1.3" fill="#78a888"/><rect x="410.6" y="60.5" width="1" height="1.3" fill="#a8ccb4"/><rect x="412.1" y="58.9" width="1" height="1.3" fill="#94b088"/><rect x="415.2" y="53.6" width="1" height="1.3" fill="#c4dccb"/><rect x="416.2" y="34.4" width="1" height="1.3" fill="#80b090"/><rect x="410.7" y="31" width="1" height="1.3" fill="#78a888"/><rect x="402.9" y="55.9" width="1" height="1.3" fill="#b4c4a0"/><rect x="403.7" y="34.8" width="1" height="1.3" fill="#94b088"/><rect x="425.5" y="43.5" width="1" height="1.3" fill="#b4c4a0"/><rect x="410.7" y="41.3" width="1" height="1.3" fill="#a8ccb4"/><rect x="413.6" y="38.8" width="1" height="1.3" fill="#a8ccb4"/><rect x="422.6" y="20.7" width="1" height="1.3" fill="#6aa07e"/><rect x="457.4" y="30.5" width="1" height="1.3" fill="#94b088"/><rect x="408.2" y="40.9" width="1" height="1.3" fill="#c4dccb"/><rect x="406.3" y="39.3" width="1" height="1.3" fill="#6aa07e"/><rect x="425.7" y="21.8" width="1" height="1.3" fill="#c4dccb"/><rect x="408.2" y="58.6" width="1" height="1.3" fill="#80b090"/><rect x="407.1" y="51.3" width="1" height="1.3" fill="#98a898"/><rect x="406.9" y="47.7" width="1" height="1.3" fill="#94b088"/><rect x="431.7" y="25.5" width="1" height="1.3" fill="#b4c4a0"/><rect x="414.2" y="48.3" width="1" height="1.3" fill="#94b088"/><rect x="407.6" y="34.6" width="1" height="1.3" fill="#78a888"/><rect x="427.1" y="49.8" width="1" height="1.3" fill="#78a888"/><rect x="448.7" y="36.3" width="1" height="1.3" fill="#a8ccb4"/><rect x="404.7" y="39.4" width="1" height="1.3" fill="#98a898"/><rect x="447.5" y="31.8" width="1" height="1.3" fill="#78a888"/><rect x="450.9" y="35.4" width="1" height="1.3" fill="#94b088"/><rect x="421.5" y="28.6" width="1" height="1.3" fill="#a8ccb4"/><rect x="412.7" y="29" width="1" height="1.3" fill="#78a888"/><rect x="423.8" y="41.5" width="1" height="1.3" fill="#80b090"/><rect x="429" y="23.1" width="1" height="1.3" fill="#94b088"/><rect x="406.1" y="62.5" width="1" height="1.3" fill="#4e8a64"/><rect x="403.2" y="59" width="1" height="1.3" fill="#80b090"/><rect x="405.1" y="39.6" width="1" height="1.3" fill="#94b088"/><rect x="411.1" y="39.9" width="1" height="1.3" fill="#78a888"/><rect x="431.7" y="24.9" width="1" height="1.3" fill="#a8ccb4"/><rect x="451.2" y="31.4" width="1" height="1.3" fill="#78a888"/><rect x="435.5" y="22" width="1" height="1.3" fill="#a8ccb4"/><rect x="417.9" y="32.9" width="1" height="1.3" fill="#6a8068"/><rect x="418.4" y="46.4" width="1" height="1.3" fill="#c4dccb"/><rect x="413.4" y="61.4" width="1" height="1.3" fill="#b4c4a0"/><rect x="405.8" y="36.4" width="1" height="1.3" fill="#6aa07e"/><rect x="407.9" y="45" width="1" height="1.3" fill="#a8ccb4"/><rect x="414.3" y="50.5" width="1" height="1.3" fill="#78a888"/><rect x="436.7" y="30.9" width="1" height="1.3" fill="#c4dccb"/><rect x="403.7" y="37.2" width="1" height="1.3" fill="#80b090"/><rect x="427.9" y="28.2" width="1" height="1.3" fill="#6a8068"/><rect x="410.1" y="43.2" width="1" height="1.3" fill="#b4c4a0"/><rect x="427.4" y="41.3" width="1" height="1.3" fill="#94b088"/><rect x="400.9" y="39.4" width="1" height="1.3" fill="#4e8a64"/><rect x="414.8" y="26.7" width="1" height="1.3" fill="#b4c4a0"/><rect x="411.6" y="59.6" width="1" height="1.3" fill="#98a898"/><rect x="430.4" y="31.8" width="1" height="1.3" fill="#98a898"/><rect x="413.5" y="32.2" width="1" height="1.3" fill="#98a898"/><rect x="417.5" y="28" width="1" height="1.3" fill="#6aa07e"/><rect x="430.2" y="44.9" width="1" height="1.3" fill="#94b088"/><rect x="437.5" y="35.7" width="1" height="1.3" fill="#78a888"/><rect x="427.1" y="42.7" width="1" height="1.3" fill="#a8ccb4"/><rect x="424.6" y="41.7" width="1" height="1.3" fill="#c4dccb"/><rect x="429.5" y="22.2" width="1" height="1.3" fill="#4e8a64"/><rect x="426.3" y="21.2" width="1" height="1.3" fill="#c4dccb"/><rect x="405.6" y="48" width="1" height="1.3" fill="#78a888"/><rect x="413.9" y="28.4" width="1" height="1.3" fill="#a8ccb4"/><rect x="419.8" y="26.2" width="1" height="1.3" fill="#a8ccb4"/><rect x="415.2" y="33.5" width="1" height="1.3" fill="#80b090"/><rect x="405.3" y="62.2" width="1" height="1.3" fill="#6aa07e"/><rect x="420.4" y="44.2" width="1" height="1.3" fill="#94b088"/><rect x="417.5" y="50.4" width="1" height="1.3" fill="#94b088"/><rect x="401.2" y="53.8" width="1" height="1.3" fill="#98a898"/><rect x="409.4" y="63.7" width="1" height="1.3" fill="#94b088"/><rect x="409.1" y="61.9" width="1" height="1.3" fill="#6a8068"/><rect x="448.3" y="23.7" width="1" height="1.3" fill="#6aa07e"/><rect x="400.3" y="47.5" width="1" height="1.3" fill="#80b090"/><rect x="405.1" y="43.6" width="1" height="1.3" fill="#4e8a64"/><rect x="423.9" y="45.7" width="1" height="1.3" fill="#b4c4a0"/><rect x="422.2" y="23.3" width="1" height="1.3" fill="#6aa07e"/><rect x="431.7" y="49.5" width="1" height="1.3" fill="#98a898"/><rect x="400.6" y="39.9" width="1" height="1.3" fill="#4e8a64"/><rect x="423.7" y="34.7" width="1" height="1.3" fill="#a8ccb4"/><rect x="415.6" y="26" width="1" height="1.3" fill="#b4c4a0"/><rect x="435.8" y="44.4" width="1" height="1.3" fill="#c4dccb"/><rect x="406.6" y="50.5" width="1" height="1.3" fill="#6a8068"/><rect x="453.4" y="30.5" width="1" height="1.3" fill="#94b088"/><rect x="441.1" y="39.5" width="1" height="1.3" fill="#a8ccb4"/><rect x="411.7" y="52.7" width="1" height="1.3" fill="#c4dccb"/><rect x="425.4" y="48" width="1" height="1.3" fill="#a8ccb4"/><rect x="420.3" y="29.9" width="1" height="1.3" fill="#6a8068"/><rect x="404.8" y="36.7" width="1" height="1.3" fill="#a8ccb4"/><rect x="416.6" y="33.1" width="1" height="1.3" fill="#80b090"/><rect x="435.2" y="19.2" width="1" height="1.3" fill="#4e8a64"/><rect x="438.6" y="44.8" width="1" height="1.3" fill="#4e8a64"/><rect x="422.8" y="54.8" width="1" height="1.3" fill="#78a888"/><rect x="404.2" y="63.3" width="1" height="1.3" fill="#4e8a64"/><rect x="422" y="43.1" width="1" height="1.3" fill="#a8ccb4"/><rect x="432.3" y="33.5" width="1" height="1.3" fill="#78a888"/><rect x="467.3" y="25.2" width="1" height="1.3" fill="#80b090"/><rect x="412.7" y="50" width="1" height="1.3" fill="#80b090"/><rect x="453.9" y="21.2" width="1" height="1.3" fill="#c4dccb"/><rect x="461.3" y="24.1" width="1" height="1.3" fill="#94b088"/><rect x="404.2" y="49.3" width="1" height="1.3" fill="#6a8068"/><rect x="413.4" y="28.1" width="1" height="1.3" fill="#a8ccb4"/><rect x="448.8" y="29.8" width="1" height="1.3" fill="#80b090"/><rect x="426.2" y="43.9" width="1" height="1.3" fill="#78a888"/><rect x="441.9" y="28.1" width="1" height="1.3" fill="#98a898"/><rect x="411.7" y="42.9" width="1" height="1.3" fill="#b4c4a0"/><rect x="402.6" y="46.8" width="1" height="1.3" fill="#78a888"/><rect x="434.7" y="32.6" width="1" height="1.3" fill="#78a888"/><rect x="403.4" y="51.4" width="1" height="1.3" fill="#94b088"/><rect x="454" y="34.1" width="1" height="1.3" fill="#78a888"/><rect x="417.9" y="33.7" width="1" height="1.3" fill="#94b088"/><rect x="403" y="41.5" width="1" height="1.3" fill="#a8ccb4"/><rect x="467.1" y="28.4" width="1" height="1.3" fill="#94b088"/><rect x="433" y="19.4" width="1" height="1.3" fill="#a8ccb4"/><rect x="419.5" y="55.7" width="1" height="1.3" fill="#a8ccb4"/><rect x="444" y="32.4" width="1" height="1.3" fill="#80b090"/><rect x="408.4" y="62.5" width="1" height="1.3" fill="#b4c4a0"/><rect x="434.3" y="24.1" width="1" height="1.3" fill="#6a8068"/><rect x="445" y="33.2" width="1" height="1.3" fill="#c4dccb"/><rect x="422.6" y="21.3" width="1" height="1.3" fill="#78a888"/><rect x="403.6" y="52.8" width="1" height="1.3" fill="#6a8068"/><rect x="410.9" y="33.2" width="1" height="1.3" fill="#80b090"/><rect x="408.2" y="40.6" width="1" height="1.3" fill="#94b088"/><rect x="430.2" y="30.8" width="1" height="1.3" fill="#78a888"/><rect x="411.4" y="48.8" width="1" height="1.3" fill="#94b088"/><rect x="401.9" y="51.7" width="1" height="1.3" fill="#b4c4a0"/><rect x="418.9" y="53.4" width="1" height="1.3" fill="#6aa07e"/><rect x="405.6" y="61.6" width="1" height="1.3" fill="#4e8a64"/><rect x="399.9" y="44.4" width="1" height="1.3" fill="#98a898"/><rect x="410.9" y="57.5" width="1" height="1.3" fill="#6a8068"/><rect x="411.2" y="53.3" width="1" height="1.3" fill="#6aa07e"/><rect x="441.9" y="28.6" width="1" height="1.3" fill="#80b090"/><rect x="407" y="57.4" width="1" height="1.3" fill="#80b090"/><rect x="443.2" y="35.5" width="1" height="1.3" fill="#c4dccb"/><rect x="410.2" y="41.6" width="1" height="1.3" fill="#6a8068"/><rect x="443" y="22.9" width="1" height="1.3" fill="#80b090"/><rect x="431.1" y="42.2" width="1" height="1.3" fill="#a8ccb4"/><rect x="406" y="45.1" width="1" height="1.3" fill="#6aa07e"/><rect x="412.3" y="30.1" width="1" height="1.3" fill="#4e8a64"/><rect x="431.4" y="28.9" width="1" height="1.3" fill="#98a898"/><rect x="442.9" y="19.1" width="1" height="1.3" fill="#94b088"/><rect x="410.5" y="46.9" width="1" height="1.3" fill="#b4c4a0"/><rect x="435.1" y="24.4" width="1" height="1.3" fill="#80b090"/><rect x="435.3" y="21.3" width="1" height="1.3" fill="#80b090"/><rect x="413.1" y="27.5" width="1" height="1.3" fill="#78a888"/><rect x="419.5" y="55.6" width="1" height="1.3" fill="#94b088"/><rect x="438" y="42.8" width="1" height="1.3" fill="#80b090"/><rect x="413.7" y="31.4" width="1" height="1.3" fill="#6aa07e"/><rect x="406.1" y="54" width="1" height="1.3" fill="#c4dccb"/><rect x="442.9" y="19" width="1" height="1.3" fill="#78a888"/><rect x="431.8" y="22.7" width="1" height="1.3" fill="#94b088"/><rect x="413" y="32.8" width="1" height="1.3" fill="#78a888"/><rect x="408.1" y="44.9" width="1" height="1.3" fill="#b4c4a0"/><rect x="406.2" y="34.2" width="1" height="1.3" fill="#b4c4a0"/><rect x="426.4" y="52.7" width="1" height="1.3" fill="#6aa07e"/><rect x="402" y="39.9" width="1" height="1.3" fill="#94b088"/><rect x="428.7" y="48.9" width="1" height="1.3" fill="#98a898"/><rect x="426.5" y="48.1" width="1" height="1.3" fill="#b4c4a0"/><rect x="444.7" y="39.7" width="1" height="1.3" fill="#6aa07e"/><rect x="417.1" y="39.2" width="1" height="1.3" fill="#b4c4a0"/><rect x="442.9" y="29.5" width="1" height="1.3" fill="#6aa07e"/><rect x="434.8" y="32.2" width="1" height="1.3" fill="#a8ccb4"/><rect x="408.7" y="50.5" width="1" height="1.3" fill="#94b088"/><rect x="426.5" y="51.3" width="1" height="1.3" fill="#6aa07e"/><rect x="431.3" y="22.1" width="1" height="1.3" fill="#6aa07e"/><rect x="412.4" y="57" width="1" height="1.3" fill="#c4dccb"/><rect x="412.5" y="35.3" width="1" height="1.3" fill="#b4c4a0"/><rect x="446.3" y="25.1" width="1" height="1.3" fill="#a8ccb4"/><rect x="411.9" y="29.7" width="1" height="1.3" fill="#78a888"/><rect x="437.8" y="33.7" width="1" height="1.3" fill="#94b088"/><rect x="405.7" y="40.3" width="1" height="1.3" fill="#6aa07e"/><rect x="418.4" y="28.9" width="1" height="1.3" fill="#b4c4a0"/><rect x="447.3" y="26.8" width="1" height="1.3" fill="#78a888"/><rect x="405.9" y="64" width="1" height="1.3" fill="#6a8068"/><rect x="430.2" y="21.9" width="1" height="1.3" fill="#6aa07e"/><rect x="400.8" y="65.2" width="1" height="1.3" fill="#b4c4a0"/><rect x="416.1" y="51.1" width="1" height="1.3" fill="#4e8a64"/><rect x="452.8" y="33.9" width="1" height="1.3" fill="#6aa07e"/><rect x="415.6" y="36" width="1" height="1.3" fill="#98a898"/><rect x="443.1" y="20" width="1" height="1.3" fill="#80b090"/><rect x="411.5" y="50.7" width="1" height="1.3" fill="#6aa07e"/><rect x="413.6" y="54.2" width="1" height="1.3" fill="#78a888"/><rect x="451.4" y="31.3" width="1" height="1.3" fill="#78a888"/><rect x="417.4" y="43.8" width="1" height="1.3" fill="#a8ccb4"/><rect x="465.1" y="31.3" width="1" height="1.3" fill="#a8ccb4"/><rect x="437.6" y="40.1" width="1" height="1.3" fill="#6a8068"/><rect x="447.9" y="36.6" width="1" height="1.3" fill="#80b090"/><rect x="429.5" y="45.3" width="1" height="1.3" fill="#98a898"/><rect x="409.8" y="40" width="1" height="1.3" fill="#4e8a64"/><rect x="461" y="24.4" width="1" height="1.3" fill="#4e8a64"/><rect x="407.1" y="30.7" width="1" height="1.3" fill="#4e8a64"/><rect x="449.9" y="30.8" width="1" height="1.3" fill="#98a898"/><rect x="420.7" y="29.9" width="1" height="1.3" fill="#94b088"/><rect x="409.8" y="48.5" width="1" height="1.3" fill="#b4c4a0"/><rect x="437.2" y="40.5" width="1" height="1.3" fill="#b4c4a0"/><rect x="406.1" y="39.7" width="1" height="1.3" fill="#a8ccb4"/><rect x="418.2" y="24.4" width="1" height="1.3" fill="#6aa07e"/><rect x="404.3" y="46.4" width="1" height="1.3" fill="#94b088"/><rect x="412" y="57.8" width="1" height="1.3" fill="#6aa07e"/><rect x="401" y="50.4" width="1" height="1.3" fill="#98a898"/><rect x="410.7" y="54.3" width="1" height="1.3" fill="#a8ccb4"/><rect x="428.2" y="40.1" width="1" height="1.3" fill="#80b090"/><rect x="444.7" y="27.4" width="1" height="1.3" fill="#94b088"/><rect x="456.6" y="32.3" width="1" height="1.3" fill="#98a898"/><rect x="418.2" y="49.1" width="1" height="1.3" fill="#6a8068"/><rect x="402.3" y="49.8" width="1" height="1.3" fill="#c4dccb"/><rect x="414.4" y="42.1" width="1" height="1.3" fill="#4e8a64"/><rect x="414.2" y="58.4" width="1" height="1.3" fill="#4e8a64"/><rect x="415.7" y="33.2" width="1" height="1.3" fill="#4e8a64"/><rect x="437.5" y="21.5" width="1" height="1.3" fill="#6a8068"/><rect x="418.7" y="43.4" width="1" height="1.3" fill="#6a8068"/><rect x="441" y="29.1" width="1" height="1.3" fill="#b4c4a0"/><rect x="442.5" y="28.7" width="1" height="1.3" fill="#c4dccb"/><rect x="406.8" y="53.7" width="1" height="1.3" fill="#94b088"/><rect x="426.9" y="31.7" width="1" height="1.3" fill="#a8ccb4"/><rect x="412.9" y="32.7" width="1" height="1.3" fill="#94b088"/><rect x="411.8" y="59" width="1" height="1.3" fill="#a8ccb4"/><rect x="412.6" y="60" width="1" height="1.3" fill="#c4dccb"/><rect x="407.8" y="60" width="1" height="1.3" fill="#78a888"/><rect x="415.3" y="49" width="1" height="1.3" fill="#b4c4a0"/><rect x="410.2" y="29.5" width="1" height="1.3" fill="#4e8a64"/><rect x="444.9" y="28.6" width="1" height="1.3" fill="#6a8068"/><rect x="430.5" y="34.1" width="1" height="1.3" fill="#78a888"/><rect x="400.9" y="46.7" width="1" height="1.3" fill="#98a898"/><rect x="414.7" y="53.5" width="1" height="1.3" fill="#80b090"/><rect x="438.2" y="26.7" width="1" height="1.3" fill="#80b090"/><rect x="432" y="32" width="1" height="1.3" fill="#a8ccb4"/><rect x="405.9" y="62.3" width="1" height="1.3" fill="#94b088"/><rect x="434.4" y="21.2" width="1" height="1.3" fill="#c4dccb"/><rect x="457.7" y="27.3" width="1" height="1.3" fill="#6aa07e"/><rect x="430.4" y="45.2" width="1" height="1.3" fill="#80b090"/><rect x="421" y="21.6" width="1" height="1.3" fill="#98a898"/><rect x="427.6" y="27.2" width="1" height="1.3" fill="#94b088"/><rect x="433.2" y="21.4" width="1" height="1.3" fill="#c4dccb"/><rect x="408.5" y="30.7" width="1" height="1.3" fill="#a8ccb4"/><rect x="401.7" y="53.4" width="1" height="1.3" fill="#94b088"/><rect x="426.9" y="46.7" width="1" height="1.3" fill="#a8ccb4"/><rect x="428.4" y="52.3" width="1" height="1.3" fill="#80b090"/><rect x="420.4" y="27" width="1" height="1.3" fill="#78a888"/><rect x="424.7" y="26.8" width="1" height="1.3" fill="#78a888"/><rect x="412.1" y="58.9" width="1" height="1.3" fill="#6aa07e"/><rect x="413.9" y="53.9" width="1" height="1.3" fill="#c4dccb"/><rect x="419.6" y="34.8" width="1" height="1.3" fill="#98a898"/><rect x="412.2" y="62.8" width="1" height="1.3" fill="#98a898"/><rect x="414.1" y="59.9" width="1" height="1.3" fill="#98a898"/><rect x="455.3" y="24.7" width="1" height="1.3" fill="#94b088"/><rect x="409" y="45.8" width="1" height="1.3" fill="#80b090"/><rect x="430" y="20.4" width="1" height="1.3" fill="#a8ccb4"/><rect x="425.6" y="35.6" width="1" height="1.3" fill="#6a8068"/><rect x="444.8" y="38.2" width="1" height="1.3" fill="#78a888"/><rect x="405.6" y="61.6" width="1" height="1.3" fill="#78a888"/><rect x="435" y="31.4" width="1" height="1.3" fill="#a8ccb4"/><rect x="425.4" y="25.3" width="1" height="1.3" fill="#78a888"/><rect x="446" y="22" width="1" height="1.3" fill="#a8ccb4"/><rect x="400.7" y="65.7" width="1" height="1.3" fill="#6aa07e"/><rect x="408.5" y="35.9" width="1" height="1.3" fill="#a8ccb4"/><rect x="432.6" y="27.4" width="1" height="1.3" fill="#78a888"/><rect x="426.5" y="36.5" width="1" height="1.3" fill="#80b090"/><rect x="402.2" y="65.8" width="1" height="1.3" fill="#6a8068"/><rect x="412.9" y="49" width="1" height="1.3" fill="#a8ccb4"/><rect x="404.1" y="62.5" width="1" height="1.3" fill="#a8ccb4"/><rect x="431.1" y="40.4" width="1" height="1.3" fill="#a8ccb4"/><rect x="414.2" y="36.8" width="1" height="1.3" fill="#b4c4a0"/><rect x="421.9" y="34.8" width="1" height="1.3" fill="#94b088"/><rect x="423.8" y="45.1" width="1" height="1.3" fill="#4e8a64"/><rect x="418.2" y="39" width="1" height="1.3" fill="#80b090"/><rect x="423.6" y="48.2" width="1" height="1.3" fill="#a8ccb4"/><rect x="415.3" y="59.1" width="1" height="1.3" fill="#c4dccb"/><rect x="419.9" y="55.7" width="1" height="1.3" fill="#4e8a64"/><rect x="401.1" y="47.7" width="1" height="1.3" fill="#c4dccb"/><rect x="403.6" y="38.8" width="1" height="1.3" fill="#6a8068"/><rect x="431.8" y="45.6" width="1" height="1.3" fill="#4e8a64"/><rect x="405.1" y="62.1" width="1" height="1.3" fill="#b4c4a0"/><rect x="465" y="27.9" width="1" height="1.3" fill="#b4c4a0"/><rect x="405.5" y="38.4" width="1" height="1.3" fill="#80b090"/><rect x="429.1" y="46.2" width="1" height="1.3" fill="#6a8068"/><rect x="442.8" y="35.6" width="1" height="1.3" fill="#78a888"/><rect x="434.7" y="41.7" width="1" height="1.3" fill="#78a888"/><rect x="405.7" y="48.9" width="1" height="1.3" fill="#a8ccb4"/><rect x="418.8" y="43.8" width="1" height="1.3" fill="#6aa07e"/><rect x="446.5" y="22.4" width="1" height="1.3" fill="#c4dccb"/><rect x="401" y="65.2" width="1" height="1.3" fill="#a8ccb4"/><rect x="427.3" y="47.3" width="1" height="1.3" fill="#a8ccb4"/><rect x="442.1" y="28.8" width="1" height="1.3" fill="#80b090"/><rect x="406.6" y="51.7" width="1" height="1.3" fill="#78a888"/><rect x="404.9" y="58.8" width="1" height="1.3" fill="#94b088"/><rect x="422.8" y="46.8" width="1" height="1.3" fill="#94b088"/><rect x="404.8" y="50.3" width="1" height="1.3" fill="#6aa07e"/><rect x="431.8" y="30.5" width="1" height="1.3" fill="#b4c4a0"/><rect x="421.9" y="51.3" width="1" height="1.3" fill="#78a888"/><rect x="421.7" y="34.8" width="1" height="1.3" fill="#6a8068"/><rect x="409.1" y="45.2" width="1" height="1.3" fill="#b4c4a0"/><rect x="418.7" y="45.5" width="1" height="1.3" fill="#6a8068"/><rect x="427" y="52.6" width="1" height="1.3" fill="#6a8068"/><rect x="425" y="36.9" width="1" height="1.3" fill="#80b090"/><rect x="426.1" y="51.8" width="1" height="1.3" fill="#80b090"/><rect x="465.6" y="30.5" width="1" height="1.3" fill="#4e8a64"/><rect x="405.9" y="65.9" width="1" height="1.3" fill="#c4dccb"/><rect x="434.6" y="36.5" width="1" height="1.3" fill="#a8ccb4"/><rect x="448.2" y="28.1" width="1" height="1.3" fill="#4e8a64"/><rect x="417.9" y="45.5" width="1" height="1.3" fill="#98a898"/><rect x="400.2" y="36.2" width="1" height="1.3" fill="#c4dccb"/><rect x="404.7" y="63.3" width="1" height="1.3" fill="#6a8068"/><rect x="430.8" y="23" width="1" height="1.3" fill="#94b088"/><rect x="434.9" y="33.8" width="1" height="1.3" fill="#a8ccb4"/><rect x="465.3" y="26.4" width="1" height="1.3" fill="#80b090"/><rect x="417.6" y="50.9" width="1" height="1.3" fill="#c4dccb"/><rect x="433.6" y="33.5" width="1" height="1.3" fill="#80b090"/><rect x="436.7" y="33.8" width="1" height="1.3" fill="#4e8a64"/><rect x="402.8" y="41.8" width="1" height="1.3" fill="#6a8068"/><rect x="472.9" y="27.4" width="1" height="1.3" fill="#6a8068"/><rect x="409.8" y="37.8" width="1" height="1.3" fill="#a8ccb4"/><rect x="448.6" y="32" width="1" height="1.3" fill="#4e8a64"/><rect x="423.4" y="35.1" width="1" height="1.3" fill="#6aa07e"/><rect x="422.6" y="39.1" width="1" height="1.3" fill="#b4c4a0"/><rect x="401.1" y="43.6" width="1" height="1.3" fill="#6a8068"/><rect x="426.4" y="39" width="1" height="1.3" fill="#c4dccb"/><rect x="409.7" y="29.7" width="1" height="1.3" fill="#6a8068"/><rect x="419.5" y="33" width="1" height="1.3" fill="#6a8068"/><rect x="408.7" y="51.3" width="1" height="1.3" fill="#c4dccb"/><rect x="408.3" y="49.8" width="1" height="1.3" fill="#c4dccb"/><rect x="406.7" y="66.3" width="1" height="1.3" fill="#78a888"/><rect x="408.8" y="56.9" width="1" height="1.3" fill="#78a888"/><rect x="425.6" y="44.3" width="1" height="1.3" fill="#4e8a64"/><rect x="442.7" y="20.6" width="1" height="1.3" fill="#b4c4a0"/><rect x="425.9" y="52.6" width="1" height="1.3" fill="#c4dccb"/><rect x="400" y="39.5" width="1" height="1.3" fill="#78a888"/><rect x="406.7" y="38" width="1" height="1.3" fill="#6aa07e"/><rect x="405.2" y="38.3" width="1" height="1.3" fill="#6a8068"/><rect x="458.5" y="23.3" width="1" height="1.3" fill="#c4dccb"/><rect x="407" y="65.3" width="1" height="1.3" fill="#98a898"/><rect x="442.3" y="21.3" width="1" height="1.3" fill="#c4dccb"/><rect x="419.1" y="44.3" width="1" height="1.3" fill="#4e8a64"/><rect x="407.1" y="33.2" width="1" height="1.3" fill="#98a898"/><rect x="413.5" y="45.6" width="1" height="1.3" fill="#4e8a64"/><rect x="411.4" y="62.3" width="1" height="1.3" fill="#c4dccb"/><rect x="400.7" y="34.1" width="1" height="1.3" fill="#a8ccb4"/><rect x="408.2" y="45.8" width="1" height="1.3" fill="#94b088"/><rect x="413.1" y="32.8" width="1" height="1.3" fill="#78a888"/><rect x="438.8" y="37.3" width="1" height="1.3" fill="#4e8a64"/><rect x="449.2" y="34.8" width="1" height="1.3" fill="#6a8068"/><rect x="414.6" y="39.3" width="1" height="1.3" fill="#6aa07e"/><rect x="451" y="23.4" width="1" height="1.3" fill="#80b090"/><rect x="407.4" y="55.5" width="1" height="1.3" fill="#c4dccb"/><rect x="409.8" y="60.5" width="1" height="1.3" fill="#80b090"/><rect x="428.1" y="19.9" width="1" height="1.3" fill="#80b090"/><rect x="413.7" y="26.8" width="1" height="1.3" fill="#80b090"/><rect x="401.1" y="51.2" width="1" height="1.3" fill="#c4dccb"/><rect x="404.8" y="56.7" width="1" height="1.3" fill="#c4dccb"/><rect x="411.9" y="48.5" width="1" height="1.3" fill="#98a898"/><rect x="407.1" y="51.5" width="1" height="1.3" fill="#6aa07e"/><rect x="416.9" y="39" width="1" height="1.3" fill="#98a898"/><rect x="432.7" y="23.2" width="1" height="1.3" fill="#94b088"/><rect x="458.8" y="25.3" width="1" height="1.3" fill="#6a8068"/><rect x="439.9" y="41.1" width="1" height="1.3" fill="#98a898"/><rect x="444.7" y="37.8" width="1" height="1.3" fill="#98a898"/><rect x="432.8" y="34.6" width="1" height="1.3" fill="#94b088"/><rect x="411.1" y="31.6" width="1" height="1.3" fill="#80b090"/><rect x="423.7" y="49.2" width="1" height="1.3" fill="#78a888"/><rect x="427.9" y="48.1" width="1" height="1.3" fill="#a8ccb4"/><rect x="418" y="33.9" width="1" height="1.3" fill="#80b090"/><rect x="414.9" y="49.1" width="1" height="1.3" fill="#6a8068"/><rect x="418.3" y="42.6" width="1" height="1.3" fill="#6aa07e"/><rect x="430.8" y="49.4" width="1" height="1.3" fill="#98a898"/><rect x="415.6" y="55.5" width="1" height="1.3" fill="#a8ccb4"/><rect x="429.6" y="43.3" width="1" height="1.3" fill="#c4dccb"/><rect x="433" y="22.4" width="1" height="1.3" fill="#6a8068"/><rect x="403.4" y="67.3" width="1" height="1.3" fill="#6aa07e"/><rect x="463.1" y="30.6" width="1" height="1.3" fill="#a8ccb4"/><rect x="419.2" y="31.5" width="1" height="1.3" fill="#c4dccb"/><rect x="428.8" y="26.3" width="1" height="1.3" fill="#80b090"/><rect x="424.7" y="30.5" width="1" height="1.3" fill="#b4c4a0"/><rect x="404.4" y="48.4" width="1" height="1.3" fill="#78a888"/><rect x="406.3" y="66" width="1" height="1.3" fill="#a8ccb4"/><rect x="408" y="64.6" width="1" height="1.3" fill="#98a898"/><rect x="472.2" y="27.9" width="1" height="1.3" fill="#80b090"/><rect x="414.7" y="29" width="1" height="1.3" fill="#a8ccb4"/><rect x="428.7" y="34.6" width="1" height="1.3" fill="#6aa07e"/><rect x="401.3" y="38.8" width="1" height="1.3" fill="#6a8068"/><rect x="412.5" y="58" width="1" height="1.3" fill="#98a898"/><rect x="409" y="38.4" width="1" height="1.3" fill="#6a8068"/><rect x="409.3" y="46" width="1" height="1.3" fill="#78a888"/><rect x="452.5" y="27.5" width="1" height="1.3" fill="#c4dccb"/><rect x="433.5" y="40.6" width="1" height="1.3" fill="#c4dccb"/><rect x="414.8" y="59.2" width="1" height="1.3" fill="#b4c4a0"/><rect x="444.5" y="25.4" width="1" height="1.3" fill="#94b088"/><rect x="447.6" y="24.5" width="1" height="1.3" fill="#80b090"/><rect x="422.6" y="45.3" width="1" height="1.3" fill="#4e8a64"/><rect x="437.9" y="42.7" width="1" height="1.3" fill="#80b090"/><rect x="400.8" y="41.3" width="1" height="1.3" fill="#78a888"/><rect x="444.6" y="21.2" width="1" height="1.3" fill="#6a8068"/><rect x="432.7" y="40.3" width="1" height="1.3" fill="#98a898"/><rect x="428.7" y="31.2" width="1" height="1.3" fill="#a8ccb4"/><rect x="469.3" y="27.9" width="1" height="1.3" fill="#a8ccb4"/><rect x="455" y="22.2" width="1" height="1.3" fill="#4e8a64"/><rect x="426.1" y="27.3" width="1" height="1.3" fill="#b4c4a0"/><rect x="465.6" y="31.7" width="1" height="1.3" fill="#a8ccb4"/><rect x="410.1" y="30.1" width="1" height="1.3" fill="#94b088"/><rect x="474.1" y="27.5" width="1" height="1.3" fill="#78a888"/><rect x="419.3" y="51.4" width="1" height="1.3" fill="#a8ccb4"/><rect x="439.7" y="36.4" width="1" height="1.3" fill="#4e8a64"/><rect x="424" y="34.1" width="1" height="1.3" fill="#4e8a64"/><rect x="439.3" y="22.5" width="1" height="1.3" fill="#c4dccb"/><rect x="423.1" y="54" width="1" height="1.3" fill="#80b090"/><rect x="440.9" y="36.9" width="1" height="1.3" fill="#6a8068"/><rect x="440.8" y="33.1" width="1" height="1.3" fill="#4e8a64"/><rect x="415.9" y="25.1" width="1" height="1.3" fill="#98a898"/><rect x="434.1" y="33.3" width="1" height="1.3" fill="#4e8a64"/><rect x="432.2" y="38.6" width="1" height="1.3" fill="#6a8068"/><rect x="426.2" y="33.4" width="1" height="1.3" fill="#b4c4a0"/><rect x="403" y="47.4" width="1" height="1.3" fill="#78a888"/><rect x="416.9" y="45.4" width="1" height="1.3" fill="#4e8a64"/><rect x="459.1" y="28.5" width="1" height="1.3" fill="#b4c4a0"/><rect x="438.9" y="40.4" width="1" height="1.3" fill="#6a8068"/><rect x="408.8" y="57.8" width="1" height="1.3" fill="#6aa07e"/><rect x="440.2" y="41.9" width="1" height="1.3" fill="#6a8068"/><rect x="423.3" y="21.5" width="1" height="1.3" fill="#b4c4a0"/><rect x="431.8" y="41.9" width="1" height="1.3" fill="#80b090"/><rect x="424.6" y="39.9" width="1" height="1.3" fill="#6a8068"/><rect x="433.5" y="46.7" width="1" height="1.3" fill="#b4c4a0"/><rect x="406.9" y="36" width="1" height="1.3" fill="#80b090"/><rect x="421.8" y="45.2" width="1" height="1.3" fill="#c4dccb"/><rect x="427.5" y="19.2" width="1" height="1.3" fill="#6a8068"/><rect x="430.8" y="25.7" width="1" height="1.3" fill="#98a898"/><rect x="405.4" y="61.3" width="1" height="1.3" fill="#80b090"/><rect x="430.5" y="17.9" width="1" height="1.3" fill="#80b090"/><rect x="420.2" y="35.3" width="1" height="1.3" fill="#a8ccb4"/><rect x="417.9" y="29.2" width="1" height="1.3" fill="#80b090"/><rect x="419.9" y="39.7" width="1" height="1.3" fill="#b4c4a0"/><rect x="449.2" y="23.3" width="1" height="1.3" fill="#4e8a64"/><rect x="444.4" y="40.4" width="1" height="1.3" fill="#a8ccb4"/><rect x="445.5" y="31.7" width="1" height="1.3" fill="#c4dccb"/><rect x="453" y="22.9" width="1" height="1.3" fill="#a8ccb4"/><rect x="403.6" y="49.6" width="1" height="1.3" fill="#b4c4a0"/><rect x="401.6" y="50.1" width="1" height="1.3" fill="#80b090"/><rect x="404.9" y="63.3" width="1" height="1.3" fill="#b4c4a0"/><rect x="424.5" y="43.3" width="1" height="1.3" fill="#6a8068"/><rect x="438.7" y="33.1" width="1" height="1.3" fill="#a8ccb4"/><rect x="412.7" y="37.9" width="1" height="1.3" fill="#78a888"/><rect x="434.4" y="37.5" width="1" height="1.3" fill="#c4dccb"/><rect x="411.1" y="58.5" width="1" height="1.3" fill="#78a888"/><rect x="403" y="35.3" width="1" height="1.3" fill="#a8ccb4"/><rect x="442.3" y="19.4" width="1" height="1.3" fill="#a8ccb4"/><rect x="435.3" y="27.7" width="1" height="1.3" fill="#78a888"/><rect x="403.9" y="66" width="1" height="1.3" fill="#80b090"/><rect x="401.3" y="60.9" width="1" height="1.3" fill="#98a898"/><rect x="408.1" y="47.5" width="1" height="1.3" fill="#b4c4a0"/><rect x="416.3" y="55.2" width="1" height="1.3" fill="#c4dccb"/><rect x="455.5" y="27.2" width="1" height="1.3" fill="#6a8068"/><rect x="404.4" y="52.6" width="1" height="1.3" fill="#6aa07e"/><rect x="403" y="42.8" width="1" height="1.3" fill="#6a8068"/><rect x="405.2" y="60.3" width="1" height="1.3" fill="#78a888"/><rect x="400.2" y="63.7" width="1" height="1.3" fill="#c4dccb"/><rect x="435.4" y="25.5" width="1" height="1.3" fill="#6aa07e"/><rect x="402.5" y="40.5" width="1" height="1.3" fill="#98a898"/><rect x="438" y="36.2" width="1" height="1.3" fill="#a8ccb4"/><rect x="415.8" y="54" width="1" height="1.3" fill="#94b088"/><rect x="427.2" y="32.2" width="1" height="1.3" fill="#6aa07e"/><rect x="405.5" y="41.5" width="1" height="1.3" fill="#94b088"/><rect x="409.7" y="38" width="1" height="1.3" fill="#6aa07e"/><rect x="413.9" y="53.2" width="1" height="1.3" fill="#80b090"/><rect x="403.3" y="44.8" width="1" height="1.3" fill="#94b088"/><rect x="431.9" y="42.8" width="1" height="1.3" fill="#4e8a64"/><rect x="422.8" y="26" width="1" height="1.3" fill="#80b090"/><rect x="426.4" y="46.3" width="1" height="1.3" fill="#6aa07e"/><rect x="419.6" y="34.1" width="1" height="1.3" fill="#94b088"/><rect x="420.9" y="46.4" width="1" height="1.3" fill="#80b090"/><rect x="421.2" y="24" width="1" height="1.3" fill="#6a8068"/><rect x="400.6" y="38.9" width="1" height="1.3" fill="#b4c4a0"/><rect x="425.6" y="18.7" width="1" height="1.3" fill="#80b090"/><rect x="401.3" y="37.8" width="1" height="1.3" fill="#c4dccb"/><rect x="408.5" y="41.2" width="1" height="1.3" fill="#b4c4a0"/><rect x="411.7" y="33.9" width="1" height="1.3" fill="#98a898"/><rect x="431.7" y="49.8" width="1" height="1.3" fill="#6a8068"/><rect x="423.1" y="41.9" width="1" height="1.3" fill="#80b090"/><rect x="401" y="43.9" width="1" height="1.3" fill="#b4c4a0"/><rect x="413.5" y="53.4" width="1" height="1.3" fill="#94b088"/><rect x="406.6" y="32.2" width="1" height="1.3" fill="#b4c4a0"/><rect x="422.5" y="53.8" width="1" height="1.3" fill="#6aa07e"/><rect x="462.3" y="23.9" width="1" height="1.3" fill="#a8ccb4"/><rect x="416.6" y="48.8" width="1" height="1.3" fill="#98a898"/><rect x="426.4" y="30.7" width="1" height="1.3" fill="#94b088"/><rect x="427.6" y="45.4" width="1" height="1.3" fill="#c4dccb"/><rect x="405.2" y="61.1" width="1" height="1.3" fill="#6aa07e"/><rect x="402.9" y="60.7" width="1" height="1.3" fill="#94b088"/><rect x="401.9" y="60.1" width="1" height="1.3" fill="#4e8a64"/><rect x="412.2" y="28.8" width="1" height="1.3" fill="#80b090"/><rect x="413.4" y="42.3" width="1" height="1.3" fill="#80b090"/><rect x="442.9" y="21.4" width="1" height="1.3" fill="#c4dccb"/><rect x="451.1" y="31.2" width="1" height="1.3" fill="#6a8068"/><rect x="407.4" y="61.6" width="1" height="1.3" fill="#94b088"/><rect x="429.4" y="22" width="1" height="1.3" fill="#98a898"/><rect x="431.4" y="43.4" width="1" height="1.3" fill="#b4c4a0"/><rect x="444.2" y="29" width="1" height="1.3" fill="#94b088"/><rect x="436.2" y="20.6" width="1" height="1.3" fill="#4e8a64"/><rect x="428.4" y="25.5" width="1" height="1.3" fill="#4e8a64"/><rect x="425.9" y="52.3" width="1" height="1.3" fill="#6a8068"/><rect x="413.5" y="46.5" width="1" height="1.3" fill="#b4c4a0"/><rect x="402.6" y="49.8" width="1" height="1.3" fill="#c4dccb"/><rect x="422.7" y="51.1" width="1" height="1.3" fill="#78a888"/><rect x="431.3" y="25" width="1" height="1.3" fill="#4e8a64"/><rect x="439.8" y="21.7" width="1" height="1.3" fill="#c4dccb"/><rect x="406.7" y="47.9" width="1" height="1.3" fill="#80b090"/><rect x="412.9" y="47.2" width="1" height="1.3" fill="#6a8068"/><rect x="429.7" y="31.7" width="1" height="1.3" fill="#80b090"/><rect x="444" y="19.4" width="1" height="1.3" fill="#6aa07e"/><rect x="409.3" y="32.1" width="1" height="1.3" fill="#6aa07e"/><rect x="409.4" y="45.4" width="1" height="1.3" fill="#78a888"/><rect x="411.6" y="54.4" width="1" height="1.3" fill="#6aa07e"/><rect x="420.2" y="35.1" width="1" height="1.3" fill="#94b088"/><rect x="443.4" y="22.6" width="1" height="1.3" fill="#78a888"/><rect x="428.1" y="32" width="1" height="1.3" fill="#c4dccb"/><rect x="437" y="27" width="1" height="1.3" fill="#6aa07e"/><rect x="435.6" y="40.6" width="1" height="1.3" fill="#6a8068"/><rect x="410" y="41.3" width="1" height="1.3" fill="#78a888"/><rect x="417.8" y="50.4" width="1" height="1.3" fill="#80b090"/><rect x="438.1" y="41.7" width="1" height="1.3" fill="#80b090"/><rect x="401.6" y="54.5" width="1" height="1.3" fill="#80b090"/><rect x="401.7" y="34" width="1" height="1.3" fill="#b4c4a0"/><rect x="413.7" y="35.4" width="1" height="1.3" fill="#94b088"/><rect x="429" y="20.1" width="1" height="1.3" fill="#a8ccb4"/><rect x="400.4" y="52.9" width="1" height="1.3" fill="#94b088"/><rect x="439.1" y="36.2" width="1" height="1.3" fill="#94b088"/><rect x="407.2" y="30.9" width="1" height="1.3" fill="#a8ccb4"/><rect x="414.9" y="51.3" width="1" height="1.3" fill="#c4dccb"/><rect x="415.5" y="51.4" width="1" height="1.3" fill="#6a8068"/><rect x="425.9" y="31.8" width="1" height="1.3" fill="#80b090"/><rect x="422.9" y="50.6" width="1" height="1.3" fill="#c4dccb"/><rect x="408.9" y="55.4" width="1" height="1.3" fill="#a8ccb4"/><rect x="461.3" y="27.1" width="1" height="1.3" fill="#6a8068"/><rect x="434.4" y="23.6" width="1" height="1.3" fill="#b4c4a0"/><rect x="421.7" y="40.6" width="1" height="1.3" fill="#a8ccb4"/><rect x="465.5" y="24.6" width="1" height="1.3" fill="#a8ccb4"/><rect x="427.7" y="39.9" width="1" height="1.3" fill="#a8ccb4"/><rect x="405.7" y="49" width="1" height="1.3" fill="#c4dccb"/><rect x="409.1" y="61.7" width="1" height="1.3" fill="#b4c4a0"/><rect x="401.4" y="54.4" width="1" height="1.3" fill="#a8ccb4"/><rect x="401.3" y="34.3" width="1" height="1.3" fill="#6aa07e"/><rect x="407.2" y="56.9" width="1" height="1.3" fill="#4e8a64"/><rect x="409.5" y="32.9" width="1" height="1.3" fill="#4e8a64"/><rect x="412" y="37.4" width="1" height="1.3" fill="#4e8a64"/><rect x="460.1" y="26.6" width="1" height="1.3" fill="#78a888"/><rect x="429.6" y="25.7" width="1" height="1.3" fill="#a8ccb4"/><rect x="424.8" y="40.2" width="1" height="1.3" fill="#b4c4a0"/><rect x="420.5" y="47" width="1" height="1.3" fill="#98a898"/><rect x="408.4" y="50.8" width="1" height="1.3" fill="#6a8068"/><rect x="448.9" y="33.6" width="1" height="1.3" fill="#94b088"/><rect x="402.6" y="66.8" width="1" height="1.3" fill="#6a8068"/><rect x="407.4" y="45" width="1" height="1.3" fill="#4e8a64"/><rect x="428.4" y="43.4" width="1" height="1.3" fill="#6aa07e"/><rect x="415.9" y="26.5" width="1" height="1.3" fill="#94b088"/><rect x="444.2" y="26.2" width="1" height="1.3" fill="#94b088"/><rect x="411.2" y="32.3" width="1" height="1.3" fill="#98a898"/><rect x="432.8" y="38.3" width="1" height="1.3" fill="#c4dccb"/><rect x="447.2" y="23.4" width="1" height="1.3" fill="#78a888"/><rect x="402.2" y="40.6" width="1" height="1.3" fill="#6aa07e"/><rect x="464.5" y="27.2" width="1" height="1.3" fill="#a8ccb4"/><rect x="412.9" y="30.4" width="1" height="1.3" fill="#a8ccb4"/><rect x="429.1" y="26.3" width="1" height="1.3" fill="#a8ccb4"/><rect x="412.9" y="38.9" width="1" height="1.3" fill="#a8ccb4"/><rect x="412.3" y="55.4" width="1" height="1.3" fill="#6a8068"/><rect x="415.4" y="58.1" width="1" height="1.3" fill="#94b088"/><rect x="408.3" y="59.4" width="1" height="1.3" fill="#a8ccb4"/><rect x="436" y="37.4" width="1" height="1.3" fill="#94b088"/><rect x="463.3" y="27.1" width="1" height="1.3" fill="#4e8a64"/><rect x="414.8" y="28.5" width="1" height="1.3" fill="#80b090"/><rect x="404.1" y="63.2" width="1" height="1.3" fill="#a8ccb4"/><rect x="437.3" y="19.2" width="1" height="1.3" fill="#4e8a64"/><rect x="415.7" y="60.4" width="1" height="1.3" fill="#b4c4a0"/><rect x="413.2" y="31.8" width="1" height="1.3" fill="#b4c4a0"/><rect x="410.3" y="43.9" width="1" height="1.3" fill="#98a898"/><rect x="403.2" y="65.8" width="1" height="1.3" fill="#6a8068"/><rect x="412.1" y="54.6" width="1" height="1.3" fill="#4e8a64"/><rect x="416.8" y="30.6" width="1" height="1.3" fill="#98a898"/><rect x="444.8" y="33.7" width="1" height="1.3" fill="#98a898"/><rect x="413.7" y="57.2" width="1" height="1.3" fill="#98a898"/><rect x="420.5" y="23.3" width="1" height="1.3" fill="#c4dccb"/><rect x="422.7" y="42.3" width="1" height="1.3" fill="#a8ccb4"/><rect x="420.8" y="34.9" width="1" height="1.3" fill="#94b088"/><rect x="438.7" y="41.9" width="1" height="1.3" fill="#94b088"/><rect x="417" y="39.4" width="1" height="1.3" fill="#b4c4a0"/><rect x="422.4" y="47" width="1" height="1.3" fill="#6a8068"/><rect x="451.2" y="27.1" width="1" height="1.3" fill="#94b088"/><rect x="426.8" y="20.1" width="1" height="1.3" fill="#78a888"/><rect x="432.9" y="36.2" width="1" height="1.3" fill="#98a898"/><rect x="447.4" y="20.5" width="1" height="1.3" fill="#98a898"/><rect x="432.9" y="29.4" width="1" height="1.3" fill="#78a888"/><rect x="429.6" y="51" width="1" height="1.3" fill="#4e8a64"/><rect x="427.4" y="37.7" width="1" height="1.3" fill="#c4dccb"/><rect x="410.8" y="46" width="1" height="1.3" fill="#98a898"/><rect x="450.6" y="32.5" width="1" height="1.3" fill="#6aa07e"/><rect x="422.2" y="52.3" width="1" height="1.3" fill="#6a8068"/><rect x="418.4" y="52.6" width="1" height="1.3" fill="#6a8068"/><rect x="429.7" y="30.4" width="1" height="1.3" fill="#6a8068"/><rect x="427.2" y="46.5" width="1" height="1.3" fill="#b4c4a0"/><rect x="437.1" y="21.6" width="1" height="1.3" fill="#4e8a64"/><rect x="405.7" y="47.7" width="1" height="1.3" fill="#4e8a64"/><rect x="441" y="28.4" width="1" height="1.3" fill="#b4c4a0"/><rect x="421.9" y="38.8" width="1" height="1.3" fill="#94b088"/><rect x="417" y="36.4" width="1" height="1.3" fill="#4e8a64"/><rect x="441.5" y="22.8" width="1" height="1.3" fill="#6a8068"/><rect x="406.1" y="58.9" width="1" height="1.3" fill="#6a8068"/><rect x="402.6" y="50" width="1" height="1.3" fill="#78a888"/><rect x="434.1" y="23.6" width="1" height="1.3" fill="#4e8a64"/><rect x="419" y="28.8" width="1" height="1.3" fill="#6aa07e"/><rect x="404.6" y="35.4" width="1" height="1.3" fill="#b4c4a0"/><rect x="415.1" y="33.3" width="1" height="1.3" fill="#c4dccb"/><rect x="419.2" y="40" width="1" height="1.3" fill="#6aa07e"/><rect x="418.3" y="30" width="1" height="1.3" fill="#78a888"/><rect x="401.1" y="62.7" width="1" height="1.3" fill="#b4c4a0"/><rect x="402.6" y="49.1" width="1" height="1.3" fill="#94b088"/><rect x="439.6" y="25.7" width="1" height="1.3" fill="#98a898"/><rect x="403.5" y="38.2" width="1" height="1.3" fill="#6a8068"/><rect x="426.2" y="42.1" width="1" height="1.3" fill="#b4c4a0"/><rect x="413.4" y="33.7" width="1" height="1.3" fill="#6a8068"/><rect x="423.3" y="55.2" width="1" height="1.3" fill="#6aa07e"/><rect x="403.4" y="35.6" width="1" height="1.3" fill="#80b090"/><rect x="403.6" y="44.9" width="1" height="1.3" fill="#6a8068"/><rect x="421.7" y="34.3" width="1" height="1.3" fill="#4e8a64"/><rect x="415.5" y="34.7" width="1" height="1.3" fill="#6a8068"/><rect x="423.3" y="29" width="1" height="1.3" fill="#c4dccb"/><rect x="419.9" y="35.9" width="1" height="1.3" fill="#6a8068"/><rect x="447.7" y="27.1" width="1" height="1.3" fill="#4e8a64"/><rect x="400.3" y="59.9" width="1" height="1.3" fill="#a8ccb4"/><rect x="408.3" y="30.4" width="1" height="1.3" fill="#6aa07e"/><rect x="431.4" y="39.8" width="1" height="1.3" fill="#a8ccb4"/><rect x="410.7" y="53.7" width="1" height="1.3" fill="#6aa07e"/><rect x="412.1" y="33.3" width="1" height="1.3" fill="#80b090"/><rect x="418.3" y="27.6" width="1" height="1.3" fill="#94b088"/><rect x="405.4" y="42.2" width="1" height="1.3" fill="#a8ccb4"/><rect x="417" y="54.1" width="1" height="1.3" fill="#6aa07e"/><rect x="403.9" y="66.9" width="1" height="1.3" fill="#6a8068"/><rect x="427.6" y="47.5" width="1" height="1.3" fill="#a8ccb4"/><rect x="412.9" y="32" width="1" height="1.3" fill="#98a898"/><rect x="411.1" y="48.8" width="1" height="1.3" fill="#c4dccb"/><rect x="427.5" y="22.2" width="1" height="1.3" fill="#80b090"/><rect x="406.1" y="40.3" width="1" height="1.3" fill="#c4dccb"/><rect x="436" y="41.4" width="1" height="1.3" fill="#80b090"/><rect x="429.8" y="41.9" width="1" height="1.3" fill="#98a898"/><rect x="417.1" y="37.2" width="1" height="1.3" fill="#6a8068"/><rect x="407.6" y="51.6" width="1" height="1.3" fill="#c4dccb"/><rect x="428" y="36.4" width="1" height="1.3" fill="#4e8a64"/><rect x="444.2" y="30.6" width="1" height="1.3" fill="#b4c4a0"/><rect x="412.1" y="41.4" width="1" height="1.3" fill="#98a898"/><rect x="409.8" y="44.4" width="1" height="1.3" fill="#b4c4a0"/><rect x="419.6" y="45.4" width="1" height="1.3" fill="#a8ccb4"/><rect x="432.8" y="18" width="1" height="1.3" fill="#98a898"/><rect x="414" y="28.2" width="1" height="1.3" fill="#c4dccb"/><rect x="410.1" y="54.5" width="1" height="1.3" fill="#4e8a64"/><rect x="445.6" y="35.9" width="1" height="1.3" fill="#98a898"/><rect x="415.8" y="50.3" width="1" height="1.3" fill="#80b090"/><rect x="473.5" y="27.6" width="1" height="1.3" fill="#a8ccb4"/><rect x="452.9" y="25.3" width="1" height="1.3" fill="#a8ccb4"/><rect x="402" y="62.8" width="1" height="1.3" fill="#c4dccb"/><rect x="431.3" y="43.9" width="1" height="1.3" fill="#80b090"/><rect x="440.1" y="23.2" width="1" height="1.3" fill="#80b090"/><rect x="416.5" y="33.7" width="1" height="1.3" fill="#80b090"/><rect x="437.9" y="42.6" width="1" height="1.3" fill="#a8ccb4"/><rect x="435.5" y="44.2" width="1" height="1.3" fill="#98a898"/><rect x="399.9" y="35.2" width="1" height="1.3" fill="#80b090"/><rect x="435.9" y="29.5" width="1" height="1.3" fill="#94b088"/><rect x="422.9" y="52.4" width="1" height="1.3" fill="#a8ccb4"/><rect x="422.8" y="22.9" width="1" height="1.3" fill="#a8ccb4"/><rect x="404" y="34.2" width="1" height="1.3" fill="#4e8a64"/><rect x="416.1" y="50.6" width="1" height="1.3" fill="#c4dccb"/><rect x="403.9" y="32" width="1" height="1.3" fill="#94b088"/><rect x="458.9" y="24.3" width="1" height="1.3" fill="#78a888"/><rect x="415.6" y="58.7" width="1" height="1.3" fill="#b4c4a0"/><rect x="423.4" y="32.8" width="1" height="1.3" fill="#98a898"/><rect x="415" y="59.2" width="1" height="1.3" fill="#c4dccb"/><rect x="406.3" y="33.3" width="1" height="1.3" fill="#4e8a64"/><rect x="440.1" y="28.7" width="1" height="1.3" fill="#98a898"/><rect x="402.1" y="60.1" width="1" height="1.3" fill="#6a8068"/>
</g>
</svg>
<div class="c" style="left:1.4px;top:138.5px">ALL2, all solutions with<br>accuracy over cutoff value:0.8</div>
<div class="c" style="left:192.0px;top:138.5px;font-size:12.7px">ALL2, best 10 solutions</div>
<div class="c" style="left:363.8px;top:138.4px">CNS, all solutions with<br>accuracy over cutoff value:0.8</div>
<div class="c" style="left:547.2px;top:138.1px">CNS, best 10 solutions</div>
<div class="c" style="left:1.4px;top:322.7px">adenoma, all solutions with<br>accuracy over cutoff value:0.9</div>
<div class="c" style="left:192.2px;top:322.9px">adenoma, best 10 solutions</div>
<div class="c" style="left:363.6px;top:323.6px">DLBCL, all solutions with<br>accuracy over cutoff value:0.9</div>
<div class="c" style="left:542.9px;top:319.1px;font-size:12.65px">DLBCL, best 10 solutions</div>
</body></html>
